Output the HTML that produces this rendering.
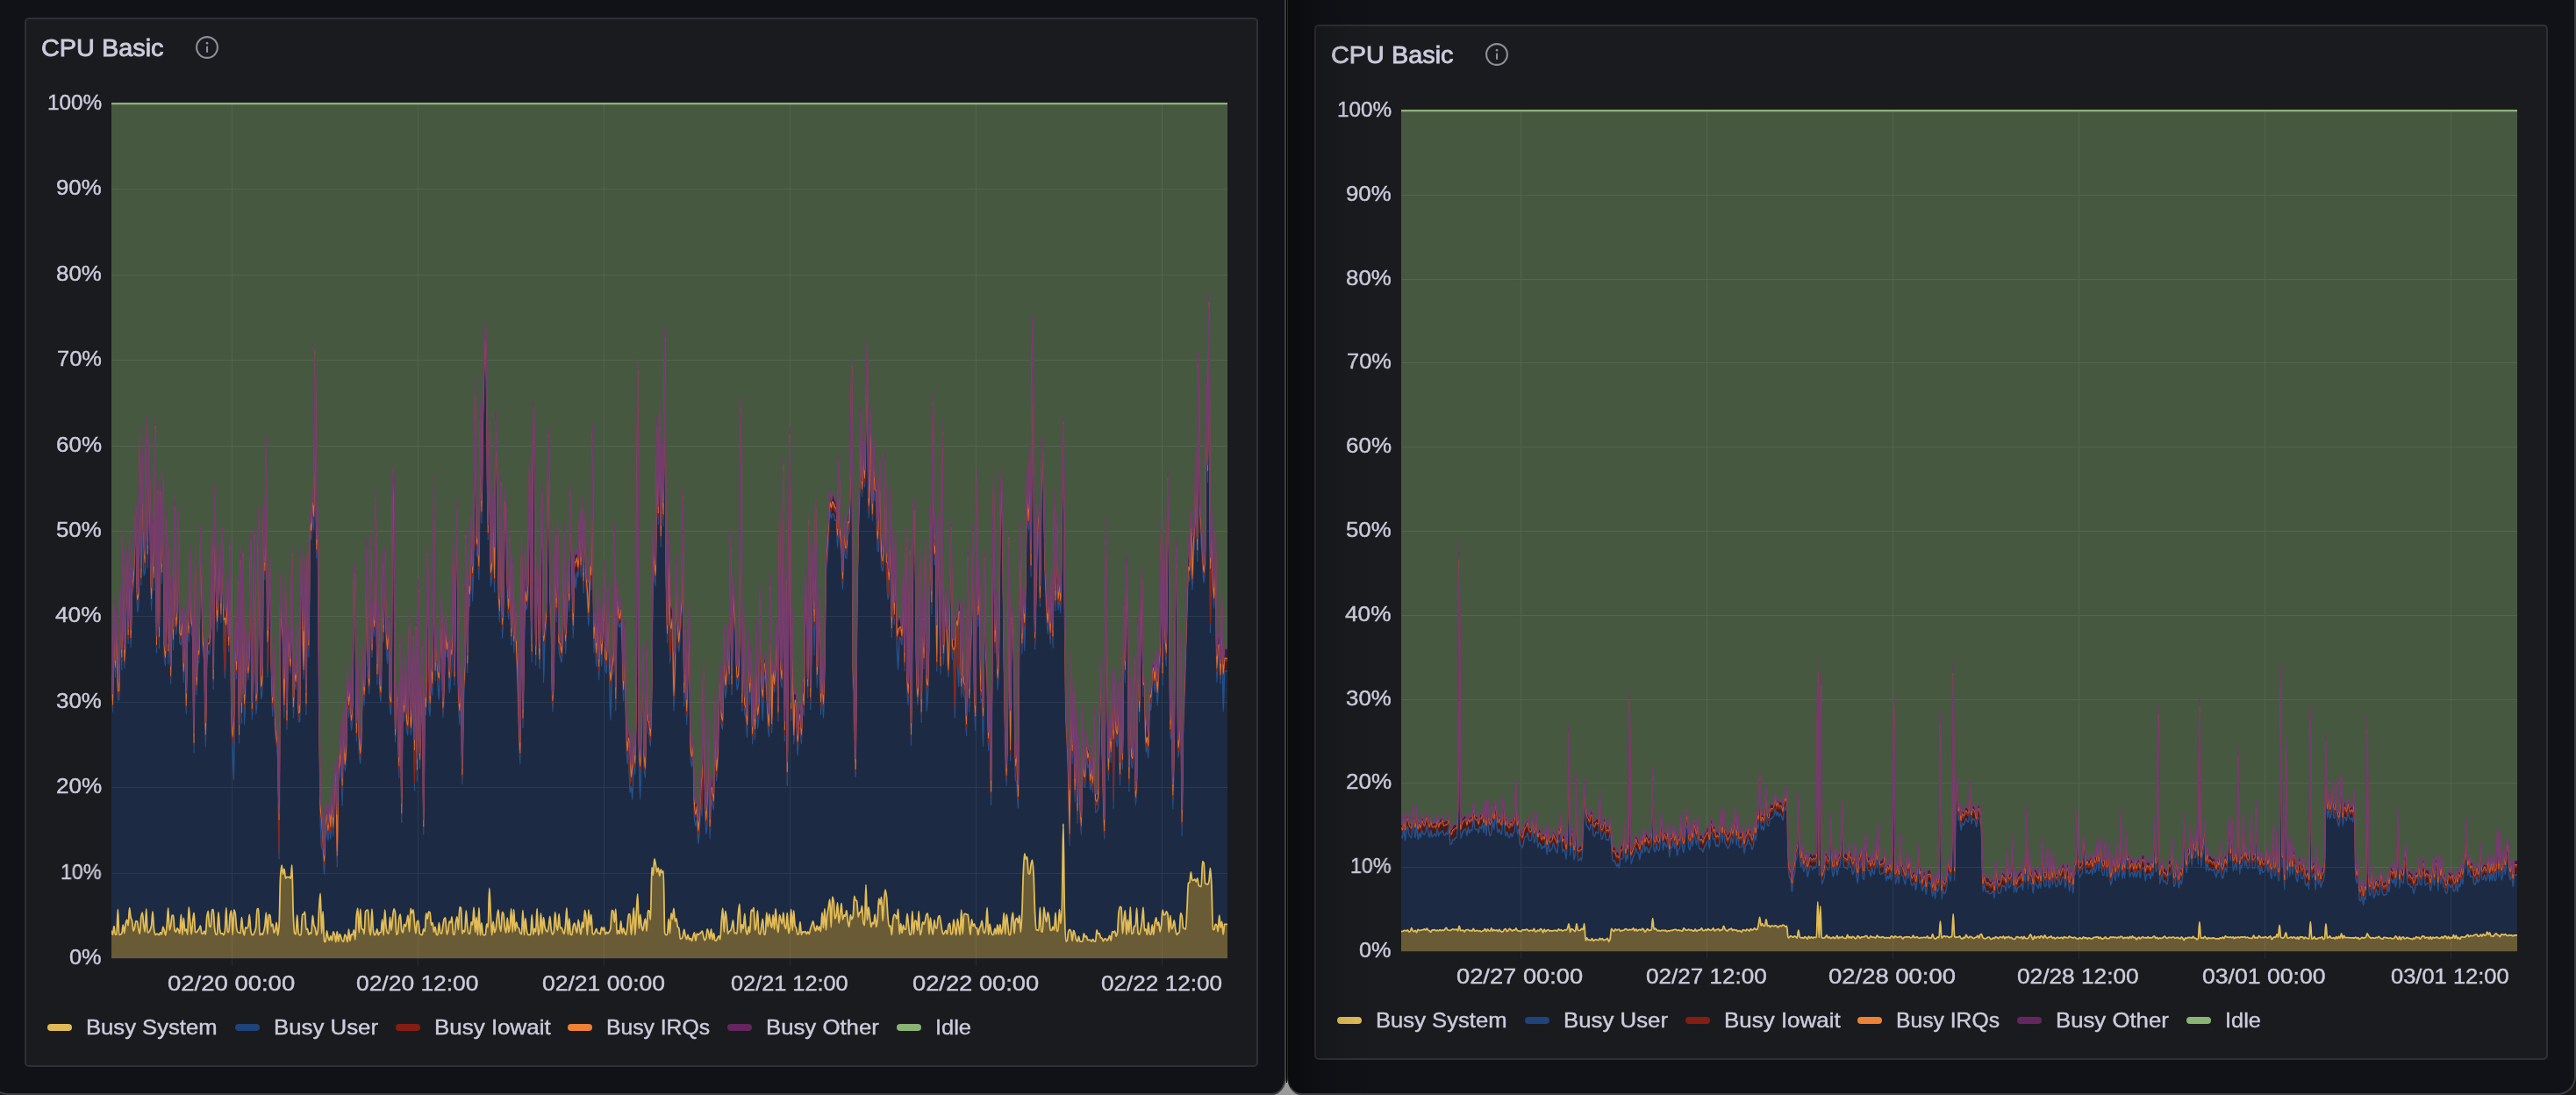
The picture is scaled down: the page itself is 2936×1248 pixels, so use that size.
<!DOCTYPE html>
<html><head><meta charset="utf-8"><title>CPU Basic</title>
<style>

html,body{margin:0;padding:0;background:#1b1a19;}
body{width:2936px;height:1248px;position:relative;overflow:hidden;font-family:"Liberation Sans",sans-serif;color:#ccccdc;}
.win{position:absolute;background:#111217;box-sizing:border-box;border:2px solid #3d3d42;}
#w1{left:-12px;top:-10px;width:1478px;height:1258px;border-radius:0 0 16px 21px / 0 0 21px 21px;}
#w2{left:1467px;top:-10px;width:1469px;height:1258px;border-radius:0 0 21px 16px / 0 0 21px 21px;border-left:1px solid #27282c;}
#gap{position:absolute;left:1440px;top:1200px;width:56px;height:48px;background:#9b9b9b;}
#blk{position:absolute;left:1466px;top:0;width:1px;height:1234px;background:#000;}
#shadow{position:absolute;left:1468px;top:0;width:90px;height:1246px;border-radius:0 0 0 16px / 0 0 0 21px;background:linear-gradient(90deg,rgba(0,0,0,0.36),rgba(0,0,0,0.24) 18%,rgba(0,0,0,0.10) 45%,rgba(0,0,0,0.03) 75%,rgba(0,0,0,0));pointer-events:none;}
.panel{position:absolute;box-sizing:border-box;background:#1a1b1f;border:2px solid #2e3036;border-radius:5px;}
.t{position:absolute;white-space:pre;will-change:transform;-webkit-text-stroke:0.4px #ccccdc;}
.title{font-weight:400;-webkit-text-stroke:0.85px #ccccdc;}
.ch{position:absolute;}
.pill{position:absolute;width:28px;height:8px;border-radius:4px;}
.info{position:absolute;width:26px;height:26px;}

</style></head><body>
<div id="gap"></div>
<div id="w1" class="win"></div><div id="w2" class="win"></div><div id="blk"></div>
<div class="panel" style="left:28px;top:20px;width:1406px;height:1196px"></div>
<div class="t title" style="left:46.6px;top:40.2px;font-size:28.4px;line-height:28.4px;transform:scaleX(1.0163);transform-origin:0 0;">CPU Basic</div>
<svg class="info" style="left:223px;top:41px" viewBox="0 0 26 26"><circle cx="13" cy="13" r="11.9" fill="none" stroke="#8e8e9b" stroke-width="2.1"/><rect x="12" y="11.6" width="2.1" height="7.4" rx="1" fill="#8e8e9b"/><circle cx="13.05" cy="8.2" r="1.35" fill="#8e8e9b"/></svg>
<svg class="ch" style="left:127px;top:118px" width="1272" height="974" viewBox="0 0 1272 974" overflow="visible">
<defs>
<clipPath id="cp0"><rect x="0" y="-1.3" width="1272" height="975.3"/></clipPath>
<path id="p0sys" d="M-6,980 L-6,943.0 L0,943.0c.49,1.5 .98,4.4 1.47,4.4c.49,0 .98,-9.8 1.47,-9.8c.49,0 .98,9.8 1.47,9.8c.49,0 .98,-.2 1.47,-.6c.49,-.4 .98,-28.4 1.47,-28.4c.49,0 .98,29.2 1.47,29.2c.49,0 .98,-.4 1.47,-.7c.49,-.3 .98,-.4 1.47,-.9c.49,-.6 .98,-9.8 1.47,-9.8c.49,0 .98,9.4 1.47,9.4c.49,0 .98,-8.6 1.47,-10.8c.49,-2.1 .98,-4.5 1.47,-4.5c.49,0 .98,6.7 1.47,6.7c.49,0 .98,-20.3 1.47,-20.3c.49,0 .98,9.1 1.47,11.0c.49,1.9 .98,1.9 1.47,3.8c.49,1.9 .98,11.7 1.47,11.7c.49,0 .98,-2.2 1.47,-4.0c.49,-1.7 .98,-7.6 1.47,-7.6c.49,0 .98,.3 1.47,.7c.49,.4 .98,6.9 1.47,9.0c.49,2.1 .98,4.8 1.47,4.8c.49,0 .98,-16.4 1.47,-19.0c.49,-2.6 .98,-4.9 1.47,-4.9c.49,0 .98,10.5 1.47,13.8c.49,3.4 .98,8.0 1.47,8.0c.49,0 .98,-26.2 1.47,-26.2c.49,0 .98,27.2 1.47,27.2c.49,0 .98,-.3 1.47,-.6c.49,-.3 .98,-1.5 1.47,-2.6c.49,-1.1 .98,-2.2 1.47,-4.5c.49,-2.4 .98,-16.4 1.47,-16.4c.49,0 .98,17.1 1.47,20.3c.49,3.2 .98,6.3 1.47,6.3c.49,0 .98,-1.2 1.47,-1.2c.49,0 .98,.1 1.47,.2c.49,.1 .98,1.2 1.47,1.2c.49,0 .98,-3.0 1.47,-3.0c.49,0 .98,2.2 1.47,2.2c.49,0 .98,-8.4 1.47,-8.4c.49,0 .98,2.6 1.47,4.2c.49,1.5 .98,5.2 1.47,5.2c.49,0 .98,-6.5 1.47,-11.3c.49,-4.8 .98,-19.6 1.47,-19.6c.49,0 .98,25.1 1.47,25.1c.49,0 .98,-2.8 1.47,-5.2c.49,-2.4 .98,-11.3 1.47,-11.5c.49,-.2 .98,-.3 1.47,-.3c.49,0 .98,16.2 1.47,17.3c.49,1.1 .98,1.9 1.47,1.9c.49,0 .98,-4.5 1.47,-4.5c.49,0 .98,1.4 1.47,2.4c.49,1.0 .98,3.8 1.47,3.8c.49,0 .98,-21.9 1.47,-21.9c.49,0 .98,23.4 1.47,23.4c.49,0 .98,-19.2 1.47,-19.2c.49,0 .98,14.8 1.47,14.8c.49,0 .98,-1.9 1.47,-1.9c.49,0 .98,5.8 1.47,5.8c.49,0 .98,-31.2 1.47,-31.2c.49,0 .98,11.2 1.47,16.4c.49,5.2 .98,14.7 1.47,14.7c.49,0 .98,-10.5 1.47,-14.4c.49,-3.9 .98,-10.0 1.47,-10.0c.49,0 .98,21.0 1.47,21.5c.49,.5 .98,.7 1.47,.7c.49,0 .98,-1.6 1.47,-2.3c.49,-.7 .98,-1.1 1.47,-1.9c.49,-.8 .98,-3.3 1.47,-3.3c.49,0 .98,8.8 1.47,8.9c.49,.1 .98,.2 1.47,.2c.49,0 .98,-3.2 1.47,-3.2c.49,0 .98,4.1 1.47,4.1c.49,0 .98,-16.6 1.47,-20.0c.49,-3.4 .98,-6.8 1.47,-6.8c.49,0 .98,16.5 1.47,17.2c.49,.7 .98,1.1 1.47,1.1c.49,0 .98,-19.8 1.47,-19.9c.49,-.0 .98,-.1 1.47,-.1c.49,0 .98,17.3 1.47,21.1c.49,3.7 .98,7.6 1.47,7.6c.49,0 .98,-.3 1.47,-1.0c.49,-.6 .98,-24.7 1.47,-24.7c.49,0 .98,16.5 1.47,19.3c.49,2.8 .98,5.3 1.47,5.3c.49,0 .98,-.6 1.47,-.6c.49,0 .98,2.0 1.47,2.0c.49,0 .98,-2.1 1.47,-4.9c.49,-2.7 .98,-26.4 1.47,-26.4c.49,0 .98,28.0 1.47,28.0c.49,0 .98,-.0 1.47,-.1c.49,-.1 .98,-16.8 1.47,-19.4c.49,-2.6 .98,-5.0 1.47,-5.0c.49,0 .98,27.6 1.47,27.6c.49,0 .98,-28.6 1.47,-28.6c.49,0 .98,2.0 1.47,4.2c.49,2.2 .98,13.8 1.47,16.3c.49,2.5 .98,4.6 1.47,5.0c.49,.4 .98,.4 1.47,.6c.49,.2 .98,.7 1.47,.7c.49,0 .98,-18.0 1.47,-18.0c.49,0 .98,12.2 1.47,14.8c.49,2.6 .98,5.3 1.47,5.3c.49,0 .98,-9.0 1.47,-9.0c.49,0 .98,1.3 1.47,1.3c.49,0 .98,-1.0 1.47,-2.4c.49,-1.4 .98,-13.4 1.47,-13.4c.49,0 .98,15.6 1.47,18.2c.49,2.6 .98,5.0 1.47,5.0c.49,0 .98,-.0 1.47,-.1c.49,-.1 .98,-2.0 1.47,-3.3c.49,-1.3 .98,-2.2 1.47,-4.8c.49,-2.6 .98,-21.4 1.47,-21.5c.49,-.1 .98,-.2 1.47,-.2c.49,0 .98,30.3 1.47,30.3c.49,0 .98,-2.1 1.47,-2.1c.49,0 .98,1.6 1.47,1.6c.49,0 .98,-2.1 1.47,-3.7c.49,-1.6 .98,-3.6 1.47,-6.6c.49,-3.1 .98,-14.9 1.47,-14.9c.49,0 .98,24.5 1.47,24.5c.49,0 .98,-22.4 1.47,-22.4c.49,0 .98,.4 1.47,1.1c.49,.7 .98,12.5 1.47,12.5c.49,0 .98,-2.8 1.47,-2.8c.49,0 .98,10.2 1.47,10.2c.49,0 .98,-1.5 1.47,-3.0c.49,-1.5 .98,-8.9 1.47,-8.9c.49,0 .98,14.6 1.47,14.6c.49,0 .98,-4.9 1.47,-11.1c.49,-6.2 .98,-47.5 1.47,-54.9c.49,-7.4 .98,-13.9 1.47,-13.9c.49,0 .98,10.3 1.47,10.3c.49,0 .98,-5.9 1.47,-5.9c.49,0 .98,10.5 1.47,10.5c.49,0 .98,-1.6 1.47,-1.6c.49,0 .98,.4 1.47,.4c.49,0 .98,-.3 1.47,-.3c.49,0 .98,1.7 1.47,1.7c.49,0 .98,-15.2 1.47,-15.2c.49,0 .98,46.9 1.47,57.0c.49,10.1 .98,20.0 1.47,20.7c.49,.7 .98,1.1 1.47,1.1c.49,0 .98,-21.8 1.47,-21.8c.49,0 .98,18.7 1.47,20.3c.49,1.6 .98,2.7 1.47,2.7c.49,0 .98,-.4 1.47,-1.1c.49,-.7 .98,-22.8 1.47,-22.8c.49,0 .98,.1 1.47,.1c.49,0 .98,-3.1 1.47,-3.1c.49,0 .98,20.4 1.47,20.4c.49,0 .98,-1.0 1.47,-1.0c.49,0 .98,6.9 1.47,6.9c.49,0 .98,-2.4 1.47,-2.4c.49,0 .98,1.1 1.47,1.1c.49,0 .98,-20.7 1.47,-20.7c.49,0 .98,9.3 1.47,11.0c.49,1.7 .98,1.7 1.47,3.3c.49,1.6 .98,8.1 1.47,8.1c.49,0 .98,-2.2 1.47,-5.0c.49,-2.8 .98,-18.8 1.47,-25.6c.49,-6.8 .98,-16.9 1.47,-16.9c.49,0 .98,45.5 1.47,45.5c.49,0 .98,-25.0 1.47,-25.0c.49,0 .98,33.6 1.47,34.0c.49,.4 .98,.7 1.47,.7c.49,0 .98,-12.5 1.47,-12.5c.49,0 .98,5.9 1.47,7.5c.49,1.6 .98,3.4 1.47,3.4c.49,0 .98,-5.3 1.47,-5.3c.49,0 .98,5.6 1.47,5.6c.49,0 .98,-10.3 1.47,-10.3c.49,0 .98,1.6 1.47,3.1c.49,1.5 .98,8.7 1.47,8.7c.49,0 .98,-12.0 1.47,-12.0c.49,0 .98,11.3 1.47,11.3c.49,0 .98,-8.3 1.47,-8.3c.49,0 .98,2.0 1.47,3.3c.49,1.2 .98,3.9 1.47,4.4c.49,.5 .98,.8 1.47,.8c.49,0 .98,-8.0 1.47,-8.0c.49,0 .98,1.1 1.47,2.2c.49,1.1 .98,6.2 1.47,6.2c.49,0 .98,-14.5 1.47,-14.5c.49,0 .98,13.2 1.47,13.2c.49,0 .98,-7.3 1.47,-7.3c.49,0 .98,.6 1.47,.6c.49,0 .98,-5.7 1.47,-5.7c.49,0 .98,11.2 1.47,11.2c.49,0 .98,-22.8 1.47,-27.2c.49,-4.4 .98,-8.7 1.47,-8.7c.49,0 .98,27.9 1.47,27.9c.49,0 .98,-26.9 1.47,-26.9c.49,0 .98,21.9 1.47,22.3c.49,.4 .98,.3 1.47,.7c.49,.4 .98,5.4 1.47,5.4c.49,0 .98,-24.5 1.47,-25.6c.49,-1.1 .98,-1.6 1.47,-1.7c.49,-.1 .98,-.2 1.47,-.2c.49,0 .98,19.3 1.47,22.6c.49,3.2 .98,6.2 1.47,6.2c.49,0 .98,-29.7 1.47,-29.7c.49,0 .98,21.2 1.47,24.2c.49,2.9 .98,5.4 1.47,5.4c.49,0 .98,-.9 1.47,-1.8c.49,-.9 .98,-5.1 1.47,-5.1c.49,0 .98,7.0 1.47,7.0c.49,0 .98,-2.9 1.47,-3.1c.49,-.2 .98,-.1 1.47,-.3c.49,-.2 .98,-14.7 1.47,-14.7c.49,0 .98,18.2 1.47,18.2c.49,0 .98,-29.1 1.47,-29.1c.49,0 .98,16.9 1.47,20.0c.49,3.1 .98,5.3 1.47,6.0c.49,.7 .98,1.3 1.47,1.3c.49,0 .98,-18.9 1.47,-18.9c.49,0 .98,15.0 1.47,15.0c.49,0 .98,-10.1 1.47,-14.1c.49,-4.0 .98,-10.4 1.47,-10.4c.49,0 .98,1.8 1.47,4.2c.49,2.4 .98,25.4 1.47,25.4c.49,0 .98,-.9 1.47,-2.1c.49,-1.3 .98,-14.6 1.47,-16.9c.49,-2.3 .98,-4.3 1.47,-4.3c.49,0 .98,16.2 1.47,17.9c.49,1.7 .98,3.1 1.47,3.1c.49,0 .98,-9.7 1.47,-9.7c.49,0 .98,2.5 1.47,2.5c.49,0 .98,-3.4 1.47,-5.4c.49,-2.1 .98,-7.3 1.47,-7.3c.49,0 .98,18.9 1.47,18.9c.49,0 .98,-26.7 1.47,-26.7c.49,0 .98,5.5 1.47,5.5c.49,0 .98,-4.1 1.47,-4.1c.49,0 .98,10.5 1.47,15.0c.49,4.5 .98,12.1 1.47,12.1c.49,0 .98,-12.7 1.47,-13.4c.49,-.7 .98,-1.1 1.47,-1.1c.49,0 .98,13.6 1.47,14.5c.49,.9 .98,1.4 1.47,1.5c.49,.1 .98,.1 1.47,.1c.49,0 .98,-6.5 1.47,-6.5c.49,0 .98,2.6 1.47,2.6c.49,0 .98,-20.6 1.47,-20.6c.49,0 .98,6.3 1.47,6.3c.49,0 .98,-8.2 1.47,-8.2c.49,0 .98,.4 1.47,.9c.49,.6 .98,14.3 1.47,14.3c.49,0 .98,-2.7 1.47,-2.7c.49,0 .98,10.6 1.47,10.6c.49,0 .98,-5.8 1.47,-5.8c.49,0 .98,8.2 1.47,8.6c.49,.5 .98,.7 1.47,.7c.49,0 .98,-14.1 1.47,-14.1c.49,0 .98,11.3 1.47,11.8c.49,.4 .98,.7 1.47,.7c.49,0 .98,-5.9 1.47,-8.7c.49,-2.8 .98,-7.3 1.47,-8.1c.49,-.8 .98,-1.4 1.47,-1.4c.49,0 .98,19.2 1.47,19.2c.49,0 .98,-1.7 1.47,-3.5c.49,-1.8 .98,-11.5 1.47,-11.5c.49,0 .98,1.6 1.47,1.6c.49,0 .98,-6.9 1.47,-6.9c.49,0 .98,20.2 1.47,20.3c.49,.1 .98,.2 1.47,.2c.49,0 .98,-11.5 1.47,-14.4c.49,-2.8 .98,-6.1 1.47,-6.1c.49,0 .98,14.8 1.47,14.8c.49,0 .98,-25.8 1.47,-25.8c.49,0 .98,.3 1.47,.8c.49,.5 .98,29.6 1.47,29.6c.49,0 .98,-3.9 1.47,-3.9c.49,0 .98,1.8 1.47,1.8c.49,0 .98,-24.3 1.47,-24.3c.49,0 .98,13.9 1.47,17.8c.49,3.9 .98,8.7 1.47,8.7c.49,0 .98,-.0 1.47,-.1c.49,-.1 .98,-13.3 1.47,-13.3c.49,0 .98,3.1 1.47,3.1c.49,0 .98,-19.9 1.47,-19.9c.49,0 .98,28.4 1.47,28.4c.49,0 .98,-17.0 1.47,-17.0c.49,0 .98,20.2 1.47,20.2c.49,0 .98,-31.1 1.47,-31.1c.49,0 .98,31.3 1.47,31.3c.49,0 .98,-14.1 1.47,-14.1c.49,0 .98,12.5 1.47,13.1c.49,.6 .98,1.0 1.47,1.0c.49,0 .98,-.2 1.47,-.7c.49,-.4 .98,-12.4 1.47,-12.4c.49,0 .98,4.0 1.47,4.0c.49,0 .98,-44.5 1.47,-44.5c.49,0 .98,19.2 1.47,28.1c.49,8.9 .98,25.4 1.47,25.4c.49,0 .98,-15.3 1.47,-15.3c.49,0 .98,12.3 1.47,12.3c.49,0 .98,-1.9 1.47,-3.9c.49,-2.0 .98,-10.7 1.47,-14.1c.49,-3.4 .98,-8.0 1.47,-8.0c.49,0 .98,15.9 1.47,18.9c.49,2.9 .98,5.8 1.47,5.8c.49,0 .98,-22.0 1.47,-22.0c.49,0 .98,.9 1.47,2.2c.49,1.3 .98,13.0 1.47,15.8c.49,2.8 .98,5.7 1.47,5.7c.49,0 .98,-17.0 1.47,-17.0c.49,0 .98,16.3 1.47,16.3c.49,0 .98,-3.8 1.47,-7.3c.49,-3.5 .98,-19.6 1.47,-19.6c.49,0 .98,27.0 1.47,27.0c.49,0 .98,-25.9 1.47,-25.9c.49,0 .98,24.3 1.47,24.3c.49,0 .98,-9.8 1.47,-9.8c.49,0 .98,5.2 1.47,5.8c.49,.6 .98,.4 1.47,1.0c.49,.6 .98,5.0 1.47,5.6c.49,.6 .98,1.1 1.47,1.1c.49,0 .98,-27.2 1.47,-27.2c.49,0 .98,28.2 1.47,28.2c.49,0 .98,-19.0 1.47,-19.0c.49,0 .98,10.8 1.47,13.4c.49,2.6 .98,5.4 1.47,5.4c.49,0 .98,-.4 1.47,-.4c.49,0 .98,.6 1.47,.6c.49,0 .98,-23.1 1.47,-23.1c.49,0 .98,22.6 1.47,22.6c.49,0 .98,-6.8 1.47,-6.8c.49,0 .98,3.7 1.47,3.7c.49,0 .98,-26.4 1.47,-26.4c.49,0 .98,30.1 1.47,30.1c.49,0 .98,-2.5 1.47,-5.2c.49,-2.8 .98,-19.7 1.47,-19.7c.49,0 .98,23.4 1.47,23.4c.49,0 .98,-18.7 1.47,-18.7c.49,0 .98,8.6 1.47,10.6c.49,2.0 .98,3.5 1.47,4.3c.49,.8 .98,1.5 1.47,1.5c.49,0 .98,-3.4 1.47,-6.1c.49,-2.7 .98,-11.6 1.47,-11.6c.49,0 .98,13.3 1.47,15.9c.49,2.6 .98,5.0 1.47,5.0c.49,0 .98,-1.1 1.47,-2.8c.49,-1.7 .98,-22.7 1.47,-22.7c.49,0 .98,12.4 1.47,15.1c.49,2.7 .98,5.6 1.47,5.6c.49,0 .98,-18.7 1.47,-18.7c.49,0 .98,16.1 1.47,16.1c.49,0 .98,-.7 1.47,-.7c.49,0 .98,3.3 1.47,4.5c.49,1.2 .98,2.8 1.47,2.8c.49,0 .98,-5.0 1.47,-9.3c.49,-4.2 .98,-20.1 1.47,-20.1c.49,0 .98,30.1 1.47,30.1c.49,0 .98,-18.3 1.47,-18.3c.49,0 .98,17.9 1.47,18.3c.49,.4 .98,.6 1.47,.6c.49,0 .98,-8.0 1.47,-9.8c.49,-1.8 .98,-3.7 1.47,-3.7c.49,0 .98,4.2 1.47,6.0c.49,1.8 .98,5.0 1.47,5.0c.49,0 .98,-14.9 1.47,-14.9c.49,0 .98,6.3 1.47,9.1c.49,2.8 .98,7.8 1.47,7.8c.49,0 .98,-14.0 1.47,-14.0c.49,0 .98,6.2 1.47,6.2c.49,0 .98,-20.0 1.47,-20.0c.49,0 .98,3.8 1.47,7.4c.49,3.7 .98,20.9 1.47,20.9c.49,0 .98,-28.8 1.47,-28.8c.49,0 .98,17.7 1.47,17.7c.49,0 .98,-12.1 1.47,-12.1c.49,0 .98,20.2 1.47,21.1c.49,.9 .98,1.4 1.47,1.4c.49,0 .98,-1.6 1.47,-2.7c.49,-1.0 .98,-3.8 1.47,-3.8c.49,0 .98,4.8 1.47,4.8c.49,.1 .98,0 1.47,.1c.49,.1 .98,1.4 1.47,1.4c.49,0 .98,-7.9 1.47,-7.9c.49,0 .98,3.4 1.47,3.4c.49,0 .98,-3.4 1.47,-3.4c.49,0 .98,7.9 1.47,7.9c.49,0 .98,-2.5 1.47,-2.5c.49,0 .98,1.6 1.47,1.6c.49,0 .98,-1.0 1.47,-1.9c.49,-.8 .98,-1.7 1.47,-3.9c.49,-2.2 .98,-20.7 1.47,-20.7c.49,0 .98,.5 1.47,1.2c.49,.7 .98,12.4 1.47,12.4c.49,0 .98,-14.8 1.47,-14.8c.49,0 .98,28.4 1.47,28.4c.49,0 .98,-4.1 1.47,-4.1c.49,0 .98,3.8 1.47,3.8c.49,0 .98,-14.7 1.47,-14.7c.49,0 .98,14.2 1.47,14.2c.49,0 .98,-5.9 1.47,-5.9c.49,0 .98,4.1 1.47,5.2c.49,1.1 .98,2.5 1.47,2.5c.49,0 .98,-5.8 1.47,-9.6c.49,-3.8 .98,-14.1 1.47,-14.1c.49,0 .98,0 1.47,.0c.49,0 .98,23.5 1.47,23.5c.49,0 .98,-8.4 1.47,-13.5c.49,-5.0 .98,-17.3 1.47,-17.3c.49,0 .98,31.0 1.47,31.0c.49,0 .98,-17.1 1.47,-24.9c.49,-7.7 .98,-21.8 1.47,-21.8c.49,0 .98,39.3 1.47,39.3c.49,0 .98,-15.9 1.47,-15.9c.49,0 .98,10.7 1.47,13.2c.49,2.5 .98,5.2 1.47,5.2c.49,0 .98,-5.9 1.47,-8.1c.49,-2.2 .98,-5.5 1.47,-5.5c.49,0 .98,14.3 1.47,14.3c.49,0 .98,-23.8 1.47,-23.8c.49,0 .98,.2 1.47,.6c.49,.4 .98,10.0 1.47,10.0c.49,0 .98,-59.6 1.47,-59.6c.49,0 .98,8.7 1.47,8.7c.49,0 .98,-18.4 1.47,-18.4c.49,0 .98,4.1 1.47,6.5c.49,2.5 .98,8.5 1.47,8.5c.49,0 .98,-4.7 1.47,-4.7c.49,0 .98,9.1 1.47,9.1c.49,0 .98,-7.5 1.47,-7.5c.49,0 .98,3.7 1.47,3.7c.49,0 .98,-1.6 1.47,-1.6c.49,0 .98,68.9 1.47,70.4c.49,1.5 .98,2.3 1.47,2.3c.49,0 .98,-.2 1.47,-.5c.49,-.3 .98,-17.8 1.47,-17.8c.49,0 .98,16.5 1.47,16.5c.49,0 .98,-22.8 1.47,-22.8c.49,0 .98,6.7 1.47,6.7c.49,0 .98,-12.3 1.47,-12.3c.49,0 .98,14.7 1.47,14.7c.49,0 .98,-3.3 1.47,-3.3c.49,0 .98,8.5 1.47,9.4c.49,.9 .98,.6 1.47,1.5c.49,.9 .98,12.3 1.47,12.3c.49,0 .98,-.1 1.47,-.3c.49,-.2 .98,-1.2 1.47,-2.5c.49,-1.3 .98,-7.8 1.47,-7.8c.49,0 .98,5.5 1.47,7.2c.49,1.7 .98,4.0 1.47,4.0c.49,0 .98,-5.3 1.47,-5.3c.49,0 .98,5.6 1.47,5.6c.49,0 .98,-1.6 1.47,-1.6c.49,0 .98,3.1 1.47,3.1c.49,0 .98,-3.7 1.47,-5.2c.49,-1.5 .98,-4.2 1.47,-4.2c.49,0 .98,9.3 1.47,9.3c.49,0 .98,-8.2 1.47,-8.2c.49,0 .98,1.3 1.47,1.3c.49,0 .98,-.9 1.47,-1.3c.49,-.4 .98,-.6 1.47,-1.1c.49,-.5 .98,-1.9 1.47,-1.9c.49,0 .98,4.0 1.47,5.8c.49,1.7 .98,4.8 1.47,4.8c.49,0 .98,-1.0 1.47,-2.2c.49,-1.2 .98,-10.7 1.47,-10.7c.49,0 .98,2.7 1.47,4.5c.49,1.8 .98,6.8 1.47,6.8c.49,0 .98,-11.2 1.47,-11.2c.49,0 .98,12.0 1.47,12.0c.49,0 .98,-7.3 1.47,-7.3c.49,0 .98,8.6 1.47,8.6c.49,0 .98,-.1 1.47,-.1c.49,-.1 .98,-2.6 1.47,-3.4c.49,-.9 .98,-2.1 1.47,-2.1c.49,0 .98,4.3 1.47,4.3c.49,0 .98,-16.0 1.47,-21.7c.49,-5.7 .98,-14.0 1.47,-14.0c.49,0 .98,27.1 1.47,27.1c.49,0 .98,-23.9 1.47,-23.9c.49,0 .98,5.2 1.47,9.2c.49,3.9 .98,16.7 1.47,16.7c.49,0 .98,-2.6 1.47,-2.9c.49,-.3 .98,-.2 1.47,-.6c.49,-.4 .98,-2.7 1.47,-4.5c.49,-1.9 .98,-7.3 1.47,-7.3c.49,0 .98,14.6 1.47,14.6c.49,0 .98,-.5 1.47,-.5c.49,0 .98,1.3 1.47,1.3c.49,0 .98,-17.9 1.47,-22.9c.49,-5.0 .98,-11.1 1.47,-11.1c.49,0 .98,32.6 1.47,32.6c.49,0 .98,-9.3 1.47,-9.3c.49,0 .98,4.6 1.47,4.6c.49,0 .98,-16.8 1.47,-16.8c.49,0 .98,16.9 1.47,19.3c.49,2.4 .98,4.3 1.47,4.3c.49,0 .98,-8.9 1.47,-8.9c.49,0 .98,7.0 1.47,7.0c.49,0 .98,-26.0 1.47,-26.0c.49,0 .98,1.5 1.47,1.5c.49,0 .98,-4.3 1.47,-4.3c.49,0 .98,25.8 1.47,25.8c.49,0 .98,-2.8 1.47,-5.6c.49,-2.8 .98,-16.7 1.47,-16.7c.49,0 .98,24.9 1.47,25.7c.49,.8 .98,1.3 1.47,1.3c.49,0 .98,-6.4 1.47,-9.3c.49,-2.9 .98,-8.1 1.47,-8.1c.49,0 .98,17.5 1.47,17.5c.49,.1 .98,.1 1.47,.1c.49,0 .98,-24.9 1.47,-24.9c.49,0 .98,16.0 1.47,16.0c.49,0 .98,-14.4 1.47,-14.4c.49,0 .98,7.9 1.47,10.2c.49,2.3 .98,5.2 1.47,5.2c.49,0 .98,-14.6 1.47,-14.6c.49,0 .98,16.5 1.47,16.5c.49,0 .98,-23.4 1.47,-23.4c.49,0 .98,14.6 1.47,18.5c.49,3.9 .98,8.7 1.47,8.7c.49,0 .98,-20.3 1.47,-20.3c.49,0 .98,3.6 1.47,5.3c.49,1.7 .98,4.9 1.47,4.9c.49,0 .98,-12.7 1.47,-12.7c.49,0 .98,14.1 1.47,15.7c.49,1.6 .98,2.7 1.47,2.7c.49,0 .98,-18.0 1.47,-18.0c.49,0 .98,23.4 1.47,23.4c.49,0 .98,-2.8 1.47,-5.9c.49,-3.1 .98,-21.6 1.47,-21.6c.49,0 .98,24.0 1.47,24.0c.49,0 .98,-22.5 1.47,-22.5c.49,0 .98,15.3 1.47,17.0c.49,1.7 .98,1.6 1.47,3.1c.49,1.4 .98,7.1 1.47,7.1c.49,0 .98,-.3 1.47,-.8c.49,-.5 .98,-13.7 1.47,-13.7c.49,0 .98,14.7 1.47,14.7c.49,0 .98,-3.4 1.47,-3.4c.49,0 .98,.5 1.47,.5c.49,0 .98,-.8 1.47,-.8c.49,0 .98,3.0 1.47,3.0c.49,0 .98,-2.6 1.47,-2.6c.49,0 .98,2.5 1.47,2.5c.49,0 .98,-4.3 1.47,-6.0c.49,-1.7 .98,-3.1 1.47,-4.5c.49,-1.4 .98,-4.0 1.47,-4.0c.49,0 .98,5.1 1.47,6.9c.49,1.7 .98,4.2 1.47,4.2c.49,0 .98,-5.9 1.47,-5.9c.49,0 .98,4.9 1.47,4.9c.49,0 .98,-4.1 1.47,-4.1c.49,0 .98,5.6 1.47,5.6c.49,0 .98,-21.4 1.47,-21.4c.49,0 .98,17.5 1.47,17.5c.49,0 .98,-22.0 1.47,-22.0c.49,0 .98,24.5 1.47,24.5c.49,0 .98,-13.6 1.47,-17.5c.49,-4.0 .98,-6.0 1.47,-9.0c.49,-2.9 .98,-8.6 1.47,-8.6c.49,0 .98,31.8 1.47,31.8c.49,0 .98,-34.7 1.47,-34.7c.49,0 .98,2.5 1.47,5.3c.49,2.8 .98,19.6 1.47,19.6c.49,0 .98,-1.8 1.47,-3.8c.49,-2.0 .98,-14.4 1.47,-14.4c.49,0 .98,23.2 1.47,23.2c.49,0 .98,-6.1 1.47,-9.8c.49,-3.7 .98,-13.0 1.47,-13.0c.49,0 .98,19.0 1.47,19.0c.49,0 .98,-5.3 1.47,-5.3c.49,0 .98,1.1 1.47,1.1c.49,0 .98,-6.5 1.47,-6.5c.49,0 .98,10.6 1.47,13.2c.49,2.6 .98,5.5 1.47,5.5c.49,0 .98,-13.7 1.47,-13.7c.49,0 .98,5.2 1.47,5.2c.49,0 .98,-1.4 1.47,-3.4c.49,-2.0 .98,-23.1 1.47,-23.1c.49,0 .98,4.8 1.47,5.0c.49,.2 .98,.1 1.47,.4c.49,.2 .98,18.4 1.47,18.4c.49,0 .98,-4.8 1.47,-5.0c.49,-.2 .98,-.1 1.47,-.3c.49,-.2 .98,-7.5 1.47,-7.5c.49,0 .98,18.2 1.47,19.8c.49,1.5 .98,2.6 1.47,2.6c.49,0 .98,-46.4 1.47,-46.4c.49,0 .98,40.5 1.47,40.5c.49,0 .98,-15.0 1.47,-15.0c.49,0 .98,7.1 1.47,10.9c.49,3.8 .98,11.9 1.47,11.9c.49,0 .98,-5.1 1.47,-5.1c.49,0 .98,1.5 1.47,1.5c.49,0 .98,-10.8 1.47,-10.8c.49,0 .98,14.5 1.47,14.5c.49,0 .98,-4.6 1.47,-8.9c.49,-4.3 .98,-23.6 1.47,-23.6c.49,0 .98,6.6 1.47,6.6c.49,0 .98,-8.3 1.47,-8.3c.49,0 .98,27.1 1.47,27.1c.49,0 .98,-16.5 1.47,-22.1c.49,-5.5 .98,-13.3 1.47,-13.3c.49,0 .98,3.8 1.47,7.6c.49,3.8 .98,17.4 1.47,22.5c.49,5.1 .98,11.7 1.47,11.7c.49,0 .98,-1.2 1.47,-1.2c.49,0 .98,10.9 1.47,10.9c.49,0 .98,-14.7 1.47,-17.7c.49,-2.9 .98,-5.9 1.47,-5.9c.49,0 .98,.7 1.47,1.4c.49,.7 .98,3.7 1.47,3.7c.49,0 .98,-11.0 1.47,-11.0c.49,0 .98,28.5 1.47,28.5c.49,0 .98,-12.0 1.47,-12.0c.49,0 .98,10.7 1.47,10.7c.49,0 .98,-9.1 1.47,-9.1c.49,0 .98,5.0 1.47,5.0c.49,0 .98,-.0 1.47,-.1c.49,-.1 .98,-17.9 1.47,-17.9c.49,0 .98,8.3 1.47,12.4c.49,4.0 .98,11.8 1.47,11.8c.49,0 .98,-.2 1.47,-.6c.49,-.4 .98,-26.4 1.47,-26.4c.49,0 .98,26.3 1.47,26.3c.49,0 .98,-15.6 1.47,-15.6c.49,0 .98,.3 1.47,.8c.49,.5 .98,10.4 1.47,10.4c.49,0 .98,-22.1 1.47,-22.1c.49,0 .98,27.4 1.47,27.4c.49,0 .98,-2.1 1.47,-4.1c.49,-2.0 .98,-10.8 1.47,-10.8c.49,0 .98,2.6 1.47,2.6c.49,0 .98,-2.7 1.47,-4.5c.49,-1.8 .98,-6.2 1.47,-6.8c.49,-.6 .98,-1.0 1.47,-1.0c.49,0 .98,23.8 1.47,23.8c.49,0 .98,-18.9 1.47,-18.9c.49,0 .98,10.3 1.47,13.1c.49,2.8 .98,6.1 1.47,6.1c.49,0 .98,-16.6 1.47,-16.6c.49,0 .98,8.4 1.47,8.8c.49,.5 .98,.8 1.47,.8c.49,0 .98,-11.5 1.47,-12.6c.49,-1.2 .98,-2.0 1.47,-2.0c.49,0 .98,4.6 1.47,7.3c.49,2.7 .98,7.3 1.47,9.4c.49,2.0 .98,4.5 1.47,4.5c.49,0 .98,-1.1 1.47,-1.8c.49,-.7 .98,-2.6 1.47,-2.6c.49,0 .98,4.3 1.47,4.3c.49,0 .98,-9.4 1.47,-10.4c.49,-1.1 .98,-1.9 1.47,-1.9c.49,0 .98,12.6 1.47,12.6c.49,0 .98,-.5 1.47,-1.4c.49,-.9 .98,-15.4 1.47,-15.4c.49,0 .98,5.8 1.47,8.7c.49,2.9 .98,8.8 1.47,8.8c.49,0 .98,-18.2 1.47,-18.2c.49,0 .98,5.7 1.47,8.7c.49,3.0 .98,9.5 1.47,9.5c.49,0 .98,-28.7 1.47,-28.7c.49,0 .98,27.6 1.47,27.6c.49,0 .98,-22.6 1.47,-22.8c.49,-.2 .98,-.3 1.47,-.3c.49,0 .98,.6 1.47,.7c.49,.1 .98,.1 1.47,.2c.49,.2 .98,7.7 1.47,11.5c.49,3.8 .98,11.5 1.47,11.5c.49,0 .98,-17.6 1.47,-17.6c.49,0 .98,7.9 1.47,7.9c.49,0 .98,-2.9 1.47,-2.9c.49,0 .98,4.6 1.47,4.7c.49,.1 .98,0 1.47,.1c.49,.1 .98,7.9 1.47,7.9c.49,0 .98,-6.1 1.47,-7.5c.49,-1.4 .98,-1.6 1.47,-2.9c.49,-1.3 .98,-5.7 1.47,-5.7c.49,0 .98,10.9 1.47,12.1c.49,1.2 .98,2.0 1.47,2.0c.49,0 .98,-3.2 1.47,-6.6c.49,-3.4 .98,-22.2 1.47,-22.2c.49,0 .98,30.5 1.47,30.5c.49,0 .98,-12.1 1.47,-12.1c.49,0 .98,6.5 1.47,8.3c.49,1.8 .98,4.1 1.47,4.1c.49,0 .98,-.2 1.47,-.4c.49,-.3 .98,-6.8 1.47,-6.8c.49,0 .98,6.4 1.47,6.4c.49,0 .98,-10.8 1.47,-10.8c.49,0 .98,11.0 1.47,11.0c.49,0 .98,-11.2 1.47,-11.2c.49,0 .98,11.0 1.47,11.0c.49,0 .98,-3.1 1.47,-6.2c.49,-3.1 .98,-18.0 1.47,-18.0c.49,0 .98,24.2 1.47,24.2c.49,0 .98,-22.6 1.47,-22.6c.49,0 .98,7.5 1.47,11.3c.49,3.9 .98,11.7 1.47,11.9c.49,.1 .98,.2 1.47,.2c.49,0 .98,-14.3 1.47,-17.8c.49,-3.6 .98,-7.6 1.47,-7.6c.49,0 .98,23.9 1.47,23.9c.49,0 .98,-13.8 1.47,-15.2c.49,-1.4 .98,-2.4 1.47,-2.4c.49,0 .98,5.5 1.47,5.5c.49,0 .98,-8.5 1.47,-8.5c.49,0 .98,19.0 1.47,19.0c.49,0 .98,-11.2 1.47,-20.7c.49,-9.5 .98,-35.7 1.47,-45.9c.49,-10.2 .98,-22.9 1.47,-22.9c.49,0 .98,6.3 1.47,6.3c.49,0 .98,-2.5 1.47,-2.5c.49,0 .98,18.2 1.47,18.7c.49,.5 .98,.8 1.47,.8c.49,0 .98,-8.7 1.47,-11.0c.49,-2.3 .98,-5.0 1.47,-5.0c.49,0 .98,8.1 1.47,15.8c.49,7.7 .98,33.5 1.47,42.9c.49,9.4 .98,20.8 1.47,20.9c.49,.1 .98,.1 1.47,.2c.49,.1 .98,.5 1.47,.5c.49,0 .98,-26.4 1.47,-26.4c.49,0 .98,27.7 1.47,27.9c.49,.2 .98,.2 1.47,.2c.49,0 .98,-28.4 1.47,-28.4c.49,0 .98,8.5 1.47,11.1c.49,2.5 .98,5.8 1.47,5.8c.49,0 .98,-10.7 1.47,-10.7c.49,0 .98,2.6 1.47,5.2c.49,2.6 .98,14.7 1.47,14.9c.49,.2 .98,.3 1.47,.3c.49,0 .98,-4.2 1.47,-4.2c.49,0 .98,3.9 1.47,3.9c.49,0 .98,-20.0 1.47,-20.0c.49,0 .98,21.2 1.47,21.2c.49,0 .98,0 1.47,.0c.49,0 .98,-24.6 1.47,-24.6c.49,0 .98,15.9 1.47,15.9c.49,0 .98,-8.2 1.47,-18.6c.49,-10.4 .98,-95.2 1.47,-95.2c.49,0 .98,82.7 1.47,99.8c.49,17.1 .98,34.6 1.47,34.6c.49,0 .98,-.4 1.47,-1.1c.49,-.6 .98,-9.0 1.47,-10.3c.49,-1.3 .98,-2.3 1.47,-2.3c.49,0 .98,.9 1.47,2.1c.49,1.1 .98,10.8 1.47,10.8c.49,0 .98,-11.9 1.47,-11.9c.49,0 .98,2.2 1.47,3.8c.49,1.6 .98,5.5 1.47,6.6c.49,1.1 .98,2.2 1.47,2.2c.49,0 .98,-6.0 1.47,-6.0c.49,0 .98,6.1 1.47,6.1c.49,0 .98,-.1 1.47,-.1c.49,-.0 .98,-.1 1.47,-.2c.49,-.1 .98,-9.1 1.47,-9.1c.49,0 .98,4.2 1.47,4.2c.49,0 .98,-1.1 1.47,-1.1c.49,0 .98,4.7 1.47,4.7c.49,0 .98,-.5 1.47,-.5c.49,0 .98,.1 1.47,.3c.49,.2 .98,1.7 1.47,1.7c.49,0 .98,-2.6 1.47,-2.6c.49,0 .98,2.3 1.47,2.4c.49,.1 .98,.1 1.47,.1c.49,0 .98,-13.0 1.47,-13.0c.49,0 .98,4.4 1.47,4.4c.49,0 .98,-.8 1.47,-.8c.49,0 .98,4.7 1.47,5.1c.49,.3 .98,.2 1.47,.6c.49,.3 .98,3.6 1.47,3.6c.49,0 .98,-2.7 1.47,-2.8c.49,-.1 .98,-.1 1.47,-.1c.49,0 .98,2.1 1.47,2.1c.49,0 .98,-1.5 1.47,-2.4c.49,-.9 .98,-3.4 1.47,-3.4c.49,0 .98,5.8 1.47,5.8c.49,0 .98,-10.4 1.47,-10.4c.49,0 .98,1.0 1.47,1.0c.49,0 .98,-1.5 1.47,-1.5c.49,0 .98,5.9 1.47,5.9c.49,0 .98,-1.7 1.47,-4.0c.49,-2.3 .98,-19.3 1.47,-22.8c.49,-3.5 .98,-6.8 1.47,-6.8c.49,0 .98,.4 1.47,1.1c.49,.7 .98,29.5 1.47,29.5c.49,0 .98,-11.2 1.47,-15.5c.49,-4.3 .98,-11.0 1.47,-11.0c.49,0 .98,27.7 1.47,27.7c.49,0 .98,-17.0 1.47,-17.0c.49,0 .98,14.4 1.47,14.4c.49,0 .98,-29.0 1.47,-29.0c.49,0 .98,30.8 1.47,30.8c.49,0 .98,-.3 1.47,-.8c.49,-.5 .98,-8.2 1.47,-8.2c.49,0 .98,.1 1.47,.1c.49,0 .98,-20.6 1.47,-20.6c.49,0 .98,27.7 1.47,28.7c.49,1.0 .98,1.5 1.47,1.5c.49,0 .98,-3.2 1.47,-5.6c.49,-2.4 .98,-5.8 1.47,-9.8c.49,-4.0 .98,-15.6 1.47,-15.6c.49,0 .98,26.6 1.47,26.6c.49,0 .98,-1.8 1.47,-1.8c.49,0 .98,6.4 1.47,6.4c.49,0 .98,-13.9 1.47,-13.9c.49,0 .98,12.7 1.47,13.1c.49,.4 .98,.6 1.47,.6c.49,0 .98,-11.4 1.47,-11.4c.49,0 .98,11.6 1.47,11.6c.49,0 .98,-10.4 1.47,-13.2c.49,-2.8 .98,-6.2 1.47,-6.2c.49,0 .98,8.6 1.47,8.6c.49,0 .98,-3.8 1.47,-3.8c.49,0 .98,11.2 1.47,11.2c.49,0 .98,-3.8 1.47,-7.3c.49,-3.4 .98,-17.6 1.47,-17.6c.49,0 .98,5.7 1.47,5.7c.49,0 .98,-.2 1.47,-.4c.49,-.2 .98,-3.5 1.47,-3.5c.49,0 .98,1.3 1.47,3.1c.49,1.8 .98,20.4 1.47,20.4c.49,0 .98,-19.1 1.47,-19.1c.49,0 .98,15.5 1.47,15.5c.49,0 .98,-1.3 1.47,-2.5c.49,-1.3 .98,-7.5 1.47,-7.5c.49,0 .98,8.2 1.47,10.7c.49,2.5 .98,5.9 1.47,5.9c.49,0 .98,-1.2 1.47,-1.7c.49,-.5 .98,-.4 1.47,-1.2c.49,-.7 .98,-21.9 1.47,-21.9c.49,0 .98,1.5 1.47,3.2c.49,1.7 .98,13.0 1.47,13.6c.49,.6 .98,.8 1.47,1.0c.49,.3 .98,.6 1.47,.6c.49,0 .98,-15.6 1.47,-24.2c.49,-8.7 .98,-27.4 1.47,-28.1c.49,-.7 .98,-.4 1.47,-1.1c.49,-.7 .98,-11.7 1.47,-11.7c.49,0 .98,9.6 1.47,9.6c.49,0 .98,-.1 1.47,-.3c.49,-.2 .98,-1.1 1.47,-1.1c.49,0 .98,2.9 1.47,2.9c.49,0 .98,-4.2 1.47,-4.2c.49,0 .98,7.0 1.47,7.9c.49,.9 .98,1.3 1.47,1.5c.49,.2 .98,.4 1.47,.4c.49,0 .98,-29.0 1.47,-29.0c.49,0 .98,.8 1.47,2.0c.49,1.2 .98,22.2 1.47,22.9c.49,.8 .98,1.0 1.47,1.2c.49,.2 .98,.4 1.47,.4c.49,0 .98,-1.6 1.47,-3.6c.49,-1.9 .98,-15.1 1.47,-15.1c.49,0 .98,10.2 1.47,19.6c.49,9.4 .98,50.2 1.47,50.3c.49,.1 .98,.2 1.47,.2c.49,0 .98,-6.0 1.47,-6.0c.49,0 .98,.3 1.47,.8c.49,.5 .98,7.5 1.47,7.5c.49,0 .98,-18.6 1.47,-18.6c.49,0 .98,14.0 1.47,14.0c.49,0 .98,-6.9 1.47,-6.9c.49,0 .98,14.7 1.47,14.7c.49,0 .98,-7.8 1.47,-11.7L1278,935.7 L1278,980 Z"/>
<path id="p0usr" d="M-6,980 L-6,608.3 L0,608.3c.49,28.5 .98,85.6 1.47,85.6c.49,0 .98,-107.9 1.47,-107.9c.49,0 .98,68.4 1.47,68.4c.49,0 .98,-57.9 1.47,-57.9c.49,0 .98,83.3 1.47,83.3c.49,0 .98,-.3 1.47,-.8c.49,-.6 .98,-106.5 1.47,-106.5c.49,0 .98,73.3 1.47,73.3c.49,0 .98,-135.8 1.47,-135.8c.49,0 .98,133.4 1.47,133.4c.49,0 .98,-16.0 1.47,-31.3c.49,-15.2 .98,-85.1 1.47,-85.1c.49,0 .98,89.0 1.47,89.0c.49,0 .98,-76.0 1.47,-76.0c.49,0 .98,80.3 1.47,80.3c.49,0 .98,-56.4 1.47,-60.9c.49,-4.6 .98,-3.5 1.47,-7.7c.49,-4.2 .98,-20.5 1.47,-33.8c.49,-13.3 .98,-48.4 1.47,-48.4c.49,0 .98,110.1 1.47,110.1c.49,0 .98,-2.7 1.47,-7.5c.49,-4.8 .98,-182.4 1.47,-182.4c.49,0 .98,159.8 1.47,159.8c.49,0 .98,-99.0 1.47,-99.0c.49,0 .98,87.2 1.47,87.2c.49,0 .98,-1.3 1.47,-3.6c.49,-2.4 .98,-161.0 1.47,-161.0c.49,0 .98,156.7 1.47,156.7c.49,0 .98,-128.5 1.47,-128.5c.49,0 .98,56.4 1.47,85.8c.49,29.4 .98,90.7 1.47,90.7c.49,0 .98,-83.4 1.47,-83.4c.49,0 .98,61.0 1.47,61.0c.49,0 .98,-178.2 1.47,-178.2c.49,0 .98,249.2 1.47,249.2c.49,0 .98,-173.7 1.47,-173.7c.49,0 .98,168.7 1.47,168.7c.49,0 .98,-153.6 1.47,-153.6c.49,0 .98,80.0 1.47,80.0c.49,0 .98,-108.1 1.47,-108.1c.49,0 .98,183.0 1.47,190.0c.49,7.0 .98,11.2 1.47,11.2c.49,0 .98,-157.0 1.47,-157.0c.49,0 .98,154.9 1.47,154.9c.49,0 .98,-121.5 1.47,-121.5c.49,0 .98,144.2 1.47,144.2c.49,0 .98,-96.1 1.47,-96.1c.49,0 .98,58.0 1.47,58.0c.49,0 .98,-152.3 1.47,-152.3c.49,0 .98,134.2 1.47,134.2c.49,0 .98,-7.8 1.47,-18.0c.49,-10.1 .98,-97.7 1.47,-97.7c.49,0 .98,123.7 1.47,125.2c.49,1.5 .98,2.3 1.47,2.3c.49,0 .98,-18.0 1.47,-18.0c.49,0 .98,61.0 1.47,61.0c.49,0 .98,-64.2 1.47,-64.2c.49,0 .98,100.0 1.47,100.0c.49,0 .98,-112.7 1.47,-112.7c.49,0 .98,30.5 1.47,30.5c.49,0 .98,-85.8 1.47,-85.8c.49,0 .98,72.0 1.47,75.6c.49,3.5 .98,2.0 1.47,5.7c.49,3.6 .98,131.3 1.47,131.3c.49,0 .98,-213.6 1.47,-213.6c.49,0 .98,147.4 1.47,147.4c.49,0 .98,-38.8 1.47,-38.8c.49,0 .98,2.2 1.47,2.2c.49,0 .98,-131.7 1.47,-131.7c.49,0 .98,34.5 1.47,54.1c.49,19.6 .98,57.7 1.47,64.3c.49,6.6 .98,4.8 1.47,11.7c.49,7.0 .98,97.0 1.47,97.0c.49,0 .98,-85.0 1.47,-93.8c.49,-8.9 .98,-15.5 1.47,-15.5c.49,0 .98,4.1 1.47,4.1c.49,0 .98,-17.2 1.47,-33.2c.49,-16.0 .98,-87.2 1.47,-87.2c.49,0 .98,160.4 1.47,160.4c.49,0 .98,-150.3 1.47,-150.3c.49,0 .98,19.0 1.47,32.3c.49,13.3 .98,52.1 1.47,52.1c.49,0 .98,-27.4 1.47,-41.0c.49,-13.6 .98,-40.8 1.47,-40.8c.49,0 .98,71.9 1.47,71.9c.49,0 .98,-91.4 1.47,-91.4c.49,0 .98,80.7 1.47,103.5c.49,22.8 .98,51.1 1.47,51.1c.49,0 .98,-34.7 1.47,-51.7c.49,-17.0 .98,-50.3 1.47,-50.3c.49,0 .98,72.0 1.47,72.0c.49,0 .98,-108.1 1.47,-108.1c.49,0 .98,156.4 1.47,179.0c.49,22.6 .98,29.5 1.47,41.8c.49,12.3 .98,32.9 1.47,32.9c.49,0 .98,-158.5 1.47,-158.5c.49,0 .98,44.0 1.47,44.0c.49,0 .98,-101.5 1.47,-101.5c.49,0 .98,174.4 1.47,174.4c.49,0 .98,-199.8 1.47,-199.8c.49,0 .98,177.6 1.47,177.6c.49,0 .98,-180.3 1.47,-180.3c.49,0 .98,181.3 1.47,181.3c.49,0 .98,-26.1 1.47,-40.7c.49,-14.6 .98,-47.3 1.47,-47.3c.49,0 .98,37.1 1.47,37.1c.49,0 .98,-16.9 1.47,-29.3c.49,-12.4 .98,-50.5 1.47,-50.5c.49,0 .98,125.2 1.47,125.2c.49,0 .98,-19.1 1.47,-40.7c.49,-21.7 .98,-160.3 1.47,-160.3c.49,0 .98,194.6 1.47,194.6c.49,0 .98,-7.4 1.47,-18.9c.49,-11.5 .98,-197.2 1.47,-197.2c.49,0 .98,86.6 1.47,118.6c.49,32.0 .98,80.5 1.47,80.5c.49,0 .98,-5.1 1.47,-13.7c.49,-8.5 .98,-195.8 1.47,-195.8c.49,0 .98,73.2 1.47,73.2c.49,0 .98,-134.7 1.47,-134.7c.49,0 .98,246.2 1.47,246.2c.49,0 .98,-44.9 1.47,-64.1c.49,-19.2 .98,-52.3 1.47,-52.3c.49,0 .98,84.6 1.47,108.1c.49,23.5 .98,52.3 1.47,52.3c.49,0 .98,-68.5 1.47,-68.5c.49,0 .98,80.3 1.47,87.5c.49,7.2 .98,7.6 1.47,12.3c.49,4.6 .98,6.7 1.47,16.1c.49,9.4 .98,115.6 1.47,115.6c.49,0 .98,-298.3 1.47,-298.3c.49,0 .98,30.6 1.47,40.1c.49,9.5 .98,10.6 1.47,22.0c.49,11.3 .98,75.3 1.47,75.3c.49,0 .98,-145.4 1.47,-145.4c.49,0 .98,158.6 1.47,158.6c.49,0 .98,-102.4 1.47,-102.4c.49,0 .98,16.3 1.47,22.6c.49,6.3 .98,16.1 1.47,16.1c.49,0 .98,-127.8 1.47,-127.8c.49,0 .98,178.4 1.47,178.4c.49,0 .98,-45.8 1.47,-45.8c.49,0 .98,13.4 1.47,13.4c.49,0 .98,-55.2 1.47,-55.2c.49,0 .98,92.1 1.47,92.1c.49,0 .98,-.4 1.47,-1.3c.49,-.9 .98,-178.7 1.47,-178.7c.49,0 .98,29.5 1.47,50.2c.49,20.6 .98,80.9 1.47,80.9c.49,0 .98,-120.6 1.47,-120.6c.49,0 .98,161.7 1.47,161.7c.49,0 .98,-180.0 1.47,-180.0c.49,0 .98,114.0 1.47,114.0c.49,0 .98,-143.6 1.47,-143.6c.49,0 .98,9.5 1.47,9.5c.49,0 .98,-34.8 1.47,-34.8c.49,0 .98,23.7 1.47,23.7c.49,0 .98,-132.3 1.47,-132.3c.49,0 .98,164.8 1.47,164.8c.49,0 .98,-41.2 1.47,-41.2c.49,0 .98,155.9 1.47,208.8c.49,52.9 .98,110.5 1.47,128.2c.49,17.7 .98,31.3 1.47,33.5c.49,2.2 .98,1.5 1.47,3.7c.49,2.2 .98,27.0 1.47,27.0c.49,0 .98,-36.6 1.47,-42.6c.49,-5.9 .98,-11.2 1.47,-11.2c.49,0 .98,15.2 1.47,15.2c.49,0 .98,-24.1 1.47,-24.1c.49,0 .98,22.9 1.47,22.9c.49,0 .98,-38.4 1.47,-38.4c.49,0 .98,35.2 1.47,35.2c.49,0 .98,-41.2 1.47,-49.3c.49,-8.1 .98,-16.2 1.47,-16.2c.49,0 .98,100.7 1.47,100.7c.49,0 .98,-93.6 1.47,-97.8c.49,-4.2 .98,-3.0 1.47,-6.7c.49,-3.7 .98,-33.4 1.47,-33.4c.49,0 .98,67.4 1.47,67.4c.49,0 .98,-97.7 1.47,-97.7c.49,0 .98,58.4 1.47,58.4c.49,0 .98,-6.8 1.47,-15.7c.49,-8.9 .98,-88.2 1.47,-88.2c.49,0 .98,43.0 1.47,43.0c.49,0 .98,-23.3 1.47,-23.3c.49,0 .98,37.5 1.47,37.5c.49,0 .98,-6.9 1.47,-17.1c.49,-10.2 .98,-145.2 1.47,-145.2c.49,0 .98,8.1 1.47,19.8c.49,11.7 .98,155.3 1.47,155.3c.49,0 .98,-79.4 1.47,-79.4c.49,0 .98,78.1 1.47,87.6c.49,9.5 .98,17.0 1.47,17.0c.49,0 .98,-16.8 1.47,-32.3c.49,-15.4 .98,-82.3 1.47,-82.3c.49,0 .98,48.8 1.47,48.8c.49,0 .98,-29.2 1.47,-53.4c.49,-24.3 .98,-114.1 1.47,-114.1c.49,0 .98,125.0 1.47,135.8c.49,10.8 .98,18.4 1.47,18.4c.49,0 .98,-159.2 1.47,-159.2c.49,0 .98,117.5 1.47,117.5c.49,0 .98,-51.2 1.47,-51.2c.49,0 .98,27.2 1.47,27.2c.49,0 .98,-146.4 1.47,-146.4c.49,0 .98,201.4 1.47,201.4c.49,0 .98,-68.7 1.47,-68.7c.49,0 .98,66.8 1.47,74.5c.49,7.7 .98,13.6 1.47,13.6c.49,0 .98,-87.4 1.47,-87.4c.49,0 .98,19.7 1.47,19.7c.49,0 .98,-92.0 1.47,-92.0c.49,0 .98,74.9 1.47,88.9c.49,14.0 .98,27.4 1.47,27.4c.49,0 .98,-30.1 1.47,-30.1c.49,0 .98,77.1 1.47,81.4c.49,4.3 .98,6.9 1.47,6.9c.49,0 .98,-255.8 1.47,-255.8c.49,0 .98,13.7 1.47,33.3c.49,19.6 .98,253.9 1.47,253.9c.49,0 .98,-41.5 1.47,-41.5c.49,0 .98,9.1 1.47,18.7c.49,9.6 .98,63.3 1.47,63.3c.49,0 .98,-140.7 1.47,-140.7c.49,0 .98,191.9 1.47,191.9c.49,0 .98,-155.2 1.47,-155.2c.49,0 .98,39.6 1.47,39.6c.49,0 .98,-56.0 1.47,-56.0c.49,0 .98,63.2 1.47,66.5c.49,3.2 .98,5.2 1.47,5.2c.49,0 .98,-118.4 1.47,-118.4c.49,0 .98,118.8 1.47,118.8c.49,0 .98,-5.7 1.47,-13.6c.49,-7.8 .98,-87.6 1.47,-87.6c.49,0 .98,164.5 1.47,164.5c.49,0 .98,-177.4 1.47,-177.4c.49,0 .98,166.7 1.47,166.7c.49,0 .98,-203.4 1.47,-203.4c.49,0 .98,188.4 1.47,188.4c.49,0 .98,-25.4 1.47,-44.7c.49,-19.3 .98,-82.2 1.47,-82.2c.49,0 .98,202.6 1.47,202.6c.49,0 .98,-145.3 1.47,-145.3c.49,0 .98,8.8 1.47,8.8c.49,0 .98,-173.7 1.47,-173.7c.49,0 .98,143.7 1.47,155.3c.49,11.6 .98,19.6 1.47,19.6c.49,0 .98,-44.8 1.47,-44.8c.49,0 .98,21.1 1.47,21.1c.49,0 .98,-205.4 1.47,-205.4c.49,0 .98,189.1 1.47,189.1c.49,0 .98,-38.0 1.47,-38.0c.49,0 .98,27.5 1.47,36.9c.49,9.4 .98,22.7 1.47,22.7c.49,0 .98,-30.9 1.47,-47.4c.49,-16.5 .98,-52.0 1.47,-52.0c.49,0 .98,119.3 1.47,119.3c.49,0 .98,-15.7 1.47,-30.1c.49,-14.4 .98,-76.3 1.47,-76.3c.49,0 .98,37.6 1.47,37.6c.49,0 .98,-5.4 1.47,-5.4c.49,0 .98,46.4 1.47,46.4c.49,0 .98,-12.4 1.47,-17.1c.49,-4.7 .98,-4.8 1.47,-12.1c.49,-7.3 .98,-117.6 1.47,-117.6c.49,0 .98,138.2 1.47,138.2c.49,0 .98,-91.4 1.47,-119.9c.49,-28.5 .98,-66.3 1.47,-66.3c.49,0 .98,175.0 1.47,195.2c.49,20.2 .98,35.8 1.47,35.8c.49,0 .98,-52.7 1.47,-52.7c.49,0 .98,120.6 1.47,120.6c.49,0 .98,-75.4 1.47,-91.8c.49,-16.4 .98,-15.4 1.47,-33.6c.49,-18.3 .98,-147.2 1.47,-147.2c.49,0 .98,145.7 1.47,145.7c.49,0 .98,-85.1 1.47,-85.1c.49,0 .98,9.6 1.47,9.6c.49,0 .98,-86.8 1.47,-86.8c.49,0 .98,80.2 1.47,80.2c.49,0 .98,-35.9 1.47,-67.8c.49,-31.9 .98,-162.3 1.47,-162.3c.49,0 .98,178.8 1.47,178.8c.49,0 .98,-5.0 1.47,-5.0c.49,0 .98,32.4 1.47,32.4c.49,0 .98,-175.8 1.47,-175.8c.49,0 .98,111.3 1.47,111.3c.49,0 .98,-84.5 1.47,-110.8c.49,-26.3 .98,-45.2 1.47,-61.3c.49,-16.1 .98,-39.9 1.47,-39.9c.49,0 .98,47.5 1.47,82.9c.49,35.4 .98,148.0 1.47,148.0c.49,0 .98,-119.5 1.47,-119.5c.49,0 .98,172.4 1.47,172.4c.49,0 .98,-5.6 1.47,-13.1c.49,-7.5 .98,-78.8 1.47,-78.8c.49,0 .98,98.9 1.47,98.9c.49,0 .98,-144.3 1.47,-144.3c.49,0 .98,8.5 1.47,20.0c.49,11.5 .98,103.8 1.47,122.2c.49,18.5 .98,35.8 1.47,35.8c.49,0 .98,-149.7 1.47,-149.7c.49,0 .98,168.3 1.47,168.3c.49,0 .98,-16.0 1.47,-33.1c.49,-17.1 .98,-115.2 1.47,-115.2c.49,0 .98,21.9 1.47,37.1c.49,15.2 .98,46.3 1.47,59.5c.49,13.2 .98,29.7 1.47,29.7c.49,0 .98,-79.2 1.47,-79.2c.49,0 .98,109.0 1.47,109.0c.49,0 .98,-77.9 1.47,-77.9c.49,0 .98,86.8 1.47,86.8c.49,0 .98,-43.7 1.47,-43.7c.49,0 .98,33.3 1.47,46.4c.49,13.1 .98,20.2 1.47,34.2c.49,14.0 .98,40.4 1.47,54.7c.49,14.2 .98,35.0 1.47,35.0c.49,0 .98,-245.6 1.47,-245.6c.49,0 .98,204.4 1.47,204.4c.49,0 .98,-70.5 1.47,-92.1c.49,-21.6 .98,-50.1 1.47,-50.1c.49,0 .98,7.0 1.47,7.0c.49,0 .98,-7.6 1.47,-18.3c.49,-10.8 .98,-134.5 1.47,-134.5c.49,0 .98,93.7 1.47,127.9c.49,34.1 .98,85.5 1.47,85.5c.49,0 .98,-274.1 1.47,-274.1c.49,0 .98,14.4 1.47,34.7c.49,20.2 .98,242.9 1.47,242.9c.49,0 .98,-97.2 1.47,-97.2c.49,0 .98,29.3 1.47,46.0c.49,16.7 .98,55.0 1.47,55.0c.49,0 .98,-95.7 1.47,-123.7c.49,-27.9 .98,-63.4 1.47,-63.4c.49,0 .98,202.6 1.47,202.6c.49,0 .98,-39.4 1.47,-47.8c.49,-8.5 .98,-7.3 1.47,-17.3c.49,-10.0 .98,-80.6 1.47,-114.5c.49,-34.0 .98,-91.8 1.47,-91.8c.49,0 .98,164.3 1.47,182.3c.49,18.0 .98,16.0 1.47,31.6c.49,15.6 .98,90.6 1.47,90.6c.49,0 .98,-16.3 1.47,-35.6c.49,-19.3 .98,-154.9 1.47,-154.9c.49,0 .98,88.2 1.47,88.2c.49,0 .98,-98.6 1.47,-98.6c.49,0 .98,126.7 1.47,131.5c.49,4.7 .98,5.3 1.47,7.5c.49,2.1 .98,5.6 1.47,5.6c.49,0 .98,-9.9 1.47,-22.3c.49,-12.4 .98,-110.0 1.47,-110.0c.49,0 .98,122.4 1.47,122.4c.49,0 .98,-23.3 1.47,-36.6c.49,-13.3 .98,-43.7 1.47,-43.7c.49,0 .98,32.1 1.47,32.1c.49,0 .98,-121.7 1.47,-121.7c.49,0 .98,50.8 1.47,76.2c.49,25.4 .98,76.0 1.47,76.0c.49,0 .98,-75.8 1.47,-75.8c.49,0 .98,19.1 1.47,19.1c.49,0 .98,-18.5 1.47,-18.5c.49,0 .98,5.5 1.47,5.5c.49,0 .98,-55.8 1.47,-55.8c.49,0 .98,55.4 1.47,55.4c.49,0 .98,-70.7 1.47,-70.7c.49,0 .98,89.8 1.47,89.8c.49,0 .98,-74.7 1.47,-74.7c.49,0 .98,55.7 1.47,65.1c.49,9.3 .98,10.5 1.47,17.9c.49,7.3 .98,28.7 1.47,28.7c.49,0 .98,-58.1 1.47,-58.1c.49,0 .98,17.4 1.47,17.4c.49,0 .98,-164.8 1.47,-164.8c.49,0 .98,236.1 1.47,236.1c.49,0 .98,-26.6 1.47,-26.6c.49,0 .98,42.5 1.47,42.5c.49,0 .98,-41.7 1.47,-41.7c.49,0 .98,57.2 1.47,57.2c.49,0 .98,-64.2 1.47,-64.2c.49,0 .98,48.3 1.47,48.3c.49,0 .98,-30.2 1.47,-35.2c.49,-4.9 .98,-9.3 1.47,-9.3c.49,0 .98,46.2 1.47,48.6c.49,2.4 .98,3.9 1.47,3.9c.49,0 .98,-85.6 1.47,-85.6c.49,0 .98,55.4 1.47,78.2c.49,22.8 .98,60.8 1.47,60.8c.49,0 .98,-48.8 1.47,-51.0c.49,-2.2 .98,-1.2 1.47,-3.5c.49,-2.3 .98,-147.5 1.47,-147.5c.49,0 .98,191.5 1.47,191.5c.49,0 .98,-136.3 1.47,-136.3c.49,0 .98,33.4 1.47,36.1c.49,2.7 .98,4.6 1.47,4.6c.49,0 .98,-5.3 1.47,-5.3c.49,0 .98,15.3 1.47,28.2c.49,12.9 .98,61.6 1.47,61.6c.49,0 .98,-66.2 1.47,-66.2c.49,0 .98,74.3 1.47,94.2c.49,19.9 .98,43.8 1.47,43.8c.49,0 .98,-20.3 1.47,-20.3c.49,0 .98,52.4 1.47,52.4c.49,0 .98,-6.5 1.47,-6.5c.49,0 .98,14.8 1.47,14.8c.49,0 .98,-56.9 1.47,-56.9c.49,0 .98,28.3 1.47,28.3c.49,0 .98,-43.2 1.47,-92.0c.49,-48.8 .98,-358.2 1.47,-358.2c.49,0 .98,396.6 1.47,427.1c.49,30.5 .98,51.3 1.47,51.3c.49,0 .98,-43.8 1.47,-69.9c.49,-26.1 .98,-88.8 1.47,-88.8c.49,0 .98,112.9 1.47,120.9c.49,8.0 .98,13.4 1.47,13.4c.49,0 .98,-132.2 1.47,-132.2c.49,0 .98,76.4 1.47,79.2c.49,2.8 .98,2.3 1.47,4.5c.49,2.2 .98,12.5 1.47,12.5c.49,0 .98,-35.5 1.47,-67.4c.49,-31.9 .98,-164.4 1.47,-164.4c.49,0 .98,35.3 1.47,40.2c.49,4.9 .98,9.1 1.47,9.1c.49,0 .98,-168.0 1.47,-168.0c.49,0 .98,98.0 1.47,98.0c.49,0 .98,-113.5 1.47,-113.5c.49,0 .98,138.8 1.47,138.8c.49,0 .98,-96.3 1.47,-96.3c.49,0 .98,72.6 1.47,72.6c.49,0 .98,-198.5 1.47,-198.5c.49,0 .98,204.3 1.47,246.4c.49,42.2 .98,85.2 1.47,85.2c.49,0 .98,-103.9 1.47,-103.9c.49,0 .98,127.4 1.47,127.4c.49,0 .98,-23.2 1.47,-28.5c.49,-5.3 .98,-11.0 1.47,-11.0c.49,0 .98,93.6 1.47,93.6c.49,0 .98,-21.6 1.47,-42.1c.49,-20.5 .98,-113.3 1.47,-113.3c.49,0 .98,57.2 1.47,67.6c.49,10.4 .98,20.4 1.47,20.4c.49,0 .98,-16.5 1.47,-23.5c.49,-7.0 .98,-8.0 1.47,-18.9c.49,-10.9 .98,-121.3 1.47,-121.3c.49,0 .98,226.3 1.47,226.3c.49,0 .98,-78.6 1.47,-78.6c.49,0 .98,99.2 1.47,99.2c.49,0 .98,-44.1 1.47,-59.0c.49,-14.9 .98,-35.9 1.47,-35.9c.49,0 .98,122.6 1.47,130.3c.49,7.7 .98,12.7 1.47,12.7c.49,0 .98,-12.7 1.47,-12.7c.49,0 .98,64.2 1.47,70.0c.49,5.7 .98,9.8 1.47,9.8c.49,0 .98,-7.1 1.47,-7.1c.49,0 .98,27.4 1.47,27.4c.49,0 .98,-9.9 1.47,-17.3c.49,-7.4 .98,-31.0 1.47,-31.0c.49,0 .98,16.7 1.47,16.7c.49,0 .98,-160.2 1.47,-160.2c.49,0 .98,102.3 1.47,127.4c.49,25.2 .98,53.6 1.47,53.6c.49,0 .98,-6.3 1.47,-14.7c.49,-8.4 .98,-86.5 1.47,-86.5c.49,0 .98,106.4 1.47,106.4c.49,0 .98,-45.3 1.47,-45.3c.49,0 .98,3.6 1.47,5.6c.49,2.0 .98,6.6 1.47,6.6c.49,0 .98,-109.6 1.47,-109.6c.49,0 .98,77.0 1.47,77.0c.49,0 .98,-8.8 1.47,-17.4c.49,-8.6 .98,-33.2 1.47,-49.3c.49,-16.1 .98,-47.4 1.47,-47.4c.49,0 .98,45.9 1.47,49.3c.49,3.4 .98,5.8 1.47,5.8c.49,0 .98,-98.2 1.47,-98.2c.49,0 .98,63.1 1.47,63.1c.49,0 .98,-7.4 1.47,-15.0c.49,-7.6 .98,-48.4 1.47,-48.4c.49,0 .98,47.4 1.47,47.4c.49,0 .98,-152.1 1.47,-152.1c.49,0 .98,164.1 1.47,164.1c.49,0 .98,-115.2 1.47,-115.2c.49,0 .98,22.9 1.47,31.9c.49,9.0 .98,12.5 1.47,23.4c.49,10.9 .98,54.1 1.47,54.1c.49,0 .98,-2.3 1.47,-5.5c.49,-3.2 .98,-16.9 1.47,-40.1c.49,-23.2 .98,-261.5 1.47,-261.5c.49,0 .98,331.5 1.47,331.5c.49,0 .98,-99.7 1.47,-99.7c.49,0 .98,98.5 1.47,102.0c.49,3.5 .98,2.6 1.47,5.5c.49,2.9 .98,22.0 1.47,22.0c.49,0 .98,-100.1 1.47,-100.1c.49,0 .98,62.7 1.47,62.7c.49,0 .98,-48.1 1.47,-48.1c.49,0 .98,92.9 1.47,92.9c.49,0 .98,-46.6 1.47,-46.6c.49,0 .98,41.8 1.47,41.8c.49,0 .98,-85.0 1.47,-85.0c.49,0 .98,71.9 1.47,71.9c.49,0 .98,-7.6 1.47,-16.3c.49,-8.6 .98,-63.6 1.47,-63.6c.49,0 .98,25.7 1.47,37.6c.49,11.8 .98,33.6 1.47,33.6c.49,0 .98,-51.7 1.47,-51.7c.49,0 .98,1.8 1.47,4.1c.49,2.3 .98,11.9 1.47,20.3c.49,8.4 .98,26.7 1.47,32.9c.49,6.2 .98,12.9 1.47,12.9c.49,0 .98,-140.3 1.47,-140.3c.49,0 .98,135.9 1.47,135.9c.49,0 .98,-61.9 1.47,-61.9c.49,0 .98,15.4 1.47,15.4c.49,0 .98,-14.5 1.47,-24.2c.49,-9.7 .98,-36.7 1.47,-36.7c.49,0 .98,94.3 1.47,94.3c.49,0 .98,-215.6 1.47,-215.6c.49,0 .98,160.8 1.47,167.2c.49,6.3 .98,10.1 1.47,10.1c.49,0 .98,-245.1 1.47,-245.1c.49,0 .98,306.3 1.47,306.3c.49,0 .98,-167.1 1.47,-167.1c.49,0 .98,216.9 1.47,216.9c.49,0 .98,-137.8 1.47,-202.3c.49,-64.5 .98,-185.5 1.47,-185.5c.49,0 .98,314.4 1.47,314.4c.49,0 .98,-97.4 1.47,-97.4c.49,0 .98,123.9 1.47,123.9c.49,0 .98,-34.6 1.47,-36.4c.49,-1.7 .98,-2.8 1.47,-2.8c.49,0 .98,52.2 1.47,52.2c.49,0 .98,-29.7 1.47,-30.6c.49,-.9 .98,-1.3 1.47,-1.3c.49,0 .98,18.3 1.47,18.3c.49,0 .98,-48.0 1.47,-48.0c.49,0 .98,16.2 1.47,16.2c.49,0 .98,-143.9 1.47,-143.9c.49,0 .98,25.5 1.47,44.4c.49,19.0 .98,79.0 1.47,79.0c.49,0 .98,-186.5 1.47,-186.5c.49,0 .98,200.1 1.47,200.1c.49,0 .98,-61.4 1.47,-89.5c.49,-28.1 .98,-79.6 1.47,-79.6c.49,0 .98,107.4 1.47,107.4c.49,0 .98,-136.0 1.47,-136.0c.49,0 .98,172.5 1.47,172.5c.49,0 .98,-21.3 1.47,-35.7c.49,-14.3 .98,-54.1 1.47,-54.1c.49,0 .98,120.8 1.47,120.8c.49,0 .98,-42.2 1.47,-42.2c.49,0 .98,45.6 1.47,45.6c.49,0 .98,-28.2 1.47,-52.0c.49,-23.7 .98,-104.4 1.47,-113.1c.49,-8.7 .98,-8.4 1.47,-14.7c.49,-6.3 .98,-17.3 1.47,-26.8c.49,-9.5 .98,-30.7 1.47,-30.7c.49,0 .98,9.9 1.47,9.9c.49,0 .98,-5.0 1.47,-5.0c.49,0 .98,.1 1.47,.3c.49,.2 .98,7.1 1.47,7.1c.49,0 .98,-.7 1.47,-.7c.49,0 .98,31.5 1.47,31.5c.49,0 .98,-29.4 1.47,-29.4c.49,0 .98,19.1 1.47,24.4c.49,5.3 .98,5.7 1.47,11.8c.49,6.1 .98,41.0 1.47,41.0c.49,0 .98,-60.8 1.47,-60.8c.49,0 .98,21.9 1.47,23.4c.49,1.5 .98,2.4 1.47,2.4c.49,0 .98,-24.8 1.47,-26.8c.49,-2.0 .98,-1.2 1.47,-3.4c.49,-2.1 .98,-29.9 1.47,-55.3c.49,-25.4 .98,-122.9 1.47,-122.9c.49,0 .98,310.5 1.47,345.7c.49,35.2 .98,44.0 1.47,62.3c.49,18.3 .98,49.1 1.47,49.1c.49,0 .98,-138.2 1.47,-178.6c.49,-40.3 .98,-71.5 1.47,-91.5c.49,-19.9 .98,-25.3 1.47,-44.5c.49,-19.1 .98,-81.1 1.47,-81.1c.49,0 .98,76.6 1.47,76.6c.49,0 .98,-45.8 1.47,-45.8c.49,0 .98,34.8 1.47,34.8c.49,0 .98,-45.1 1.47,-69.2c.49,-24.1 .98,-76.0 1.47,-76.0c.49,0 .98,180.1 1.47,180.1c.49,0 .98,-10.8 1.47,-22.5c.49,-11.7 .98,-80.7 1.47,-80.7c.49,0 .98,106.9 1.47,106.9c.49,0 .98,-39.3 1.47,-39.3c.49,0 .98,15.8 1.47,15.8c.49,0 .98,-.7 1.47,-.7c.49,0 .98,58.0 1.47,58.2c.49,.2 .98,.3 1.47,.3c.49,0 .98,-88.2 1.47,-88.2c.49,0 .98,101.9 1.47,105.4c.49,3.5 .98,5.6 1.47,5.6c.49,0 .98,-6.0 1.47,-14.2c.49,-8.3 .98,-96.0 1.47,-96.0c.49,0 .98,92.6 1.47,109.5c.49,16.9 .98,33.0 1.47,33.0c.49,0 .98,-3.8 1.47,-9.2c.49,-5.4 .98,-67.1 1.47,-67.1c.49,0 .98,119.7 1.47,119.7c.49,0 .98,-83.2 1.47,-83.2c.49,0 .98,68.1 1.47,68.1c.49,0 .98,-82.7 1.47,-82.7c.49,0 .98,90.2 1.47,105.3c.49,15.0 .98,28.7 1.47,28.7c.49,0 .98,-36.9 1.47,-36.9c.49,0 .98,1.1 1.47,2.2c.49,1.1 .98,6.7 1.47,6.7c.49,0 .98,-64.5 1.47,-64.5c.49,0 .98,94.8 1.47,94.8c.49,0 .98,-137.1 1.47,-137.1c.49,0 .98,147.8 1.47,158.2c.49,10.4 .98,17.3 1.47,17.3c.49,0 .98,-153.7 1.47,-153.7c.49,0 .98,199.9 1.47,199.9c.49,0 .98,-69.6 1.47,-111.9c.49,-42.2 .98,-146.1 1.47,-146.1c.49,-.0 .98,-.0 1.47,-.0c.49,0 .98,134.5 1.47,160.4c.49,25.8 .98,51.1 1.47,51.1c.49,0 .98,-6.7 1.47,-16.5c.49,-9.8 .98,-136.4 1.47,-136.4c.49,0 .98,173.2 1.47,173.2c.49,0 .98,-120.6 1.47,-120.6c.49,0 .98,59.8 1.47,59.8c.49,0 .98,-126.9 1.47,-126.9c.49,0 .98,175.0 1.47,175.0c.49,0 .98,-10.2 1.47,-20.3c.49,-10.1 .98,-33.5 1.47,-59.8c.49,-26.3 .98,-116.2 1.47,-116.2c.49,0 .98,85.8 1.47,85.8c.49,0 .98,-230.4 1.47,-230.4c.49,0 .98,173.9 1.47,173.9c.49,0 .98,-11.7 1.47,-11.7c.49,0 .98,132.9 1.47,132.9c.49,0 .98,-138.8 1.47,-138.8c.49,0 .98,37.8 1.47,61.1c.49,23.2 .98,81.2 1.47,81.2c.49,0 .98,-262.9 1.47,-262.9c.49,0 .98,251.8 1.47,251.8c.49,0 .98,-23.7 1.47,-33.7c.49,-10.1 .98,-27.3 1.47,-27.3c.49,0 .98,30.7 1.47,43.0c.49,12.3 .98,32.5 1.47,32.5c.49,0 .98,-44.3 1.47,-70.4c.49,-26.1 .98,-88.3 1.47,-88.3c.49,0 .98,135.2 1.47,137.0c.49,1.8 .98,1.0 1.47,2.7c.49,1.7 .98,65.3 1.47,65.3c.49,0 .98,-84.6 1.47,-84.6c.49,0 .98,14.1 1.47,22.2c.49,8.1 .98,27.0 1.47,27.0c.49,0 .98,-67.7 1.47,-67.7c.49,0 .98,79.5 1.47,79.5c.49,0 .98,-44.9 1.47,-44.9c.49,0 .98,39.2 1.47,42.1c.49,2.8 .98,1.9 1.47,4.8c.49,2.8 .98,42.2 1.47,42.2c.49,0 .98,-195.3 1.47,-195.3c.49,0 .98,167.8 1.47,167.8c.49,0 .98,-46.9 1.47,-61.3c.49,-14.4 .98,-16.7 1.47,-33.2c.49,-16.6 .98,-98.5 1.47,-98.5c.49,0 .98,151.2 1.47,173.3c.49,22.1 .98,41.1 1.47,41.1c.49,0 .98,-271.6 1.47,-271.6c.49,0 .98,153.2 1.47,153.2c.49,0 .98,-49.0 1.47,-49.0c.49,0 .98,135.5 1.47,135.5c.49,0 .98,-4.5 1.47,-4.5c.49,0 .98,54.5 1.47,54.5c.49,0 .98,-200.2 1.47,-200.2c.49,0 .98,87.7 1.47,103.1c.49,15.4 .98,15.8 1.47,29.9c.49,14.1 .98,71.8 1.47,71.8c.49,0 .98,-52.6 1.47,-52.6c.49,0 .98,114.2 1.47,114.2c.49,0 .98,-126.7 1.47,-186.3c.49,-59.5 .98,-171.6 1.47,-171.6c.49,0 .98,184.9 1.47,184.9c.49,0 .98,-51.3 1.47,-51.3c.49,0 .98,93.9 1.47,93.9c.49,0 .98,-10.3 1.47,-24.1c.49,-13.8 .98,-120.1 1.47,-148.7c.49,-28.5 .98,-60.1 1.47,-60.1c.49,0 .98,43.3 1.47,74.3c.49,31.0 .98,88.1 1.47,124.2c.49,36.1 .98,74.9 1.47,96.0c.49,21.1 .98,47.3 1.47,47.3c.49,0 .98,-53.5 1.47,-94.7c.49,-41.2 .98,-178.0 1.47,-178.0c.49,0 .98,244.7 1.47,244.7c.49,0 .98,-160.1 1.47,-160.1c.49,0 .98,5.0 1.47,11.7c.49,6.8 .98,47.1 1.47,75.0c.49,27.9 .98,92.8 1.47,94.6c.49,1.8 .98,1.1 1.47,2.8c.49,1.7 .98,29.4 1.47,29.4c.49,0 .98,-197.9 1.47,-235.4c.49,-37.5 .98,-73.8 1.47,-73.8c.49,0 .98,133.4 1.47,133.4c.49,0 .98,-52.2 1.47,-52.2c.49,0 .98,48.9 1.47,48.9c.49,0 .98,-58.9 1.47,-90.3c.49,-31.4 .98,-98.6 1.47,-98.6c.49,0 .98,51.1 1.47,51.1c.49,0 .98,-16.9 1.47,-16.9c.49,0 .98,69.7 1.47,69.7c.49,0 .98,-282.7 1.47,-282.7c.49,0 .98,91.6 1.47,150.8c.49,59.1 .98,215.3 1.47,215.3c.49,0 .98,-42.6 1.47,-60.6c.49,-18.0 .98,-36.6 1.47,-48.9c.49,-12.3 .98,-29.6 1.47,-29.6c.49,0 .98,90.7 1.47,90.7c.49,0 .98,-101.4 1.47,-124.2c.49,-22.8 .98,-47.1 1.47,-47.1c.49,0 .98,40.9 1.47,63.9c.49,23.0 .98,58.9 1.47,75.1c.49,16.2 .98,25.7 1.47,36.0c.49,10.3 .98,27.0 1.47,27.0c.49,0 .98,-28.7 1.47,-28.7c.49,0 .98,40.1 1.47,40.1c.49,0 .98,-64.0 1.47,-64.0c.49,0 .98,68.6 1.47,68.6c.49,0 .98,-158.4 1.47,-158.4c.49,0 .98,116.1 1.47,116.1c.49,0 .98,-57.2 1.47,-57.2c.49,0 .98,56.4 1.47,56.4c.49,0 .98,-16.3 1.47,-16.3c.49,0 .98,19.6 1.47,19.6c.49,0 .98,-64.6 1.47,-98.6c.49,-34.0 .98,-105.4 1.47,-105.4c.49,0 .98,135.0 1.47,187.4c.49,52.4 .98,116.8 1.47,135.5c.49,18.7 .98,23.1 1.47,35.4c.49,12.2 .98,21.5 1.47,38.2c.49,16.7 .98,72.7 1.47,72.7c.49,0 .98,-193.7 1.47,-193.7c.49,0 .98,100.2 1.47,100.2c.49,0 .98,-76.6 1.47,-76.6c.49,0 .98,120.4 1.47,120.4c.49,0 .98,-83.0 1.47,-83.0c.49,0 .98,107.3 1.47,107.3c.49,0 .98,-81.9 1.47,-81.9c.49,0 .98,57.8 1.47,69.8c.49,12.0 .98,24.4 1.47,24.4c.49,0 .98,-126.2 1.47,-126.2c.49,0 .98,71.2 1.47,71.8c.49,.6 .98,.9 1.47,.9c.49,0 .98,-41.9 1.47,-41.9c.49,0 .98,19.6 1.47,19.6c.49,0 .98,-4.1 1.47,-4.1c.49,0 .98,29.2 1.47,29.2c.49,0 .98,-13.7 1.47,-13.7c.49,0 .98,16.8 1.47,16.8c.49,0 .98,-75.6 1.47,-75.6c.49,0 .98,98.4 1.47,98.4c.49,0 .98,-.8 1.47,-1.6c.49,-.7 .98,-1.2 1.47,-3.4c.49,-2.2 .98,-51.0 1.47,-75.8c.49,-24.8 .98,-73.0 1.47,-73.0c.49,0 .98,59.1 1.47,82.0c.49,22.9 .98,42.5 1.47,59.1c.49,16.6 .98,43.2 1.47,43.2c.49,0 .98,-328.4 1.47,-328.4c.49,0 .98,92.1 1.47,135.6c.49,43.5 .98,125.6 1.47,125.6c.49,0 .98,-51.8 1.47,-51.8c.49,0 .98,31.5 1.47,31.5c.49,0 .98,-85.1 1.47,-85.1c.49,0 .98,138.0 1.47,138.0c.49,0 .98,-136.8 1.47,-136.8c.49,0 .98,52.6 1.47,57.6c.49,5.0 .98,8.7 1.47,8.7c.49,0 .98,-49.0 1.47,-49.0c.49,0 .98,92.3 1.47,92.3c.49,0 .98,-94.3 1.47,-94.3c.49,0 .98,76.2 1.47,76.2c.49,0 .98,-174.7 1.47,-174.7c.49,0 .98,76.7 1.47,76.7c.49,0 .98,-124.7 1.47,-124.7c.49,0 .98,31.8 1.47,63.2c.49,31.4 .98,185.2 1.47,185.2c.49,0 .98,-107.1 1.47,-107.1c.49,0 .98,76.8 1.47,78.1c.49,1.3 .98,2.0 1.47,2.0c.49,0 .98,-112.6 1.47,-112.6c.49,0 .98,154.5 1.47,154.5c.49,0 .98,-7.9 1.47,-19.8c.49,-11.8 .98,-173.6 1.47,-173.6c.49,0 .98,99.2 1.47,99.2c.49,0 .98,-72.9 1.47,-97.7c.49,-24.8 .98,-60.2 1.47,-60.2c.49,0 .98,127.5 1.47,127.7c.49,.2 .98,.1 1.47,.3c.49,.2 .98,63.7 1.47,63.7c.49,0 .98,-7.5 1.47,-7.5c.49,0 .98,14.3 1.47,14.3c.49,0 .98,-62.9 1.47,-62.9c.49,0 .98,8.6 1.47,8.6c.49,0 .98,-25.3 1.47,-30.1c.49,-4.7 .98,-9.3 1.47,-9.3c.49,0 .98,18.9 1.47,18.9c.49,0 .98,-28.6 1.47,-28.6c.49,0 .98,43.6 1.47,43.6c.49,0 .98,-28.4 1.47,-35.2c.49,-6.8 .98,-5.6 1.47,-14.3c.49,-8.6 .98,-139.3 1.47,-139.3c.49,0 .98,166.1 1.47,166.1c.49,0 .98,-134.9 1.47,-134.9c.49,0 .98,76.3 1.47,88.9c.49,12.6 .98,24.1 1.47,24.1c.49,0 .98,-206.0 1.47,-206.0c.49,0 .98,41.4 1.47,80.1c.49,38.6 .98,209.6 1.47,209.6c.49,0 .98,-18.6 1.47,-18.6c.49,0 .98,97.8 1.47,97.8c.49,0 .98,-37.3 1.47,-71.7c.49,-34.4 .98,-166.9 1.47,-185.0c.49,-18.0 .98,-31.7 1.47,-31.7c.49,0 .98,229.2 1.47,229.2c.49,0 .98,-3.9 1.47,-9.9c.49,-6.1 .98,-108.6 1.47,-108.6c.49,0 .98,208.4 1.47,208.4c.49,0 .98,-94.9 1.47,-115.8c.49,-20.9 .98,-27.7 1.47,-42.9c.49,-15.2 .98,-32.7 1.47,-48.9c.49,-16.2 .98,-33.5 1.47,-48.4c.49,-14.9 .98,-41.5 1.47,-41.5c.49,0 .98,7.2 1.47,7.2c.49,0 .98,-65.6 1.47,-65.6c.49,0 .98,75.6 1.47,75.6c.49,0 .98,-28.9 1.47,-38.6c.49,-9.7 .98,-11.2 1.47,-23.2c.49,-12.0 .98,-79.3 1.47,-79.3c.49,0 .98,108.3 1.47,108.3c.49,0 .98,-168.6 1.47,-168.6c.49,0 .98,106.0 1.47,120.1c.49,14.2 .98,17.4 1.47,25.9c.49,8.5 .98,17.3 1.47,25.1c.49,7.8 .98,22.0 1.47,22.0c.49,0 .98,-8.1 1.47,-20.4c.49,-12.3 .98,-194.5 1.47,-194.5c.49,0 .98,100.7 1.47,100.7c.49,0 .98,-196.3 1.47,-196.3c.49,0 .98,367.7 1.47,367.7c.49,0 .98,-117.9 1.47,-117.9c.49,0 .98,54.1 1.47,65.8c.49,11.7 .98,23.8 1.47,23.8c.49,0 .98,-77.1 1.47,-77.1c.49,0 .98,161.6 1.47,161.6c.49,0 .98,-25.2 1.47,-28.2c.49,-3.0 .98,-5.3 1.47,-5.3c.49,0 .98,35.0 1.47,35.0c.49,0 .98,-82.5 1.47,-82.5c.49,0 .98,114.3 1.47,114.3c.49,0 .98,-30.8 1.47,-46.2L1278,646.4 L1278,980 Z"/>
<path id="p0iow" d="M-6,980 L-6,598.9 L0,598.9c.49,29.6 .98,88.8 1.47,88.8c.49,0 .98,-110.9 1.47,-110.9c.49,0 .98,68.1 1.47,68.1c.49,0 .98,-55.3 1.47,-55.3c.49,0 .98,84.4 1.47,84.4c.49,0 .98,-.5 1.47,-1.3c.49,-.9 .98,-109.6 1.47,-109.6c.49,0 .98,71.5 1.47,71.5c.49,0 .98,-135.7 1.47,-135.7c.49,0 .98,139.1 1.47,139.1c.49,0 .98,-19.9 1.47,-37.0c.49,-17.1 .98,-83.3 1.47,-83.3c.49,0 .98,92.3 1.47,92.3c.49,0 .98,-78.5 1.47,-78.5c.49,0 .98,79.7 1.47,79.7c.49,0 .98,-52.0 1.47,-57.7c.49,-5.6 .98,-4.8 1.47,-9.9c.49,-5.1 .98,-20.9 1.47,-34.1c.49,-13.2 .98,-47.2 1.47,-47.2c.49,0 .98,106.6 1.47,106.6c.49,0 .98,-2.5 1.47,-6.9c.49,-4.5 .98,-178.9 1.47,-178.9c.49,0 .98,161.0 1.47,161.0c.49,0 .98,-98.8 1.47,-98.8c.49,0 .98,36.5 1.47,49.4c.49,12.9 .98,31.7 1.47,31.7c.49,0 .98,-159.2 1.47,-159.2c.49,0 .98,151.1 1.47,151.1c.49,0 .98,-128.0 1.47,-128.0c.49,0 .98,57.0 1.47,86.6c.49,29.7 .98,91.5 1.47,91.5c.49,0 .98,-83.9 1.47,-83.9c.49,0 .98,60.8 1.47,60.8c.49,0 .98,-173.6 1.47,-173.6c.49,0 .98,248.6 1.47,248.6c.49,0 .98,-177.2 1.47,-177.2c.49,0 .98,167.9 1.47,167.9c.49,0 .98,-164.5 1.47,-164.5c.49,0 .98,90.9 1.47,90.9c.49,0 .98,-105.0 1.47,-105.0c.49,0 .98,178.0 1.47,187.6c.49,9.6 .98,15.7 1.47,15.7c.49,0 .98,-158.2 1.47,-158.2c.49,0 .98,149.9 1.47,149.9c.49,0 .98,-118.6 1.47,-118.6c.49,0 .98,146.1 1.47,146.1c.49,0 .98,-97.0 1.47,-97.0c.49,0 .98,57.6 1.47,57.6c.49,0 .98,-152.8 1.47,-152.8c.49,0 .98,137.4 1.47,137.4c.49,0 .98,-10.9 1.47,-23.7c.49,-12.7 .98,-98.1 1.47,-98.1c.49,0 .98,128.2 1.47,129.1c.49,.9 .98,1.3 1.47,1.3c.49,0 .98,-16.9 1.47,-16.9c.49,0 .98,59.6 1.47,59.6c.49,0 .98,-66.2 1.47,-66.2c.49,0 .98,103.9 1.47,103.9c.49,0 .98,-117.1 1.47,-117.1c.49,0 .98,34.3 1.47,34.3c.49,0 .98,-86.1 1.47,-86.1c.49,0 .98,68.5 1.47,73.5c.49,5.0 .98,3.1 1.47,8.3c.49,5.2 .98,128.5 1.47,128.5c.49,0 .98,-210.1 1.47,-210.1c.49,0 .98,146.4 1.47,146.4c.49,0 .98,-40.3 1.47,-40.3c.49,0 .98,4.2 1.47,4.2c.49,0 .98,-133.0 1.47,-133.0c.49,0 .98,37.4 1.47,57.3c.49,19.9 .98,54.7 1.47,62.0c.49,7.4 .98,5.6 1.47,13.4c.49,7.8 .98,92.9 1.47,92.9c.49,0 .98,-86.2 1.47,-93.6c.49,-7.4 .98,-12.5 1.47,-12.5c.49,0 .98,.5 1.47,.5c.49,0 .98,-13.6 1.47,-27.7c.49,-14.2 .98,-91.0 1.47,-91.0c.49,0 .98,159.9 1.47,159.9c.49,0 .98,-169.5 1.47,-169.5c.49,0 .98,35.5 1.47,52.9c.49,17.4 .98,51.5 1.47,51.5c.49,0 .98,-30.6 1.47,-44.1c.49,-13.5 .98,-37.3 1.47,-37.3c.49,0 .98,72.2 1.47,72.2c.49,0 .98,-90.0 1.47,-90.0c.49,0 .98,74.0 1.47,98.2c.49,24.1 .98,57.3 1.47,57.3c.49,0 .98,-36.6 1.47,-53.7c.49,-17.1 .98,-49.0 1.47,-49.0c.49,0 .98,72.4 1.47,72.4c.49,0 .98,-112.8 1.47,-112.8c.49,0 .98,159.6 1.47,180.9c.49,21.3 .98,36.6 1.47,38.8c.49,2.2 .98,3.6 1.47,3.6c.49,0 .98,-128.2 1.47,-128.2c.49,0 .98,47.2 1.47,47.2c.49,0 .98,-101.0 1.47,-101.0c.49,0 .98,174.7 1.47,174.7c.49,0 .98,-198.9 1.47,-198.9c.49,0 .98,173.2 1.47,173.2c.49,0 .98,-181.6 1.47,-181.6c.49,0 .98,172.8 1.47,172.8c.49,0 .98,-20.4 1.47,-32.6c.49,-12.3 .98,-42.1 1.47,-42.1c.49,0 .98,37.5 1.47,37.5c.49,0 .98,-16.7 1.47,-29.5c.49,-12.8 .98,-55.3 1.47,-55.3c.49,0 .98,127.0 1.47,127.0c.49,0 .98,-17.8 1.47,-38.5c.49,-20.7 .98,-161.4 1.47,-161.4c.49,0 .98,191.1 1.47,191.1c.49,0 .98,-7.0 1.47,-18.0c.49,-11.0 .98,-195.6 1.47,-195.6c.49,0 .98,86.0 1.47,118.0c.49,32.0 .98,80.8 1.47,80.8c.49,0 .98,-5.4 1.47,-14.1c.49,-8.8 .98,-192.1 1.47,-192.1c.49,0 .98,72.0 1.47,72.0c.49,0 .98,-138.7 1.47,-138.7c.49,0 .98,250.8 1.47,250.8c.49,0 .98,-47.9 1.47,-67.6c.49,-19.7 .98,-52.7 1.47,-52.7c.49,0 .98,90.5 1.47,112.6c.49,22.2 .98,47.2 1.47,47.2c.49,0 .98,-68.4 1.47,-68.4c.49,0 .98,82.9 1.47,90.7c.49,7.8 .98,9.0 1.47,13.5c.49,4.5 .98,5.4 1.47,13.5c.49,8.1 .98,119.5 1.47,119.5c.49,0 .98,-304.4 1.47,-304.4c.49,0 .98,36.2 1.47,44.7c.49,8.5 .98,8.1 1.47,17.7c.49,9.6 .98,75.8 1.47,75.8c.49,0 .98,-140.7 1.47,-140.7c.49,0 .98,159.0 1.47,159.0c.49,0 .98,-102.2 1.47,-102.2c.49,0 .98,11.7 1.47,18.1c.49,6.4 .98,20.3 1.47,20.3c.49,0 .98,-128.6 1.47,-128.6c.49,0 .98,176.7 1.47,176.7c.49,0 .98,-42.8 1.47,-42.8c.49,0 .98,12.8 1.47,12.8c.49,0 .98,-54.9 1.47,-54.9c.49,0 .98,91.1 1.47,91.1c.49,0 .98,-.2 1.47,-.5c.49,-.3 .98,-179.4 1.47,-179.4c.49,0 .98,30.2 1.47,51.1c.49,20.8 .98,80.6 1.47,80.6c.49,0 .98,-120.0 1.47,-120.0c.49,0 .98,157.7 1.47,157.7c.49,0 .98,-181.7 1.47,-181.7c.49,0 .98,113.7 1.47,113.7c.49,0 .98,-138.7 1.47,-138.7c.49,0 .98,10.7 1.47,10.7c.49,0 .98,-38.1 1.47,-38.1c.49,0 .98,20.2 1.47,20.2c.49,0 .98,-152.4 1.47,-152.4c.49,0 .98,189.9 1.47,189.9c.49,0 .98,-40.3 1.47,-40.3c.49,0 .98,150.3 1.47,203.6c.49,53.2 .98,123.5 1.47,131.4c.49,7.9 .98,7.3 1.47,13.0c.49,5.7 .98,16.9 1.47,24.9c.49,8.0 .98,23.4 1.47,23.4c.49,0 .98,-34.3 1.47,-41.1c.49,-6.7 .98,-13.4 1.47,-13.4c.49,0 .98,18.9 1.47,18.9c.49,0 .98,-24.8 1.47,-24.8c.49,0 .98,21.3 1.47,21.3c.49,0 .98,-36.5 1.47,-36.5c.49,0 .98,36.6 1.47,36.6c.49,0 .98,-40.6 1.47,-49.2c.49,-8.6 .98,-17.5 1.47,-17.5c.49,0 .98,98.8 1.47,98.8c.49,0 .98,-90.0 1.47,-95.5c.49,-5.5 .98,-4.2 1.47,-9.0c.49,-4.7 .98,-34.2 1.47,-34.2c.49,0 .98,59.0 1.47,59.0c.49,0 .98,-88.4 1.47,-88.4c.49,0 .98,63.0 1.47,63.0c.49,0 .98,-8.7 1.47,-19.1c.49,-10.4 .98,-85.2 1.47,-85.2c.49,0 .98,38.2 1.47,38.2c.49,0 .98,-21.7 1.47,-21.7c.49,0 .98,39.7 1.47,39.7c.49,0 .98,-8.5 1.47,-20.4c.49,-11.9 .98,-140.8 1.47,-144.2c.49,-3.4 .98,-5.4 1.47,-5.4c.49,0 .98,182.8 1.47,182.8c.49,0 .98,-79.3 1.47,-79.3c.49,0 .98,72.9 1.47,83.7c.49,10.8 .98,20.1 1.47,20.1c.49,0 .98,-17.9 1.47,-33.6c.49,-15.8 .98,-79.6 1.47,-79.6c.49,0 .98,44.4 1.47,44.4c.49,0 .98,-28.8 1.47,-52.7c.49,-23.9 .98,-112.1 1.47,-112.1c.49,0 .98,123.3 1.47,135.2c.49,11.9 .98,20.6 1.47,20.6c.49,0 .98,-163.5 1.47,-163.5c.49,0 .98,122.4 1.47,122.4c.49,0 .98,-51.9 1.47,-51.9c.49,0 .98,25.5 1.47,25.5c.49,0 .98,-145.3 1.47,-145.3c.49,0 .98,199.1 1.47,199.1c.49,0 .98,-65.9 1.47,-65.9c.49,0 .98,66.1 1.47,74.1c.49,7.9 .98,14.2 1.47,14.2c.49,0 .98,-92.1 1.47,-92.1c.49,0 .98,23.3 1.47,23.3c.49,0 .98,-92.2 1.47,-92.2c.49,0 .98,74.0 1.47,87.0c.49,12.9 .98,25.0 1.47,25.0c.49,0 .98,-26.0 1.47,-26.0c.49,0 .98,78.9 1.47,81.6c.49,2.7 .98,4.2 1.47,4.2c.49,0 .98,-253.8 1.47,-253.8c.49,0 .98,14.0 1.47,34.1c.49,20.0 .98,255.7 1.47,255.7c.49,0 .98,-46.5 1.47,-46.5c.49,0 .98,8.6 1.47,18.0c.49,9.4 .98,65.5 1.47,65.5c.49,0 .98,-141.3 1.47,-141.3c.49,0 .98,195.5 1.47,195.5c.49,0 .98,-157.2 1.47,-157.2c.49,0 .98,41.0 1.47,41.0c.49,0 .98,-57.5 1.47,-57.5c.49,0 .98,63.2 1.47,67.2c.49,4.0 .98,6.5 1.47,6.5c.49,0 .98,-123.7 1.47,-123.7c.49,0 .98,123.6 1.47,123.6c.49,0 .98,-6.8 1.47,-15.7c.49,-8.8 .98,-87.0 1.47,-87.0c.49,0 .98,164.2 1.47,164.2c.49,0 .98,-176.0 1.47,-176.0c.49,0 .98,164.4 1.47,164.4c.49,0 .98,-205.2 1.47,-205.2c.49,0 .98,193.7 1.47,193.7c.49,0 .98,-30.4 1.47,-51.0c.49,-20.6 .98,-78.2 1.47,-78.2c.49,0 .98,204.1 1.47,204.1c.49,0 .98,-150.7 1.47,-150.7c.49,0 .98,14.4 1.47,14.4c.49,0 .98,-175.1 1.47,-175.1c.49,0 .98,140.4 1.47,151.8c.49,11.4 .98,19.2 1.47,19.2c.49,0 .98,-43.6 1.47,-43.6c.49,0 .98,22.1 1.47,22.1c.49,0 .98,-202.6 1.47,-202.6c.49,0 .98,187.0 1.47,187.0c.49,0 .98,-38.9 1.47,-38.9c.49,0 .98,35.0 1.47,39.5c.49,4.5 .98,8.2 1.47,8.2c.49,0 .98,-18.0 1.47,-31.5c.49,-13.5 .98,-56.6 1.47,-56.6c.49,0 .98,123.7 1.47,123.7c.49,0 .98,-17.2 1.47,-32.1c.49,-14.9 .98,-73.9 1.47,-73.9c.49,0 .98,37.0 1.47,37.0c.49,0 .98,-7.1 1.47,-7.1c.49,0 .98,42.2 1.47,42.2c.49,0 .98,-33.3 1.47,-33.3c.49,0 .98,5.3 1.47,5.3c.49,0 .98,-115.0 1.47,-115.0c.49,0 .98,139.7 1.47,139.7c.49,0 .98,-93.2 1.47,-122.2c.49,-29.0 .98,-67.7 1.47,-67.7c.49,0 .98,179.5 1.47,198.0c.49,18.6 .98,32.4 1.47,32.4c.49,0 .98,-51.3 1.47,-51.3c.49,0 .98,124.2 1.47,124.2c.49,0 .98,-82.8 1.47,-97.4c.49,-14.6 .98,-12.4 1.47,-28.2c.49,-15.8 .98,-148.2 1.47,-148.2c.49,0 .98,145.9 1.47,145.9c.49,0 .98,-90.4 1.47,-90.4c.49,0 .98,10.5 1.47,10.5c.49,0 .98,-81.9 1.47,-81.9c.49,0 .98,58.9 1.47,58.9c.49,0 .98,-22.0 1.47,-46.1c.49,-24.1 .98,-166.6 1.47,-166.6c.49,0 .98,178.1 1.47,178.1c.49,0 .98,-5.8 1.47,-5.8c.49,0 .98,32.5 1.47,32.5c.49,0 .98,-175.4 1.47,-175.4c.49,0 .98,112.0 1.47,112.0c.49,0 .98,-80.3 1.47,-106.9c.49,-26.5 .98,-46.9 1.47,-63.4c.49,-16.5 .98,-40.7 1.47,-40.7c.49,0 .98,49.7 1.47,86.0c.49,36.3 .98,148.8 1.47,148.8c.49,0 .98,-125.7 1.47,-125.7c.49,0 .98,173.0 1.47,173.0c.49,0 .98,-3.5 1.47,-8.8c.49,-5.3 .98,-80.6 1.47,-80.6c.49,0 .98,95.6 1.47,95.6c.49,0 .98,-139.7 1.47,-139.7c.49,0 .98,9.6 1.47,22.1c.49,12.4 .98,103.3 1.47,120.5c.49,17.2 .98,32.9 1.47,32.9c.49,0 .98,-146.8 1.47,-146.8c.49,0 .98,163.3 1.47,163.3c.49,0 .98,-13.4 1.47,-28.8c.49,-15.4 .98,-116.8 1.47,-116.8c.49,0 .98,22.7 1.47,38.3c.49,15.7 .98,47.6 1.47,60.7c.49,13.1 .98,29.0 1.47,29.0c.49,0 .98,-80.4 1.47,-80.4c.49,0 .98,110.2 1.47,110.2c.49,0 .98,-82.0 1.47,-82.0c.49,0 .98,88.4 1.47,88.4c.49,0 .98,-43.3 1.47,-43.3c.49,0 .98,37.1 1.47,50.2c.49,13.0 .98,18.4 1.47,31.9c.49,13.6 .98,42.7 1.47,56.3c.49,13.5 .98,31.8 1.47,31.8c.49,0 .98,-241.5 1.47,-241.5c.49,0 .98,201.5 1.47,201.5c.49,0 .98,-73.7 1.47,-95.1c.49,-21.4 .98,-48.4 1.47,-48.4c.49,0 .98,10.9 1.47,10.9c.49,0 .98,-9.6 1.47,-22.3c.49,-12.7 .98,-129.7 1.47,-129.7c.49,0 .98,76.1 1.47,111.2c.49,35.1 .98,99.8 1.47,99.8c.49,0 .98,-277.6 1.47,-277.6c.49,0 .98,16.7 1.47,39.2c.49,22.5 .98,240.3 1.47,240.3c.49,0 .98,-97.7 1.47,-97.7c.49,0 .98,28.2 1.47,45.2c.49,17.0 .98,58.4 1.47,58.4c.49,0 .98,-94.2 1.47,-123.1c.49,-28.9 .98,-66.9 1.47,-66.9c.49,0 .98,170.1 1.47,170.1c.49,0 .98,-9.2 1.47,-13.9c.49,-4.7 .98,-5.9 1.47,-14.5c.49,-8.6 .98,-82.9 1.47,-117.1c.49,-34.2 .98,-91.3 1.47,-91.3c.49,0 .98,158.6 1.47,178.9c.49,20.3 .98,19.3 1.47,36.6c.49,17.3 .98,89.2 1.47,89.2c.49,0 .98,-14.8 1.47,-32.9c.49,-18.1 .98,-156.1 1.47,-156.1c.49,0 .98,83.7 1.47,83.7c.49,0 .98,-93.1 1.47,-93.1c.49,0 .98,128.8 1.47,130.2c.49,1.4 .98,1.0 1.47,2.2c.49,1.2 .98,12.0 1.47,12.0c.49,0 .98,-13.6 1.47,-28.8c.49,-15.2 .98,-109.1 1.47,-109.1c.49,0 .98,123.1 1.47,123.1c.49,0 .98,-19.0 1.47,-31.4c.49,-12.4 .98,-45.7 1.47,-45.7c.49,0 .98,30.7 1.47,30.7c.49,0 .98,-120.6 1.47,-120.6c.49,0 .98,51.2 1.47,76.0c.49,24.8 .98,72.7 1.47,72.7c.49,0 .98,-71.0 1.47,-71.2c.49,-.2 .98,-.1 1.47,-.3c.49,-.2 .98,-4.6 1.47,-4.6c.49,0 .98,10.9 1.47,10.9c.49,0 .98,-58.8 1.47,-58.8c.49,0 .98,56.3 1.47,56.3c.49,0 .98,-71.6 1.47,-71.6c.49,0 .98,90.1 1.47,90.1c.49,0 .98,-75.3 1.47,-75.3c.49,0 .98,53.4 1.47,64.6c.49,11.2 .98,15.1 1.47,22.7c.49,7.6 .98,22.9 1.47,22.9c.49,0 .98,-52.7 1.47,-52.7c.49,0 .98,11.6 1.47,11.6c.49,0 .98,-160.4 1.47,-160.4c.49,0 .98,231.7 1.47,231.7c.49,0 .98,-23.4 1.47,-23.4c.49,0 .98,40.6 1.47,40.6c.49,0 .98,-66.2 1.47,-66.2c.49,0 .98,81.6 1.47,81.6c.49,0 .98,-63.6 1.47,-63.6c.49,0 .98,49.3 1.47,49.3c.49,0 .98,-27.2 1.47,-32.3c.49,-5.2 .98,-10.2 1.47,-10.2c.49,0 .98,44.3 1.47,46.0c.49,1.7 .98,2.7 1.47,2.7c.49,0 .98,-81.6 1.47,-81.6c.49,0 .98,59.0 1.47,73.6c.49,14.6 .98,31.1 1.47,31.1c.49,0 .98,-13.3 1.47,-16.8c.49,-3.5 .98,-2.8 1.47,-7.5c.49,-4.8 .98,-144.7 1.47,-144.7c.49,0 .98,190.3 1.47,190.3c.49,0 .98,-134.3 1.47,-134.3c.49,0 .98,32.8 1.47,35.8c.49,3.0 .98,5.1 1.47,5.1c.49,0 .98,-10.5 1.47,-10.5c.49,0 .98,18.2 1.47,32.3c.49,14.1 .98,61.3 1.47,61.3c.49,0 .98,-69.3 1.47,-69.3c.49,0 .98,80.1 1.47,98.6c.49,18.5 .98,38.8 1.47,38.8c.49,0 .98,-14.5 1.47,-14.5c.49,0 .98,48.8 1.47,48.8c.49,0 .98,-1.3 1.47,-2.9c.49,-1.7 .98,-10.3 1.47,-17.2c.49,-7.0 .98,-26.5 1.47,-26.5c.49,0 .98,27.3 1.47,27.3c.49,0 .98,-45.1 1.47,-95.0c.49,-49.9 .98,-353.5 1.47,-353.5c.49,0 .98,408.9 1.47,426.0c.49,17.1 .98,27.4 1.47,27.4c.49,0 .98,-28.5 1.47,-49.1c.49,-20.6 .98,-83.3 1.47,-83.3c.49,0 .98,109.4 1.47,118.5c.49,9.0 .98,15.3 1.47,15.3c.49,0 .98,-132.5 1.47,-132.5c.49,0 .98,76.0 1.47,78.1c.49,2.1 .98,1.5 1.47,3.3c.49,1.8 .98,14.6 1.47,14.6c.49,0 .98,-37.9 1.47,-70.9c.49,-33.0 .98,-163.8 1.47,-163.8c.49,0 .98,32.2 1.47,39.0c.49,6.8 .98,13.8 1.47,13.8c.49,0 .98,-172.5 1.47,-172.5c.49,0 .98,99.0 1.47,99.0c.49,0 .98,-113.3 1.47,-113.3c.49,0 .98,141.0 1.47,141.0c.49,0 .98,-97.2 1.47,-97.2c.49,0 .98,72.9 1.47,72.9c.49,0 .98,-201.0 1.47,-201.0c.49,0 .98,206.7 1.47,249.6c.49,42.9 .98,86.6 1.47,86.6c.49,0 .98,-107.8 1.47,-107.8c.49,0 .98,130.5 1.47,130.5c.49,0 .98,-20.3 1.47,-26.7c.49,-6.4 .98,-15.0 1.47,-15.0c.49,0 .98,90.8 1.47,90.8c.49,0 .98,-20.5 1.47,-40.1c.49,-19.7 .98,-111.3 1.47,-111.3c.49,0 .98,55.3 1.47,66.3c.49,11.0 .98,21.9 1.47,21.9c.49,0 .98,-18.8 1.47,-25.5c.49,-6.7 .98,-6.8 1.47,-16.5c.49,-9.7 .98,-125.2 1.47,-125.2c.49,0 .98,225.6 1.47,225.6c.49,0 .98,-73.0 1.47,-73.0c.49,0 .98,93.9 1.47,93.9c.49,0 .98,-39.7 1.47,-54.6c.49,-14.9 .98,-38.0 1.47,-38.0c.49,0 .98,124.5 1.47,131.6c.49,7.1 .98,11.6 1.47,11.6c.49,0 .98,-12.4 1.47,-12.4c.49,0 .98,62.4 1.47,68.2c.49,5.9 .98,10.1 1.47,10.1c.49,0 .98,-7.6 1.47,-7.6c.49,0 .98,27.9 1.47,27.9c.49,0 .98,-10.8 1.47,-18.4c.49,-7.6 .98,-29.7 1.47,-29.7c.49,0 .98,16.9 1.47,16.9c.49,0 .98,-155.6 1.47,-155.6c.49,0 .98,98.1 1.47,122.8c.49,24.7 .98,53.1 1.47,53.1c.49,0 .98,-16.9 1.47,-31.2c.49,-14.3 .98,-68.0 1.47,-68.0c.49,0 .98,103.4 1.47,103.4c.49,0 .98,-43.8 1.47,-43.8c.49,0 .98,2.5 1.47,4.8c.49,2.3 .98,12.1 1.47,12.1c.49,0 .98,-113.9 1.47,-113.9c.49,0 .98,79.2 1.47,79.2c.49,0 .98,-8.4 1.47,-17.0c.49,-8.5 .98,-36.5 1.47,-52.3c.49,-15.8 .98,-43.3 1.47,-43.3c.49,0 .98,45.8 1.47,49.3c.49,3.5 .98,5.9 1.47,5.9c.49,0 .98,-100.4 1.47,-100.4c.49,0 .98,61.0 1.47,61.0c.49,0 .98,-5.6 1.47,-12.1c.49,-6.6 .98,-52.2 1.47,-52.2c.49,0 .98,50.3 1.47,50.3c.49,0 .98,-152.4 1.47,-152.4c.49,0 .98,165.0 1.47,165.0c.49,0 .98,-117.7 1.47,-117.7c.49,0 .98,25.5 1.47,33.9c.49,8.4 .98,10.2 1.47,19.9c.49,9.7 .98,53.9 1.47,53.9c.49,0 .98,-.1 1.47,-.2c.49,-.1 .98,-18.7 1.47,-43.6c.49,-24.9 .98,-260.4 1.47,-260.4c.49,0 .98,335.0 1.47,335.0c.49,0 .98,-101.6 1.47,-101.6c.49,0 .98,98.6 1.47,101.5c.49,2.9 .98,2.1 1.47,4.6c.49,2.5 .98,19.8 1.47,19.8c.49,0 .98,-94.4 1.47,-94.4c.49,0 .98,57.4 1.47,57.4c.49,0 .98,-42.9 1.47,-42.9c.49,0 .98,90.2 1.47,90.2c.49,0 .98,-48.4 1.47,-48.4c.49,0 .98,42.8 1.47,42.8c.49,0 .98,-81.8 1.47,-81.8c.49,0 .98,67.2 1.47,67.2c.49,0 .98,-7.5 1.47,-15.8c.49,-8.4 .98,-61.3 1.47,-61.3c.49,0 .98,26.6 1.47,34.9c.49,8.3 .98,19.5 1.47,19.5c.49,0 .98,-36.9 1.47,-36.9c.49,0 .98,3.7 1.47,7.3c.49,3.5 .98,11.5 1.47,19.4c.49,7.9 .98,23.8 1.47,30.3c.49,6.5 .98,14.4 1.47,14.4c.49,0 .98,-159.3 1.47,-159.3c.49,0 .98,156.3 1.47,156.3c.49,0 .98,-59.8 1.47,-59.8c.49,0 .98,14.7 1.47,14.7c.49,0 .98,-16.6 1.47,-27.0c.49,-10.4 .98,-36.9 1.47,-36.9c.49,0 .98,97.5 1.47,97.5c.49,0 .98,-218.5 1.47,-218.5c.49,0 .98,158.8 1.47,166.5c.49,7.7 .98,12.5 1.47,12.5c.49,0 .98,-243.8 1.47,-243.8c.49,0 .98,303.7 1.47,303.7c.49,0 .98,-170.5 1.47,-170.5c.49,0 .98,217.7 1.47,217.7c.49,0 .98,-132.7 1.47,-197.2c.49,-64.5 .98,-189.9 1.47,-189.9c.49,0 .98,314.0 1.47,314.0c.49,0 .98,-97.7 1.47,-97.7c.49,0 .98,129.2 1.47,129.2c.49,0 .98,-39.9 1.47,-39.9c.49,0 .98,.3 1.47,1.0c.49,.6 .98,46.4 1.47,46.4c.49,0 .98,-20.8 1.47,-24.5c.49,-3.6 .98,-7.0 1.47,-7.0c.49,0 .98,23.0 1.47,23.0c.49,0 .98,-48.9 1.47,-48.9c.49,0 .98,14.6 1.47,14.6c.49,0 .98,-141.3 1.47,-141.3c.49,0 .98,22.6 1.47,40.5c.49,17.9 .98,80.0 1.47,80.0c.49,0 .98,-188.2 1.47,-188.2c.49,0 .98,200.5 1.47,200.5c.49,0 .98,-61.6 1.47,-88.9c.49,-27.3 .98,-76.1 1.47,-76.1c.49,0 .98,78.3 1.47,78.3c.49,0 .98,-139.7 1.47,-139.7c.49,0 .98,199.8 1.47,199.8c.49,0 .98,-21.1 1.47,-35.0c.49,-13.8 .98,-51.0 1.47,-51.0c.49,0 .98,119.4 1.47,119.4c.49,0 .98,-43.1 1.47,-43.1c.49,0 .98,44.2 1.47,44.2c.49,0 .98,-28.5 1.47,-52.0c.49,-23.5 .98,-98.2 1.47,-109.0c.49,-10.8 .98,-11.8 1.47,-18.9c.49,-7.1 .98,-15.9 1.47,-24.6c.49,-8.7 .98,-27.6 1.47,-27.6c.49,0 .98,7.1 1.47,7.1c.49,0 .98,-7.2 1.47,-7.2c.49,0 .98,2.6 1.47,3.8c.49,1.2 .98,3.2 1.47,3.6c.49,.4 .98,.3 1.47,.8c.49,.5 .98,31.3 1.47,31.3c.49,0 .98,-29.3 1.47,-29.3c.49,0 .98,22.3 1.47,27.7c.49,5.4 .98,5.5 1.47,11.4c.49,5.9 .98,38.5 1.47,38.5c.49,0 .98,-62.0 1.47,-62.0c.49,0 .98,26.5 1.47,26.7c.49,.2 .98,.3 1.47,.3c.49,0 .98,-27.8 1.47,-27.8c.49,0 .98,1.5 1.47,1.5c.49,0 .98,-31.5 1.47,-57.7c.49,-26.2 .98,-123.4 1.47,-123.4c.49,0 .98,309.0 1.47,345.7c.49,36.7 .98,46.9 1.47,65.5c.49,18.6 .98,48.5 1.47,48.5c.49,0 .98,-143.7 1.47,-183.1c.49,-39.4 .98,-67.1 1.47,-87.2c.49,-20.1 .98,-26.2 1.47,-46.1c.49,-19.9 .98,-84.6 1.47,-84.6c.49,0 .98,81.2 1.47,81.2c.49,0 .98,-44.8 1.47,-44.8c.49,0 .98,34.5 1.47,34.5c.49,0 .98,-49.0 1.47,-73.9c.49,-24.9 .98,-75.4 1.47,-75.4c.49,0 .98,180.0 1.47,180.0c.49,0 .98,-8.9 1.47,-19.4c.49,-10.5 .98,-82.4 1.47,-82.4c.49,0 .98,109.9 1.47,109.9c.49,0 .98,-44.9 1.47,-44.9c.49,0 .98,16.1 1.47,16.9c.49,.8 .98,.5 1.47,1.3c.49,.8 .98,56.4 1.47,56.4c.49,0 .98,-16.4 1.47,-29.4c.49,-13.0 .98,-58.4 1.47,-58.4c.49,0 .98,100.1 1.47,104.6c.49,4.6 .98,7.3 1.47,7.3c.49,0 .98,-6.9 1.47,-16.1c.49,-9.2 .98,-97.0 1.47,-97.0c.49,0 .98,96.4 1.47,113.8c.49,17.4 .98,33.9 1.47,33.9c.49,0 .98,-5.4 1.47,-12.3c.49,-6.9 .98,-67.4 1.47,-67.4c.49,0 .98,123.3 1.47,123.3c.49,0 .98,-101.5 1.47,-101.5c.49,0 .98,85.2 1.47,85.2c.49,0 .98,-82.6 1.47,-82.6c.49,0 .98,107.1 1.47,107.1c.49,0 .98,-4.7 1.47,-6.2c.49,-1.5 .98,-2.6 1.47,-3.4c.49,-.8 .98,-2.0 1.47,-2.0c.49,0 .98,10.9 1.47,10.9c.49,0 .98,-63.5 1.47,-63.5c.49,0 .98,94.9 1.47,94.9c.49,0 .98,-142.9 1.47,-142.9c.49,0 .98,150.3 1.47,160.0c.49,9.7 .98,16.0 1.47,16.0c.49,0 .98,-162.8 1.47,-162.8c.49,0 .98,210.1 1.47,210.1c.49,0 .98,-86.0 1.47,-128.4c.49,-42.5 .98,-126.3 1.47,-126.3c.49,0 .98,.3 1.47,.8c.49,.6 .98,131.4 1.47,157.9c.49,26.5 .98,53.1 1.47,53.1c.49,0 .98,-8.6 1.47,-20.3c.49,-11.8 .98,-134.5 1.47,-134.5c.49,0 .98,173.2 1.47,173.2c.49,0 .98,-118.9 1.47,-118.9c.49,0 .98,58.6 1.47,58.6c.49,0 .98,-126.6 1.47,-126.6c.49,0 .98,150.1 1.47,152.8c.49,2.6 .98,4.0 1.47,4.0c.49,0 .98,-37.2 1.47,-66.1c.49,-29.0 .98,-126.7 1.47,-126.7c.49,0 .98,98.7 1.47,98.7c.49,0 .98,-229.1 1.47,-229.1c.49,0 .98,172.0 1.47,172.0c.49,0 .98,-9.1 1.47,-9.1c.49,0 .98,134.5 1.47,134.5c.49,0 .98,-155.3 1.47,-155.3c.49,0 .98,46.3 1.47,72.3c.49,26.0 .98,84.7 1.47,84.7c.49,0 .98,-264.7 1.47,-264.7c.49,0 .98,250.7 1.47,250.7c.49,0 .98,-21.4 1.47,-31.6c.49,-10.2 .98,-29.6 1.47,-29.6c.49,0 .98,33.1 1.47,46.1c.49,13.1 .98,34.1 1.47,34.1c.49,0 .98,-47.3 1.47,-74.1c.49,-26.8 .98,-87.9 1.47,-87.9c.49,0 .98,131.0 1.47,134.5c.49,3.4 .98,2.1 1.47,5.4c.49,3.3 .98,63.6 1.47,63.6c.49,0 .98,-96.8 1.47,-96.8c.49,0 .98,31.2 1.47,37.1c.49,6.0 .98,11.8 1.47,11.8c.49,0 .98,-55.9 1.47,-55.9c.49,0 .98,82.2 1.47,82.2c.49,0 .98,-45.7 1.47,-45.7c.49,0 .98,37.2 1.47,40.2c.49,3.0 .98,2.0 1.47,5.1c.49,3.0 .98,44.1 1.47,44.1c.49,0 .98,-192.7 1.47,-192.7c.49,0 .98,163.2 1.47,163.2c.49,0 .98,-42.4 1.47,-56.5c.49,-14.1 .98,-16.9 1.47,-33.7c.49,-16.9 .98,-101.1 1.47,-101.1c.49,0 .98,154.9 1.47,175.1c.49,20.2 .98,36.7 1.47,36.7c.49,0 .98,-271.5 1.47,-271.5c.49,0 .98,154.5 1.47,154.5c.49,0 .98,-48.6 1.47,-48.6c.49,0 .98,137.0 1.47,137.0c.49,0 .98,-3.2 1.47,-3.2c.49,0 .98,30.8 1.47,30.8c.49,0 .98,-181.1 1.47,-181.1c.49,0 .98,87.7 1.47,104.3c.49,16.6 .98,17.8 1.47,32.7c.49,14.9 .98,70.4 1.47,70.4c.49,0 .98,-52.5 1.47,-52.5c.49,0 .98,111.9 1.47,111.9c.49,0 .98,-124.3 1.47,-183.3c.49,-59.0 .98,-171.1 1.47,-171.1c.49,0 .98,185.3 1.47,185.3c.49,0 .98,-49.9 1.47,-49.9c.49,0 .98,89.0 1.47,89.0c.49,0 .98,-10.5 1.47,-24.5c.49,-14.0 .98,-118.2 1.47,-146.4c.49,-28.2 .98,-59.5 1.47,-59.5c.49,0 .98,42.9 1.47,74.2c.49,31.3 .98,91.0 1.47,127.4c.49,36.4 .98,75.1 1.47,95.6c.49,20.4 .98,45.1 1.47,45.1c.49,0 .98,-51.2 1.47,-91.6c.49,-40.4 .98,-179.5 1.47,-179.5c.49,0 .98,243.5 1.47,243.5c.49,0 .98,-158.1 1.47,-158.1c.49,0 .98,5.0 1.47,11.6c.49,6.6 .98,42.6 1.47,69.2c.49,26.6 .98,91.1 1.47,94.4c.49,3.4 .98,2.4 1.47,5.3c.49,3.0 .98,27.8 1.47,27.8c.49,0 .98,-191.7 1.47,-229.5c.49,-37.8 .98,-75.3 1.47,-75.3c.49,0 .98,131.2 1.47,131.2c.49,0 .98,-54.3 1.47,-54.3c.49,0 .98,31.4 1.47,31.4c.49,0 .98,-42.1 1.47,-69.1c.49,-27.0 .98,-98.2 1.47,-98.2c.49,0 .98,50.4 1.47,50.4c.49,0 .98,-15.0 1.47,-15.0c.49,0 .98,65.5 1.47,65.5c.49,0 .98,-278.7 1.47,-278.7c.49,0 .98,87.0 1.47,145.2c.49,58.1 .98,218.4 1.47,218.4c.49,0 .98,-40.5 1.47,-61.7c.49,-21.2 .98,-57.8 1.47,-65.6c.49,-7.9 .98,-14.4 1.47,-14.4c.49,0 .98,95.3 1.47,95.3c.49,0 .98,-99.5 1.47,-123.6c.49,-24.2 .98,-51.3 1.47,-51.3c.49,0 .98,39.6 1.47,62.7c.49,23.2 .98,60.7 1.47,78.0c.49,17.2 .98,29.1 1.47,38.7c.49,9.5 .98,22.7 1.47,22.7c.49,0 .98,-26.2 1.47,-26.2c.49,0 .98,37.4 1.47,37.4c.49,0 .98,-61.0 1.47,-61.0c.49,0 .98,67.1 1.47,67.1c.49,0 .98,-158.3 1.47,-158.3c.49,0 .98,117.3 1.47,117.3c.49,0 .98,-57.7 1.47,-57.7c.49,0 .98,54.6 1.47,54.6c.49,0 .98,-15.9 1.47,-15.9c.49,0 .98,18.0 1.47,18.0c.49,0 .98,-63.7 1.47,-97.5c.49,-33.8 .98,-105.4 1.47,-105.4c.49,0 .98,136.7 1.47,189.7c.49,53.1 .98,119.1 1.47,137.1c.49,18.0 .98,21.4 1.47,33.6c.49,12.2 .98,23.2 1.47,40.2c.49,17.0 .98,69.6 1.47,69.6c.49,0 .98,-194.5 1.47,-194.5c.49,0 .98,98.0 1.47,98.0c.49,0 .98,-71.1 1.47,-71.1c.49,0 .98,116.6 1.47,116.6c.49,0 .98,-79.3 1.47,-79.3c.49,0 .98,101.7 1.47,101.7c.49,0 .98,-77.6 1.47,-77.6c.49,0 .98,56.4 1.47,69.2c.49,12.8 .98,26.5 1.47,26.5c.49,0 .98,-126.2 1.47,-126.2c.49,0 .98,68.6 1.47,69.9c.49,1.2 .98,1.9 1.47,1.9c.49,0 .98,-44.9 1.47,-44.9c.49,0 .98,21.6 1.47,21.6c.49,0 .98,-6.0 1.47,-6.0c.49,0 .98,31.1 1.47,31.1c.49,0 .98,-15.3 1.47,-15.3c.49,0 .98,20.3 1.47,20.3c.49,0 .98,-77.6 1.47,-77.6c.49,0 .98,93.3 1.47,94.8c.49,1.5 .98,2.3 1.47,2.3c.49,0 .98,-2.1 1.47,-5.6c.49,-3.5 .98,-52.2 1.47,-76.9c.49,-24.7 .98,-71.5 1.47,-71.5c.49,0 .98,62.3 1.47,85.3c.49,23.0 .98,41.2 1.47,58.0c.49,16.8 .98,44.5 1.47,44.5c.49,0 .98,-329.9 1.47,-329.9c.49,0 .98,90.9 1.47,134.3c.49,43.4 .98,126.2 1.47,126.2c.49,0 .98,-50.9 1.47,-50.9c.49,0 .98,29.6 1.47,29.6c.49,0 .98,-81.5 1.47,-81.5c.49,0 .98,133.6 1.47,133.6c.49,0 .98,-138.0 1.47,-138.0c.49,0 .98,59.5 1.47,61.8c.49,2.3 .98,3.7 1.47,3.7c.49,0 .98,-47.8 1.47,-47.8c.49,0 .98,95.2 1.47,95.2c.49,0 .98,-104.7 1.47,-104.7c.49,0 .98,85.8 1.47,85.8c.49,0 .98,-172.4 1.47,-172.4c.49,0 .98,71.2 1.47,71.2c.49,0 .98,-119.0 1.47,-119.0c.49,0 .98,32.0 1.47,63.3c.49,31.2 .98,180.7 1.47,180.7c.49,0 .98,-105.5 1.47,-105.5c.49,0 .98,77.8 1.47,78.7c.49,.9 .98,1.4 1.47,1.4c.49,0 .98,-110.6 1.47,-110.6c.49,0 .98,155.7 1.47,155.7c.49,0 .98,-9.2 1.47,-22.5c.49,-13.3 .98,-171.2 1.47,-171.2c.49,0 .98,95.7 1.47,95.7c.49,0 .98,-71.1 1.47,-96.4c.49,-25.3 .98,-62.6 1.47,-62.6c.49,0 .98,128.3 1.47,128.3c.49,0 .98,-1.9 1.47,-1.9c.49,0 .98,70.1 1.47,70.1c.49,0 .98,-7.8 1.47,-7.8c.49,0 .98,9.1 1.47,9.1c.49,0 .98,-58.3 1.47,-58.3c.49,0 .98,4.5 1.47,4.5c.49,0 .98,-25.9 1.47,-29.2c.49,-3.3 .98,-6.0 1.47,-6.0c.49,0 .98,14.9 1.47,14.9c.49,0 .98,-27.2 1.47,-27.2c.49,0 .98,41.0 1.47,41.0c.49,0 .98,-21.5 1.47,-29.1c.49,-7.6 .98,-7.7 1.47,-18.8c.49,-11.0 .98,-140.7 1.47,-140.7c.49,0 .98,166.5 1.47,166.5c.49,0 .98,-134.7 1.47,-134.7c.49,0 .98,80.2 1.47,91.6c.49,11.4 .98,21.0 1.47,21.0c.49,0 .98,-200.3 1.47,-200.3c.49,0 .98,40.3 1.47,78.4c.49,38.0 .98,209.6 1.47,209.6c.49,0 .98,-21.5 1.47,-21.5c.49,0 .98,95.9 1.47,95.9c.49,0 .98,-33.4 1.47,-65.7c.49,-32.3 .98,-166.1 1.47,-185.3c.49,-19.2 .98,-34.1 1.47,-34.1c.49,0 .98,231.5 1.47,231.5c.49,0 .98,-5.4 1.47,-13.3c.49,-7.9 .98,-107.3 1.47,-107.3c.49,0 .98,204.5 1.47,204.5c.49,0 .98,-94.0 1.47,-114.4c.49,-20.4 .98,-27.0 1.47,-41.7c.49,-14.7 .98,-31.0 1.47,-46.6c.49,-15.7 .98,-32.3 1.47,-47.3c.49,-15.0 .98,-42.7 1.47,-42.7c.49,0 .98,4.6 1.47,4.6c.49,0 .98,-61.7 1.47,-61.7c.49,0 .98,71.9 1.47,71.9c.49,0 .98,-31.1 1.47,-40.4c.49,-9.4 .98,-10.2 1.47,-21.5c.49,-11.3 .98,-79.1 1.47,-79.1c.49,0 .98,109.1 1.47,109.1c.49,0 .98,-168.6 1.47,-168.6c.49,0 .98,107.2 1.47,120.2c.49,13.0 .98,14.7 1.47,23.3c.49,8.6 .98,20.7 1.47,29.0c.49,8.3 .98,21.6 1.47,21.6c.49,0 .98,-8.1 1.47,-20.4c.49,-12.3 .98,-194.8 1.47,-194.8c.49,0 .98,98.3 1.47,98.3c.49,0 .98,-192.3 1.47,-192.3c.49,0 .98,364.2 1.47,364.2c.49,0 .98,-115.1 1.47,-115.1c.49,0 .98,55.6 1.47,67.2c.49,11.7 .98,23.6 1.47,23.6c.49,0 .98,-78.2 1.47,-78.2c.49,0 .98,157.0 1.47,157.0c.49,0 .98,-21.7 1.47,-24.5c.49,-2.8 .98,-5.0 1.47,-5.0c.49,0 .98,36.0 1.47,36.0c.49,0 .98,-86.0 1.47,-86.0c.49,0 .98,84.5 1.47,84.5c.49,0 .98,-11.7 1.47,-17.5L1278,635.4 L1278,980 Z"/>
<path id="p0irq" d="M-6,980 L-6,596.0 L0,596.0c.49,29.8 .98,89.4 1.47,89.4c.49,0 .98,-111.4 1.47,-111.4c.49,0 .98,68.8 1.47,68.8c.49,0 .98,-56.8 1.47,-56.8c.49,0 .98,83.7 1.47,83.7c.49,0 .98,-.2 1.47,-.6c.49,-.4 .98,-108.3 1.47,-108.3c.49,0 .98,70.3 1.47,70.3c.49,0 .98,-134.4 1.47,-134.4c.49,0 .98,139.0 1.47,139.0c.49,0 .98,-19.7 1.47,-36.7c.49,-17.0 .98,-83.3 1.47,-83.3c.49,0 .98,90.1 1.47,90.1c.49,0 .98,-78.5 1.47,-78.5c.49,0 .98,81.6 1.47,81.6c.49,0 .98,-52.2 1.47,-57.8c.49,-5.6 .98,-4.7 1.47,-9.8c.49,-5.1 .98,-20.8 1.47,-34.1c.49,-13.2 .98,-47.4 1.47,-47.4c.49,0 .98,105.8 1.47,105.8c.49,0 .98,-2.6 1.47,-7.1c.49,-4.6 .98,-177.3 1.47,-177.3c.49,0 .98,159.4 1.47,159.4c.49,0 .98,-97.8 1.47,-97.8c.49,0 .98,36.3 1.47,49.1c.49,12.8 .98,31.5 1.47,31.5c.49,0 .98,-159.0 1.47,-159.0c.49,0 .98,149.2 1.47,149.2c.49,0 .98,-127.3 1.47,-127.3c.49,0 .98,58.9 1.47,88.6c.49,29.7 .98,89.6 1.47,89.6c.49,0 .98,-84.2 1.47,-84.2c.49,0 .98,60.6 1.47,60.6c.49,0 .98,-173.9 1.47,-173.9c.49,0 .98,250.1 1.47,250.1c.49,0 .98,-177.0 1.47,-177.0c.49,0 .98,167.9 1.47,167.9c.49,0 .98,-165.7 1.47,-165.7c.49,0 .98,92.2 1.47,92.2c.49,0 .98,-106.2 1.47,-106.2c.49,0 .98,179.8 1.47,188.8c.49,9.0 .98,14.6 1.47,14.6c.49,0 .98,-158.4 1.47,-158.4c.49,0 .98,151.0 1.47,151.0c.49,0 .98,-117.1 1.47,-117.1c.49,0 .98,145.1 1.47,145.1c.49,0 .98,-98.7 1.47,-98.7c.49,0 .98,57.5 1.47,57.5c.49,0 .98,-152.0 1.47,-152.0c.49,0 .98,136.9 1.47,136.9c.49,0 .98,-10.8 1.47,-23.3c.49,-12.6 .98,-98.6 1.47,-98.6c.49,0 .98,128.0 1.47,129.5c.49,1.5 .98,2.3 1.47,2.3c.49,0 .98,-18.4 1.47,-18.4c.49,0 .98,60.0 1.47,60.0c.49,0 .98,-64.3 1.47,-64.3c.49,0 .98,103.3 1.47,103.3c.49,0 .98,-116.5 1.47,-116.5c.49,0 .98,33.7 1.47,33.7c.49,0 .98,-87.5 1.47,-87.5c.49,0 .98,70.2 1.47,74.5c.49,4.3 .98,2.6 1.47,7.0c.49,4.5 .98,131.0 1.47,131.0c.49,0 .98,-210.7 1.47,-210.7c.49,0 .98,144.8 1.47,144.8c.49,0 .98,-40.0 1.47,-40.0c.49,0 .98,5.1 1.47,5.1c.49,0 .98,-133.4 1.47,-133.4c.49,0 .98,37.8 1.47,57.6c.49,19.8 .98,54.3 1.47,61.6c.49,7.2 .98,5.5 1.47,13.2c.49,7.7 .98,92.5 1.47,92.5c.49,0 .98,-86.2 1.47,-93.0c.49,-6.8 .98,-11.4 1.47,-11.4c.49,0 .98,.1 1.47,.1c.49,0 .98,-14.0 1.47,-28.5c.49,-14.5 .98,-91.5 1.47,-91.5c.49,0 .98,161.2 1.47,161.2c.49,0 .98,-170.9 1.47,-170.9c.49,0 .98,37.7 1.47,55.2c.49,17.5 .98,49.9 1.47,49.9c.49,0 .98,-29.8 1.47,-43.4c.49,-13.6 .98,-38.3 1.47,-38.3c.49,0 .98,73.4 1.47,73.4c.49,0 .98,-91.3 1.47,-91.3c.49,0 .98,98.0 1.47,98.0c.49,0 .98,-2.7 1.47,-2.7c.49,0 .98,7.9 1.47,7.9c.49,0 .98,-49.6 1.47,-49.6c.49,0 .98,73.0 1.47,73.0c.49,0 .98,-113.8 1.47,-113.8c.49,0 .98,161.4 1.47,181.7c.49,20.3 .98,36.5 1.47,36.5c.49,0 .98,-11.0 1.47,-23.8c.49,-12.8 .98,-99.2 1.47,-99.2c.49,0 .98,46.7 1.47,46.7c.49,0 .98,-101.8 1.47,-101.8c.49,0 .98,176.0 1.47,176.0c.49,0 .98,-199.7 1.47,-199.7c.49,0 .98,174.6 1.47,174.6c.49,0 .98,-182.7 1.47,-182.7c.49,0 .98,172.3 1.47,172.3c.49,0 .98,-20.5 1.47,-32.7c.49,-12.2 .98,-41.8 1.47,-41.8c.49,0 .98,39.4 1.47,39.4c.49,0 .98,-15.1 1.47,-31.8c.49,-16.7 .98,-116.6 1.47,-116.6c.49,0 .98,188.9 1.47,188.9c.49,0 .98,-60.7 1.47,-93.7c.49,-33.0 .98,-104.9 1.47,-104.9c.49,0 .98,189.8 1.47,189.8c.49,0 .98,-6.4 1.47,-16.7c.49,-10.3 .98,-198.2 1.47,-198.2c.49,0 .98,87.2 1.47,119.1c.49,31.9 .98,79.9 1.47,79.9c.49,0 .98,-4.3 1.47,-11.5c.49,-7.3 .98,-194.8 1.47,-194.8c.49,0 .98,73.9 1.47,73.9c.49,0 .98,-140.0 1.47,-140.0c.49,0 .98,221.1 1.47,221.1c.49,0 .98,-23.4 1.47,-38.0c.49,-14.6 .98,-51.3 1.47,-51.3c.49,0 .98,90.0 1.47,112.0c.49,22.0 .98,46.7 1.47,46.7c.49,0 .98,-66.4 1.47,-66.4c.49,0 .98,80.0 1.47,88.7c.49,8.8 .98,11.0 1.47,15.4c.49,4.5 .98,4.9 1.47,11.8c.49,6.9 .98,84.0 1.47,84.0c.49,0 .98,-269.2 1.47,-269.2c.49,0 .98,36.9 1.47,45.5c.49,8.6 .98,8.3 1.47,17.9c.49,9.6 .98,74.5 1.47,74.5c.49,0 .98,-140.3 1.47,-140.3c.49,0 .98,158.0 1.47,158.0c.49,0 .98,-99.3 1.47,-99.3c.49,0 .98,11.5 1.47,17.8c.49,6.3 .98,20.0 1.47,20.0c.49,0 .98,-128.4 1.47,-128.4c.49,0 .98,174.7 1.47,174.7c.49,0 .98,-41.5 1.47,-41.5c.49,0 .98,12.7 1.47,12.7c.49,0 .98,-54.5 1.47,-54.5c.49,0 .98,89.9 1.47,89.9c.49,0 .98,-.4 1.47,-1.1c.49,-.7 .98,-176.9 1.47,-176.9c.49,0 .98,29.6 1.47,50.0c.49,20.4 .98,79.0 1.47,79.0c.49,0 .98,-118.5 1.47,-118.5c.49,0 .98,157.2 1.47,157.2c.49,0 .98,-180.9 1.47,-180.9c.49,0 .98,114.5 1.47,114.5c.49,0 .98,-140.7 1.47,-140.7c.49,0 .98,10.1 1.47,10.1c.49,0 .98,-38.2 1.47,-38.2c.49,0 .98,21.8 1.47,21.8c.49,0 .98,-190.7 1.47,-190.7c.49,0 .98,228.2 1.47,228.2c.49,0 .98,-41.8 1.47,-41.8c.49,0 .98,153.3 1.47,206.2c.49,52.9 .98,120.3 1.47,129.0c.49,8.7 .98,8.5 1.47,14.5c.49,5.9 .98,15.3 1.47,23.3c.49,7.9 .98,24.3 1.47,24.3c.49,0 .98,-35.0 1.47,-41.5c.49,-6.5 .98,-12.7 1.47,-12.7c.49,0 .98,19.0 1.47,19.0c.49,0 .98,-25.2 1.47,-25.2c.49,0 .98,21.4 1.47,21.4c.49,0 .98,-37.4 1.47,-37.4c.49,0 .98,37.2 1.47,37.2c.49,0 .98,-39.3 1.47,-47.7c.49,-8.4 .98,-17.1 1.47,-17.1c.49,0 .98,97.8 1.47,97.8c.49,0 .98,-91.6 1.47,-97.1c.49,-5.5 .98,-4.3 1.47,-9.0c.49,-4.7 .98,-33.2 1.47,-33.2c.49,0 .98,59.2 1.47,59.2c.49,0 .98,-86.8 1.47,-86.8c.49,0 .98,62.7 1.47,62.7c.49,0 .98,-9.1 1.47,-19.7c.49,-10.7 .98,-84.7 1.47,-84.7c.49,0 .98,36.5 1.47,36.5c.49,0 .98,-19.8 1.47,-19.8c.49,0 .98,37.5 1.47,37.5c.49,0 .98,-8.5 1.47,-20.4c.49,-11.9 .98,-138.6 1.47,-142.3c.49,-3.7 .98,-5.7 1.47,-5.7c.49,0 .98,182.7 1.47,182.7c.49,0 .98,-79.3 1.47,-79.3c.49,0 .98,71.3 1.47,82.2c.49,10.9 .98,20.4 1.47,20.4c.49,0 .98,-16.7 1.47,-31.9c.49,-15.3 .98,-80.6 1.47,-80.6c.49,0 .98,45.5 1.47,45.5c.49,0 .98,-29.0 1.47,-53.1c.49,-24.0 .98,-112.7 1.47,-112.7c.49,0 .98,122.5 1.47,134.7c.49,12.2 .98,21.1 1.47,21.1c.49,0 .98,-163.5 1.47,-163.5c.49,0 .98,122.9 1.47,122.9c.49,0 .98,-52.7 1.47,-52.7c.49,0 .98,26.0 1.47,26.0c.49,0 .98,-146.5 1.47,-146.5c.49,0 .98,200.4 1.47,200.4c.49,0 .98,-67.8 1.47,-67.8c.49,0 .98,67.9 1.47,75.5c.49,7.6 .98,13.4 1.47,13.4c.49,0 .98,-148.3 1.47,-148.3c.49,0 .98,79.2 1.47,79.2c.49,0 .98,-90.8 1.47,-90.8c.49,0 .98,72.4 1.47,85.5c.49,13.1 .98,25.4 1.47,25.4c.49,0 .98,-26.3 1.47,-26.3c.49,0 .98,78.6 1.47,81.6c.49,3.0 .98,4.7 1.47,4.7c.49,0 .98,-252.8 1.47,-252.8c.49,0 .98,14.2 1.47,34.3c.49,20.2 .98,256.3 1.47,256.3c.49,0 .98,-49.1 1.47,-49.1c.49,0 .98,9.0 1.47,18.7c.49,9.7 .98,65.2 1.47,65.2c.49,0 .98,-139.4 1.47,-139.4c.49,0 .98,193.5 1.47,193.5c.49,0 .98,-154.8 1.47,-154.8c.49,0 .98,39.1 1.47,39.1c.49,0 .98,-56.4 1.47,-56.4c.49,0 .98,62.6 1.47,66.2c.49,3.6 .98,5.9 1.47,5.9c.49,0 .98,-122.5 1.47,-122.5c.49,0 .98,125.1 1.47,125.1c.49,0 .98,-8.2 1.47,-18.3c.49,-10.1 .98,-86.0 1.47,-86.0c.49,0 .98,129.6 1.47,129.6c.49,0 .98,-141.2 1.47,-141.2c.49,0 .98,163.8 1.47,163.8c.49,0 .98,-205.8 1.47,-205.8c.49,0 .98,194.0 1.47,194.0c.49,0 .98,-29.3 1.47,-49.7c.49,-20.3 .98,-79.0 1.47,-79.0c.49,0 .98,205.0 1.47,205.0c.49,0 .98,-151.2 1.47,-151.2c.49,0 .98,15.3 1.47,15.3c.49,0 .98,-175.9 1.47,-175.9c.49,0 .98,62.1 1.47,90.5c.49,28.4 .98,80.6 1.47,80.6c.49,0 .98,-45.2 1.47,-45.2c.49,0 .98,22.9 1.47,22.9c.49,0 .98,-201.0 1.47,-201.0c.49,0 .98,186.2 1.47,186.2c.49,0 .98,-39.3 1.47,-39.3c.49,0 .98,35.2 1.47,39.8c.49,4.6 .98,8.3 1.47,8.3c.49,0 .98,-19.0 1.47,-32.9c.49,-13.9 .98,-56.4 1.47,-56.4c.49,0 .98,123.1 1.47,123.1c.49,0 .98,-15.6 1.47,-29.7c.49,-14.1 .98,-73.8 1.47,-73.8c.49,0 .98,36.7 1.47,36.7c.49,0 .98,-9.5 1.47,-9.5c.49,0 .98,42.2 1.47,42.2c.49,0 .98,-32.5 1.47,-32.5c.49,0 .98,5.8 1.47,5.8c.49,0 .98,-116.0 1.47,-116.0c.49,0 .98,141.3 1.47,141.3c.49,0 .98,-91.8 1.47,-121.1c.49,-29.3 .98,-68.9 1.47,-68.9c.49,0 .98,180.4 1.47,198.1c.49,17.7 .98,30.6 1.47,30.6c.49,0 .98,-48.9 1.47,-48.9c.49,0 .98,122.0 1.47,122.0c.49,0 .98,-82.2 1.47,-96.4c.49,-14.2 .98,-11.9 1.47,-27.3c.49,-15.4 .98,-149.6 1.47,-149.6c.49,0 .98,146.2 1.47,146.2c.49,0 .98,-89.8 1.47,-89.8c.49,0 .98,10.6 1.47,10.6c.49,0 .98,-82.7 1.47,-82.7c.49,0 .98,59.0 1.47,59.0c.49,0 .98,-22.4 1.47,-46.7c.49,-24.3 .98,-166.3 1.47,-166.3c.49,0 .98,179.9 1.47,179.9c.49,0 .98,-6.8 1.47,-6.8c.49,0 .98,32.1 1.47,32.1c.49,0 .98,-175.0 1.47,-175.0c.49,0 .98,112.7 1.47,112.7c.49,0 .98,-81.7 1.47,-108.2c.49,-26.5 .98,-46.6 1.47,-62.9c.49,-16.2 .98,-39.7 1.47,-39.7c.49,0 .98,48.7 1.47,84.8c.49,36.1 .98,149.9 1.47,149.9c.49,0 .98,-127.1 1.47,-127.1c.49,0 .98,173.0 1.47,173.0c.49,0 .98,-4.0 1.47,-9.7c.49,-5.8 .98,-78.1 1.47,-78.1c.49,0 .98,94.0 1.47,94.0c.49,0 .98,-179.1 1.47,-179.1c.49,0 .98,35.5 1.47,62.8c.49,27.4 .98,100.4 1.47,118.5c.49,18.1 .98,35.3 1.47,35.3c.49,0 .98,-147.1 1.47,-147.1c.49,0 .98,162.0 1.47,162.0c.49,0 .98,-13.9 1.47,-29.6c.49,-15.7 .98,-116.5 1.47,-116.5c.49,0 .98,7.5 1.47,16.8c.49,9.3 .98,67.8 1.47,82.2c.49,14.4 .98,29.2 1.47,29.2c.49,0 .98,-80.8 1.47,-80.8c.49,0 .98,112.6 1.47,112.6c.49,0 .98,-82.5 1.47,-82.5c.49,0 .98,87.9 1.47,87.9c.49,0 .98,-42.5 1.47,-42.5c.49,0 .98,35.6 1.47,48.4c.49,12.9 .98,18.4 1.47,32.2c.49,13.8 .98,44.4 1.47,57.9c.49,13.6 .98,31.4 1.47,31.4c.49,0 .98,-242.5 1.47,-242.5c.49,0 .98,202.6 1.47,202.6c.49,0 .98,-75.5 1.47,-96.9c.49,-21.4 .98,-48.0 1.47,-48.0c.49,0 .98,12.0 1.47,12.0c.49,0 .98,-9.7 1.47,-22.4c.49,-12.7 .98,-128.9 1.47,-128.9c.49,0 .98,74.6 1.47,109.3c.49,34.7 .98,99.3 1.47,99.3c.49,0 .98,-276.8 1.47,-276.8c.49,0 .98,16.8 1.47,39.4c.49,22.6 .98,241.1 1.47,241.1c.49,0 .98,-97.6 1.47,-97.6c.49,0 .98,27.4 1.47,44.2c.49,16.8 .98,58.7 1.47,58.7c.49,0 .98,-94.6 1.47,-123.3c.49,-28.7 .98,-66.2 1.47,-66.2c.49,0 .98,168.7 1.47,168.7c.49,0 .98,-9.1 1.47,-13.9c.49,-4.8 .98,-6.1 1.47,-14.9c.49,-8.8 .98,-82.9 1.47,-116.9c.49,-33.9 .98,-90.2 1.47,-90.2c.49,0 .98,157.0 1.47,177.3c.49,20.3 .98,19.4 1.47,36.8c.49,17.4 .98,89.7 1.47,89.7c.49,0 .98,-14.5 1.47,-32.3c.49,-17.8 .98,-155.1 1.47,-155.1c.49,0 .98,81.1 1.47,81.1c.49,0 .98,-91.3 1.47,-91.3c.49,0 .98,128.7 1.47,130.3c.49,1.6 .98,1.1 1.47,2.4c.49,1.3 .98,10.4 1.47,10.4c.49,0 .98,-12.3 1.47,-26.6c.49,-14.3 .98,-110.5 1.47,-110.5c.49,0 .98,123.4 1.47,123.4c.49,0 .98,-18.1 1.47,-30.4c.49,-12.4 .98,-47.5 1.47,-47.5c.49,0 .98,31.7 1.47,31.7c.49,0 .98,-121.3 1.47,-121.3c.49,0 .98,52.5 1.47,77.4c.49,24.9 .98,72.1 1.47,72.1c.49,0 .98,-72.1 1.47,-72.1c.49,0 .98,.3 1.47,.3c.49,0 .98,-5.2 1.47,-5.2c.49,0 .98,11.0 1.47,11.0c.49,0 .98,-57.5 1.47,-57.5c.49,0 .98,55.0 1.47,55.0c.49,0 .98,-72.1 1.47,-72.1c.49,0 .98,90.2 1.47,90.2c.49,0 .98,-73.4 1.47,-73.4c.49,0 .98,53.6 1.47,64.1c.49,10.5 .98,13.3 1.47,20.9c.49,7.6 .98,24.9 1.47,24.9c.49,0 .98,-53.9 1.47,-53.9c.49,0 .98,10.8 1.47,10.8c.49,0 .98,-160.5 1.47,-160.5c.49,0 .98,232.8 1.47,232.8c.49,0 .98,-24.1 1.47,-24.1c.49,0 .98,40.5 1.47,40.5c.49,0 .98,-66.5 1.47,-66.5c.49,0 .98,81.9 1.47,81.9c.49,0 .98,-62.2 1.47,-62.2c.49,0 .98,48.2 1.47,48.2c.49,0 .98,-16.6 1.47,-30.8c.49,-14.2 .98,-69.0 1.47,-69.0c.49,0 .98,102.2 1.47,103.8c.49,1.6 .98,2.5 1.47,2.5c.49,0 .98,-79.9 1.47,-79.9c.49,0 .98,58.3 1.47,72.7c.49,14.4 .98,30.7 1.47,30.7c.49,0 .98,-11.7 1.47,-15.3c.49,-3.6 .98,-3.1 1.47,-8.3c.49,-5.2 .98,-145.2 1.47,-145.2c.49,0 .98,189.5 1.47,189.5c.49,0 .98,-132.4 1.47,-132.4c.49,0 .98,31.1 1.47,34.7c.49,3.6 .98,6.4 1.47,6.4c.49,0 .98,-11.1 1.47,-11.1c.49,0 .98,18.1 1.47,32.0c.49,13.9 .98,60.0 1.47,60.0c.49,0 .98,-68.3 1.47,-68.3c.49,0 .98,79.1 1.47,98.2c.49,19.1 .98,40.3 1.47,40.3c.49,0 .98,-15.3 1.47,-15.3c.49,0 .98,2.9 1.47,6.8c.49,3.8 .98,38.0 1.47,38.0c.49,0 .98,-9.0 1.47,-15.6c.49,-6.6 .98,-26.7 1.47,-26.7c.49,0 .98,26.9 1.47,26.9c.49,0 .98,-45.1 1.47,-95.1c.49,-49.9 .98,-352.9 1.47,-352.9c.49,0 .98,407.2 1.47,424.1c.49,16.9 .98,27.0 1.47,27.0c.49,0 .98,-27.3 1.47,-47.4c.49,-20.1 .98,-83.3 1.47,-83.3c.49,0 .98,111.0 1.47,119.3c.49,8.3 .98,13.8 1.47,13.8c.49,0 .98,-133.5 1.47,-133.5c.49,0 .98,76.9 1.47,78.8c.49,1.9 .98,1.3 1.47,2.9c.49,1.6 .98,15.0 1.47,15.0c.49,0 .98,-37.8 1.47,-70.6c.49,-32.9 .98,-163.5 1.47,-163.5c.49,0 .98,30.5 1.47,37.2c.49,6.7 .98,13.7 1.47,13.7c.49,0 .98,-170.1 1.47,-170.1c.49,0 .98,99.3 1.47,99.3c.49,0 .98,-113.2 1.47,-113.2c.49,0 .98,139.1 1.47,139.1c.49,0 .98,-95.7 1.47,-95.7c.49,0 .98,71.0 1.47,71.0c.49,0 .98,-201.1 1.47,-201.1c.49,0 .98,206.7 1.47,249.8c.49,43.1 .98,87.3 1.47,87.3c.49,0 .98,-106.8 1.47,-106.8c.49,0 .98,82.1 1.47,89.3c.49,7.2 .98,12.3 1.47,12.3c.49,0 .98,-13.7 1.47,-13.7c.49,0 .98,89.7 1.47,89.7c.49,0 .98,-19.9 1.47,-39.1c.49,-19.2 .98,-110.2 1.47,-110.2c.49,0 .98,52.4 1.47,64.1c.49,11.8 .98,24.3 1.47,24.3c.49,0 .98,-21.7 1.47,-27.9c.49,-6.3 .98,-5.7 1.47,-14.1c.49,-8.5 .98,-125.2 1.47,-125.2c.49,0 .98,224.7 1.47,224.7c.49,0 .98,-71.9 1.47,-71.9c.49,0 .98,92.9 1.47,92.9c.49,0 .98,-39.5 1.47,-54.8c.49,-15.3 .98,-39.4 1.47,-39.4c.49,0 .98,123.6 1.47,132.1c.49,8.5 .98,14.0 1.47,14.0c.49,0 .98,-13.5 1.47,-13.5c.49,0 .98,60.9 1.47,67.6c.49,6.7 .98,11.7 1.47,11.7c.49,0 .98,-10.1 1.47,-10.1c.49,0 .98,28.7 1.47,28.7c.49,0 .98,-10.6 1.47,-18.2c.49,-7.6 .98,-23.3 1.47,-30.9c.49,-7.6 .98,-7.7 1.47,-18.2c.49,-10.5 .98,-119.6 1.47,-119.6c.49,0 .98,98.8 1.47,123.2c.49,24.3 .98,51.9 1.47,51.9c.49,0 .98,-15.3 1.47,-28.9c.49,-13.7 .98,-70.2 1.47,-70.2c.49,0 .98,106.0 1.47,106.0c.49,0 .98,-45.3 1.47,-45.3c.49,0 .98,2.1 1.47,4.1c.49,2.0 .98,12.0 1.47,12.0c.49,0 .98,-113.8 1.47,-113.8c.49,0 .98,79.7 1.47,79.7c.49,0 .98,-8.2 1.47,-16.6c.49,-8.4 .98,-37.1 1.47,-52.7c.49,-15.6 .98,-42.2 1.47,-42.2c.49,0 .98,46.1 1.47,49.1c.49,3.0 .98,4.9 1.47,4.9c.49,0 .98,-99.7 1.47,-99.7c.49,0 .98,60.0 1.47,60.0c.49,0 .98,-4.7 1.47,-10.7c.49,-5.9 .98,-53.3 1.47,-53.3c.49,0 .98,50.5 1.47,50.5c.49,0 .98,-153.0 1.47,-153.0c.49,0 .98,164.7 1.47,164.7c.49,0 .98,-117.9 1.47,-117.9c.49,0 .98,26.5 1.47,35.2c.49,8.7 .98,10.8 1.47,20.8c.49,10.0 .98,54.2 1.47,54.2c.49,0 .98,-.9 1.47,-2.3c.49,-1.5 .98,-17.7 1.47,-41.7c.49,-24.0 .98,-262.8 1.47,-262.8c.49,0 .98,336.0 1.47,336.0c.49,0 .98,-101.4 1.47,-101.4c.49,0 .98,99.0 1.47,102.0c.49,3.0 .98,2.2 1.47,4.7c.49,2.5 .98,19.7 1.47,19.7c.49,0 .98,-93.9 1.47,-93.9c.49,0 .98,56.7 1.47,56.7c.49,0 .98,-43.4 1.47,-43.4c.49,0 .98,90.9 1.47,90.9c.49,0 .98,-48.8 1.47,-48.8c.49,0 .98,43.3 1.47,43.3c.49,0 .98,-82.2 1.47,-82.2c.49,0 .98,66.1 1.47,66.1c.49,0 .98,-6.0 1.47,-14.8c.49,-8.8 .98,-125.3 1.47,-125.3c.49,0 .98,87.8 1.47,99.1c.49,11.2 .98,20.3 1.47,20.3c.49,0 .98,-39.0 1.47,-39.0c.49,0 .98,4.1 1.47,7.9c.49,3.8 .98,12.5 1.47,20.7c.49,8.2 .98,23.8 1.47,30.2c.49,6.4 .98,14.0 1.47,14.0c.49,0 .98,-160.1 1.47,-160.1c.49,0 .98,157.3 1.47,157.3c.49,0 .98,-61.8 1.47,-61.8c.49,0 .98,16.8 1.47,16.8c.49,0 .98,-18.1 1.47,-28.7c.49,-10.7 .98,-36.0 1.47,-36.0c.49,0 .98,96.2 1.47,96.2c.49,0 .98,-218.3 1.47,-218.3c.49,0 .98,159.5 1.47,167.7c.49,8.3 .98,13.4 1.47,13.4c.49,0 .98,-245.3 1.47,-245.3c.49,0 .98,302.8 1.47,302.8c.49,0 .98,-170.4 1.47,-170.4c.49,0 .98,218.0 1.47,218.0c.49,0 .98,-133.1 1.47,-197.2c.49,-64.1 .98,-187.8 1.47,-187.8c.49,0 .98,313.2 1.47,313.2c.49,0 .98,-98.8 1.47,-98.8c.49,0 .98,129.1 1.47,129.1c.49,0 .98,-40.2 1.47,-40.2c.49,0 .98,1.1 1.47,2.9c.49,1.8 .98,44.8 1.47,44.8c.49,0 .98,-19.8 1.47,-23.7c.49,-4.0 .98,-8.0 1.47,-8.0c.49,0 .98,23.7 1.47,23.7c.49,0 .98,-48.1 1.47,-48.1c.49,0 .98,13.8 1.47,13.8c.49,0 .98,-141.0 1.47,-141.0c.49,0 .98,21.9 1.47,39.6c.49,17.7 .98,80.4 1.47,80.4c.49,0 .98,-189.3 1.47,-189.3c.49,0 .98,201.5 1.47,201.5c.49,0 .98,-61.7 1.47,-88.9c.49,-27.2 .98,-75.4 1.47,-75.4c.49,0 .98,78.3 1.47,78.3c.49,0 .98,-139.8 1.47,-139.8c.49,0 .98,200.3 1.47,200.3c.49,0 .98,-21.0 1.47,-34.8c.49,-13.8 .98,-51.0 1.47,-51.0c.49,0 .98,117.2 1.47,117.2c.49,0 .98,-40.4 1.47,-40.4c.49,0 .98,42.6 1.47,42.6c.49,0 .98,-28.8 1.47,-52.3c.49,-23.5 .98,-96.7 1.47,-108.1c.49,-11.5 .98,-13.1 1.47,-20.4c.49,-7.3 .98,-15.3 1.47,-23.7c.49,-8.4 .98,-26.7 1.47,-26.7c.49,0 .98,7.2 1.47,7.2c.49,0 .98,-6.9 1.47,-6.9c.49,0 .98,1.1 1.47,2.1c.49,1.0 .98,4.1 1.47,4.6c.49,.5 .98,.3 1.47,.9c.49,.6 .98,31.1 1.47,31.1c.49,0 .98,-83.6 1.47,-83.6c.49,0 .98,73.6 1.47,80.9c.49,7.4 .98,6.4 1.47,12.8c.49,6.4 .98,39.1 1.47,39.1c.49,0 .98,-63.3 1.47,-63.3c.49,0 .98,28.2 1.47,28.2c.49,0 .98,-.2 1.47,-.6c.49,-.4 .98,-29.6 1.47,-29.6c.49,0 .98,1.5 1.47,1.5c.49,0 .98,-31.5 1.47,-57.5c.49,-26.0 .98,-121.2 1.47,-121.2c.49,0 .98,326.7 1.47,344.8c.49,18.1 .98,14.9 1.47,29.5c.49,14.6 .98,85.1 1.47,85.1c.49,0 .98,-144.0 1.47,-183.4c.49,-39.4 .98,-66.7 1.47,-87.1c.49,-20.4 .98,-27.1 1.47,-47.3c.49,-20.2 .98,-84.5 1.47,-84.5c.49,0 .98,83.1 1.47,83.1c.49,0 .98,-46.5 1.47,-46.5c.49,0 .98,34.4 1.47,34.4c.49,0 .98,-48.1 1.47,-73.0c.49,-24.9 .98,-76.6 1.47,-76.6c.49,0 .98,181.0 1.47,181.0c.49,0 .98,-8.1 1.47,-18.0c.49,-9.9 .98,-83.8 1.47,-83.8c.49,0 .98,111.1 1.47,111.1c.49,0 .98,-75.7 1.47,-75.7c.49,0 .98,47.0 1.47,47.6c.49,.6 .98,.3 1.47,.9c.49,.6 .98,55.8 1.47,55.8c.49,0 .98,-16.5 1.47,-29.6c.49,-13.1 .98,-58.1 1.47,-58.1c.49,0 .98,100.3 1.47,105.0c.49,4.6 .98,7.5 1.47,7.5c.49,0 .98,-7.2 1.47,-16.7c.49,-9.5 .98,-98.1 1.47,-98.1c.49,0 .98,115.7 1.47,116.2c.49,.5 .98,.3 1.47,.8c.49,.5 .98,19.5 1.47,19.5c.49,0 .98,-67.1 1.47,-67.1c.49,0 .98,122.1 1.47,122.1c.49,0 .98,-99.8 1.47,-99.8c.49,0 .98,84.3 1.47,84.3c.49,0 .98,-81.8 1.47,-81.8c.49,0 .98,106.4 1.47,106.4c.49,0 .98,-6.4 1.47,-7.5c.49,-1.1 .98,-1.7 1.47,-2.1c.49,-.5 .98,-1.1 1.47,-1.1c.49,0 .98,10.6 1.47,10.6c.49,0 .98,-65.1 1.47,-65.1c.49,0 .98,94.7 1.47,94.7c.49,0 .98,-141.6 1.47,-141.6c.49,0 .98,148.1 1.47,159.1c.49,11.0 .98,18.4 1.47,18.4c.49,0 .98,-163.3 1.47,-163.3c.49,0 .98,210.2 1.47,210.2c.49,0 .98,-85.4 1.47,-128.1c.49,-42.7 .98,-128.0 1.47,-128.0c.49,0 .98,.6 1.47,1.9c.49,1.3 .98,131.5 1.47,158.0c.49,26.6 .98,53.3 1.47,53.3c.49,0 .98,-9.4 1.47,-22.0c.49,-12.6 .98,-133.9 1.47,-133.9c.49,0 .98,173.0 1.47,173.0c.49,0 .98,-119.2 1.47,-119.2c.49,0 .98,57.7 1.47,57.7c.49,0 .98,-126.8 1.47,-126.8c.49,0 .98,149.6 1.47,152.9c.49,3.4 .98,5.2 1.47,5.2c.49,0 .98,-36.8 1.47,-65.6c.49,-28.8 .98,-126.4 1.47,-126.4c.49,0 .98,97.0 1.47,97.0c.49,0 .98,-228.0 1.47,-228.0c.49,0 .98,172.9 1.47,172.9c.49,0 .98,-9.4 1.47,-9.4c.49,0 .98,132.5 1.47,132.5c.49,0 .98,-154.8 1.47,-154.8c.49,0 .98,45.9 1.47,72.2c.49,26.3 .98,87.2 1.47,87.2c.49,0 .98,-267.6 1.47,-267.6c.49,0 .98,252.9 1.47,252.9c.49,0 .98,-21.1 1.47,-31.3c.49,-10.2 .98,-30.2 1.47,-30.2c.49,0 .98,31.3 1.47,44.6c.49,13.3 .98,36.3 1.47,36.3c.49,0 .98,-47.5 1.47,-74.4c.49,-26.9 .98,-88.5 1.47,-88.5c.49,0 .98,132.2 1.47,135.1c.49,2.9 .98,4.5 1.47,4.5c.49,0 .98,-1.3 1.47,-3.3c.49,-2.0 .98,-30.4 1.47,-30.4c.49,0 .98,6.3 1.47,6.3c.49,0 .98,-16.7 1.47,-16.7c.49,0 .98,1.4 1.47,3.9c.49,2.5 .98,81.9 1.47,81.9c.49,0 .98,-45.9 1.47,-45.9c.49,0 .98,40.0 1.47,41.8c.49,1.8 .98,1.1 1.47,2.9c.49,1.8 .98,44.6 1.47,44.6c.49,0 .98,-191.1 1.47,-191.1c.49,0 .98,161.4 1.47,161.4c.49,0 .98,-40.2 1.47,-54.5c.49,-14.3 .98,-17.9 1.47,-35.2c.49,-17.3 .98,-99.6 1.47,-99.6c.49,0 .98,152.2 1.47,172.6c.49,20.4 .98,37.2 1.47,37.2c.49,0 .98,-271.5 1.47,-271.5c.49,0 .98,156.1 1.47,156.1c.49,0 .98,-50.8 1.47,-50.8c.49,0 .98,137.2 1.47,137.2c.49,0 .98,-.8 1.47,-.8c.49,0 .98,29.7 1.47,29.7c.49,0 .98,-180.5 1.47,-180.5c.49,0 .98,89.6 1.47,105.1c.49,15.5 .98,15.9 1.47,29.9c.49,14.0 .98,70.8 1.47,70.8c.49,0 .98,-50.3 1.47,-50.3c.49,0 .98,111.1 1.47,111.1c.49,0 .98,-126.0 1.47,-185.1c.49,-59.2 .98,-170.5 1.47,-170.5c.49,0 .98,185.2 1.47,185.2c.49,0 .98,-48.9 1.47,-48.9c.49,0 .98,90.0 1.47,90.0c.49,0 .98,-11.4 1.47,-26.2c.49,-14.8 .98,-115.8 1.47,-144.5c.49,-28.6 .98,-61.1 1.47,-61.1c.49,0 .98,43.5 1.47,75.0c.49,31.4 .98,90.9 1.47,127.2c.49,36.3 .98,74.8 1.47,95.2c.49,20.4 .98,45.1 1.47,45.1c.49,0 .98,-51.3 1.47,-91.9c.49,-40.6 .98,-180.2 1.47,-180.2c.49,0 .98,243.3 1.47,243.3c.49,0 .98,-157.0 1.47,-157.0c.49,0 .98,5.7 1.47,12.9c.49,7.2 .98,40.7 1.47,67.0c.49,26.2 .98,95.2 1.47,95.2c.49,0 .98,-15.4 1.47,-15.4c.49,0 .98,49.9 1.47,49.9c.49,0 .98,-193.1 1.47,-231.0c.49,-37.9 .98,-75.4 1.47,-75.4c.49,0 .98,132.1 1.47,132.1c.49,0 .98,-54.3 1.47,-54.3c.49,0 .98,30.8 1.47,30.8c.49,0 .98,-42.1 1.47,-69.2c.49,-27.0 .98,-98.0 1.47,-98.0c.49,0 .98,51.2 1.47,51.2c.49,0 .98,-77.3 1.47,-77.3c.49,0 .98,128.0 1.47,128.0c.49,0 .98,-278.9 1.47,-278.9c.49,0 .98,86.4 1.47,144.2c.49,57.8 .98,217.3 1.47,217.3c.49,0 .98,-39.4 1.47,-60.4c.49,-21.1 .98,-58.4 1.47,-66.2c.49,-7.7 .98,-14.1 1.47,-14.1c.49,0 .98,95.0 1.47,95.0c.49,0 .98,-99.3 1.47,-122.9c.49,-23.7 .98,-50.0 1.47,-50.0c.49,0 .98,39.3 1.47,62.4c.49,23.1 .98,61.6 1.47,78.1c.49,16.5 .98,26.5 1.47,36.3c.49,9.8 .98,24.8 1.47,24.8c.49,0 .98,-27.6 1.47,-27.6c.49,0 .98,38.7 1.47,38.7c.49,0 .98,-63.2 1.47,-63.2c.49,0 .98,67.4 1.47,67.4c.49,0 .98,-157.7 1.47,-157.7c.49,0 .98,116.7 1.47,116.7c.49,0 .98,-93.4 1.47,-93.4c.49,0 .98,92.3 1.47,92.3c.49,0 .98,-17.7 1.47,-17.7c.49,0 .98,19.4 1.47,19.4c.49,0 .98,-64.3 1.47,-98.2c.49,-33.9 .98,-105.6 1.47,-105.6c.49,0 .98,135.3 1.47,188.6c.49,53.3 .98,120.7 1.47,138.8c.49,18.1 .98,21.9 1.47,33.9c.49,12.0 .98,21.7 1.47,38.2c.49,16.5 .98,69.8 1.47,69.8c.49,0 .98,-192.2 1.47,-192.2c.49,0 .98,97.6 1.47,97.6c.49,0 .98,-72.7 1.47,-72.7c.49,0 .98,117.2 1.47,117.2c.49,0 .98,-78.7 1.47,-78.7c.49,0 .98,102.6 1.47,102.6c.49,0 .98,-78.5 1.47,-78.5c.49,0 .98,54.3 1.47,67.5c.49,13.1 .98,27.8 1.47,27.8c.49,0 .98,-127.3 1.47,-127.3c.49,0 .98,69.4 1.47,70.2c.49,.8 .98,1.3 1.47,1.3c.49,0 .98,-42.2 1.47,-42.2c.49,0 .98,20.8 1.47,20.8c.49,0 .98,-5.9 1.47,-5.9c.49,0 .98,31.7 1.47,31.7c.49,0 .98,-16.1 1.47,-16.1c.49,0 .98,19.3 1.47,19.3c.49,0 .98,-77.3 1.47,-77.3c.49,0 .98,94.0 1.47,95.5c.49,1.5 .98,2.4 1.47,2.4c.49,0 .98,-2.3 1.47,-6.0c.49,-3.7 .98,-50.8 1.47,-75.4c.49,-24.7 .98,-72.7 1.47,-72.7c.49,0 .98,61.2 1.47,84.1c.49,22.9 .98,41.1 1.47,58.2c.49,17.0 .98,45.5 1.47,45.5c.49,0 .98,-330.8 1.47,-330.8c.49,0 .98,92.8 1.47,136.3c.49,43.5 .98,125.0 1.47,125.0c.49,0 .98,-50.0 1.47,-50.0c.49,0 .98,29.6 1.47,29.6c.49,0 .98,-80.9 1.47,-80.9c.49,0 .98,66.0 1.47,66.0c.49,0 .98,-71.7 1.47,-71.7c.49,0 .98,58.1 1.47,61.2c.49,3.0 .98,4.9 1.47,4.9c.49,0 .98,-48.6 1.47,-48.6c.49,0 .98,94.5 1.47,94.5c.49,0 .98,-104.6 1.47,-104.6c.49,0 .98,87.8 1.47,87.8c.49,0 .98,-174.3 1.47,-174.3c.49,0 .98,71.9 1.47,71.9c.49,0 .98,-119.5 1.47,-119.5c.49,0 .98,33.2 1.47,65.0c.49,31.8 .98,178.7 1.47,178.7c.49,0 .98,-105.3 1.47,-105.3c.49,0 .98,78.8 1.47,80.2c.49,1.3 .98,2.1 1.47,2.1c.49,0 .98,-110.8 1.47,-110.8c.49,0 .98,155.1 1.47,155.1c.49,0 .98,-9.2 1.47,-22.4c.49,-13.2 .98,-172.1 1.47,-172.1c.49,0 .98,96.8 1.47,96.8c.49,0 .98,-71.4 1.47,-96.7c.49,-25.3 .98,-62.6 1.47,-62.6c.49,0 .98,128.7 1.47,128.7c.49,0 .98,-2.5 1.47,-2.5c.49,0 .98,69.0 1.47,69.0c.49,0 .98,-7.0 1.47,-7.0c.49,0 .98,10.0 1.47,10.0c.49,0 .98,-58.8 1.47,-58.8c.49,0 .98,3.8 1.47,3.8c.49,0 .98,-24.8 1.47,-28.2c.49,-3.4 .98,-6.1 1.47,-6.1c.49,0 .98,14.9 1.47,14.9c.49,0 .98,-27.0 1.47,-27.0c.49,0 .98,40.7 1.47,40.7c.49,0 .98,-23.5 1.47,-30.8c.49,-7.3 .98,-6.8 1.47,-16.9c.49,-10.1 .98,-140.8 1.47,-140.8c.49,0 .98,166.6 1.47,166.6c.49,0 .98,-136.9 1.47,-136.9c.49,0 .98,81.9 1.47,93.1c.49,11.2 .98,20.5 1.47,20.5c.49,0 .98,-199.5 1.47,-199.5c.49,0 .98,39.6 1.47,77.2c.49,37.6 .98,209.3 1.47,209.3c.49,0 .98,-51.4 1.47,-51.4c.49,0 .98,126.6 1.47,126.6c.49,0 .98,-33.7 1.47,-66.1c.49,-32.4 .98,-165.1 1.47,-183.8c.49,-18.7 .98,-33.2 1.47,-33.2c.49,0 .98,229.4 1.47,229.4c.49,0 .98,-4.9 1.47,-12.2c.49,-7.3 .98,-107.0 1.47,-107.0c.49,0 .98,203.3 1.47,203.3c.49,0 .98,-94.6 1.47,-114.5c.49,-20.0 .98,-26.2 1.47,-40.6c.49,-14.4 .98,-30.7 1.47,-46.3c.49,-15.6 .98,-32.7 1.47,-47.6c.49,-14.8 .98,-41.9 1.47,-41.9c.49,0 .98,4.3 1.47,4.3c.49,0 .98,-63.6 1.47,-63.6c.49,0 .98,73.3 1.47,73.3c.49,0 .98,-32.3 1.47,-41.7c.49,-9.4 .98,-10.1 1.47,-21.3c.49,-11.2 .98,-79.2 1.47,-79.2c.49,0 .98,109.4 1.47,109.4c.49,0 .98,-212.3 1.47,-212.3c.49,0 .98,150.2 1.47,164.0c.49,13.7 .98,14.8 1.47,23.5c.49,8.7 .98,21.4 1.47,29.4c.49,8.1 .98,20.6 1.47,20.6c.49,0 .98,-8.4 1.47,-21.0c.49,-12.6 .98,-193.3 1.47,-193.3c.49,0 .98,98.8 1.47,98.8c.49,0 .98,-193.2 1.47,-193.2c.49,0 .98,304.4 1.47,304.4c.49,0 .98,-55.8 1.47,-55.8c.49,0 .98,57.5 1.47,68.4c.49,11.0 .98,21.6 1.47,21.6c.49,0 .98,-75.5 1.47,-75.5c.49,0 .98,154.8 1.47,154.8c.49,0 .98,-22.9 1.47,-24.6c.49,-1.6 .98,-2.7 1.47,-2.7c.49,0 .98,35.3 1.47,35.3c.49,0 .98,-85.3 1.47,-85.3c.49,0 .98,84.0 1.47,84.0c.49,0 .98,-12.0 1.47,-18.0L1278,632.4 L1278,980 Z"/>
<path id="p0oth" d="M-6,980 L-6,583.7 L0,583.7c.49,29.9 .98,89.8 1.47,89.8c.49,0 .98,-110.6 1.47,-110.6c.49,0 .98,71.8 1.47,71.8c.49,0 .98,-61.6 1.47,-61.6c.49,0 .98,48.0 1.47,60.2c.49,12.2 .98,26.4 1.47,26.4c.49,0 .98,-105.7 1.47,-105.7c.49,0 .98,68.6 1.47,68.6c.49,0 .98,-138.4 1.47,-138.4c.49,0 .98,138.7 1.47,138.7c.49,0 .98,-20.3 1.47,-37.2c.49,-16.9 .98,-79.3 1.47,-79.3c.49,0 .98,93.1 1.47,93.1c.49,0 .98,-113.7 1.47,-113.7c.49,0 .98,114.5 1.47,114.5c.49,0 .98,-50.0 1.47,-57.6c.49,-7.6 .98,-7.8 1.47,-14.1c.49,-6.3 .98,-16.6 1.47,-28.5c.49,-11.9 .98,-47.7 1.47,-47.7c.49,0 .98,107.2 1.47,107.2c.49,0 .98,-3.2 1.47,-8.8c.49,-5.6 .98,-179.5 1.47,-179.5c.49,0 .98,158.8 1.47,158.8c.49,0 .98,-136.6 1.47,-136.6c.49,0 .98,72.8 1.47,88.9c.49,16.1 .98,33.2 1.47,33.2c.49,0 .98,-158.7 1.47,-158.7c.49,0 .98,147.0 1.47,147.0c.49,0 .98,-125.1 1.47,-125.1c.49,0 .98,58.5 1.47,87.4c.49,28.9 .98,85.8 1.47,85.8c.49,0 .98,-82.3 1.47,-82.3c.49,0 .98,57.8 1.47,57.8c.49,0 .98,-168.4 1.47,-168.4c.49,0 .98,248.2 1.47,248.2c.49,0 .98,-179.4 1.47,-179.4c.49,0 .98,169.0 1.47,169.0c.49,0 .98,-160.7 1.47,-160.7c.49,0 .98,88.6 1.47,88.6c.49,0 .98,-104.9 1.47,-104.9c.49,0 .98,173.4 1.47,184.8c.49,11.3 .98,18.7 1.47,18.7c.49,0 .98,-163.3 1.47,-163.3c.49,0 .98,156.5 1.47,156.5c.49,0 .98,-123.0 1.47,-123.0c.49,0 .98,148.1 1.47,148.1c.49,0 .98,-99.6 1.47,-99.6c.49,0 .98,57.5 1.47,57.5c.49,0 .98,-150.8 1.47,-150.8c.49,0 .98,136.5 1.47,136.5c.49,0 .98,-8.5 1.47,-19.3c.49,-10.8 .98,-102.9 1.47,-102.9c.49,0 .98,131.9 1.47,131.9c.49,0 .98,-.2 1.47,-.6c.49,-.4 .98,-18.8 1.47,-18.8c.49,0 .98,62.7 1.47,62.7c.49,0 .98,-62.9 1.47,-62.9c.49,0 .98,97.1 1.47,97.1c.49,0 .98,-112.4 1.47,-112.4c.49,0 .98,35.1 1.47,35.1c.49,0 .98,-91.5 1.47,-91.5c.49,0 .98,69.5 1.47,75.4c.49,5.9 .98,3.8 1.47,10.0c.49,6.2 .98,128.9 1.47,128.9c.49,0 .98,-210.6 1.47,-210.6c.49,0 .98,146.7 1.47,146.7c.49,0 .98,-40.7 1.47,-40.7c.49,0 .98,5.4 1.47,5.4c.49,0 .98,-137.7 1.47,-137.7c.49,0 .98,38.1 1.47,58.0c.49,19.9 .98,53.2 1.47,61.6c.49,8.4 .98,6.9 1.47,15.8c.49,9.0 .98,89.6 1.47,89.6c.49,0 .98,-79.8 1.47,-86.6c.49,-6.8 .98,-11.6 1.47,-11.6c.49,0 .98,.3 1.47,.3c.49,0 .98,-14.8 1.47,-30.1c.49,-15.3 .98,-95.8 1.47,-95.8c.49,0 .98,163.2 1.47,163.2c.49,0 .98,-211.8 1.47,-211.8c.49,0 .98,73.3 1.47,94.8c.49,21.5 .98,48.8 1.47,48.8c.49,0 .98,-24.1 1.47,-37.1c.49,-13.0 .98,-41.3 1.47,-41.3c.49,0 .98,71.2 1.47,71.2c.49,0 .98,-87.6 1.47,-87.6c.49,0 .98,92.9 1.47,92.9c.49,0 .98,-1.1 1.47,-1.1c.49,0 .98,5.8 1.47,5.8c.49,0 .98,-48.1 1.47,-48.1c.49,0 .98,75.6 1.47,75.6c.49,0 .98,-111.1 1.47,-111.1c.49,0 .98,164.9 1.47,182.5c.49,17.7 .98,31.0 1.47,31.0c.49,0 .98,-10.3 1.47,-22.6c.49,-12.3 .98,-101.6 1.47,-101.6c.49,0 .98,49.9 1.47,49.9c.49,0 .98,-98.8 1.47,-98.8c.49,0 .98,171.9 1.47,171.9c.49,0 .98,-198.4 1.47,-198.4c.49,0 .98,172.9 1.47,172.9c.49,0 .98,-179.1 1.47,-179.1c.49,0 .98,169.2 1.47,169.2c.49,0 .98,-16.5 1.47,-28.1c.49,-11.7 .98,-46.4 1.47,-46.4c.49,0 .98,43.6 1.47,43.6c.49,0 .98,-17.0 1.47,-35.0c.49,-17.9 .98,-116.9 1.47,-116.9c.49,0 .98,192.6 1.47,192.6c.49,0 .98,-60.1 1.47,-93.3c.49,-33.1 .98,-106.3 1.47,-106.3c.49,0 .98,190.7 1.47,190.7c.49,0 .98,-7.2 1.47,-18.4c.49,-11.2 .98,-195.8 1.47,-195.8c.49,0 .98,84.8 1.47,115.6c.49,30.9 .98,77.2 1.47,77.2c.49,0 .98,-4.4 1.47,-11.9c.49,-7.5 .98,-193.7 1.47,-193.7c.49,0 .98,75.9 1.47,75.9c.49,0 .98,-144.3 1.47,-144.3c.49,0 .98,222.0 1.47,222.0c.49,0 .98,-23.3 1.47,-37.3c.49,-14.0 .98,-48.0 1.47,-48.0c.49,0 .98,87.6 1.47,110.7c.49,23.0 .98,50.2 1.47,50.2c.49,0 .98,-71.3 1.47,-71.3c.49,0 .98,77.8 1.47,88.5c.49,10.7 .98,15.6 1.47,19.6c.49,4.0 .98,3.5 1.47,8.8c.49,5.3 .98,87.5 1.47,87.5c.49,0 .98,-274.1 1.47,-274.1c.49,0 .98,38.2 1.47,48.0c.49,9.8 .98,11.1 1.47,21.1c.49,10.0 .98,51.5 1.47,51.5c.49,0 .98,-122.2 1.47,-122.2c.49,0 .98,158.1 1.47,158.1c.49,0 .98,-95.3 1.47,-95.3c.49,0 .98,10.8 1.47,16.8c.49,6.0 .98,19.7 1.47,19.7c.49,0 .98,-129.2 1.47,-129.2c.49,0 .98,172.6 1.47,172.6c.49,0 .98,-39.9 1.47,-39.9c.49,0 .98,14.5 1.47,14.5c.49,0 .98,-60.0 1.47,-60.0c.49,0 .98,88.0 1.47,90.5c.49,2.4 .98,3.8 1.47,3.8c.49,0 .98,-182.2 1.47,-182.2c.49,0 .98,39.6 1.47,55.6c.49,16.0 .98,42.4 1.47,42.4c.49,0 .98,-84.4 1.47,-84.4c.49,0 .98,155.1 1.47,155.1c.49,0 .98,-176.1 1.47,-176.1c.49,0 .98,115.6 1.47,115.6c.49,0 .98,-147.7 1.47,-147.7c.49,0 .98,13.7 1.47,13.7c.49,0 .98,-36.2 1.47,-36.2c.49,0 .98,16.0 1.47,16.0c.49,0 .98,-184.4 1.47,-184.4c.49,0 .98,223.9 1.47,223.9c.49,0 .98,-37.3 1.47,-37.3c.49,0 .98,154.5 1.47,206.0c.49,51.5 .98,115.2 1.47,123.6c.49,8.4 .98,7.9 1.47,14.0c.49,6.2 .98,18.2 1.47,27.1c.49,9.0 .98,26.7 1.47,26.7c.49,0 .98,-42.3 1.47,-48.1c.49,-5.8 .98,-10.6 1.47,-10.6c.49,0 .98,23.8 1.47,23.8c.49,0 .98,-24.7 1.47,-24.7c.49,0 .98,14.0 1.47,14.0c.49,0 .98,-33.1 1.47,-33.1c.49,0 .98,35.3 1.47,35.3c.49,0 .98,-32.5 1.47,-42.8c.49,-10.3 .98,-24.2 1.47,-24.2c.49,0 .98,63.7 1.47,63.7c.49,0 .98,-57.2 1.47,-62.2c.49,-5.0 .98,-3.9 1.47,-8.5c.49,-4.5 .98,-34.0 1.47,-34.0c.49,0 .98,63.9 1.47,63.9c.49,0 .98,-86.8 1.47,-86.8c.49,0 .98,57.2 1.47,57.2c.49,0 .98,-7.0 1.47,-15.9c.49,-9.0 .98,-85.8 1.47,-85.8c.49,0 .98,37.6 1.47,37.6c.49,0 .98,-21.3 1.47,-21.3c.49,0 .98,42.2 1.47,42.2c.49,0 .98,-9.0 1.47,-21.4c.49,-12.5 .98,-141.6 1.47,-145.0c.49,-3.4 .98,-5.3 1.47,-5.3c.49,0 .98,181.5 1.47,181.5c.49,0 .98,-76.0 1.47,-76.0c.49,0 .98,64.9 1.47,76.8c.49,11.9 .98,23.1 1.47,23.1c.49,0 .98,-18.3 1.47,-34.0c.49,-15.7 .98,-76.6 1.47,-76.6c.49,0 .98,45.3 1.47,45.3c.49,0 .98,-29.2 1.47,-53.8c.49,-24.5 .98,-116.3 1.47,-116.3c.49,0 .98,130.4 1.47,141.6c.49,11.2 .98,19.1 1.47,19.1c.49,0 .98,-164.2 1.47,-164.2c.49,0 .98,124.9 1.47,124.9c.49,0 .98,-52.9 1.47,-52.9c.49,0 .98,25.4 1.47,25.4c.49,0 .98,-151.6 1.47,-151.6c.49,0 .98,201.8 1.47,201.8c.49,0 .98,-68.6 1.47,-68.6c.49,0 .98,73.2 1.47,80.7c.49,7.5 .98,13.1 1.47,13.1c.49,0 .98,-151.6 1.47,-151.6c.49,0 .98,81.8 1.47,81.8c.49,0 .98,-90.5 1.47,-90.5c.49,0 .98,74.1 1.47,85.3c.49,11.2 .98,21.0 1.47,21.0c.49,0 .98,-24.2 1.47,-24.2c.49,0 .98,72.4 1.47,78.9c.49,6.5 .98,11.2 1.47,11.2c.49,0 .98,-256.0 1.47,-258.5c.49,-2.5 .98,-3.9 1.47,-3.9c.49,0 .98,299.0 1.47,299.0c.49,0 .98,-52.5 1.47,-52.5c.49,0 .98,7.8 1.47,16.8c.49,9.0 .98,68.2 1.47,68.2c.49,0 .98,-138.5 1.47,-138.5c.49,0 .98,191.7 1.47,191.7c.49,0 .98,-156.6 1.47,-156.6c.49,0 .98,43.8 1.47,43.8c.49,0 .98,-61.9 1.47,-61.9c.49,0 .98,65.6 1.47,69.2c.49,3.5 .98,5.7 1.47,5.7c.49,0 .98,-124.9 1.47,-124.9c.49,0 .98,124.9 1.47,124.9c.49,0 .98,-5.2 1.47,-12.4c.49,-7.3 .98,-87.0 1.47,-87.0c.49,0 .98,126.2 1.47,126.2c.49,0 .98,-140.3 1.47,-140.3c.49,0 .98,163.0 1.47,163.0c.49,0 .98,-207.6 1.47,-207.6c.49,0 .98,200.3 1.47,200.3c.49,0 .98,-30.0 1.47,-50.5c.49,-20.5 .98,-78.4 1.47,-78.4c.49,0 .98,204.8 1.47,204.8c.49,0 .98,-153.4 1.47,-153.4c.49,0 .98,13.6 1.47,13.6c.49,0 .98,-175.8 1.47,-175.8c.49,0 .98,61.2 1.47,90.2c.49,29.0 .98,83.9 1.47,83.9c.49,0 .98,-45.7 1.47,-45.7c.49,0 .98,18.4 1.47,18.4c.49,0 .98,-225.5 1.47,-225.5c.49,0 .98,215.4 1.47,215.4c.49,0 .98,-39.6 1.47,-39.6c.49,0 .98,34.7 1.47,40.0c.49,5.3 .98,9.9 1.47,9.9c.49,0 .98,-19.0 1.47,-33.4c.49,-14.5 .98,-62.0 1.47,-62.0c.49,0 .98,129.0 1.47,129.0c.49,0 .98,-18.9 1.47,-34.1c.49,-15.1 .98,-68.1 1.47,-68.1c.49,0 .98,32.2 1.47,32.2c.49,0 .98,-7.8 1.47,-7.8c.49,0 .98,43.9 1.47,43.9c.49,0 .98,-35.3 1.47,-35.3c.49,0 .98,3.0 1.47,3.0c.49,0 .98,-116.3 1.47,-116.3c.49,0 .98,148.4 1.47,148.4c.49,0 .98,-93.6 1.47,-124.3c.49,-30.7 .98,-73.1 1.47,-73.1c.49,0 .98,178.6 1.47,198.5c.49,19.9 .98,35.2 1.47,35.2c.49,0 .98,-50.2 1.47,-50.2c.49,0 .98,124.6 1.47,124.6c.49,0 .98,-88.4 1.47,-102.5c.49,-14.2 .98,-11.7 1.47,-26.8c.49,-15.0 .98,-143.5 1.47,-143.5c.49,0 .98,144.0 1.47,144.0c.49,0 .98,-93.2 1.47,-93.2c.49,0 .98,13.2 1.47,13.2c.49,0 .98,-86.7 1.47,-86.7c.49,0 .98,64.8 1.47,64.8c.49,0 .98,-21.2 1.47,-45.1c.49,-23.8 .98,-173.3 1.47,-173.3c.49,0 .98,183.3 1.47,183.3c.49,0 .98,-4.9 1.47,-4.9c.49,0 .98,28.0 1.47,28.0c.49,0 .98,-176.1 1.47,-176.1c.49,0 .98,113.4 1.47,113.4c.49,0 .98,-78.8 1.47,-104.9c.49,-26.1 .98,-46.4 1.47,-62.6c.49,-16.2 .98,-39.7 1.47,-39.7c.49,0 .98,48.5 1.47,84.6c.49,36.1 .98,150.7 1.47,150.7c.49,0 .98,-132.3 1.47,-132.3c.49,0 .98,175.7 1.47,175.7c.49,0 .98,-1.9 1.47,-5.1c.49,-3.2 .98,-83.2 1.47,-83.2c.49,0 .98,70.0 1.47,70.0c.49,0 .98,-157.0 1.47,-157.0c.49,0 .98,35.5 1.47,63.4c.49,27.9 .98,106.4 1.47,122.5c.49,16.1 .98,30.1 1.47,30.1c.49,0 .98,-144.6 1.47,-144.6c.49,0 .98,165.9 1.47,165.9c.49,0 .98,-13.7 1.47,-29.4c.49,-15.7 .98,-119.3 1.47,-119.3c.49,0 .98,7.8 1.47,17.4c.49,9.6 .98,72.0 1.47,84.7c.49,12.8 .98,24.7 1.47,24.7c.49,0 .98,-77.0 1.47,-77.0c.49,0 .98,110.7 1.47,110.7c.49,0 .98,-81.5 1.47,-81.5c.49,0 .98,89.9 1.47,89.9c.49,0 .98,-42.6 1.47,-42.6c.49,0 .98,40.9 1.47,44.9c.49,4.0 .98,2.7 1.47,6.9c.49,4.2 .98,63.6 1.47,79.4c.49,15.8 .98,33.8 1.47,33.8c.49,0 .98,-244.3 1.47,-244.3c.49,0 .98,205.9 1.47,205.9c.49,0 .98,-62.9 1.47,-94.2c.49,-31.3 .98,-93.5 1.47,-93.5c.49,0 .98,54.0 1.47,54.0c.49,0 .98,-8.4 1.47,-20.1c.49,-11.6 .98,-133.5 1.47,-133.5c.49,0 .98,77.8 1.47,113.1c.49,35.3 .98,99.8 1.47,99.8c.49,0 .98,-279.3 1.47,-279.3c.49,0 .98,18.1 1.47,41.8c.49,23.7 .98,239.8 1.47,239.8c.49,0 .98,-95.8 1.47,-95.8c.49,0 .98,23.4 1.47,39.1c.49,15.7 .98,59.5 1.47,59.5c.49,0 .98,-89.9 1.47,-119.3c.49,-29.4 .98,-70.0 1.47,-70.0c.49,0 .98,174.3 1.47,174.3c.49,0 .98,-14.6 1.47,-19.7c.49,-5.1 .98,-4.9 1.47,-12.4c.49,-7.5 .98,-86.6 1.47,-119.7c.49,-33.1 .98,-85.0 1.47,-85.0c.49,0 .98,149.4 1.47,172.1c.49,22.7 .98,23.2 1.47,42.5c.49,19.3 .98,90.5 1.47,90.5c.49,0 .98,-15.8 1.47,-34.7c.49,-19.0 .98,-157.3 1.47,-157.3c.49,0 .98,81.3 1.47,81.3c.49,0 .98,-91.5 1.47,-91.5c.49,0 .98,130.0 1.47,132.2c.49,2.2 .98,1.7 1.47,3.3c.49,1.7 .98,10.2 1.47,10.2c.49,0 .98,-12.0 1.47,-26.3c.49,-14.3 .98,-115.0 1.47,-115.0c.49,0 .98,128.9 1.47,128.9c.49,0 .98,-19.2 1.47,-32.6c.49,-13.4 .98,-52.3 1.47,-52.3c.49,0 .98,37.7 1.47,37.7c.49,0 .98,-121.9 1.47,-121.9c.49,0 .98,51.5 1.47,75.5c.49,24.0 .98,68.8 1.47,68.8c.49,0 .98,-68.1 1.47,-68.1c.49,0 .98,.9 1.47,.9c.49,0 .98,-6.2 1.47,-6.2c.49,0 .98,12.9 1.47,12.9c.49,0 .98,-57.9 1.47,-57.9c.49,0 .98,55.0 1.47,55.0c.49,0 .98,-71.4 1.47,-71.4c.49,0 .98,88.4 1.47,88.4c.49,0 .98,-70.2 1.47,-70.2c.49,0 .98,54.6 1.47,63.0c.49,8.4 .98,14.3 1.47,15.8c.49,1.5 .98,2.6 1.47,2.6c.49,0 .98,-26.4 1.47,-26.4c.49,0 .98,4.3 1.47,4.3c.49,0 .98,-158.5 1.47,-158.5c.49,0 .98,231.8 1.47,231.8c.49,0 .98,-18.9 1.47,-18.9c.49,0 .98,36.6 1.47,36.6c.49,0 .98,-65.1 1.47,-65.1c.49,0 .98,84.2 1.47,84.2c.49,0 .98,-61.8 1.47,-61.8c.49,0 .98,43.8 1.47,43.8c.49,0 .98,-15.5 1.47,-29.0c.49,-13.5 .98,-67.2 1.47,-67.2c.49,0 .98,96.4 1.47,99.7c.49,3.3 .98,5.2 1.47,5.2c.49,0 .98,-80.4 1.47,-80.4c.49,0 .98,61.6 1.47,75.3c.49,13.7 .98,28.2 1.47,28.2c.49,0 .98,-13.0 1.47,-15.8c.49,-2.8 .98,-2.0 1.47,-5.6c.49,-3.6 .98,-148.5 1.47,-148.5c.49,0 .98,188.0 1.47,188.0c.49,0 .98,-126.5 1.47,-126.5c.49,0 .98,23.6 1.47,29.2c.49,5.6 .98,11.7 1.47,11.7c.49,0 .98,-16.2 1.47,-16.2c.49,0 .98,16.7 1.47,30.5c.49,13.7 .98,63.7 1.47,63.7c.49,0 .98,-68.9 1.47,-68.9c.49,0 .98,84.2 1.47,101.9c.49,17.8 .98,36.0 1.47,36.0c.49,0 .98,-16.1 1.47,-16.1c.49,0 .98,4.8 1.47,9.9c.49,5.1 .98,34.4 1.47,34.4c.49,0 .98,-5.0 1.47,-10.0c.49,-5.0 .98,-30.1 1.47,-30.1c.49,0 .98,27.8 1.47,27.8c.49,0 .98,-47.3 1.47,-98.6c.49,-51.3 .98,-349.9 1.47,-349.9c.49,0 .98,411.4 1.47,426.4c.49,15.0 .98,23.8 1.47,23.8c.49,0 .98,-28.6 1.47,-48.6c.49,-19.9 .98,-77.9 1.47,-77.9c.49,0 .98,112.1 1.47,117.7c.49,5.7 .98,9.2 1.47,9.2c.49,0 .98,-132.9 1.47,-132.9c.49,0 .98,83.8 1.47,83.8c.49,0 .98,-.2 1.47,-.2c.49,0 .98,16.7 1.47,16.7c.49,0 .98,-36.6 1.47,-69.4c.49,-32.8 .98,-169.5 1.47,-169.5c.49,0 .98,37.0 1.47,42.2c.49,5.1 .98,9.4 1.47,9.4c.49,0 .98,-168.6 1.47,-168.6c.49,0 .98,103.2 1.47,103.2c.49,0 .98,-119.9 1.47,-119.9c.49,0 .98,141.5 1.47,141.5c.49,0 .98,-98.2 1.47,-98.2c.49,0 .98,72.7 1.47,72.7c.49,0 .98,-201.5 1.47,-201.5c.49,0 .98,204.9 1.47,249.4c.49,44.5 .98,91.2 1.47,91.2c.49,0 .98,-106.7 1.47,-106.7c.49,0 .98,31.0 1.47,44.9c.49,14.0 .98,36.8 1.47,39.3c.49,2.5 .98,1.6 1.47,4.1c.49,2.5 .98,43.4 1.47,46.5c.49,3.1 .98,5.1 1.47,5.1c.49,0 .98,-113.5 1.47,-113.5c.49,0 .98,52.8 1.47,64.2c.49,11.4 .98,23.2 1.47,23.2c.49,0 .98,-19.1 1.47,-25.9c.49,-6.8 .98,-7.0 1.47,-17.0c.49,-9.9 .98,-122.8 1.47,-122.8c.49,0 .98,223.6 1.47,223.6c.49,0 .98,-67.1 1.47,-67.1c.49,0 .98,87.0 1.47,87.0c.49,0 .98,-35.7 1.47,-53.8c.49,-18.1 .98,-54.8 1.47,-54.8c.49,0 .98,133.5 1.47,145.0c.49,11.5 .98,19.5 1.47,19.5c.49,0 .98,-14.6 1.47,-14.6c.49,0 .98,59.7 1.47,66.1c.49,6.4 .98,11.2 1.47,11.2c.49,0 .98,-9.4 1.47,-9.4c.49,0 .98,29.0 1.47,29.0c.49,0 .98,-7.5 1.47,-14.2c.49,-6.7 .98,-25.6 1.47,-34.4c.49,-8.8 .98,-9.3 1.47,-21.3c.49,-12.0 .98,-114.6 1.47,-114.6c.49,0 .98,98.7 1.47,122.5c.49,23.8 .98,50.4 1.47,50.4c.49,0 .98,-16.6 1.47,-30.9c.49,-14.4 .98,-70.8 1.47,-70.8c.49,0 .98,111.3 1.47,111.3c.49,0 .98,-50.3 1.47,-50.3c.49,0 .98,1.3 1.47,3.1c.49,1.7 .98,18.6 1.47,18.6c.49,0 .98,-115.6 1.47,-115.6c.49,0 .98,75.6 1.47,75.6c.49,0 .98,-8.2 1.47,-16.7c.49,-8.4 .98,-37.1 1.47,-52.1c.49,-15.0 .98,-39.7 1.47,-39.7c.49,0 .98,48.8 1.47,51.5c.49,2.6 .98,4.3 1.47,4.3c.49,0 .98,-100.5 1.47,-100.5c.49,0 .98,57.2 1.47,57.2c.49,0 .98,-2.8 1.47,-6.9c.49,-4.1 .98,-54.6 1.47,-54.6c.49,0 .98,51.4 1.47,51.4c.49,0 .98,-154.4 1.47,-154.4c.49,0 .98,165.2 1.47,165.2c.49,0 .98,-117.4 1.47,-117.4c.49,0 .98,21.8 1.47,30.6c.49,8.7 .98,12.3 1.47,22.9c.49,10.7 .98,52.3 1.47,52.8c.49,.6 .98,.8 1.47,.8c.49,0 .98,-16.9 1.47,-40.2c.49,-23.3 .98,-266.0 1.47,-266.0c.49,0 .98,337.5 1.47,337.5c.49,0 .98,-105.2 1.47,-105.2c.49,0 .98,100.9 1.47,105.4c.49,4.6 .98,3.9 1.47,7.3c.49,3.4 .98,17.5 1.47,17.5c.49,0 .98,-95.8 1.47,-95.8c.49,0 .98,57.8 1.47,57.8c.49,0 .98,-44.8 1.47,-44.8c.49,0 .98,95.2 1.47,95.2c.49,0 .98,-52.0 1.47,-52.0c.49,0 .98,42.7 1.47,42.7c.49,0 .98,-113.3 1.47,-113.3c.49,0 .98,100.6 1.47,100.6c.49,0 .98,-7.3 1.47,-17.4c.49,-10.2 .98,-121.1 1.47,-121.1c.49,0 .98,80.2 1.47,93.2c.49,13.0 .98,24.7 1.47,24.7c.49,0 .98,-40.7 1.47,-40.7c.49,0 .98,2.7 1.47,5.7c.49,3.0 .98,12.0 1.47,20.7c.49,8.6 .98,30.5 1.47,34.7c.49,4.2 .98,7.8 1.47,7.8c.49,0 .98,-160.2 1.47,-160.2c.49,0 .98,114.6 1.47,114.6c.49,0 .98,-13.4 1.47,-13.4c.49,0 .98,13.9 1.47,13.9c.49,0 .98,-16.8 1.47,-26.9c.49,-10.1 .98,-34.4 1.47,-34.4c.49,0 .98,97.0 1.47,97.0c.49,0 .98,-221.9 1.47,-221.9c.49,0 .98,163.4 1.47,170.2c.49,6.7 .98,10.7 1.47,10.7c.49,0 .98,-242.2 1.47,-242.2c.49,0 .98,300.7 1.47,300.7c.49,0 .98,-171.5 1.47,-171.5c.49,0 .98,217.6 1.47,217.6c.49,0 .98,-131.2 1.47,-195.0c.49,-63.9 .98,-188.3 1.47,-188.3c.49,0 .98,316.0 1.47,316.0c.49,0 .98,-106.2 1.47,-106.2c.49,0 .98,79.7 1.47,85.9c.49,6.2 .98,10.4 1.47,10.4c.49,0 .98,-2.6 1.47,-2.6c.49,0 .98,49.6 1.47,49.6c.49,0 .98,-27.3 1.47,-30.5c.49,-3.2 .98,-5.6 1.47,-5.6c.49,0 .98,28.1 1.47,28.1c.49,0 .98,-47.1 1.47,-52.1c.49,-5.0 .98,-3.3 1.47,-8.7c.49,-5.4 .98,-120.7 1.47,-120.7c.49,0 .98,25.3 1.47,44.4c.49,19.2 .98,81.5 1.47,81.5c.49,0 .98,-189.6 1.47,-189.6c.49,0 .98,199.1 1.47,199.1c.49,0 .98,-61.7 1.47,-88.7c.49,-27.1 .98,-74.9 1.47,-74.9c.49,0 .98,74.1 1.47,74.1c.49,0 .98,-135.0 1.47,-135.0c.49,0 .98,200.6 1.47,200.6c.49,0 .98,-23.1 1.47,-37.8c.49,-14.6 .98,-52.3 1.47,-52.3c.49,0 .98,120.4 1.47,120.4c.49,0 .98,-42.0 1.47,-42.0c.49,0 .98,43.2 1.47,43.2c.49,0 .98,-26.9 1.47,-49.5c.49,-22.6 .98,-94.8 1.47,-107.8c.49,-13.0 .98,-16.7 1.47,-23.8c.49,-7.1 .98,-11.1 1.47,-19.2c.49,-8.1 .98,-33.4 1.47,-33.4c.49,0 .98,13.0 1.47,13.0c.49,0 .98,-6.3 1.47,-6.7c.49,-.4 .98,-.6 1.47,-.6c.49,0 .98,5.4 1.47,6.4c.49,.9 .98,.7 1.47,1.8c.49,1.1 .98,30.6 1.47,30.6c.49,0 .98,-85.4 1.47,-85.4c.49,0 .98,76.3 1.47,81.8c.49,5.5 .98,4.1 1.47,9.2c.49,5.1 .98,44.0 1.47,44.0c.49,0 .98,-63.9 1.47,-63.9c.49,0 .98,28.1 1.47,28.1c.49,0 .98,-.3 1.47,-1.0c.49,-.6 .98,-32.6 1.47,-32.6c.49,0 .98,2.1 1.47,2.1c.49,0 .98,-29.1 1.47,-54.0c.49,-24.9 .98,-120.8 1.47,-120.8c.49,0 .98,319.4 1.47,340.0c.49,20.6 .98,18.1 1.47,34.0c.49,16.0 .98,80.8 1.47,80.8c.49,0 .98,-144.5 1.47,-183.2c.49,-38.7 .98,-64.9 1.47,-85.0c.49,-20.1 .98,-26.5 1.47,-46.8c.49,-20.4 .98,-88.0 1.47,-88.0c.49,0 .98,86.7 1.47,86.7c.49,0 .98,-50.2 1.47,-50.2c.49,0 .98,37.7 1.47,37.7c.49,0 .98,-47.5 1.47,-72.8c.49,-25.3 .98,-79.4 1.47,-79.4c.49,0 .98,184.3 1.47,184.3c.49,0 .98,-49.5 1.47,-65.6c.49,-16.1 .98,-38.4 1.47,-38.4c.49,0 .98,110.4 1.47,110.4c.49,0 .98,-76.8 1.47,-76.8c.49,0 .98,45.5 1.47,46.7c.49,1.2 .98,.7 1.47,1.9c.49,1.2 .98,59.1 1.47,59.1c.49,0 .98,-17.7 1.47,-30.9c.49,-13.2 .98,-55.2 1.47,-55.2c.49,0 .98,68.4 1.47,82.3c.49,13.9 .98,27.8 1.47,27.8c.49,0 .98,-6.6 1.47,-15.7c.49,-9.1 .98,-102.2 1.47,-102.2c.49,0 .98,109.9 1.47,114.9c.49,5.0 .98,4.3 1.47,8.0c.49,3.7 .98,17.6 1.47,17.6c.49,0 .98,-97.5 1.47,-97.5c.49,0 .98,148.2 1.47,148.2c.49,0 .98,-100.8 1.47,-100.8c.49,0 .98,85.4 1.47,85.4c.49,0 .98,-82.7 1.47,-82.7c.49,0 .98,106.2 1.47,106.2c.49,0 .98,-7.3 1.47,-7.3c.49,0 .98,.4 1.47,.8c.49,.4 .98,1.7 1.47,3.3c.49,1.6 .98,8.9 1.47,8.9c.49,0 .98,-68.7 1.47,-68.7c.49,0 .98,96.5 1.47,96.5c.49,0 .98,-142.0 1.47,-142.0c.49,0 .98,147.8 1.47,158.8c.49,10.9 .98,18.3 1.47,18.3c.49,0 .98,-163.4 1.47,-163.4c.49,0 .98,208.5 1.47,208.5c.49,0 .98,-84.5 1.47,-126.4c.49,-41.9 .98,-122.3 1.47,-125.0c.49,-2.7 .98,-4.1 1.47,-4.1c.49,0 .98,132.9 1.47,160.3c.49,27.4 .98,55.2 1.47,55.2c.49,0 .98,-8.1 1.47,-19.5c.49,-11.4 .98,-137.7 1.47,-137.7c.49,0 .98,170.0 1.47,170.0c.49,0 .98,-113.3 1.47,-113.3c.49,0 .98,54.5 1.47,54.5c.49,0 .98,-124.1 1.47,-124.1c.49,0 .98,152.9 1.47,155.3c.49,2.4 .98,3.7 1.47,3.7c.49,0 .98,-38.5 1.47,-68.3c.49,-29.8 .98,-129.0 1.47,-129.0c.49,0 .98,97.8 1.47,97.8c.49,0 .98,-229.1 1.47,-229.1c.49,0 .98,173.6 1.47,173.6c.49,0 .98,-33.3 1.47,-33.3c.49,0 .98,127.6 1.47,127.6c.49,0 .98,-125.8 1.47,-125.8c.49,0 .98,49.6 1.47,76.6c.49,27.0 .98,85.7 1.47,85.7c.49,0 .98,-271.6 1.47,-271.6c.49,0 .98,257.5 1.47,257.5c.49,0 .98,-21.7 1.47,-32.5c.49,-10.8 .98,-32.1 1.47,-32.1c.49,0 .98,45.5 1.47,46.0c.49,.5 .98,.7 1.47,.7c.49,0 .98,-22.6 1.47,-40.9c.49,-18.3 .98,-83.2 1.47,-83.2c.49,0 .98,129.8 1.47,132.3c.49,2.5 .98,3.9 1.47,3.9c.49,0 .98,-2.2 1.47,-4.9c.49,-2.7 .98,-24.4 1.47,-24.4c.49,0 .98,4.6 1.47,4.6c.49,0 .98,-20.5 1.47,-20.5c.49,0 .98,1.2 1.47,3.3c.49,2.1 .98,85.8 1.47,85.8c.49,0 .98,-87.1 1.47,-87.1c.49,0 .98,83.3 1.47,84.1c.49,.8 .98,.4 1.47,1.3c.49,.8 .98,44.6 1.47,44.6c.49,0 .98,-193.1 1.47,-193.1c.49,0 .98,162.3 1.47,162.3c.49,0 .98,-44.5 1.47,-57.2c.49,-12.7 .98,-13.7 1.47,-28.5c.49,-14.8 .98,-101.2 1.47,-101.2c.49,0 .98,151.8 1.47,171.1c.49,19.3 .98,34.9 1.47,34.9c.49,0 .98,-270.3 1.47,-270.3c.49,0 .98,156.7 1.47,156.7c.49,0 .98,-53.2 1.47,-53.2c.49,0 .98,93.4 1.47,110.0c.49,16.6 .98,22.3 1.47,32.1c.49,9.8 .98,27.2 1.47,27.2c.49,0 .98,-180.0 1.47,-180.0c.49,0 .98,91.6 1.47,106.0c.49,14.3 .98,13.8 1.47,27.0c.49,13.2 .98,75.0 1.47,75.0c.49,0 .98,-52.9 1.47,-52.9c.49,0 .98,107.0 1.47,107.0c.49,0 .98,-120.7 1.47,-179.8c.49,-59.1 .98,-175.0 1.47,-175.0c.49,0 .98,184.4 1.47,184.4c.49,0 .98,-43.3 1.47,-43.3c.49,0 .98,87.7 1.47,87.7c.49,0 .98,-12.1 1.47,-27.3c.49,-15.3 .98,-111.8 1.47,-141.0c.49,-29.2 .98,-63.4 1.47,-63.4c.49,0 .98,40.4 1.47,71.3c.49,30.9 .98,96.7 1.47,132.5c.49,35.8 .98,68.7 1.47,90.3c.49,21.6 .98,50.5 1.47,50.5c.49,0 .98,-54.9 1.47,-96.3c.49,-41.4 .98,-174.8 1.47,-174.8c.49,0 .98,205.9 1.47,205.9c.49,0 .98,-121.7 1.47,-121.7c.49,0 .98,6.1 1.47,13.4c.49,7.4 .98,37.1 1.47,62.8c.49,25.7 .98,99.7 1.47,99.7c.49,0 .98,-21.3 1.47,-21.3c.49,0 .98,50.5 1.47,50.5c.49,0 .98,-194.1 1.47,-230.0c.49,-35.9 .98,-70.3 1.47,-70.3c.49,0 .98,128.4 1.47,128.4c.49,0 .98,-54.3 1.47,-54.3c.49,0 .98,31.6 1.47,31.6c.49,0 .98,-42.3 1.47,-69.1c.49,-26.8 .98,-96.1 1.47,-96.1c.49,0 .98,45.9 1.47,45.9c.49,0 .98,-75.5 1.47,-75.5c.49,0 .98,127.2 1.47,127.2c.49,0 .98,-273.0 1.47,-273.0c.49,0 .98,83.4 1.47,140.8c.49,57.3 .98,220.9 1.47,220.9c.49,0 .98,-45.7 1.47,-67.7c.49,-21.9 .98,-58.3 1.47,-64.0c.49,-5.8 .98,-10.0 1.47,-10.0c.49,0 .98,89.2 1.47,89.2c.49,0 .98,-94.9 1.47,-118.9c.49,-24.0 .98,-51.6 1.47,-51.6c.49,0 .98,42.2 1.47,65.4c.49,23.2 .98,58.9 1.47,74.5c.49,15.6 .98,23.8 1.47,34.0c.49,10.2 .98,27.9 1.47,27.9c.49,0 .98,-27.0 1.47,-27.0c.49,0 .98,38.5 1.47,38.5c.49,0 .98,-65.4 1.47,-65.4c.49,0 .98,73.1 1.47,73.1c.49,0 .98,-158.8 1.47,-158.8c.49,0 .98,114.2 1.47,114.2c.49,0 .98,-89.8 1.47,-89.8c.49,0 .98,90.4 1.47,90.4c.49,0 .98,-21.9 1.47,-21.9c.49,0 .98,23.1 1.47,23.1c.49,0 .98,-68.4 1.47,-102.2c.49,-33.8 .98,-100.7 1.47,-100.7c.49,0 .98,129.6 1.47,183.0c.49,53.4 .98,122.7 1.47,142.5c.49,19.7 .98,25.2 1.47,37.4c.49,12.1 .98,24.9 1.47,35.6c.49,10.7 .98,29.1 1.47,29.1c.49,0 .98,-155.5 1.47,-155.5c.49,0 .98,104.2 1.47,104.2c.49,0 .98,-78.7 1.47,-78.7c.49,0 .98,117.4 1.47,117.4c.49,0 .98,-79.1 1.47,-79.1c.49,0 .98,106.7 1.47,106.7c.49,0 .98,-80.1 1.47,-80.1c.49,0 .98,54.2 1.47,67.5c.49,13.4 .98,28.6 1.47,28.6c.49,0 .98,-129.0 1.47,-129.0c.49,0 .98,69.8 1.47,72.0c.49,2.2 .98,3.5 1.47,3.5c.49,0 .98,-44.0 1.47,-44.0c.49,0 .98,21.4 1.47,21.4c.49,0 .98,-8.1 1.47,-8.1c.49,0 .98,34.9 1.47,34.9c.49,0 .98,-16.7 1.47,-16.7c.49,0 .98,19.1 1.47,19.1c.49,0 .98,-78.8 1.47,-78.8c.49,0 .98,97.6 1.47,98.3c.49,.7 .98,1.1 1.47,1.1c.49,0 .98,-4.9 1.47,-11.5c.49,-6.7 .98,-52.0 1.47,-75.6c.49,-23.5 .98,-66.3 1.47,-66.3c.49,0 .98,55.7 1.47,78.4c.49,22.6 .98,43.0 1.47,59.9c.49,17.0 .98,44.2 1.47,44.2c.49,0 .98,-346.8 1.47,-346.8c.49,0 .98,105.6 1.47,151.3c.49,45.7 .98,125.5 1.47,125.5c.49,0 .98,-49.6 1.47,-49.6c.49,0 .98,30.4 1.47,30.4c.49,0 .98,-80.3 1.47,-80.3c.49,0 .98,67.3 1.47,67.3c.49,0 .98,-71.1 1.47,-71.1c.49,0 .98,54.7 1.47,59.0c.49,4.3 .98,7.2 1.47,7.2c.49,0 .98,-52.6 1.47,-52.6c.49,0 .98,95.1 1.47,95.1c.49,0 .98,-102.3 1.47,-102.3c.49,0 .98,91.3 1.47,91.3c.49,0 .98,-176.8 1.47,-176.8c.49,0 .98,71.5 1.47,71.5c.49,0 .98,-121.9 1.47,-121.9c.49,0 .98,32.6 1.47,64.1c.49,31.5 .98,178.8 1.47,178.8c.49,0 .98,-101.0 1.47,-101.0c.49,0 .98,73.7 1.47,77.0c.49,3.3 .98,5.3 1.47,5.3c.49,0 .98,-109.7 1.47,-109.7c.49,0 .98,154.9 1.47,154.9c.49,0 .98,-8.9 1.47,-21.9c.49,-13.0 .98,-177.0 1.47,-177.0c.49,0 .98,97.1 1.47,97.1c.49,0 .98,-73.5 1.47,-98.0c.49,-24.5 .98,-58.7 1.47,-58.7c.49,0 .98,130.3 1.47,130.3c.49,0 .98,-1.5 1.47,-1.5c.49,0 .98,38.3 1.47,44.6c.49,6.3 .98,8.6 1.47,12.0c.49,3.4 .98,8.8 1.47,8.8c.49,0 .98,-53.3 1.47,-53.3c.49,0 .98,4.6 1.47,4.6c.49,0 .98,-28.8 1.47,-30.7c.49,-1.9 .98,-3.1 1.47,-3.1c.49,0 .98,11.3 1.47,11.3c.49,0 .98,-25.3 1.47,-25.3c.49,0 .98,37.0 1.47,37.0c.49,0 .98,-18.2 1.47,-25.9c.49,-7.7 .98,-8.7 1.47,-20.9c.49,-12.1 .98,-142.6 1.47,-142.6c.49,0 .98,168.0 1.47,168.0c.49,0 .98,-136.0 1.47,-136.0c.49,0 .98,85.7 1.47,95.9c.49,10.2 .98,18.2 1.47,18.2c.49,0 .98,-197.2 1.47,-197.2c.49,0 .98,36.6 1.47,72.6c.49,36.1 .98,212.0 1.47,212.0c.49,0 .98,-48.7 1.47,-48.7c.49,0 .98,121.9 1.47,121.9c.49,0 .98,-33.1 1.47,-65.1c.49,-32.1 .98,-165.4 1.47,-183.7c.49,-18.3 .98,-32.3 1.47,-32.3c.49,0 .98,230.4 1.47,230.4c.49,0 .98,-4.7 1.47,-11.8c.49,-7.1 .98,-111.9 1.47,-111.9c.49,0 .98,203.6 1.47,203.6c.49,0 .98,-87.4 1.47,-108.4c.49,-21.0 .98,-29.7 1.47,-44.3c.49,-14.5 .98,-27.1 1.47,-43.0c.49,-15.9 .98,-34.2 1.47,-53.4c.49,-19.2 .98,-62.3 1.47,-62.3c.49,0 .98,28.9 1.47,28.9c.49,0 .98,-61.3 1.47,-61.3c.49,0 .98,23.0 1.47,25.9c.49,2.9 .98,5.3 1.47,5.3c.49,0 .98,-12.0 1.47,-24.3c.49,-12.3 .98,-75.9 1.47,-75.9c.49,0 .98,103.9 1.47,103.9c.49,0 .98,-213.2 1.47,-213.2c.49,0 .98,154.3 1.47,167.2c.49,12.9 .98,13.1 1.47,21.8c.49,8.7 .98,23.8 1.47,32.4c.49,8.7 .98,21.7 1.47,21.7c.49,0 .98,-8.9 1.47,-22.2c.49,-13.3 .98,-196.4 1.47,-196.4c.49,0 .98,104.5 1.47,104.5c.49,0 .98,-198.2 1.47,-198.2c.49,0 .98,303.6 1.47,303.6c.49,0 .98,-57.5 1.47,-57.5c.49,0 .98,56.9 1.47,68.3c.49,11.4 .98,22.9 1.47,22.9c.49,0 .98,-69.8 1.47,-69.8c.49,0 .98,147.8 1.47,147.8c.49,0 .98,-21.8 1.47,-23.1c.49,-1.4 .98,-2.2 1.47,-2.2c.49,0 .98,34.3 1.47,34.3c.49,0 .98,-80.7 1.47,-80.7c.49,0 .98,81.0 1.47,81.0c.49,0 .98,-12.0 1.47,-18.1L1278,621.5 L1278,980 Z"/>
</defs>
<g clip-path="url(#cp0)">
<rect x="0" y="0" width="1272" height="974" fill="#475841"/>
<use href="#p0oth" fill="#381f39"/>
<use href="#p0irq" fill="#6e4427"/>
<use href="#p0iow" fill="#441c1a"/>
<use href="#p0usr" fill="#1c2b43"/>
<use href="#p0sys" fill="#695b35"/>
</g>
<path d="M0,974.5H1272M0,877.5H1272M0,779.5H1272M0,682.5H1272M0,584.5H1272M0,487.5H1272M0,390.5H1272M0,292.5H1272M0,195.5H1272M0,97.5H1272M0,0.5H1272M137.5,0V983M349.5,0V983M561.5,0V983M773.5,0V983M985.5,0V983M1197.5,0V983" stroke="rgba(235,245,255,0.08)" stroke-width="1" fill="none" shape-rendering="crispEdges"/>
<g clip-path="url(#cp0)" fill="none" stroke-linejoin="round">
<use href="#p0sys" stroke="#e2bc57" stroke-width="1.8"/>
<use href="#p0usr" stroke="#23508d" stroke-width="1.5"/>
<use href="#p0iow" stroke="#8c2416" stroke-width="1.4"/>
<use href="#p0irq" stroke="#d9702e" stroke-width="1.2"/>
<use href="#p0oth" stroke="#723c6d" stroke-width="1.65"/>
<path d="M0,0H1272" stroke="#8bb374" stroke-width="2.4"/>
</g>
</svg>
<div class="t yl" style="left:79.2px;top:1078.9px;font-size:24px;line-height:24px;transform:scaleX(1.0551);transform-origin:0 0;">0%</div>
<div class="t yl" style="left:69.3px;top:981.5px;font-size:24px;line-height:24px;transform:scaleX(0.9678);transform-origin:0 0;">10%</div>
<div class="t yl" style="left:63.6px;top:884.1px;font-size:24px;line-height:24px;transform:scaleX(1.0864);transform-origin:0 0;">20%</div>
<div class="t yl" style="left:64.0px;top:786.7px;font-size:24px;line-height:24px;transform:scaleX(1.0781);transform-origin:0 0;">30%</div>
<div class="t yl" style="left:63.2px;top:689.3px;font-size:24px;line-height:24px;transform:scaleX(1.0948);transform-origin:0 0;">40%</div>
<div class="t yl" style="left:64.1px;top:591.9px;font-size:24px;line-height:24px;transform:scaleX(1.0760);transform-origin:0 0;">50%</div>
<div class="t yl" style="left:63.8px;top:494.5px;font-size:24px;line-height:24px;transform:scaleX(1.0823);transform-origin:0 0;">60%</div>
<div class="t yl" style="left:64.9px;top:397.1px;font-size:24px;line-height:24px;transform:scaleX(1.0594);transform-origin:0 0;">70%</div>
<div class="t yl" style="left:63.9px;top:299.7px;font-size:24px;line-height:24px;transform:scaleX(1.0802);transform-origin:0 0;">80%</div>
<div class="t yl" style="left:64.1px;top:202.3px;font-size:24px;line-height:24px;transform:scaleX(1.0760);transform-origin:0 0;">90%</div>
<div class="t yl" style="left:53.6px;top:104.9px;font-size:24px;line-height:24px;transform:scaleX(1.0132);transform-origin:0 0;">100%</div>
<div class="t xl" style="left:191.3px;top:1108.7px;font-size:24px;line-height:24px;transform:scaleX(1.1451);transform-origin:0 0;">02/20 00:00</div>
<div class="t xl" style="left:406.1px;top:1108.7px;font-size:24px;line-height:24px;transform:scaleX(1.1002);transform-origin:0 0;">02/20 12:00</div>
<div class="t xl" style="left:617.9px;top:1108.7px;font-size:24px;line-height:24px;transform:scaleX(1.1041);transform-origin:0 0;">02/21 00:00</div>
<div class="t xl" style="left:833.0px;top:1108.7px;font-size:24px;line-height:24px;transform:scaleX(1.0544);transform-origin:0 0;">02/21 12:00</div>
<div class="t xl" style="left:1039.8px;top:1108.7px;font-size:24px;line-height:24px;transform:scaleX(1.1373);transform-origin:0 0;">02/22 00:00</div>
<div class="t xl" style="left:1254.9px;top:1108.7px;font-size:24px;line-height:24px;transform:scaleX(1.0884);transform-origin:0 0;">02/22 12:00</div>
<div class="pill" style="left:54.0px;top:1167px;background:#e0ba55"></div>
<div class="t lg" style="left:97.6px;top:1158.7px;font-size:24px;line-height:24px;transform:scaleX(1.0675);transform-origin:0 0;">Busy System</div>
<div class="pill" style="left:268.0px;top:1167px;background:#1f437a"></div>
<div class="t lg" style="left:311.6px;top:1158.7px;font-size:24px;line-height:24px;transform:scaleX(1.0749);transform-origin:0 0;">Busy User</div>
<div class="pill" style="left:450.9px;top:1167px;background:#841e13"></div>
<div class="t lg" style="left:494.6px;top:1158.7px;font-size:24px;line-height:24px;transform:scaleX(1.0813);transform-origin:0 0;">Busy Iowait</div>
<div class="pill" style="left:647.2px;top:1167px;background:#ed8134"></div>
<div class="t lg" style="left:691.1px;top:1158.7px;font-size:24px;line-height:24px;transform:scaleX(1.0287);transform-origin:0 0;">Busy IRQs</div>
<div class="pill" style="left:828.9px;top:1167px;background:#65265f"></div>
<div class="t lg" style="left:873.3px;top:1158.7px;font-size:24px;line-height:24px;transform:scaleX(1.0729);transform-origin:0 0;">Busy Other</div>
<div class="pill" style="left:1021.9px;top:1167px;background:#8bb374"></div>
<div class="t lg" style="left:1066.3px;top:1158.7px;font-size:24px;line-height:24px;transform:scaleX(1.0593);transform-origin:0 0;">Idle</div>
<div class="panel" style="left:1498px;top:28px;width:1406px;height:1180px"></div>
<div class="t title" style="left:1516.6px;top:48.2px;font-size:28.4px;line-height:28.4px;transform:scaleX(1.0163);transform-origin:0 0;">CPU Basic</div>
<svg class="info" style="left:1693px;top:49px" viewBox="0 0 26 26"><circle cx="13" cy="13" r="11.9" fill="none" stroke="#8e8e9b" stroke-width="2.1"/><rect x="12" y="11.6" width="2.1" height="7.4" rx="1" fill="#8e8e9b"/><circle cx="13.05" cy="8.2" r="1.35" fill="#8e8e9b"/></svg>
<svg class="ch" style="left:1597px;top:126px" width="1272" height="958" viewBox="0 0 1272 958" overflow="visible">
<defs>
<clipPath id="cp1"><rect x="0" y="-1.3" width="1272" height="959.3"/></clipPath>
<path id="p1sys" d="M-6,964 L-6,935.5 L0,935.5c.49,0 .98,.1 1.47,.1c.49,0 .98,-.9 1.47,-1.0c.49,-.1 .98,-.1 1.47,-.1c.49,0 .98,.6 1.47,.6c.49,0 .98,-1.2 1.47,-1.2c.49,0 .98,2.1 1.47,2.1c.49,0 .98,-.1 1.47,-.3c.49,-.2 .98,-4.1 1.47,-4.1c.49,0 .98,2.6 1.47,3.1c.49,.5 .98,1.1 1.47,1.1c.49,0 .98,-1.4 1.47,-1.4c.49,0 .98,2.4 1.47,2.4c.49,0 .98,-3.5 1.47,-3.5c.49,0 .98,1.1 1.47,1.1c.49,0 .98,-.1 1.47,-.1c.49,-.1 .98,-.3 1.47,-.4c.49,-.1 .98,-.1 1.47,-.2c.49,-.1 .98,-.9 1.47,-.9c.49,0 .98,1.3 1.47,1.3c.49,0 .98,-1.9 1.47,-1.9c.49,0 .98,1.7 1.47,2.0c.49,.3 .98,.4 1.47,.7c.49,.3 .98,1.5 1.47,1.5c.49,0 .98,-2.5 1.47,-2.5c.49,0 .98,.1 1.47,.1c.49,0 .98,-.3 1.47,-.3c.49,0 .98,1.1 1.47,1.1c.49,0 .98,-.7 1.47,-.7c.49,0 .98,.7 1.47,.7c.49,0 .98,-1.2 1.47,-1.2c.49,0 .98,1.1 1.47,1.1c.49,0 .98,-.9 1.47,-.9c.49,0 .98,.8 1.47,.8c.49,0 .98,-1.1 1.47,-1.7c.49,-.5 .98,-1.5 1.47,-1.5c.49,0 .98,2.4 1.47,2.6c.49,.2 .98,.2 1.47,.3c.49,0 .98,.1 1.47,.1c.49,0 .98,-.4 1.47,-.7c.49,-.3 .98,-.9 1.47,-.9c.49,0 .98,.7 1.47,.7c.49,0 .98,-.0 1.47,-.1c.49,-.0 .98,-.2 1.47,-.2c.49,0 .98,1.8 1.47,1.8c.49,0 .98,-5.7 1.47,-5.7c.49,0 .98,5.3 1.47,5.3c.49,0 .98,-.2 1.47,-.3c.49,-.1 .98,-.2 1.47,-.2c.49,0 .98,1.9 1.47,1.9c.49,0 .98,-1.8 1.47,-2.0c.49,-.2 .98,-.3 1.47,-.3c.49,-.0 .98,-.0 1.47,-.0c.49,0 .98,1.2 1.47,1.2c.49,0 .98,-.4 1.47,-.4c.49,0 .98,.7 1.47,.7c.49,0 .98,-2.9 1.47,-2.9c.49,0 .98,2.9 1.47,2.9c.49,0 .98,-.3 1.47,-.5c.49,-.1 .98,-.4 1.47,-.4c.49,0 .98,1.0 1.47,1.0c.49,0 .98,-.6 1.47,-.6c.49,0 .98,1.1 1.47,1.1c.49,0 .98,-.4 1.47,-.6c.49,-.2 .98,-.4 1.47,-.8c.49,-.4 .98,-1.7 1.47,-1.7c.49,0 .98,3.0 1.47,3.0c.49,0 .98,-2.5 1.47,-2.5c.49,0 .98,1.2 1.47,1.5c.49,.3 .98,.5 1.47,.5c.49,0 .98,-3.2 1.47,-3.2c.49,0 .98,3.2 1.47,3.2c.49,0 .98,-1.6 1.47,-1.6c.49,0 .98,1.0 1.47,1.0c.49,0 .98,-.6 1.47,-.6c.49,0 .98,1.7 1.47,1.7c.49,0 .98,-2.3 1.47,-2.3c.49,0 .98,1.3 1.47,1.7c.49,.4 .98,.9 1.47,.9c.49,0 .98,-.2 1.47,-.4c.49,-.2 .98,-1.9 1.47,-2.3c.49,-.3 .98,-.6 1.47,-.6c.49,0 .98,2.9 1.47,2.9c.49,0 .98,-.7 1.47,-1.1c.49,-.5 .98,-2.0 1.47,-2.0c.49,0 .98,.8 1.47,1.2c.49,.4 .98,1.4 1.47,1.4c.49,0 .98,-1.1 1.47,-1.1c.49,0 .98,.2 1.47,.2c.49,0 .98,-2.3 1.47,-2.3c.49,0 .98,2.1 1.47,2.5c.49,.3 .98,.5 1.47,.6c.49,.1 .98,.1 1.47,.2c.49,.1 .98,.5 1.47,.5c.49,0 .98,-2.0 1.47,-2.0c.49,0 .98,.1 1.47,.2c.49,0 .98,.1 1.47,.1c.49,0 .98,-.9 1.47,-.9c.49,0 .98,.4 1.47,.7c.49,.3 .98,1.4 1.47,1.4c.49,0 .98,-.8 1.47,-.8c.49,-.1 .98,-.1 1.47,-.1c.49,0 .98,.6 1.47,.6c.49,0 .98,-2.6 1.47,-2.6c.49,0 .98,3.6 1.47,3.6c.49,0 .98,-.3 1.47,-.5c.49,-.2 .98,-1.2 1.47,-1.2c.49,0 .98,.8 1.47,.8c.49,0 .98,-2.3 1.47,-2.3c.49,0 .98,.5 1.47,1.0c.49,.5 .98,3.2 1.47,3.2c.49,0 .98,-3.7 1.47,-3.7c.49,0 .98,2.7 1.47,2.7c.49,0 .98,-1.4 1.47,-1.7c.49,-.3 .98,-.6 1.47,-.6c.49,0 .98,1.5 1.47,1.5c.49,0 .98,-.4 1.47,-.4c.49,0 .98,.4 1.47,.4c.49,0 .98,-.3 1.47,-.4c.49,-.1 .98,-.4 1.47,-.4c.49,0 .98,.1 1.47,.2c.49,.1 .98,.7 1.47,.7c.49,0 .98,-2.2 1.47,-2.2c.49,0 .98,1.2 1.47,1.2c.49,0 .98,-.5 1.47,-.5c.49,0 .98,1.4 1.47,1.4c.49,0 .98,-.4 1.47,-.6c.49,-.2 .98,-.8 1.47,-.8c.49,0 .98,.5 1.47,.5c.49,0 .98,-1.3 1.47,-2.4c.49,-1.1 .98,-4.9 1.47,-4.9c.49,0 .98,9.4 1.47,9.4c.49,0 .98,-3.6 1.47,-3.6c.49,0 .98,.3 1.47,.6c.49,.3 .98,1.1 1.47,1.4c.49,.4 .98,.8 1.47,.8c.49,0 .98,-8.7 1.47,-8.7c.49,0 .98,6.7 1.47,7.1c.49,.4 .98,.7 1.47,.7c.49,0 .98,-.2 1.47,-.5c.49,-.2 .98,-1.7 1.47,-1.7c.49,0 .98,1.2 1.47,1.2c.49,0 .98,-6.9 1.47,-6.9c.49,0 .98,19.3 1.47,19.3c.49,0 .98,-3.1 1.47,-3.1c.49,0 .98,2.4 1.47,2.4c.49,0 .98,-.2 1.47,-.2c.49,0 .98,.8 1.47,.8c.49,0 .98,-2.3 1.47,-2.3c.49,0 .98,2.7 1.47,2.7c.49,0 .98,-.7 1.47,-1.0c.49,-.2 .98,-.6 1.47,-.6c.49,0 .98,.6 1.47,.7c.49,.1 .98,.2 1.47,.2c.49,0 .98,-2.1 1.47,-2.1c.49,0 .98,1.5 1.47,1.5c.49,0 .98,-1.4 1.47,-1.4c.49,0 .98,2.2 1.47,2.2c.49,0 .98,-.8 1.47,-.9c.49,-.1 .98,-.1 1.47,-.2c.49,-.1 .98,-1.4 1.47,-1.4c.49,0 .98,4.0 1.47,4.0c.49,0 .98,-1.4 1.47,-3.0c.49,-1.6 .98,-12.0 1.47,-12.0c.49,0 .98,1.6 1.47,2.1c.49,.5 .98,1.1 1.47,1.1c.49,0 .98,-2.7 1.47,-2.7c.49,0 .98,1.5 1.47,1.5c.49,0 .98,-.7 1.47,-.8c.49,-.2 .98,-.3 1.47,-.3c.49,0 .98,2.2 1.47,2.2c.49,0 .98,-.9 1.47,-.9c.49,-.0 .98,-.0 1.47,-.1c.49,-.0 .98,-.4 1.47,-.7c.49,-.3 .98,-1.1 1.47,-1.1c.49,0 .98,.4 1.47,.7c.49,.3 .98,1.0 1.47,1.0c.49,0 .98,-.9 1.47,-.9c.49,0 .98,.3 1.47,.3c.49,0 .98,-.1 1.47,-.3c.49,-.2 .98,-1.4 1.47,-1.4c.49,0 .98,2.9 1.47,2.9c.49,0 .98,-2.1 1.47,-2.1c.49,0 .98,2.3 1.47,2.3c.49,0 .98,-1.1 1.47,-1.3c.49,-.2 .98,-.4 1.47,-.4c.49,0 .98,.8 1.47,.8c.49,0 .98,-1.7 1.47,-1.7c.49,0 .98,.5 1.47,1.0c.49,.5 .98,2.7 1.47,2.7c.49,0 .98,-1.0 1.47,-1.6c.49,-.6 .98,-1.9 1.47,-1.9c.49,0 .98,1.9 1.47,1.9c.49,0 .98,-.4 1.47,-.4c.49,0 .98,0 1.47,.0c.49,0 .98,-13.5 1.47,-13.5c.49,0 .98,12.5 1.47,12.5c.49,0 .98,-1.1 1.47,-1.1c.49,0 .98,1.2 1.47,1.7c.49,.4 .98,1.0 1.47,1.0c.49,0 .98,-.4 1.47,-.4c.49,0 .98,.7 1.47,.7c.49,0 .98,-.5 1.47,-.6c.49,-.1 .98,-.2 1.47,-.2c.49,0 .98,.2 1.47,.2c.49,0 .98,-.0 1.47,-.0c.49,0 .98,1.0 1.47,1.0c.49,0 .98,-.7 1.47,-.7c.49,0 .98,.2 1.47,.2c.49,0 .98,-.6 1.47,-.6c.49,0 .98,.1 1.47,.1c.49,0 .98,-.4 1.47,-.6c.49,-.2 .98,-.5 1.47,-.5c.49,0 .98,0 1.47,.0c.49,0 .98,1.2 1.47,1.2c.49,0 .98,-.7 1.47,-.7c.49,0 .98,.5 1.47,.6c.49,.1 .98,.1 1.47,.2c.49,.1 .98,.6 1.47,.6c.49,0 .98,-3.3 1.47,-3.3c.49,0 .98,.7 1.47,1.1c.49,.4 .98,1.1 1.47,1.1c.49,0 .98,-.1 1.47,-.1c.49,-.1 .98,-1.0 1.47,-1.0c.49,0 .98,1.2 1.47,1.2c.49,0 .98,-.6 1.47,-.6c.49,0 .98,.9 1.47,1.1c.49,.1 .98,.2 1.47,.2c.49,0 .98,-2.0 1.47,-2.0c.49,0 .98,2.4 1.47,2.4c.49,0 .98,-.8 1.47,-1.0c.49,-.2 .98,-.4 1.47,-.5c.49,-.1 .98,-.1 1.47,-.3c.49,-.2 .98,-1.8 1.47,-1.8c.49,0 .98,2.8 1.47,2.8c.49,.1 .98,.1 1.47,.1c.49,0 .98,-1.4 1.47,-1.4c.49,0 .98,1.1 1.47,1.1c.49,0 .98,-1.7 1.47,-1.7c.49,0 .98,.9 1.47,1.1c.49,.3 .98,.6 1.47,.6c.49,0 .98,-.4 1.47,-.8c.49,-.3 .98,-1.6 1.47,-1.6c.49,0 .98,3.0 1.47,3.0c.49,0 .98,-1.1 1.47,-1.2c.49,-.2 .98,-.2 1.47,-.4c.49,-.2 .98,-.7 1.47,-.7c.49,0 .98,2.2 1.47,2.2c.49,0 .98,-1.2 1.47,-1.2c.49,0 .98,.2 1.47,.2c.49,0 .98,-4.5 1.47,-4.5c.49,0 .98,2.7 1.47,3.4c.49,.7 .98,1.3 1.47,1.6c.49,.3 .98,.6 1.47,.6c.49,0 .98,-1.5 1.47,-1.6c.49,-.2 .98,-.1 1.47,-.3c.49,-.1 .98,-.9 1.47,-.9c.49,0 .98,2.3 1.47,2.3c.49,0 .98,-1.1 1.47,-1.1c.49,0 .98,.8 1.47,.8c.49,0 .98,-.2 1.47,-.2c.49,0 .98,1.7 1.47,1.7c.49,0 .98,-1.0 1.47,-1.0c.49,0 .98,.3 1.47,.5c.49,.2 .98,1.1 1.47,1.1c.49,0 .98,-2.7 1.47,-2.7c.49,0 .98,.2 1.47,.4c.49,.2 .98,.8 1.47,.8c.49,0 .98,-1.7 1.47,-1.7c.49,0 .98,.4 1.47,.8c.49,.3 .98,1.2 1.47,1.2c.49,0 .98,-2.5 1.47,-2.5c.49,0 .98,1.5 1.47,1.5c.49,0 .98,-.3 1.47,-.6c.49,-.3 .98,-1.5 1.47,-1.5c.49,0 .98,1.5 1.47,1.5c.49,0 .98,-.0 1.47,-.1c.49,-.1 .98,-2.9 1.47,-5.1c.49,-2.2 .98,-8.9 1.47,-8.9c.49,0 .98,9.5 1.47,9.5c.49,0 .98,-2.2 1.47,-2.2c.49,0 .98,2.6 1.47,2.6c.49,0 .98,-.0 1.47,-.1c.49,-.1 .98,-7.3 1.47,-7.3c.49,0 .98,7.6 1.47,7.6c.49,0 .98,-.9 1.47,-.9c.49,0 .98,2.1 1.47,2.1c.49,0 .98,-1.4 1.47,-1.5c.49,-.1 .98,-.1 1.47,-.1c.49,0 .98,.6 1.47,.6c.49,0 .98,-.7 1.47,-.7c.49,0 .98,.1 1.47,.3c.49,.2 .98,1.6 1.47,1.6c.49,0 .98,-1.0 1.47,-1.2c.49,-.2 .98,-.5 1.47,-.5c.49,0 .98,.4 1.47,.4c.49,0 .98,-1.5 1.47,-1.5c.49,0 .98,.5 1.47,.8c.49,.3 .98,1.4 1.47,1.4c.49,0 .98,-.9 1.47,-.9c.49,0 .98,13.5 1.47,13.5c.49,0 .98,-.4 1.47,-.7c.49,-.3 .98,-1.5 1.47,-1.5c.49,0 .98,.9 1.47,1.0c.49,.2 .98,.3 1.47,.3c.49,0 .98,-1.1 1.47,-1.1c.49,0 .98,.6 1.47,.9c.49,.3 .98,1.2 1.47,1.2c.49,0 .98,-8.9 1.47,-8.9c.49,0 .98,7.1 1.47,7.7c.49,.6 .98,1.0 1.47,1.0c.49,0 .98,-.1 1.47,-.1c.49,0 .98,.6 1.47,.6c.49,0 .98,-1.6 1.47,-1.6c.49,0 .98,.5 1.47,.9c.49,.4 .98,1.5 1.47,1.5c.49,0 .98,-3.0 1.47,-3.0c.49,0 .98,2.1 1.47,2.1c.49,0 .98,-1.4 1.47,-1.4c.49,0 .98,1.4 1.47,1.4c.49,0 .98,-1.1 1.47,-1.1c.49,0 .98,.3 1.47,.3c.49,0 .98,-.0 1.47,-.1c.49,-.0 .98,-40.4 1.47,-40.4c.49,0 .98,40.8 1.47,40.8c.49,0 .98,-35.9 1.47,-35.9c.49,0 .98,34.6 1.47,35.3c.49,.6 .98,1.0 1.47,1.0c.49,0 .98,-.1 1.47,-.1c.49,-.1 .98,-.6 1.47,-1.1c.49,-.5 .98,-1.9 1.47,-1.9c.49,0 .98,2.9 1.47,2.9c.49,0 .98,-1.1 1.47,-1.1c.49,0 .98,1.7 1.47,1.7c.49,0 .98,-.4 1.47,-.7c.49,-.3 .98,-.9 1.47,-.9c.49,0 .98,1.7 1.47,1.7c.49,0 .98,-.4 1.47,-.9c.49,-.4 .98,-2.4 1.47,-2.4c.49,0 .98,3.2 1.47,3.2c.49,0 .98,-1.3 1.47,-1.3c.49,0 .98,.6 1.47,.6c.49,0 .98,-1.4 1.47,-1.4c.49,0 .98,1.4 1.47,1.6c.49,.2 .98,.3 1.47,.4c.49,0 .98,.1 1.47,.1c.49,0 .98,-4.0 1.47,-4.0c.49,0 .98,3.4 1.47,3.4c.49,0 .98,-1.2 1.47,-1.2c.49,0 .98,1.6 1.47,1.6c.49,0 .98,-1.9 1.47,-1.9c.49,0 .98,.2 1.47,.5c.49,.3 .98,1.9 1.47,1.9c.49,0 .98,-.3 1.47,-.7c.49,-.4 .98,-2.5 1.47,-2.5c.49,0 .98,1.0 1.47,1.4c.49,.5 .98,1.3 1.47,1.3c.49,0 .98,-1.5 1.47,-1.5c.49,0 .98,0 1.47,.0c.49,0 .98,0 1.47,.0c.49,0 .98,-1.2 1.47,-1.2c.49,0 .98,0 1.47,.1c.49,0 .98,2.2 1.47,2.3c.49,.1 .98,.2 1.47,.2c.49,0 .98,-2.4 1.47,-2.4c.49,0 .98,1.2 1.47,1.2c.49,.1 .98,.1 1.47,.2c.49,.1 .98,.2 1.47,.3c.49,.1 .98,.4 1.47,.4c.49,0 .98,-2.7 1.47,-2.7c.49,0 .98,1.5 1.47,1.6c.49,.2 .98,.2 1.47,.3c.49,.1 .98,.5 1.47,.5c.49,0 .98,-1.0 1.47,-1.0c.49,0 .98,.2 1.47,.5c.49,.2 .98,1.0 1.47,1.0c.49,0 .98,-.4 1.47,-.4c.49,0 .98,.1 1.47,.1c.49,0 .98,-.2 1.47,-.2c.49,0 .98,.7 1.47,.7c.49,0 .98,-2.4 1.47,-2.4c.49,0 .98,.3 1.47,.5c.49,.3 .98,1.5 1.47,1.5c.49,0 .98,-2.1 1.47,-2.1c.49,0 .98,1.0 1.47,1.2c.49,.2 .98,.3 1.47,.3c.49,0 .98,-.2 1.47,-.4c.49,-.2 .98,-.6 1.47,-.6c.49,0 .98,.5 1.47,.9c.49,.4 .98,1.9 1.47,1.9c.49,0 .98,-2.0 1.47,-2.0c.49,-.0 .98,-.0 1.47,-.0c.49,-.0 .98,-.5 1.47,-.5c.49,0 .98,.4 1.47,.4c.49,0 .98,-.1 1.47,-.1c.49,0 .98,.9 1.47,.9c.49,0 .98,-.1 1.47,-.3c.49,-.2 .98,-2.4 1.47,-2.4c.49,0 .98,2.6 1.47,2.6c.49,0 .98,-.1 1.47,-.3c.49,-.1 .98,-.8 1.47,-.8c.49,0 .98,1.5 1.47,1.5c.49,0 .98,-.0 1.47,-.0c.49,-.0 .98,-.4 1.47,-.4c.49,0 .98,0 1.47,.0c.49,0 .98,-.4 1.47,-.4c.49,0 .98,.1 1.47,.1c.49,.1 .98,.3 1.47,.3c.49,0 .98,-1.7 1.47,-1.7c.49,0 .98,2.1 1.47,2.1c.49,0 .98,-.5 1.47,-.5c.49,0 .98,.6 1.47,.6c.49,0 .98,-4.5 1.47,-4.5c.49,0 .98,3.5 1.47,4.1c.49,.6 .98,1.2 1.47,1.2c.49,0 .98,-.3 1.47,-.5c.49,-.3 .98,-1.6 1.47,-1.6c.49,0 .98,.7 1.47,.7c.49,0 .98,-18.6 1.47,-18.6c.49,0 .98,19.0 1.47,19.0c.49,0 .98,-.8 1.47,-1.2c.49,-.4 .98,-1.2 1.47,-1.2c.49,0 .98,.9 1.47,.9c.49,0 .98,-.4 1.47,-.4c.49,0 .98,.2 1.47,.4c.49,.2 .98,1.2 1.47,1.2c.49,0 .98,-.8 1.47,-1.0c.49,-.1 .98,-.1 1.47,-.2c.49,-.2 .98,-25.8 1.47,-25.8c.49,0 .98,24.4 1.47,25.3c.49,.9 .98,1.4 1.47,1.4c.49,0 .98,-.5 1.47,-.5c.49,0 .98,.3 1.47,.3c.49,0 .98,-1.3 1.47,-1.3c.49,0 .98,2.1 1.47,2.5c.49,.4 .98,.8 1.47,.8c.49,0 .98,-1.8 1.47,-1.8c.49,0 .98,.8 1.47,.8c.49,0 .98,-3.9 1.47,-3.9c.49,0 .98,2.0 1.47,2.5c.49,.5 .98,1.2 1.47,1.2c.49,0 .98,-1.5 1.47,-1.5c.49,0 .98,0 1.47,.1c.49,.1 .98,.9 1.47,1.2c.49,.3 .98,.7 1.47,.7c.49,0 .98,-.8 1.47,-1.0c.49,-.2 .98,-.3 1.47,-.6c.49,-.3 .98,-1.6 1.47,-1.6c.49,0 .98,2.8 1.47,2.8c.49,0 .98,-3.5 1.47,-3.8c.49,-.4 .98,-.6 1.47,-.6c.49,0 .98,3.3 1.47,3.9c.49,.5 .98,.8 1.47,1.0c.49,.1 .98,.3 1.47,.3c.49,0 .98,-.7 1.47,-.9c.49,-.3 .98,-.7 1.47,-.8c.49,-.1 .98,-.1 1.47,-.1c.49,0 .98,2.3 1.47,2.3c.49,0 .98,-.1 1.47,-.2c.49,-.1 .98,-1.4 1.47,-1.4c.49,0 .98,.7 1.47,.7c.49,0 .98,-1.9 1.47,-1.9c.49,0 .98,.5 1.47,.8c.49,.3 .98,1.1 1.47,1.1c.49,0 .98,-1.2 1.47,-1.3c.49,-.2 .98,-.3 1.47,-.3c.49,0 .98,.9 1.47,.9c.49,0 .98,-1.6 1.47,-1.6c.49,0 .98,2.6 1.47,2.6c.49,0 .98,-1.9 1.47,-1.9c.49,0 .98,.8 1.47,.8c.49,0 .98,-1.3 1.47,-1.3c.49,0 .98,1.5 1.47,1.5c.49,0 .98,-.4 1.47,-.4c.49,0 .98,1.1 1.47,1.3c.49,.2 .98,.5 1.47,.5c.49,0 .98,-.1 1.47,-.2c.49,-.1 .98,-2.1 1.47,-2.3c.49,-.1 .98,-.2 1.47,-.2c.49,0 .98,1.0 1.47,1.1c.49,.1 .98,.1 1.47,.1c.49,0 .98,-1.1 1.47,-1.1c.49,0 .98,2.3 1.47,2.3c.49,0 .98,-2.7 1.47,-2.7c.49,0 .98,2.3 1.47,2.3c.49,0 .98,-.0 1.47,-.0c.49,-.0 .98,-.1 1.47,-.2c.49,-.1 .98,-1.6 1.47,-2.3c.49,-.7 .98,-2.2 1.47,-2.2c.49,0 .98,2.6 1.47,3.5c.49,1.0 .98,2.4 1.47,2.4c.49,0 .98,-4.0 1.47,-4.0c.49,0 .98,2.4 1.47,2.4c.49,0 .98,-.9 1.47,-1.2c.49,-.2 .98,-.6 1.47,-.6c.49,0 .98,1.8 1.47,1.8c.49,0 .98,-2.6 1.47,-2.6c.49,0 .98,.5 1.47,.9c.49,.4 .98,1.9 1.47,1.9c.49,0 .98,-3.6 1.47,-3.6c.49,0 .98,1.9 1.47,2.5c.49,.6 .98,1.3 1.47,1.3c.49,0 .98,-1.4 1.47,-1.5c.49,-.1 .98,-.0 1.47,-.1c.49,-.1 .98,-1.0 1.47,-1.0c.49,0 .98,2.2 1.47,2.2c.49,0 .98,-.9 1.47,-.9c.49,0 .98,1.7 1.47,1.7c.49,0 .98,-.8 1.47,-1.1c.49,-.3 .98,-.8 1.47,-.8c.49,0 .98,1.1 1.47,1.1c.49,0 .98,-.2 1.47,-.3c.49,-.1 .98,-.5 1.47,-.5c.49,0 .98,1.4 1.47,1.4c.49,0 .98,-2.2 1.47,-2.2c.49,0 .98,.7 1.47,.8c.49,.1 .98,.2 1.47,.3c.49,.1 .98,.2 1.47,.2c.49,0 .98,-1.8 1.47,-1.8c.49,0 .98,1.0 1.47,1.1c.49,.1 .98,.2 1.47,.3c.49,.1 .98,.5 1.47,.5c.49,0 .98,-.8 1.47,-.8c.49,0 .98,.4 1.47,.7c.49,.3 .98,.7 1.47,.9c.49,.2 .98,.4 1.47,.4c.49,0 .98,-1.6 1.47,-1.6c.49,0 .98,.6 1.47,.8c.49,.2 .98,.5 1.47,.5c.49,0 .98,-1.9 1.47,-1.9c.49,0 .98,1.0 1.47,1.0c.49,0 .98,-.3 1.47,-.3c.49,0 .98,1.3 1.47,1.3c.49,0 .98,-1.2 1.47,-1.2c.49,0 .98,.4 1.47,.6c.49,.2 .98,.4 1.47,.4c.49,0 .98,-.1 1.47,-.2c.49,-.1 .98,-1.0 1.47,-1.1c.49,-.2 .98,-.3 1.47,-.3c.49,-.1 .98,-.1 1.47,-.1c.49,-.1 .98,-.5 1.47,-.5c.49,0 .98,1.8 1.47,1.8c.49,0 .98,-1.2 1.47,-1.2c.49,0 .98,1.6 1.47,1.7c.49,.1 .98,.1 1.47,.1c.49,0 .98,-.6 1.47,-.9c.49,-.3 .98,-1.1 1.47,-1.1c.49,0 .98,1.6 1.47,1.6c.49,.1 .98,.1 1.47,.1c.49,0 .98,-.1 1.47,-.2c.49,-.1 .98,-1.6 1.47,-1.6c.49,0 .98,.4 1.47,.4c.49,0 .98,-.3 1.47,-.3c.49,0 .98,.5 1.47,.5c.49,0 .98,-.1 1.47,-.1c.49,0 .98,.5 1.47,.5c.49,0 .98,-.7 1.47,-.7c.49,0 .98,.4 1.47,.4c.49,0 .98,-1.5 1.47,-1.5c.49,0 .98,.5 1.47,.8c.49,.4 .98,1.6 1.47,1.6c.49,0 .98,-1.0 1.47,-1.0c.49,0 .98,.5 1.47,.5c.49,0 .98,-.8 1.47,-.8c.49,0 .98,1.4 1.47,1.4c.49,0 .98,-2.1 1.47,-2.1c.49,0 .98,1.5 1.47,1.5c.49,0 .98,-2.0 1.47,-2.0c.49,0 .98,1.7 1.47,1.7c.49,0 .98,-.2 1.47,-.2c.49,0 .98,2.3 1.47,2.3c.49,0 .98,-1.1 1.47,-1.5c.49,-.4 .98,-1.2 1.47,-1.2c.49,0 .98,1.8 1.47,1.8c.49,0 .98,-.8 1.47,-1.2c.49,-.4 .98,-1.0 1.47,-1.0c.49,0 .98,1.2 1.47,1.2c.49,0 .98,-.3 1.47,-.3c.49,0 .98,.5 1.47,.5c.49,0 .98,-1.4 1.47,-1.4c.49,0 .98,1.4 1.47,1.4c.49,0 .98,-.4 1.47,-.4c.49,0 .98,.2 1.47,.2c.49,0 .98,-.9 1.47,-1.2c.49,-.3 .98,-.7 1.47,-.7c.49,0 .98,2.3 1.47,2.3c.49,0 .98,-1.0 1.47,-1.0c.49,0 .98,1.8 1.47,1.8c.49,0 .98,-1.2 1.47,-1.2c.49,0 .98,.5 1.47,.5c.49,0 .98,-.1 1.47,-.2c.49,-.1 .98,-.9 1.47,-1.2c.49,-.3 .98,-.8 1.47,-.8c.49,0 .98,1.2 1.47,1.5c.49,.3 .98,.7 1.47,.7c.49,0 .98,-.8 1.47,-.9c.49,-.1 .98,-.2 1.47,-.2c.49,0 .98,.5 1.47,.5c.49,0 .98,-.6 1.47,-.6c.49,-.1 .98,-.1 1.47,-.1c.49,0 .98,1.1 1.47,1.1c.49,0 .98,-.2 1.47,-.3c.49,-.1 .98,-.5 1.47,-.5c.49,0 .98,.5 1.47,.8c.49,.2 .98,.7 1.47,.7c.49,0 .98,-2.0 1.47,-2.0c.49,0 .98,.8 1.47,1.4c.49,.6 .98,2.2 1.47,2.2c.49,0 .98,-2.6 1.47,-2.6c.49,0 .98,.6 1.47,.6c.49,0 .98,-1.0 1.47,-1.0c.49,-.0 .98,-.0 1.47,-.0c.49,0 .98,.1 1.47,.2c.49,.1 .98,.3 1.47,.3c.49,0 .98,-1.6 1.47,-1.6c.49,0 .98,1.7 1.47,1.8c.49,.1 .98,0 1.47,.1c.49,.1 .98,1.6 1.47,1.6c.49,0 .98,-.6 1.47,-1.6c.49,-1.0 .98,-18.6 1.47,-18.6c.49,0 .98,18.5 1.47,18.5c.49,0 .98,-.6 1.47,-.6c.49,0 .98,.8 1.47,.8c.49,0 .98,-1.9 1.47,-1.9c.49,0 .98,.9 1.47,1.3c.49,.4 .98,1.3 1.47,1.3c.49,0 .98,-1.4 1.47,-1.4c.49,0 .98,.7 1.47,.7c.49,0 .98,.1 1.47,.1c.49,0 .98,-.5 1.47,-.5c.49,0 .98,0 1.47,.0c.49,0 .98,.6 1.47,.7c.49,.1 .98,.2 1.47,.2c.49,0 .98,-.2 1.47,-.2c.49,0 .98,.3 1.47,.3c.49,0 .98,-1.1 1.47,-1.1c.49,0 .98,.5 1.47,.5c.49,0 .98,-1.2 1.47,-1.2c.49,0 .98,1.5 1.47,1.5c.49,0 .98,-2.8 1.47,-2.8c.49,0 .98,.7 1.47,.9c.49,.2 .98,.3 1.47,.4c.49,.1 .98,.2 1.47,.2c.49,0 .98,-.4 1.47,-.4c.49,0 .98,.8 1.47,.8c.49,0 .98,-1.0 1.47,-1.0c.49,0 .98,1.8 1.47,1.8c.49,0 .98,-1.4 1.47,-1.4c.49,0 .98,.5 1.47,.5c.49,0 .98,-.9 1.47,-.9c.49,0 .98,1.1 1.47,1.1c.49,0 .98,-1.0 1.47,-1.0c.49,0 .98,.1 1.47,.1c.49,0 .98,.2 1.47,.2c.49,0 .98,-.6 1.47,-.6c.49,0 .98,1.1 1.47,1.1c.49,0 .98,-.6 1.47,-.6c.49,0 .98,.6 1.47,.8c.49,.1 .98,.2 1.47,.3c.49,.1 .98,.2 1.47,.2c.49,0 .98,-.1 1.47,-.3c.49,-.2 .98,-2.9 1.47,-2.9c.49,0 .98,2.8 1.47,2.8c.49,0 .98,-.7 1.47,-.7c.49,0 .98,1.0 1.47,1.0c.49,0 .98,-2.7 1.47,-2.7c.49,0 .98,1.1 1.47,1.4c.49,.3 .98,.7 1.47,.7c.49,0 .98,-.2 1.47,-.2c.49,-.0 .98,-.0 1.47,-.0c.49,-.0 .98,-.8 1.47,-.8c.49,0 .98,.4 1.47,.7c.49,.2 .98,.7 1.47,.7c.49,0 .98,-1.0 1.47,-1.4c.49,-.3 .98,-.8 1.47,-.8c.49,0 .98,3.8 1.47,3.8c.49,0 .98,-1.4 1.47,-1.8c.49,-.4 .98,-.9 1.47,-.9c.49,0 .98,.4 1.47,.4c.49,0 .98,-3.4 1.47,-3.4c.49,0 .98,3.2 1.47,3.2c.49,0 .98,-13.8 1.47,-13.8c.49,0 .98,13.0 1.47,13.6c.49,.7 .98,1.1 1.47,1.1c.49,0 .98,-.1 1.47,-.3c.49,-.2 .98,-.9 1.47,-1.7c.49,-.8 .98,-4.3 1.47,-4.3c.49,0 .98,5.7 1.47,5.9c.49,.3 .98,.4 1.47,.4c.49,0 .98,-.3 1.47,-.5c.49,-.2 .98,-.7 1.47,-.7c.49,0 .98,1.4 1.47,1.4c.49,0 .98,-1.4 1.47,-1.4c.49,0 .98,.4 1.47,.7c.49,.3 .98,1.3 1.47,1.3c.49,0 .98,-2.1 1.47,-2.1c.49,0 .98,2.6 1.47,2.6c.49,0 .98,-2.7 1.47,-2.7c.49,0 .98,.3 1.47,.3c.49,0 .98,-.1 1.47,-.1c.49,0 .98,2.0 1.47,2.0c.49,0 .98,-1.8 1.47,-1.8c.49,0 .98,.6 1.47,.8c.49,.3 .98,.6 1.47,.7c.49,.1 .98,.2 1.47,.2c.49,0 .98,-19.3 1.47,-19.3c.49,0 .98,19.8 1.47,19.8c.49,0 .98,-.4 1.47,-.7c.49,-.4 .98,-1.9 1.47,-1.9c.49,0 .98,2.3 1.47,2.3c.49,0 .98,0 1.47,.0c.49,0 .98,-.6 1.47,-.8c.49,-.2 .98,-.5 1.47,-.5c.49,0 .98,.2 1.47,.2c.49,0 .98,-1.3 1.47,-1.3c.49,0 .98,2.9 1.47,2.9c.49,0 .98,-.4 1.47,-1.0c.49,-.7 .98,-16.6 1.47,-16.6c.49,0 .98,16.3 1.47,16.3c.49,0 .98,-.3 1.47,-.6c.49,-.3 .98,-1.6 1.47,-1.6c.49,0 .98,1.7 1.47,1.9c.49,.1 .98,.3 1.47,.3c.49,0 .98,-.5 1.47,-.5c.49,0 .98,1.3 1.47,1.3c.49,0 .98,-2.3 1.47,-2.3c.49,0 .98,2.0 1.47,2.0c.49,0 .98,-2.6 1.47,-2.6c.49,0 .98,2.3 1.47,2.3c.49,0 .98,-5.6 1.47,-5.6c.49,0 .98,5.7 1.47,5.7c.49,0 .98,-3.0 1.47,-3.0c.49,0 .98,2.2 1.47,2.2c.49,0 .98,-.1 1.47,-.1c.49,0 .98,0 1.47,.0c.49,0 .98,0 1.47,.1c.49,0 .98,.2 1.47,.2c.49,0 .98,0 1.47,.0c.49,0 .98,.1 1.47,.1c.49,0 .98,-.0 1.47,-.0c.49,-.0 .98,-.9 1.47,-.9c.49,0 .98,1.2 1.47,1.2c.49,0 .98,-.7 1.47,-.7c.49,0 .98,1.9 1.47,1.9c.49,0 .98,-.7 1.47,-1.0c.49,-.4 .98,-1.2 1.47,-1.2c.49,0 .98,.9 1.47,.9c.49,0 .98,-.3 1.47,-.5c.49,-.2 .98,-.2 1.47,-.5c.49,-.3 .98,-4.2 1.47,-4.2c.49,0 .98,1.8 1.47,2.5c.49,.7 .98,1.4 1.47,1.8c.49,.4 .98,1.1 1.47,1.1c.49,0 .98,-.8 1.47,-.8c.49,0 .98,.3 1.47,.4c.49,.1 .98,.3 1.47,.3c.49,0 .98,-1.0 1.47,-1.0c.49,0 .98,.5 1.47,.5c.49,0 .98,-1.4 1.47,-1.4c.49,0 .98,1.1 1.47,1.5c.49,.4 .98,.8 1.47,.9c.49,.2 .98,.4 1.47,.4c.49,0 .98,-1.9 1.47,-1.9c.49,0 .98,.2 1.47,.3c.49,.1 .98,.1 1.47,.2c.49,.1 .98,.2 1.47,.3c.49,.1 .98,.2 1.47,.2c.49,0 .98,-.5 1.47,-.5c.49,0 .98,.7 1.47,.8c.49,.1 .98,.2 1.47,.2c.49,0 .98,-.3 1.47,-.7c.49,-.3 .98,-2.1 1.47,-2.1c.49,0 .98,.9 1.47,1.5c.49,.6 .98,2.0 1.47,2.0c.49,0 .98,-3.0 1.47,-3.0c.49,0 .98,3.3 1.47,3.3c.49,0 .98,-2.0 1.47,-2.4c.49,-.3 .98,-.6 1.47,-.6c.49,0 .98,2.1 1.47,2.1c.49,0 .98,-.2 1.47,-.4c.49,-.2 .98,-1.2 1.47,-1.2c.49,0 .98,.6 1.47,.9c.49,.2 .98,.4 1.47,.5c.49,.1 .98,.1 1.47,.2c.49,.1 .98,.6 1.47,.6c.49,0 .98,-1.3 1.47,-1.3c.49,0 .98,.7 1.47,.7c.49,0 .98,-2.3 1.47,-2.3c.49,0 .98,1.1 1.47,1.1c.49,0 .98,-.3 1.47,-.3c.49,0 .98,1.9 1.47,1.9c.49,0 .98,-1.4 1.47,-2.0c.49,-.6 .98,-1.5 1.47,-1.5c.49,0 .98,.1 1.47,.3c.49,.2 .98,2.1 1.47,2.1c.49,0 .98,-.9 1.47,-.9c.49,0 .98,0 1.47,.1c.49,0 .98,1.7 1.47,1.7c.49,0 .98,-2.4 1.47,-2.4c.49,0 .98,2.6 1.47,2.6c.49,0 .98,-2.2 1.47,-2.2c.49,0 .98,.9 1.47,.9c.49,0 .98,-.1 1.47,-.3c.49,-.1 .98,-.9 1.47,-.9c.49,0 .98,1.0 1.47,1.2c.49,.2 .98,.5 1.47,.5c.49,0 .98,-.3 1.47,-.5c.49,-.3 .98,-1.3 1.47,-1.3c.49,0 .98,1.8 1.47,1.8c.49,0 .98,-2.5 1.47,-2.5c.49,0 .98,.1 1.47,.2c.49,.1 .98,2.7 1.47,2.7c.49,0 .98,-2.4 1.47,-2.4c.49,0 .98,2.3 1.47,2.3c.49,0 .98,-1.3 1.47,-1.3c.49,0 .98,.7 1.47,.7c.49,0 .98,-3.5 1.47,-3.5c.49,0 .98,3.7 1.47,3.7c.49,0 .98,-3.2 1.47,-3.2c.49,0 .98,3.7 1.47,3.7c.49,0 .98,-1.6 1.47,-1.6c.49,0 .98,2.1 1.47,2.1c.49,0 .98,-2.7 1.47,-2.7c.49,0 .98,0 1.47,.1c.49,0 .98,.4 1.47,.4c.49,0 .98,-.1 1.47,-.2c.49,-.1 .98,-1.1 1.47,-1.5c.49,-.4 .98,-1.0 1.47,-1.0c.49,0 .98,2.1 1.47,2.1c.49,0 .98,-1.3 1.47,-1.3c.49,0 .98,.3 1.47,.3c.49,0 .98,.1 1.47,.1c.49,0 .98,-.6 1.47,-.9c.49,-.3 .98,-.7 1.47,-.7c.49,-.0 .98,-.1 1.47,-.1c.49,0 .98,2.2 1.47,2.2c.49,0 .98,-.1 1.47,-.2c.49,-.1 .98,-1.8 1.47,-1.8c.49,0 .98,1.8 1.47,1.8c.49,0 .98,-2.4 1.47,-2.4c.49,0 .98,1.6 1.47,1.6c.49,0 .98,-.1 1.47,-.3c.49,-.2 .98,-3.7 1.47,-3.7c.49,0 .98,3.0 1.47,3.0c.49,0 .98,-2.2 1.47,-2.2c.49,0 .98,3.9 1.47,3.9c.49,0 .98,-.0 1.47,-.0c.49,0 .98,.2 1.47,.2c.49,0 .98,-1.9 1.47,-2.3c.49,-.4 .98,-.8 1.47,-.8c.49,0 .98,1.3 1.47,1.5c.49,.3 .98,.3 1.47,.6c.49,.3 .98,1.6 1.47,1.6c.49,0 .98,-2.8 1.47,-2.8c.49,0 .98,0 1.47,.1c.49,0 .98,.6 1.47,.6c.49,0 .98,-1.0 1.47,-1.0c.49,0 .98,1.2 1.47,1.4c.49,.2 .98,.5 1.47,.5c.49,0 .98,-.8 1.47,-.8c.49,0 .98,.4 1.47,.4c.49,0 .98,-.2 1.47,-.2c.49,0 .98,.9 1.47,.9c.49,0 .98,-.5 1.47,-.8L1278,939.5 L1278,964 Z"/>
<path id="p1usr" d="M-6,964 L-6,826.8 L0,826.8c.49,.8 .98,2.4 1.47,2.4c.49,0 .98,-12.2 1.47,-12.2c.49,0 .98,15.0 1.47,15.0c.49,0 .98,-7.9 1.47,-10.4c.49,-2.5 .98,-5.9 1.47,-5.9c.49,0 .98,7.3 1.47,8.7c.49,1.5 .98,2.3 1.47,3.0c.49,.7 .98,1.7 1.47,1.7c.49,0 .98,-22.4 1.47,-22.4c.49,0 .98,9.7 1.47,13.3c.49,3.6 .98,9.1 1.47,9.1c.49,0 .98,-18.3 1.47,-18.3c.49,0 .98,20.2 1.47,20.2c.49,0 .98,-7.5 1.47,-7.5c.49,0 .98,5.4 1.47,5.4c.49,0 .98,-8.9 1.47,-8.9c.49,0 .98,3.7 1.47,4.3c.49,.6 .98,1.2 1.47,1.2c.49,0 .98,-2.4 1.47,-4.0c.49,-1.7 .98,-6.7 1.47,-6.7c.49,0 .98,6.2 1.47,8.4c.49,2.2 .98,5.3 1.47,5.3c.49,0 .98,-8.2 1.47,-8.2c.49,0 .98,7.5 1.47,7.5c.49,0 .98,-1.1 1.47,-1.6c.49,-.6 .98,-1.7 1.47,-1.7c.49,0 .98,2.9 1.47,2.9c.49,0 .98,-9.3 1.47,-9.3c.49,0 .98,8.9 1.47,8.9c.49,0 .98,-3.6 1.47,-3.9c.49,-.3 .98,-.3 1.47,-.6c.49,-.3 .98,-1.7 1.47,-1.7c.49,0 .98,3.1 1.47,3.9c.49,.7 .98,1.6 1.47,1.6c.49,0 .98,-3.3 1.47,-3.3c.49,0 .98,2.1 1.47,2.1c.49,0 .98,-8.6 1.47,-8.6c.49,0 .98,19.7 1.47,19.7c.49,0 .98,-.1 1.47,-.2c.49,-.1 .98,-5.3 1.47,-5.3c.49,0 .98,1.1 1.47,1.1c.49,0 .98,-3.0 1.47,-3.1c.49,-.1 .98,-.0 1.47,-.1c.49,-.1 .98,-7.4 1.47,-19.7c.49,-12.3 .98,-285.5 1.47,-285.5c.49,0 .98,306.4 1.47,306.4c.49,0 .98,-3.0 1.47,-4.3c.49,-1.3 .98,-2.8 1.47,-3.7c.49,-.9 .98,-1.7 1.47,-2.1c.49,-.5 .98,-1.0 1.47,-1.0c.49,0 .98,8.0 1.47,8.0c.49,0 .98,-9.9 1.47,-9.9c.49,0 .98,6.7 1.47,6.7c.49,0 .98,-4.1 1.47,-4.1c.49,0 .98,1.7 1.47,1.7c.49,0 .98,-17.3 1.47,-17.3c.49,0 .98,13.5 1.47,14.4c.49,.9 .98,1.5 1.47,1.5c.49,0 .98,-.6 1.47,-.6c.49,0 .98,4.5 1.47,4.5c.49,0 .98,-7.7 1.47,-7.7c.49,0 .98,2.9 1.47,2.9c.49,0 .98,-6.1 1.47,-6.1c.49,0 .98,10.3 1.47,10.3c.49,0 .98,-19.1 1.47,-19.1c.49,0 .98,22.7 1.47,22.7c.49,0 .98,-28.9 1.47,-28.9c.49,0 .98,20.7 1.47,23.6c.49,2.9 .98,5.3 1.47,5.3c.49,0 .98,-2.1 1.47,-4.2c.49,-2.1 .98,-12.9 1.47,-12.9c.49,0 .98,9.8 1.47,9.8c.49,0 .98,-17.1 1.47,-17.1c.49,0 .98,7.2 1.47,10.7c.49,3.5 .98,10.2 1.47,10.2c.49,0 .98,-4.0 1.47,-4.0c.49,0 .98,3.6 1.47,4.4c.49,.8 .98,1.6 1.47,1.6c.49,0 .98,-28.8 1.47,-28.8c.49,0 .98,11.4 1.47,16.4c.49,5.1 .98,14.2 1.47,14.2c.49,0 .98,-4.8 1.47,-4.8c.49,0 .98,4.1 1.47,5.0c.49,.9 .98,1.7 1.47,1.7c.49,0 .98,-5.1 1.47,-5.1c.49,0 .98,3.8 1.47,3.8c.49,0 .98,-2.8 1.47,-3.9c.49,-1.1 .98,-1.0 1.47,-2.7c.49,-1.7 .98,-42.7 1.47,-42.7c.49,0 .98,46.6 1.47,46.6c.49,0 .98,-5.6 1.47,-5.6c.49,0 .98,15.6 1.47,16.9c.49,1.3 .98,1.6 1.47,2.2c.49,.7 .98,1.7 1.47,1.7c.49,0 .98,-4.2 1.47,-6.2c.49,-2.0 .98,-5.5 1.47,-5.7c.49,-.2 .98,-.1 1.47,-.3c.49,-.2 .98,-4.8 1.47,-4.8c.49,0 .98,7.6 1.47,8.1c.49,.5 .98,.8 1.47,.8c.49,0 .98,-.2 1.47,-.6c.49,-.4 .98,-17.9 1.47,-17.9c.49,0 .98,21.7 1.47,21.7c.49,0 .98,-2.2 1.47,-4.2c.49,-2.0 .98,-10.9 1.47,-10.9c.49,0 .98,20.2 1.47,20.2c.49,0 .98,-5.8 1.47,-5.8c.49,0 .98,.8 1.47,1.7c.49,.9 .98,5.7 1.47,5.7c.49,0 .98,-3.2 1.47,-3.2c.49,0 .98,1.4 1.47,1.4c.49,0 .98,-7.5 1.47,-7.5c.49,0 .98,15.8 1.47,15.8c.49,0 .98,-17.0 1.47,-17.0c.49,0 .98,13.3 1.47,13.3c.49,0 .98,-1.3 1.47,-1.9c.49,-.6 .98,-.9 1.47,-1.8c.49,-.9 .98,-6.3 1.47,-6.3c.49,0 .98,3.7 1.47,5.1c.49,1.4 .98,2.3 1.47,3.4c.49,1.1 .98,3.5 1.47,3.5c.49,0 .98,-14.7 1.47,-14.7c.49,0 .98,1.9 1.47,1.9c.49,0 .98,-17.3 1.47,-17.3c.49,0 .98,28.7 1.47,28.7c.49,0 .98,-3.3 1.47,-3.3c.49,0 .98,1.1 1.47,2.3c.49,1.2 .98,9.2 1.47,9.2c.49,0 .98,-16.3 1.47,-32.7c.49,-16.5 .98,-100.7 1.47,-100.7c.49,0 .98,128.9 1.47,128.9c.49,0 .98,-13.9 1.47,-13.9c.49,0 .98,.4 1.47,1.1c.49,.7 .98,18.1 1.47,18.1c.49,0 .98,-4.0 1.47,-9.6c.49,-5.6 .98,-70.4 1.47,-70.4c.49,0 .98,80.8 1.47,80.8c.49,0 .98,-.3 1.47,-.6c.49,-.3 .98,-2.5 1.47,-2.5c.49,0 .98,2.8 1.47,2.8c.49,0 .98,-16.4 1.47,-28.3c.49,-11.9 .98,-48.1 1.47,-48.1c.49,0 .98,22.7 1.47,27.3c.49,4.7 .98,8.3 1.47,9.4c.49,1.1 .98,1.2 1.47,2.0c.49,.8 .98,3.2 1.47,3.2c.49,0 .98,-6.9 1.47,-6.9c.49,0 .98,.4 1.47,.9c.49,.6 .98,10.4 1.47,11.4c.49,1.0 .98,1.7 1.47,1.7c.49,0 .98,-5.2 1.47,-5.2c.49,0 .98,.8 1.47,1.0c.49,.3 .98,.6 1.47,.6c.49,0 .98,-31.4 1.47,-31.4c.49,0 .98,38.0 1.47,38.0c.49,0 .98,-.0 1.47,-.1c.49,-.0 .98,-4.4 1.47,-5.7c.49,-1.2 .98,-2.7 1.47,-2.7c.49,0 .98,9.8 1.47,9.8c.49,0 .98,-.9 1.47,-.9c.49,0 .98,1.1 1.47,1.1c.49,0 .98,-9.9 1.47,-9.9c.49,0 .98,9.7 1.47,15.2c.49,5.6 .98,18.4 1.47,18.4c.49,0 .98,-1.0 1.47,-1.0c.49,0 .98,1.2 1.47,2.2c.49,1.0 .98,4.7 1.47,4.7c.49,0 .98,-3.0 1.47,-3.0c.49,0 .98,4.8 1.47,4.8c.49,0 .98,-10.7 1.47,-10.7c.49,0 .98,.6 1.47,.6c.49,0 .98,-.3 1.47,-.8c.49,-.5 .98,-25.4 1.47,-25.4c.49,0 .98,29.7 1.47,29.7c.49,0 .98,-8.3 1.47,-8.3c.49,0 .98,4.9 1.47,4.9c.49,0 .98,-170.3 1.47,-170.3c.49,0 .98,175.8 1.47,175.8c.49,0 .98,-2.0 1.47,-3.4c.49,-1.4 .98,-4.0 1.47,-5.3c.49,-1.3 .98,-1.6 1.47,-3.0c.49,-1.4 .98,-6.6 1.47,-6.6c.49,0 .98,4.3 1.47,4.9c.49,.6 .98,.5 1.47,1.1c.49,.6 .98,7.3 1.47,7.3c.49,0 .98,-11.3 1.47,-11.3c.49,0 .98,4.0 1.47,4.0c.49,0 .98,-14.8 1.47,-14.8c.49,0 .98,13.4 1.47,13.4c.49,0 .98,-6.1 1.47,-6.1c.49,0 .98,2.0 1.47,3.3c.49,1.2 .98,4.4 1.47,4.4c.49,0 .98,-4.8 1.47,-5.8c.49,-1.0 .98,-.7 1.47,-2.0c.49,-1.3 .98,-72.7 1.47,-72.7c.49,0 .98,75.3 1.47,76.7c.49,1.4 .98,2.1 1.47,2.1c.49,0 .98,-9.3 1.47,-9.3c.49,0 .98,6.3 1.47,6.9c.49,.6 .98,1.0 1.47,1.0c.49,0 .98,-8.4 1.47,-12.8c.49,-4.5 .98,-13.9 1.47,-13.9c.49,0 .98,26.2 1.47,26.2c.49,0 .98,-9.3 1.47,-9.3c.49,0 .98,2.4 1.47,3.4c.49,1.0 .98,2.5 1.47,2.5c.49,0 .98,-13.1 1.47,-13.1c.49,0 .98,24.5 1.47,24.5c.49,0 .98,-11.3 1.47,-11.3c.49,0 .98,.4 1.47,.4c.49,0 .98,-9.3 1.47,-9.3c.49,0 .98,10.6 1.47,10.6c.49,0 .98,-8.6 1.47,-8.6c.49,0 .98,16.6 1.47,16.6c.49,0 .98,-7.8 1.47,-7.8c.49,-.0 .98,-.0 1.47,-.0c.49,-.0 .98,-26.0 1.47,-26.0c.49,0 .98,19.8 1.47,23.4c.49,3.6 .98,7.0 1.47,7.0c.49,0 .98,-11.1 1.47,-15.5c.49,-4.4 .98,-9.3 1.47,-11.6c.49,-2.3 .98,-5.0 1.47,-5.0c.49,0 .98,25.0 1.47,26.4c.49,1.4 .98,2.4 1.47,2.4c.49,0 .98,-13.6 1.47,-13.6c.49,0 .98,9.4 1.47,9.4c.49,0 .98,-15.1 1.47,-15.1c.49,0 .98,3.7 1.47,5.9c.49,2.2 .98,7.4 1.47,7.4c.49,0 .98,-16.5 1.47,-16.5c.49,0 .98,20.6 1.47,20.8c.49,.2 .98,.3 1.47,.4c.49,.1 .98,.1 1.47,.2c.49,.1 .98,3.6 1.47,3.6c.49,0 .98,-3.6 1.47,-4.9c.49,-1.3 .98,-2.0 1.47,-3.2c.49,-1.2 .98,-4.0 1.47,-4.3c.49,-.3 .98,-.5 1.47,-.5c.49,0 .98,9.4 1.47,9.4c.49,0 .98,-19.1 1.47,-19.1c.49,0 .98,.3 1.47,.8c.49,.5 .98,7.6 1.47,7.6c.49,0 .98,-1.4 1.47,-1.4c.49,0 .98,8.9 1.47,8.9c.49,0 .98,-1.7 1.47,-1.7c.49,0 .98,2.4 1.47,2.4c.49,0 .98,-4.1 1.47,-7.9c.49,-3.8 .98,-19.9 1.47,-19.9c.49,0 .98,23.0 1.47,23.0c.49,0 .98,-26.0 1.47,-26.0c.49,0 .98,23.2 1.47,25.3c.49,2.1 .98,2.4 1.47,3.6c.49,1.2 .98,3.7 1.47,3.7c.49,0 .98,-.9 1.47,-1.6c.49,-.8 .98,-2.0 1.47,-3.7c.49,-1.7 .98,-7.7 1.47,-7.7c.49,0 .98,7.8 1.47,7.8c.49,0 .98,-4.9 1.47,-8.7c.49,-3.8 .98,-16.4 1.47,-16.4c.49,0 .98,26.9 1.47,26.9c.49,0 .98,-19.5 1.47,-19.5c.49,0 .98,22.2 1.47,22.2c.49,0 .98,-.9 1.47,-1.0c.49,-.1 .98,-.1 1.47,-.2c.49,-.1 .98,-7.8 1.47,-7.8c.49,0 .98,15.5 1.47,15.5c.49,0 .98,-8.2 1.47,-8.9c.49,-.7 .98,-.5 1.47,-1.3c.49,-.7 .98,-8.1 1.47,-8.1c.49,0 .98,6.8 1.47,7.1c.49,.2 .98,.1 1.47,.4c.49,.2 .98,6.4 1.47,6.4c.49,0 .98,-1.9 1.47,-3.9c.49,-2.0 .98,-13.8 1.47,-13.8c.49,0 .98,7.3 1.47,7.3c.49,0 .98,-18.5 1.47,-18.5c.49,0 .98,4.8 1.47,4.8c.49,0 .98,-50.2 1.47,-50.2c.49,0 .98,51.8 1.47,51.8c.49,0 .98,-4.6 1.47,-4.6c.49,0 .98,5.1 1.47,5.1c.49,0 .98,-4.9 1.47,-9.3c.49,-4.4 .98,-22.7 1.47,-22.7c.49,0 .98,25.6 1.47,26.1c.49,.5 .98,.7 1.47,.7c.49,0 .98,-7.8 1.47,-7.9c.49,-.2 .98,-.1 1.47,-.2c.49,-.1 .98,-1.2 1.47,-1.7c.49,-.5 .98,-.5 1.47,-1.3c.49,-.7 .98,-8.0 1.47,-8.0c.49,0 .98,7.6 1.47,7.6c.49,0 .98,-4.8 1.47,-4.8c.49,0 .98,6.0 1.47,6.0c.49,0 .98,-3.6 1.47,-3.6c.49,0 .98,2.0 1.47,3.3c.49,1.3 .98,4.5 1.47,4.5c.49,0 .98,-15.3 1.47,-15.3c.49,0 .98,3.9 1.47,3.9c.49,0 .98,-12.8 1.47,-12.8c.49,0 .98,62.5 1.47,71.8c.49,9.3 .98,16.4 1.47,17.3c.49,1.0 .98,.6 1.47,1.6c.49,.9 .98,15.1 1.47,15.1c.49,0 .98,-12.3 1.47,-15.0c.49,-2.7 .98,-2.8 1.47,-5.5c.49,-2.7 .98,-13.1 1.47,-15.5c.49,-2.4 .98,-1.8 1.47,-4.7c.49,-2.9 .98,-54.3 1.47,-54.3c.49,0 .98,47.1 1.47,54.0c.49,6.9 .98,12.7 1.47,12.7c.49,0 .98,-10.6 1.47,-10.6c.49,0 .98,15.8 1.47,15.8c.49,0 .98,-2.6 1.47,-4.2c.49,-1.6 .98,-5.6 1.47,-5.6c.49,0 .98,15.7 1.47,15.7c.49,0 .98,-4.0 1.47,-6.1c.49,-2.1 .98,-6.5 1.47,-6.5c.49,0 .98,.3 1.47,.7c.49,.4 .98,3.6 1.47,3.6c.49,0 .98,-3.6 1.47,-3.6c.49,0 .98,2.2 1.47,2.2c.49,0 .98,-1.4 1.47,-4.1c.49,-2.7 .98,-209.3 1.47,-209.3c.49,0 .98,221.9 1.47,221.9c.49,0 .98,-205.2 1.47,-205.2c.49,0 .98,214.9 1.47,214.9c.49,0 .98,-2.6 1.47,-3.9c.49,-1.2 .98,-1.7 1.47,-3.6c.49,-1.9 .98,-14.0 1.47,-14.0c.49,0 .98,1.2 1.47,2.1c.49,.8 .98,3.1 1.47,3.1c.49,0 .98,-.8 1.47,-2.1c.49,-1.4 .98,-44.1 1.47,-44.1c.49,0 .98,40.3 1.47,45.1c.49,4.9 .98,8.7 1.47,8.7c.49,0 .98,-6.2 1.47,-9.0c.49,-2.8 .98,-7.9 1.47,-7.9c.49,0 .98,15.3 1.47,15.3c.49,0 .98,-6.8 1.47,-8.0c.49,-1.2 .98,-1.1 1.47,-2.4c.49,-1.3 .98,-4.3 1.47,-9.7c.49,-5.4 .98,-47.9 1.47,-47.9c.49,0 .98,54.7 1.47,56.5c.49,1.8 .98,2.6 1.47,2.8c.49,.1 .98,.1 1.47,.2c.49,.1 .98,1.5 1.47,1.5c.49,0 .98,-11.1 1.47,-11.1c.49,0 .98,6.9 1.47,7.5c.49,.6 .98,.4 1.47,1.0c.49,.6 .98,8.6 1.47,8.6c.49,0 .98,-1.5 1.47,-3.4c.49,-1.9 .98,-16.3 1.47,-16.3c.49,0 .98,17.5 1.47,21.4c.49,4.0 .98,8.2 1.47,8.2c.49,0 .98,-15.6 1.47,-16.6c.49,-1.1 .98,-.8 1.47,-1.8c.49,-1.0 .98,-9.1 1.47,-9.1c.49,0 .98,21.3 1.47,22.1c.49,.8 .98,1.3 1.47,1.3c.49,0 .98,-38.5 1.47,-38.5c.49,0 .98,17.9 1.47,21.3c.49,3.4 .98,6.8 1.47,6.8c.49,0 .98,-.6 1.47,-.6c.49,0 .98,7.3 1.47,7.3c.49,0 .98,-9.5 1.47,-9.5c.49,0 .98,4.5 1.47,5.4c.49,.9 .98,1.8 1.47,1.8c.49,0 .98,-25.4 1.47,-25.4c.49,0 .98,18.1 1.47,18.1c.49,0 .98,-35.5 1.47,-35.5c.49,0 .98,40.8 1.47,41.6c.49,.7 .98,1.1 1.47,1.1c.49,0 .98,-1.0 1.47,-1.2c.49,-.2 .98,-.1 1.47,-.3c.49,-.2 .98,-9.8 1.47,-9.8c.49,0 .98,18.8 1.47,18.8c.49,0 .98,-5.7 1.47,-5.7c.49,0 .98,3.7 1.47,3.7c.49,0 .98,-7.5 1.47,-7.5c.49,0 .98,8.8 1.47,8.8c.49,0 .98,-11.3 1.47,-26.5c.49,-15.2 .98,-165.2 1.47,-165.2c.49,0 .98,195.9 1.47,195.9c.49,0 .98,-1.8 1.47,-3.5c.49,-1.7 .98,-9.1 1.47,-9.1c.49,0 .98,12.3 1.47,12.3c.49,0 .98,-39.3 1.47,-39.3c.49,0 .98,28.5 1.47,29.2c.49,.7 .98,.5 1.47,1.2c.49,.6 .98,4.5 1.47,6.1c.49,1.6 .98,3.9 1.47,3.9c.49,0 .98,-20.4 1.47,-20.4c.49,0 .98,13.6 1.47,13.6c.49,0 .98,-9.4 1.47,-9.4c.49,0 .98,10.0 1.47,12.4c.49,2.5 .98,5.2 1.47,5.2c.49,0 .98,-1.1 1.47,-1.8c.49,-.6 .98,-2.0 1.47,-2.0c.49,0 .98,8.8 1.47,8.8c.49,0 .98,-6.0 1.47,-11.1c.49,-5.1 .98,-24.8 1.47,-24.8c.49,0 .98,28.3 1.47,28.3c.49,0 .98,-3.5 1.47,-3.5c.49,0 .98,12.1 1.47,12.1c.49,0 .98,-3.7 1.47,-4.9c.49,-1.2 .98,-2.8 1.47,-2.8c.49,0 .98,11.6 1.47,11.6c.49,0 .98,-10.3 1.47,-11.6c.49,-1.3 .98,-2.4 1.47,-2.4c.49,0 .98,.7 1.47,1.4c.49,.7 .98,2.0 1.47,3.9c.49,1.9 .98,10.9 1.47,10.9c.49,0 .98,-11.4 1.47,-11.4c.49,0 .98,14.1 1.47,14.1c.49,0 .98,-13.1 1.47,-13.1c.49,0 .98,4.9 1.47,4.9c.49,0 .98,-2.2 1.47,-6.3c.49,-4.1 .98,-176.4 1.47,-176.4c.49,0 .98,191.9 1.47,191.9c.49,0 .98,-12.3 1.47,-12.3c.49,0 .98,5.7 1.47,5.7c.49,0 .98,-.7 1.47,-1.6c.49,-.9 .98,-4.3 1.47,-7.6c.49,-3.3 .98,-14.6 1.47,-14.6c.49,0 .98,2.7 1.47,4.3c.49,1.6 .98,5.5 1.47,5.5c.49,0 .98,-10.9 1.47,-26.6c.49,-15.7 .98,-202.1 1.47,-202.1c.49,0 .98,227.6 1.47,227.6c.49,0 .98,-70.7 1.47,-81.3c.49,-10.6 .98,-19.8 1.47,-19.8c.49,0 .98,32.7 1.47,32.7c.49,0 .98,-6.6 1.47,-6.6c.49,0 .98,17.6 1.47,17.6c.49,0 .98,-8.0 1.47,-8.0c.49,0 .98,2.2 1.47,2.2c.49,0 .98,-2.5 1.47,-3.7c.49,-1.3 .98,-3.8 1.47,-3.8c.49,0 .98,3.1 1.47,3.4c.49,.3 .98,.6 1.47,.6c.49,0 .98,-32.0 1.47,-32.0c.49,0 .98,34.2 1.47,34.2c.49,0 .98,-6.4 1.47,-6.4c.49,0 .98,.6 1.47,1.1c.49,.4 .98,.8 1.47,1.7c.49,.9 .98,6.9 1.47,6.9c.49,0 .98,-9.9 1.47,-10.2c.49,-.3 .98,-.5 1.47,-.5c.49,0 .98,2.9 1.47,5.8c.49,2.9 .98,8.2 1.47,17.1c.49,8.9 .98,61.8 1.47,61.8c.49,0 .98,-8.5 1.47,-8.5c.49,0 .98,5.9 1.47,6.8c.49,1.0 .98,1.9 1.47,1.9c.49,0 .98,-1.3 1.47,-1.3c.49,0 .98,2.8 1.47,3.0c.49,.2 .98,.3 1.47,.3c.49,0 .98,-.7 1.47,-1.3c.49,-.6 .98,-2.5 1.47,-2.5c.49,0 .98,8.8 1.47,8.8c.49,0 .98,-25.5 1.47,-25.5c.49,0 .98,9.2 1.47,12.3c.49,3.1 .98,7.0 1.47,7.3c.49,.3 .98,.4 1.47,.4c.49,0 .98,-1.2 1.47,-2.4c.49,-1.2 .98,-7.1 1.47,-7.1c.49,0 .98,1.8 1.47,1.8c.49,0 .98,-.6 1.47,-.6c.49,0 .98,6.2 1.47,6.2c.49,0 .98,-30.4 1.47,-30.4c.49,0 .98,26.3 1.47,26.3c.49,0 .98,-.6 1.47,-1.3c.49,-.7 .98,-1.8 1.47,-4.4c.49,-2.7 .98,-38.1 1.47,-38.1c.49,0 .98,49.3 1.47,49.3c.49,0 .98,-12.3 1.47,-12.3c.49,0 .98,11.9 1.47,11.9c.49,0 .98,-4.7 1.47,-5.3c.49,-.5 .98,-.7 1.47,-.9c.49,-.2 .98,-.2 1.47,-.6c.49,-.3 .98,-3.9 1.47,-3.9c.49,0 .98,8.2 1.47,8.2c.49,0 .98,-21.7 1.47,-21.7c.49,0 .98,12.9 1.47,12.9c.49,0 .98,-70.2 1.47,-70.2c.49,0 .98,77.5 1.47,77.5c.49,0 .98,-32.0 1.47,-32.0c.49,0 .98,26.4 1.47,26.4c.49,0 .98,-.8 1.47,-.8c.49,0 .98,11.6 1.47,11.6c.49,0 .98,-16.3 1.47,-16.3c.49,0 .98,5.4 1.47,6.0c.49,.6 .98,.5 1.47,1.0c.49,.5 .98,3.4 1.47,3.4c.49,0 .98,-8.2 1.47,-8.2c.49,0 .98,8.4 1.47,8.4c.49,0 .98,-42.3 1.47,-42.3c.49,0 .98,25.2 1.47,30.2c.49,5.1 .98,10.1 1.47,10.1c.49,0 .98,-.4 1.47,-1.2c.49,-.8 .98,-29.6 1.47,-29.6c.49,0 .98,28.6 1.47,30.0c.49,1.4 .98,2.3 1.47,2.3c.49,0 .98,-28.9 1.47,-28.9c.49,0 .98,25.7 1.47,25.7c.49,0 .98,-17.8 1.47,-17.8c.49,0 .98,12.5 1.47,15.0c.49,2.4 .98,4.8 1.47,4.8c.49,0 .98,-1.1 1.47,-2.4c.49,-1.3 .98,-9.0 1.47,-9.0c.49,0 .98,9.3 1.47,9.3c.49,0 .98,-3.4 1.47,-5.0c.49,-1.6 .98,-4.5 1.47,-4.5c.49,0 .98,.6 1.47,1.5c.49,.9 .98,11.2 1.47,11.2c.49,0 .98,-10.2 1.47,-11.3c.49,-1.1 .98,-2.0 1.47,-2.0c.49,0 .98,17.2 1.47,17.2c.49,0 .98,-5.6 1.47,-7.4c.49,-1.8 .98,-4.3 1.47,-4.3c.49,0 .98,14.3 1.47,14.3c.49,0 .98,-22.8 1.47,-22.8c.49,0 .98,.5 1.47,.5c.49,0 .98,-57.7 1.47,-57.7c.49,0 .98,49.0 1.47,53.7c.49,4.7 .98,8.1 1.47,8.1c.49,0 .98,-2.8 1.47,-3.5c.49,-.7 .98,-.6 1.47,-1.6c.49,-1.0 .98,-25.5 1.47,-25.5c.49,0 .98,4.7 1.47,8.5c.49,3.8 .98,17.6 1.47,17.6c.49,0 .98,-3.8 1.47,-3.8c.49,0 .98,3.8 1.47,3.8c.49,0 .98,-.8 1.47,-1.5c.49,-.7 .98,-3.9 1.47,-3.9c.49,0 .98,6.5 1.47,6.5c.49,0 .98,-11.3 1.47,-11.3c.49,0 .98,8.8 1.47,8.8c.49,0 .98,-2.8 1.47,-5.6c.49,-2.8 .98,-16.5 1.47,-16.5c.49,0 .98,20.8 1.47,20.8c.49,0 .98,-22.2 1.47,-22.2c.49,0 .98,13.4 1.47,17.4c.49,4.0 .98,9.1 1.47,9.1c.49,0 .98,-.0 1.47,-.1c.49,-.1 .98,-27.7 1.47,-27.7c.49,0 .98,29.5 1.47,29.5c.49,0 .98,-.5 1.47,-1.4c.49,-.9 .98,-19.8 1.47,-19.8c.49,0 .98,31.4 1.47,31.4c.49,0 .98,-2.9 1.47,-5.5c.49,-2.6 .98,-13.6 1.47,-13.6c.49,0 .98,6.7 1.47,8.7c.49,2.0 .98,4.6 1.47,4.6c.49,0 .98,-31.0 1.47,-31.0c.49,0 .98,27.2 1.47,27.2c.49,0 .98,-3.1 1.47,-7.4c.49,-4.3 .98,-51.7 1.47,-51.7c.49,0 .98,61.3 1.47,61.3c.49,0 .98,-10.4 1.47,-10.4c.49,0 .98,9.4 1.47,9.4c.49,0 .98,-37.1 1.47,-37.1c.49,0 .98,26.6 1.47,26.6c.49,0 .98,-2.2 1.47,-2.2c.49,0 .98,11.5 1.47,11.5c.49,0 .98,-4.0 1.47,-4.5c.49,-.6 .98,-1.0 1.47,-1.0c.49,0 .98,5.7 1.47,5.7c.49,0 .98,-7.8 1.47,-7.8c.49,0 .98,8.0 1.47,8.0c.49,0 .98,-4.8 1.47,-5.8c.49,-1.0 .98,-2.0 1.47,-2.0c.49,0 .98,8.4 1.47,8.4c.49,0 .98,-10.7 1.47,-10.7c.49,0 .98,0 1.47,.0c.49,0 .98,-.6 1.47,-.6c.49,0 .98,14.6 1.47,14.6c.49,0 .98,-7.5 1.47,-7.5c.49,0 .98,.9 1.47,.9c.49,0 .98,-1.8 1.47,-1.8c.49,0 .98,6.1 1.47,6.1c.49,0 .98,-7.8 1.47,-7.8c.49,0 .98,4.4 1.47,4.4c.49,0 .98,-50.0 1.47,-50.0c.49,0 .98,45.4 1.47,45.4c.49,0 .98,-1.0 1.47,-3.0c.49,-2.0 .98,-166.9 1.47,-166.9c.49,0 .98,183.8 1.47,183.8c.49,0 .98,-3.9 1.47,-5.9c.49,-2.0 .98,-5.9 1.47,-5.9c.49,0 .98,9.2 1.47,9.2c.49,0 .98,-1.2 1.47,-1.2c.49,0 .98,2.5 1.47,3.0c.49,.5 .98,1.0 1.47,1.0c.49,0 .98,-13.8 1.47,-13.8c.49,0 .98,3.3 1.47,3.3c.49,0 .98,-1.5 1.47,-3.5c.49,-2.0 .98,-22.9 1.47,-22.9c.49,0 .98,39.6 1.47,39.6c.49,0 .98,-.9 1.47,-2.1c.49,-1.2 .98,-14.3 1.47,-14.3c.49,0 .98,5.7 1.47,8.6c.49,3.0 .98,9.2 1.47,9.2c.49,0 .98,-8.8 1.47,-8.8c.49,0 .98,4.4 1.47,4.4c.49,0 .98,-5.0 1.47,-11.1c.49,-6.1 .98,-50.8 1.47,-50.8c.49,0 .98,32.1 1.47,37.9c.49,5.8 .98,11.3 1.47,11.3c.49,0 .98,-11.1 1.47,-11.2c.49,-.1 .98,-.0 1.47,-.1c.49,-.1 .98,-24.0 1.47,-24.0c.49,0 .98,27.5 1.47,27.5c.49,0 .98,-20.5 1.47,-20.5c.49,0 .98,9.8 1.47,10.3c.49,.5 .98,.8 1.47,.8c.49,0 .98,-20.5 1.47,-20.5c.49,0 .98,28.2 1.47,28.2c.49,0 .98,-169.5 1.47,-169.5c.49,0 .98,172.7 1.47,172.7c.49,0 .98,-8.1 1.47,-11.2c.49,-3.1 .98,-4.1 1.47,-7.8c.49,-3.6 .98,-18.5 1.47,-18.5c.49,0 .98,41.9 1.47,41.9c.49,0 .98,-10.5 1.47,-10.5c.49,0 .98,9.9 1.47,9.9c.49,0 .98,-2.4 1.47,-2.4c.49,0 .98,.5 1.47,.9c.49,.4 .98,1.8 1.47,1.8c.49,0 .98,-2.3 1.47,-2.3c.49,0 .98,3.6 1.47,5.3c.49,1.6 .98,4.5 1.47,4.5c.49,0 .98,-9.0 1.47,-9.0c.49,0 .98,4.2 1.47,4.2c.49,0 .98,-21.2 1.47,-21.2c.49,0 .98,21.2 1.47,23.4c.49,2.2 .98,3.8 1.47,3.8c.49,0 .98,-4.7 1.47,-6.7c.49,-2.0 .98,-5.4 1.47,-5.4c.49,0 .98,5.0 1.47,5.0c.49,0 .98,-16.3 1.47,-23.4c.49,-7.1 .98,-19.8 1.47,-19.8c.49,0 .98,30.9 1.47,30.9c.49,0 .98,-34.4 1.47,-34.4c.49,0 .98,45.2 1.47,45.2c.49,0 .98,-3.1 1.47,-4.7c.49,-1.6 .98,-4.9 1.47,-4.9c.49,0 .98,9.0 1.47,9.0c.49,0 .98,-120.5 1.47,-120.5c.49,0 .98,124.8 1.47,124.8c.49,0 .98,-10.2 1.47,-10.2c.49,0 .98,3.7 1.47,3.7c.49,0 .98,-46.1 1.47,-46.1c.49,0 .98,43.3 1.47,43.3c.49,0 .98,-6.9 1.47,-6.9c.49,0 .98,9.3 1.47,9.3c.49,0 .98,-.0 1.47,-.0c.49,-.0 .98,-3.4 1.47,-7.5c.49,-4.1 .98,-36.4 1.47,-36.4c.49,0 .98,44.2 1.47,44.2c.49,0 .98,-1.3 1.47,-1.3c.49,0 .98,.8 1.47,.8c.49,0 .98,-60.9 1.47,-60.9c.49,0 .98,61.8 1.47,61.8c.49,0 .98,-3.1 1.47,-3.1c.49,0 .98,9.8 1.47,9.8c.49,0 .98,-9.5 1.47,-9.5c.49,0 .98,7.2 1.47,7.2c.49,0 .98,-.6 1.47,-1.2c.49,-.6 .98,-1.6 1.47,-3.2c.49,-1.6 .98,-10.1 1.47,-10.1c.49,0 .98,14.2 1.47,14.2c.49,0 .98,-9.4 1.47,-9.4c.49,0 .98,8.8 1.47,11.4c.49,2.5 .98,5.7 1.47,5.7c.49,0 .98,-45.3 1.47,-45.3c.49,0 .98,41.7 1.47,41.7c.49,0 .98,-.5 1.47,-1.5c.49,-.9 .98,-35.1 1.47,-35.1c.49,0 .98,41.9 1.47,41.9c.49,0 .98,-.1 1.47,-.2c.49,-.1 .98,-218.2 1.47,-218.2c.49,0 .98,200.9 1.47,201.4c.49,.6 .98,.3 1.47,.9c.49,.6 .98,26.3 1.47,26.3c.49,0 .98,-152.0 1.47,-152.0c.49,0 .98,140.2 1.47,140.2c.49,0 .98,-30.6 1.47,-30.6c.49,0 .98,27.2 1.47,27.2c.49,0 .98,-28.8 1.47,-28.8c.49,0 .98,26.9 1.47,26.9c.49,0 .98,-11.2 1.47,-11.2c.49,0 .98,.4 1.47,1.1c.49,.7 .98,12.2 1.47,14.3c.49,2.1 .98,4.0 1.47,4.0c.49,0 .98,-12.5 1.47,-12.5c.49,0 .98,.1 1.47,.3c.49,.2 .98,8.0 1.47,8.4c.49,.4 .98,.6 1.47,.6c.49,0 .98,-9.2 1.47,-9.2c.49,0 .98,12.9 1.47,14.4c.49,1.4 .98,2.6 1.47,2.6c.49,0 .98,-4.0 1.47,-4.0c.49,0 .98,8.3 1.47,8.3c.49,0 .98,-183.4 1.47,-183.4c.49,0 .98,170.4 1.47,170.4c.49,0 .98,-2.1 1.47,-3.0c.49,-.9 .98,-2.6 1.47,-2.6c.49,0 .98,19.2 1.47,19.2c.49,0 .98,-34.7 1.47,-34.7c.49,0 .98,28.0 1.47,28.0c.49,0 .98,-7.3 1.47,-7.3c.49,0 .98,11.1 1.47,11.1c.49,0 .98,-4.6 1.47,-5.7c.49,-1.1 .98,-1.1 1.47,-2.4c.49,-1.3 .98,-3.9 1.47,-10.2c.49,-6.3 .98,-135.9 1.47,-135.9c.49,0 .98,75.5 1.47,75.5c.49,0 .98,-12.7 1.47,-12.7c.49,0 .98,12.7 1.47,12.7c.49,0 .98,-2.2 1.47,-4.7c.49,-2.5 .98,-19.5 1.47,-19.5c.49,0 .98,22.4 1.47,22.9c.49,.5 .98,.7 1.47,.7c.49,0 .98,-27.2 1.47,-27.2c.49,0 .98,27.1 1.47,30.5c.49,3.4 .98,6.1 1.47,6.1c.49,0 .98,-6.2 1.47,-12.1c.49,-5.9 .98,-33.2 1.47,-33.2c.49,0 .98,44.8 1.47,44.8c.49,0 .98,-9.8 1.47,-9.8c.49,0 .98,.1 1.47,.3c.49,.2 .98,4.1 1.47,4.1c.49,0 .98,-11.0 1.47,-11.0c.49,0 .98,6.1 1.47,7.2c.49,1.2 .98,2.3 1.47,2.3c.49,0 .98,-2.3 1.47,-2.3c.49,0 .98,4.9 1.47,4.9c.49,0 .98,-24.0 1.47,-24.0c.49,0 .98,80.4 1.47,85.6c.49,5.2 .98,8.5 1.47,8.5c.49,0 .98,-12.5 1.47,-12.5c.49,0 .98,30.3 1.47,31.2c.49,.9 .98,1.4 1.47,1.4c.49,0 .98,-8.9 1.47,-8.9c.49,0 .98,13.6 1.47,13.6c.49,0 .98,-9.7 1.47,-9.7c.49,0 .98,3.3 1.47,3.3c.49,0 .98,-184.2 1.47,-184.2c.49,0 .98,157.6 1.47,166.0c.49,8.4 .98,13.7 1.47,13.7c.49,0 .98,-1.5 1.47,-3.2c.49,-1.7 .98,-13.9 1.47,-13.9c.49,0 .98,19.9 1.47,19.9c.49,0 .98,-2.1 1.47,-3.7c.49,-1.6 .98,-6.7 1.47,-6.7c.49,0 .98,5.6 1.47,6.0c.49,.4 .98,.7 1.47,.7c.49,0 .98,-5.5 1.47,-7.7c.49,-2.2 .98,-5.7 1.47,-5.7c.49,0 .98,10.5 1.47,11.7c.49,1.2 .98,2.2 1.47,2.2c.49,0 .98,-1.1 1.47,-1.1c.49,0 .98,.4 1.47,.4c.49,0 .98,-10.8 1.47,-10.8c.49,0 .98,7.7 1.47,7.7c.49,0 .98,-15.6 1.47,-15.6c.49,0 .98,1.3 1.47,2.2c.49,.9 .98,3.3 1.47,3.3c.49,0 .98,-7.1 1.47,-7.1c.49,0 .98,11.5 1.47,11.5c.49,0 .98,-5.0 1.47,-11.4c.49,-6.4 .98,-59.9 1.47,-59.9c.49,0 .98,72.7 1.47,72.7c.49,0 .98,-11.8 1.47,-11.8c.49,0 .98,3.7 1.47,4.6c.49,.9 .98,2.0 1.47,2.0c.49,0 .98,-15.1 1.47,-19.0c.49,-3.9 .98,-8.5 1.47,-8.5c.49,0 .98,21.0 1.47,23.7c.49,2.7 .98,4.9 1.47,4.9c.49,0 .98,-1.1 1.47,-1.1c.49,0 .98,4.1 1.47,4.1c.49,0 .98,-.5 1.47,-.5c.49,0 .98,7.8 1.47,7.8c.49,0 .98,-4.0 1.47,-5.8c.49,-1.9 .98,-5.4 1.47,-5.4c.49,0 .98,1.5 1.47,1.5c.49,0 .98,-15.1 1.47,-15.1c.49,0 .98,14.2 1.47,14.4c.49,.2 .98,.3 1.47,.3c.49,0 .98,-11.5 1.47,-12.7c.49,-1.1 .98,-2.0 1.47,-2.0c.49,0 .98,15.7 1.47,15.7c.49,0 .98,-2.5 1.47,-2.6c.49,-.1 .98,-.2 1.47,-.2c.49,0 .98,0 1.47,.1c.49,0 .98,8.5 1.47,8.5c.49,0 .98,-4.0 1.47,-7.0c.49,-3.1 .98,-13.5 1.47,-13.5c.49,0 .98,14.6 1.47,14.6c.49,0 .98,-13.5 1.47,-14.7c.49,-1.2 .98,-2.0 1.47,-2.0c.49,0 .98,22.5 1.47,22.5c.49,0 .98,-27.3 1.47,-27.3c.49,0 .98,19.7 1.47,19.7c.49,0 .98,-15.7 1.47,-15.7c.49,0 .98,17.2 1.47,18.2c.49,1.0 .98,.7 1.47,1.6c.49,.8 .98,6.5 1.47,6.5c.49,0 .98,-.2 1.47,-.6c.49,-.4 .98,-10.6 1.47,-10.6c.49,0 .98,2.1 1.47,2.9c.49,.7 .98,1.8 1.47,1.8c.49,0 .98,-3.7 1.47,-3.7c.49,0 .98,8.0 1.47,8.0c.49,0 .98,-.3 1.47,-.9c.49,-.5 .98,-7.2 1.47,-7.2c.49,0 .98,8.4 1.47,8.4c.49,0 .98,-8.9 1.47,-8.9c.49,0 .98,3.3 1.47,3.3c.49,0 .98,-11.7 1.47,-11.7c.49,0 .98,8.8 1.47,8.8c.49,0 .98,-14.3 1.47,-15.9c.49,-1.6 .98,-1.1 1.47,-2.9c.49,-1.8 .98,-39.0 1.47,-39.0c.49,0 .98,47.2 1.47,47.2c.49,0 .98,-8.7 1.47,-8.7c.49,0 .98,10.9 1.47,10.9c.49,0 .98,-1.0 1.47,-1.0c.49,0 .98,.8 1.47,1.7c.49,.9 .98,8.0 1.47,8.1c.49,0 .98,.1 1.47,.1c.49,0 .98,-8.7 1.47,-8.7c.49,0 .98,6.3 1.47,6.3c.49,0 .98,-2.0 1.47,-4.5c.49,-2.6 .98,-24.6 1.47,-24.6c.49,0 .98,25.6 1.47,25.6c.49,0 .98,-.0 1.47,-.0c.49,-.0 .98,-5.2 1.47,-5.2c.49,0 .98,6.5 1.47,6.5c.49,0 .98,-1.8 1.47,-3.6c.49,-1.8 .98,-11.4 1.47,-11.4c.49,0 .98,15.5 1.47,15.5c.49,0 .98,-8.8 1.47,-8.8c.49,0 .98,8.3 1.47,8.3c.49,0 .98,-13.2 1.47,-13.2c.49,0 .98,13.4 1.47,13.4c.49,0 .98,-.8 1.47,-2.3c.49,-1.5 .98,-42.8 1.47,-42.8c.49,0 .98,41.2 1.47,41.2c.49,0 .98,-34.8 1.47,-34.8c.49,0 .98,37.8 1.47,37.8c.49,0 .98,-1.9 1.47,-4.1c.49,-2.1 .98,-15.1 1.47,-15.1c.49,0 .98,12.9 1.47,12.9c.49,0 .98,-12.0 1.47,-15.6c.49,-3.6 .98,-8.2 1.47,-8.2c.49,0 .98,20.0 1.47,23.4c.49,3.4 .98,6.5 1.47,6.5c.49,0 .98,-7.9 1.47,-7.9c.49,0 .98,15.8 1.47,15.8c.49,0 .98,-9.0 1.47,-13.6L1278,871.6 L1278,964 Z"/>
<path id="p1iow" d="M-6,964 L-6,818.4 L0,818.4c.49,.8 .98,2.5 1.47,2.5c.49,0 .98,-14.5 1.47,-14.5c.49,0 .98,14.6 1.47,14.6c.49,0 .98,-8.5 1.47,-10.3c.49,-1.8 .98,-3.6 1.47,-3.6c.49,0 .98,6.0 1.47,7.4c.49,1.4 .98,2.1 1.47,2.9c.49,.7 .98,1.8 1.47,1.8c.49,0 .98,-23.1 1.47,-23.1c.49,0 .98,12.1 1.47,15.3c.49,3.2 .98,7.0 1.47,7.0c.49,0 .98,-17.2 1.47,-17.2c.49,0 .98,19.2 1.47,19.2c.49,0 .98,-6.1 1.47,-6.1c.49,0 .98,5.0 1.47,5.0c.49,0 .98,-8.8 1.47,-8.8c.49,0 .98,2.4 1.47,3.4c.49,1.0 .98,2.6 1.47,2.6c.49,0 .98,-3.5 1.47,-5.2c.49,-1.7 .98,-5.1 1.47,-5.1c.49,0 .98,5.6 1.47,7.4c.49,1.8 .98,4.3 1.47,4.3c.49,0 .98,-7.2 1.47,-7.2c.49,0 .98,6.4 1.47,6.6c.49,.1 .98,.2 1.47,.2c.49,0 .98,-1.7 1.47,-1.7c.49,0 .98,2.8 1.47,2.8c.49,0 .98,-11.4 1.47,-11.4c.49,0 .98,10.6 1.47,10.6c.49,0 .98,-5.0 1.47,-5.0c.49,0 .98,.7 1.47,.7c.49,0 .98,-3.9 1.47,-3.9c.49,0 .98,6.5 1.47,6.5c.49,0 .98,-.7 1.47,-1.0c.49,-.3 .98,-.6 1.47,-.7c.49,-.2 .98,-.1 1.47,-.4c.49,-.2 .98,-7.7 1.47,-7.7c.49,0 .98,18.3 1.47,18.7c.49,.4 .98,.7 1.47,.7c.49,0 .98,-3.9 1.47,-4.3c.49,-.4 .98,-.4 1.47,-.8c.49,-.4 .98,-2.2 1.47,-2.2c.49,0 .98,.7 1.47,.7c.49,0 .98,-7.8 1.47,-20.6c.49,-12.8 .98,-286.0 1.47,-286.0c.49,0 .98,307.9 1.47,307.9c.49,0 .98,-4.6 1.47,-5.9c.49,-1.3 .98,-2.2 1.47,-3.1c.49,-.8 .98,-1.6 1.47,-2.1c.49,-.4 .98,-1.0 1.47,-1.0c.49,0 .98,7.1 1.47,7.1c.49,0 .98,-7.5 1.47,-7.5c.49,0 .98,4.4 1.47,4.4c.49,0 .98,-3.4 1.47,-3.4c.49,0 .98,1.9 1.47,1.9c.49,0 .98,-16.0 1.47,-16.0c.49,0 .98,10.6 1.47,12.1c.49,1.5 .98,2.7 1.47,2.7c.49,0 .98,-1.3 1.47,-1.3c.49,0 .98,5.9 1.47,5.9c.49,0 .98,-7.1 1.47,-7.1c.49,0 .98,1.3 1.47,1.3c.49,0 .98,-5.6 1.47,-5.6c.49,0 .98,10.3 1.47,10.3c.49,0 .98,-19.9 1.47,-19.9c.49,0 .98,23.0 1.47,23.0c.49,0 .98,-28.0 1.47,-28.0c.49,0 .98,19.8 1.47,22.3c.49,2.6 .98,4.6 1.47,4.6c.49,0 .98,-2.3 1.47,-4.3c.49,-2.0 .98,-10.3 1.47,-10.3c.49,0 .98,8.0 1.47,8.0c.49,0 .98,-16.3 1.47,-16.3c.49,0 .98,6.7 1.47,10.1c.49,3.4 .98,10.4 1.47,10.4c.49,0 .98,-4.4 1.47,-4.4c.49,0 .98,4.1 1.47,5.0c.49,.9 .98,1.9 1.47,1.9c.49,0 .98,-28.3 1.47,-28.3c.49,0 .98,10.7 1.47,15.5c.49,4.7 .98,13.2 1.47,13.2c.49,0 .98,-4.9 1.47,-4.9c.49,0 .98,5.3 1.47,6.3c.49,.9 .98,1.8 1.47,1.8c.49,0 .98,-5.4 1.47,-5.4c.49,0 .98,3.1 1.47,3.1c.49,0 .98,-3.6 1.47,-4.3c.49,-.8 .98,-.5 1.47,-1.5c.49,-1.0 .98,-43.0 1.47,-43.0c.49,0 .98,48.0 1.47,48.0c.49,0 .98,-6.3 1.47,-6.3c.49,0 .98,15.3 1.47,16.3c.49,1.0 .98,1.0 1.47,1.7c.49,.7 .98,2.5 1.47,2.5c.49,0 .98,-4.9 1.47,-6.6c.49,-1.8 .98,-3.4 1.47,-4.3c.49,-.9 .98,-1.1 1.47,-2.0c.49,-.9 .98,-3.9 1.47,-3.9c.49,0 .98,7.0 1.47,8.2c.49,1.1 .98,2.1 1.47,2.1c.49,0 .98,-.2 1.47,-.4c.49,-.3 .98,-17.8 1.47,-17.8c.49,0 .98,19.3 1.47,19.3c.49,0 .98,-.8 1.47,-1.8c.49,-1.1 .98,-12.2 1.47,-12.2c.49,0 .98,19.2 1.47,19.2c.49,0 .98,-5.3 1.47,-5.3c.49,0 .98,1.2 1.47,2.3c.49,1.1 .98,5.7 1.47,5.7c.49,0 .98,-4.1 1.47,-4.1c.49,0 .98,3.5 1.47,3.5c.49,0 .98,-8.7 1.47,-8.7c.49,0 .98,15.3 1.47,15.3c.49,0 .98,-17.9 1.47,-17.9c.49,0 .98,14.9 1.47,14.9c.49,0 .98,-.5 1.47,-.8c.49,-.4 .98,-.8 1.47,-1.7c.49,-.9 .98,-6.8 1.47,-6.8c.49,0 .98,3.5 1.47,4.4c.49,.9 .98,1.0 1.47,1.9c.49,.9 .98,4.8 1.47,4.8c.49,0 .98,-15.4 1.47,-15.4c.49,0 .98,3.9 1.47,3.9c.49,0 .98,-17.5 1.47,-17.5c.49,0 .98,26.6 1.47,26.6c.49,0 .98,-3.3 1.47,-3.3c.49,0 .98,1.9 1.47,3.6c.49,1.7 .98,8.7 1.47,8.7c.49,0 .98,-15.7 1.47,-31.8c.49,-16.1 .98,-100.9 1.47,-100.9c.49,0 .98,128.6 1.47,128.6c.49,0 .98,-14.6 1.47,-14.6c.49,0 .98,1.1 1.47,2.5c.49,1.5 .98,16.8 1.47,16.8c.49,0 .98,-3.8 1.47,-9.2c.49,-5.4 .98,-69.5 1.47,-69.5c.49,0 .98,80.2 1.47,80.2c.49,0 .98,-.7 1.47,-1.0c.49,-.3 .98,-1.0 1.47,-1.0c.49,0 .98,.4 1.47,.4c.49,0 .98,-15.9 1.47,-27.6c.49,-11.7 .98,-48.2 1.47,-48.2c.49,0 .98,22.4 1.47,27.3c.49,4.9 .98,9.1 1.47,10.2c.49,1.1 .98,1.1 1.47,1.9c.49,.9 .98,4.2 1.47,4.2c.49,0 .98,-7.7 1.47,-7.7c.49,0 .98,.1 1.47,.4c.49,.3 .98,11.2 1.47,11.8c.49,.5 .98,.9 1.47,.9c.49,0 .98,-4.4 1.47,-4.4c.49,0 .98,.4 1.47,.7c.49,.3 .98,1.0 1.47,1.0c.49,0 .98,-30.5 1.47,-30.5c.49,0 .98,35.4 1.47,36.2c.49,.8 .98,1.2 1.47,1.2c.49,0 .98,-5.3 1.47,-6.6c.49,-1.3 .98,-2.6 1.47,-2.6c.49,0 .98,10.7 1.47,10.7c.49,0 .98,-2.0 1.47,-2.0c.49,0 .98,2.0 1.47,2.0c.49,0 .98,-9.2 1.47,-9.2c.49,0 .98,10.3 1.47,15.7c.49,5.4 .98,16.5 1.47,16.5c.49,0 .98,-1.3 1.47,-1.3c.49,0 .98,1.0 1.47,2.0c.49,1.0 .98,5.0 1.47,5.0c.49,0 .98,-.8 1.47,-.8c.49,0 .98,2.8 1.47,2.8c.49,0 .98,-8.3 1.47,-8.8c.49,-.4 .98,-.5 1.47,-.7c.49,-.2 .98,-.1 1.47,-.4c.49,-.2 .98,-25.8 1.47,-25.8c.49,0 .98,30.5 1.47,30.5c.49,0 .98,-10.2 1.47,-10.2c.49,0 .98,5.0 1.47,5.0c.49,0 .98,-169.8 1.47,-169.8c.49,0 .98,176.4 1.47,176.4c.49,0 .98,-1.9 1.47,-3.2c.49,-1.2 .98,-3.3 1.47,-4.4c.49,-1.1 .98,-1.4 1.47,-2.7c.49,-1.3 .98,-7.7 1.47,-7.7c.49,0 .98,3.3 1.47,4.2c.49,.9 .98,1.0 1.47,2.0c.49,1.0 .98,5.6 1.47,5.6c.49,0 .98,-10.7 1.47,-10.7c.49,0 .98,5.0 1.47,5.0c.49,0 .98,-14.1 1.47,-14.1c.49,0 .98,11.6 1.47,11.6c.49,0 .98,-5.0 1.47,-5.0c.49,0 .98,1.5 1.47,2.5c.49,1.0 .98,3.7 1.47,3.7c.49,0 .98,-2.2 1.47,-3.3c.49,-1.1 .98,-1.3 1.47,-3.5c.49,-2.2 .98,-71.1 1.47,-71.1c.49,0 .98,72.8 1.47,74.5c.49,1.7 .98,2.6 1.47,2.6c.49,0 .98,-8.6 1.47,-8.6c.49,0 .98,6.8 1.47,7.3c.49,.5 .98,.8 1.47,.8c.49,0 .98,-9.3 1.47,-13.8c.49,-4.5 .98,-13.0 1.47,-13.0c.49,0 .98,25.2 1.47,25.2c.49,0 .98,-7.5 1.47,-7.5c.49,0 .98,2.0 1.47,3.0c.49,1.0 .98,2.9 1.47,2.9c.49,0 .98,-13.5 1.47,-13.5c.49,0 .98,24.7 1.47,24.7c.49,0 .98,-11.8 1.47,-11.9c.49,-.1 .98,-.1 1.47,-.2c.49,-.1 .98,-10.2 1.47,-10.2c.49,0 .98,12.6 1.47,12.6c.49,0 .98,-8.8 1.47,-8.8c.49,0 .98,14.4 1.47,14.4c.49,0 .98,-7.2 1.47,-7.2c.49,0 .98,1.6 1.47,1.6c.49,0 .98,-27.4 1.47,-27.4c.49,0 .98,21.5 1.47,25.0c.49,3.4 .98,6.5 1.47,6.5c.49,0 .98,-11.2 1.47,-15.5c.49,-4.3 .98,-8.0 1.47,-10.9c.49,-2.9 .98,-7.3 1.47,-7.3c.49,0 .98,25.8 1.47,27.4c.49,1.6 .98,2.7 1.47,2.7c.49,0 .98,-14.2 1.47,-14.2c.49,0 .98,10.7 1.47,10.7c.49,0 .98,-16.0 1.47,-16.0c.49,0 .98,3.4 1.47,5.4c.49,2.0 .98,6.6 1.47,6.6c.49,0 .98,-15.9 1.47,-15.9c.49,0 .98,21.8 1.47,21.9c.49,.1 .98,.2 1.47,.2c.49,0 .98,-.6 1.47,-.6c.49,0 .98,3.8 1.47,3.8c.49,0 .98,-4.6 1.47,-5.6c.49,-1.0 .98,-1.2 1.47,-2.0c.49,-.8 .98,-3.4 1.47,-3.4c.49,-.0 .98,-.1 1.47,-.1c.49,0 .98,7.7 1.47,7.7c.49,0 .98,-17.7 1.47,-17.7c.49,0 .98,.3 1.47,.8c.49,.5 .98,7.6 1.47,7.6c.49,0 .98,-2.9 1.47,-2.9c.49,0 .98,9.6 1.47,9.6c.49,0 .98,-2.3 1.47,-2.3c.49,0 .98,2.2 1.47,2.2c.49,0 .98,-4.2 1.47,-7.8c.49,-3.6 .98,-18.1 1.47,-18.1c.49,0 .98,21.0 1.47,21.0c.49,0 .98,-23.9 1.47,-23.9c.49,0 .98,24.3 1.47,25.2c.49,.9 .98,.7 1.47,1.5c.49,.8 .98,6.0 1.47,6.0c.49,0 .98,-2.6 1.47,-3.4c.49,-.8 .98,-.7 1.47,-1.7c.49,-1.0 .98,-10.4 1.47,-10.4c.49,0 .98,8.5 1.47,8.5c.49,0 .98,-3.5 1.47,-6.8c.49,-3.3 .98,-18.8 1.47,-18.8c.49,0 .98,27.4 1.47,27.4c.49,0 .98,-19.5 1.47,-19.5c.49,0 .98,23.0 1.47,23.0c.49,0 .98,-1.9 1.47,-1.9c.49,0 .98,1.3 1.47,1.3c.49,0 .98,-8.0 1.47,-8.0c.49,0 .98,14.8 1.47,14.8c.49,0 .98,-8.6 1.47,-9.2c.49,-.7 .98,-.5 1.47,-1.1c.49,-.6 .98,-7.0 1.47,-7.0c.49,0 .98,6.3 1.47,6.3c.49,0 .98,-.3 1.47,-.3c.49,0 .98,6.4 1.47,6.4c.49,0 .98,-1.4 1.47,-3.0c.49,-1.6 .98,-13.0 1.47,-13.0c.49,0 .98,7.8 1.47,7.8c.49,0 .98,-20.1 1.47,-20.1c.49,0 .98,4.9 1.47,4.9c.49,0 .98,-49.2 1.47,-49.2c.49,0 .98,51.4 1.47,51.4c.49,0 .98,-4.3 1.47,-4.3c.49,0 .98,3.8 1.47,3.8c.49,0 .98,-4.8 1.47,-9.2c.49,-4.4 .98,-23.2 1.47,-23.2c.49,0 .98,26.8 1.47,27.7c.49,.9 .98,1.4 1.47,1.4c.49,0 .98,-9.0 1.47,-9.4c.49,-.4 .98,-.6 1.47,-.7c.49,-.1 .98,-.1 1.47,-.3c.49,-.2 .98,-1.4 1.47,-2.9c.49,-1.4 .98,-8.3 1.47,-8.3c.49,0 .98,9.1 1.47,9.1c.49,0 .98,-4.9 1.47,-4.9c.49,0 .98,4.8 1.47,4.8c.49,0 .98,-1.2 1.47,-1.2c.49,0 .98,.6 1.47,1.2c.49,.7 .98,5.3 1.47,5.3c.49,0 .98,-15.2 1.47,-15.2c.49,0 .98,3.7 1.47,3.7c.49,0 .98,-11.4 1.47,-11.4c.49,0 .98,59.0 1.47,69.3c.49,10.2 .98,18.9 1.47,19.7c.49,.8 .98,.5 1.47,1.3c.49,.8 .98,14.6 1.47,14.6c.49,0 .98,-13.0 1.47,-15.9c.49,-2.9 .98,-3.1 1.47,-5.9c.49,-2.8 .98,-12.0 1.47,-14.2c.49,-2.2 .98,-1.6 1.47,-4.3c.49,-2.7 .98,-55.2 1.47,-55.2c.49,0 .98,47.3 1.47,54.0c.49,6.8 .98,12.5 1.47,12.5c.49,0 .98,-9.1 1.47,-9.1c.49,0 .98,15.5 1.47,15.5c.49,0 .98,-2.3 1.47,-4.0c.49,-1.6 .98,-6.5 1.47,-6.5c.49,0 .98,14.1 1.47,14.1c.49,0 .98,-3.1 1.47,-4.9c.49,-1.7 .98,-5.5 1.47,-5.5c.49,0 .98,.8 1.47,1.3c.49,.4 .98,1.4 1.47,1.4c.49,0 .98,-2.2 1.47,-2.2c.49,0 .98,1.3 1.47,1.3c.49,0 .98,-1.0 1.47,-2.9c.49,-1.9 .98,-210.3 1.47,-210.3c.49,0 .98,220.8 1.47,220.8c.49,0 .98,-204.2 1.47,-204.2c.49,0 .98,215.6 1.47,215.6c.49,0 .98,-2.2 1.47,-3.5c.49,-1.3 .98,-2.1 1.47,-4.3c.49,-2.2 .98,-15.2 1.47,-15.2c.49,0 .98,2.5 1.47,3.6c.49,1.1 .98,3.1 1.47,3.1c.49,0 .98,-.6 1.47,-1.6c.49,-1.0 .98,-45.6 1.47,-45.6c.49,0 .98,39.9 1.47,44.9c.49,5.0 .98,9.0 1.47,9.0c.49,0 .98,-6.1 1.47,-8.9c.49,-2.8 .98,-7.9 1.47,-7.9c.49,0 .98,14.5 1.47,14.5c.49,0 .98,-5.4 1.47,-6.8c.49,-1.3 .98,-1.4 1.47,-2.8c.49,-1.4 .98,-4.3 1.47,-9.6c.49,-5.3 .98,-47.5 1.47,-47.5c.49,0 .98,52.7 1.47,55.0c.49,2.4 .98,3.5 1.47,3.8c.49,.3 .98,.3 1.47,.5c.49,.3 .98,1.7 1.47,1.7c.49,0 .98,-12.1 1.47,-12.1c.49,0 .98,9.2 1.47,9.2c.49,0 .98,-1.1 1.47,-1.1c.49,0 .98,8.7 1.47,8.7c.49,0 .98,-1.5 1.47,-3.4c.49,-1.9 .98,-16.5 1.47,-16.5c.49,0 .98,18.2 1.47,22.0c.49,3.8 .98,7.8 1.47,7.8c.49,0 .98,-12.1 1.47,-14.3c.49,-2.2 .98,-2.5 1.47,-4.3c.49,-1.7 .98,-6.6 1.47,-6.6c.49,0 .98,19.2 1.47,20.7c.49,1.6 .98,2.7 1.47,2.7c.49,0 .98,-38.6 1.47,-38.6c.49,0 .98,16.9 1.47,20.6c.49,3.7 .98,7.7 1.47,7.7c.49,0 .98,-2.7 1.47,-2.7c.49,0 .98,6.7 1.47,6.7c.49,0 .98,-8.6 1.47,-8.6c.49,0 .98,6.3 1.47,6.7c.49,.4 .98,.7 1.47,.7c.49,0 .98,-24.3 1.47,-24.3c.49,0 .98,18.4 1.47,18.4c.49,0 .98,-36.4 1.47,-36.4c.49,0 .98,42.6 1.47,42.6c.49,0 .98,-.3 1.47,-.5c.49,-.2 .98,-1.0 1.47,-1.1c.49,-.1 .98,-.1 1.47,-.2c.49,-.2 .98,-10.9 1.47,-10.9c.49,0 .98,21.3 1.47,21.3c.49,0 .98,-7.4 1.47,-7.4c.49,0 .98,3.2 1.47,3.2c.49,0 .98,-6.4 1.47,-6.4c.49,0 .98,8.2 1.47,8.2c.49,0 .98,-10.4 1.47,-24.8c.49,-14.4 .98,-165.6 1.47,-165.6c.49,0 .98,194.8 1.47,194.8c.49,0 .98,-1.3 1.47,-2.6c.49,-1.4 .98,-9.2 1.47,-9.2c.49,0 .98,12.2 1.47,12.2c.49,0 .98,-40.4 1.47,-40.4c.49,0 .98,29.8 1.47,30.8c.49,1.0 .98,.8 1.47,1.6c.49,.8 .98,4.2 1.47,5.6c.49,1.3 .98,3.1 1.47,3.1c.49,0 .98,-19.5 1.47,-19.5c.49,0 .98,12.4 1.47,12.4c.49,0 .98,-8.0 1.47,-8.0c.49,0 .98,7.6 1.47,10.6c.49,2.9 .98,7.6 1.47,7.6c.49,0 .98,-2.4 1.47,-2.9c.49,-.6 .98,-1.2 1.47,-1.2c.49,0 .98,8.2 1.47,8.2c.49,0 .98,-5.5 1.47,-10.5c.49,-4.9 .98,-25.2 1.47,-25.2c.49,0 .98,26.9 1.47,26.9c.49,0 .98,-4.1 1.47,-4.1c.49,0 .98,14.8 1.47,14.8c.49,0 .98,-6.6 1.47,-7.2c.49,-.6 .98,-1.0 1.47,-1.0c.49,0 .98,12.2 1.47,12.2c.49,0 .98,-13.7 1.47,-13.8c.49,-.1 .98,-.1 1.47,-.1c.49,-.1 .98,-.8 1.47,-.8c.49,0 .98,2.4 1.47,4.6c.49,2.2 .98,11.3 1.47,11.3c.49,0 .98,-11.3 1.47,-11.3c.49,0 .98,14.0 1.47,14.0c.49,0 .98,-14.3 1.47,-14.3c.49,0 .98,6.5 1.47,6.5c.49,0 .98,-2.1 1.47,-5.8c.49,-3.8 .98,-176.5 1.47,-176.5c.49,0 .98,190.1 1.47,190.1c.49,0 .98,-10.9 1.47,-10.9c.49,0 .98,3.8 1.47,3.8c.49,0 .98,-.6 1.47,-1.3c.49,-.8 .98,-4.4 1.47,-7.8c.49,-3.4 .98,-14.3 1.47,-14.3c.49,0 .98,3.8 1.47,5.5c.49,1.6 .98,4.4 1.47,4.4c.49,0 .98,-10.6 1.47,-26.0c.49,-15.3 .98,-200.5 1.47,-200.5c.49,0 .98,225.6 1.47,225.6c.49,0 .98,-71.1 1.47,-81.6c.49,-10.5 .98,-19.5 1.47,-19.5c.49,0 .98,32.9 1.47,32.9c.49,0 .98,-5.9 1.47,-5.9c.49,0 .98,16.6 1.47,16.6c.49,0 .98,-8.3 1.47,-8.3c.49,0 .98,2.5 1.47,2.5c.49,0 .98,-1.9 1.47,-3.0c.49,-1.1 .98,-3.5 1.47,-3.5c.49,0 .98,2.8 1.47,3.0c.49,.2 .98,.3 1.47,.3c.49,0 .98,-30.4 1.47,-30.4c.49,0 .98,32.9 1.47,32.9c.49,0 .98,-7.6 1.47,-7.6c.49,0 .98,.8 1.47,1.4c.49,.6 .98,1.4 1.47,2.7c.49,1.4 .98,7.9 1.47,7.9c.49,0 .98,-10.2 1.47,-10.9c.49,-.8 .98,-1.3 1.47,-1.3c.49,0 .98,2.9 1.47,5.9c.49,3.0 .98,9.1 1.47,18.6c.49,9.5 .98,61.1 1.47,61.1c.49,0 .98,-8.4 1.47,-8.4c.49,0 .98,4.7 1.47,5.7c.49,1.0 .98,2.0 1.47,2.0c.49,0 .98,-.4 1.47,-.4c.49,0 .98,.6 1.47,1.0c.49,.5 .98,2.1 1.47,2.1c.49,0 .98,-.5 1.47,-1.0c.49,-.5 .98,-3.6 1.47,-3.6c.49,0 .98,10.0 1.47,10.0c.49,0 .98,-27.5 1.47,-27.5c.49,0 .98,11.2 1.47,14.4c.49,3.1 .98,7.0 1.47,7.0c.49,0 .98,-.3 1.47,-.6c.49,-.3 .98,-1.8 1.47,-3.3c.49,-1.5 .98,-7.1 1.47,-7.1c.49,0 .98,3.2 1.47,3.2c.49,0 .98,0 1.47,.0c.49,0 .98,5.0 1.47,5.0c.49,0 .98,-29.9 1.47,-29.9c.49,0 .98,25.8 1.47,25.8c.49,0 .98,-.4 1.47,-.8c.49,-.4 .98,-1.2 1.47,-3.1c.49,-1.9 .98,-39.0 1.47,-39.0c.49,0 .98,50.1 1.47,50.1c.49,0 .98,-14.9 1.47,-14.9c.49,0 .98,14.2 1.47,14.2c.49,0 .98,-3.8 1.47,-5.1c.49,-1.3 .98,-3.1 1.47,-3.1c.49,-.0 .98,-.0 1.47,-.0c.49,-.0 .98,-4.6 1.47,-4.6c.49,0 .98,9.0 1.47,9.0c.49,0 .98,-22.3 1.47,-22.3c.49,0 .98,14.3 1.47,14.3c.49,0 .98,-70.3 1.47,-70.3c.49,0 .98,78.3 1.47,78.3c.49,0 .98,-31.4 1.47,-31.4c.49,0 .98,23.5 1.47,24.0c.49,.5 .98,.3 1.47,.7c.49,.5 .98,10.2 1.47,10.2c.49,0 .98,-14.3 1.47,-14.3c.49,0 .98,3.6 1.47,4.0c.49,.4 .98,.4 1.47,.8c.49,.4 .98,3.5 1.47,3.5c.49,0 .98,-8.3 1.47,-8.3c.49,0 .98,10.7 1.47,10.7c.49,0 .98,-42.8 1.47,-42.8c.49,0 .98,25.7 1.47,30.3c.49,4.5 .98,8.8 1.47,8.8c.49,0 .98,-.0 1.47,-.0c.49,-.0 .98,-29.3 1.47,-29.3c.49,0 .98,25.3 1.47,27.8c.49,2.4 .98,4.2 1.47,4.2c.49,0 .98,-30.9 1.47,-30.9c.49,0 .98,28.3 1.47,28.3c.49,0 .98,-18.7 1.47,-18.7c.49,0 .98,14.2 1.47,15.7c.49,1.5 .98,2.7 1.47,2.7c.49,0 .98,-.3 1.47,-.8c.49,-.5 .98,-8.4 1.47,-8.4c.49,0 .98,7.0 1.47,7.0c.49,0 .98,-3.2 1.47,-4.7c.49,-1.5 .98,-4.2 1.47,-4.2c.49,0 .98,1.0 1.47,2.1c.49,1.2 .98,10.5 1.47,10.5c.49,0 .98,-11.7 1.47,-11.7c.49,0 .98,0 1.47,.0c.49,0 .98,16.5 1.47,16.5c.49,0 .98,-6.6 1.47,-8.3c.49,-1.7 .98,-3.8 1.47,-3.8c.49,0 .98,13.9 1.47,13.9c.49,0 .98,-20.9 1.47,-21.5c.49,-.6 .98,-.3 1.47,-.9c.49,-.6 .98,-56.9 1.47,-56.9c.49,0 .98,49.1 1.47,53.3c.49,4.3 .98,7.3 1.47,7.3c.49,0 .98,-1.0 1.47,-1.7c.49,-.7 .98,-.9 1.47,-2.4c.49,-1.5 .98,-27.2 1.47,-27.2c.49,0 .98,6.4 1.47,10.8c.49,4.4 .98,16.9 1.47,16.9c.49,0 .98,-4.5 1.47,-4.5c.49,0 .98,4.3 1.47,4.3c.49,0 .98,-.7 1.47,-1.4c.49,-.7 .98,-4.7 1.47,-4.7c.49,0 .98,8.3 1.47,8.3c.49,0 .98,-12.0 1.47,-12.0c.49,0 .98,7.4 1.47,7.4c.49,0 .98,-1.4 1.47,-3.2c.49,-1.8 .98,-18.1 1.47,-18.1c.49,0 .98,19.8 1.47,19.8c.49,0 .98,-21.6 1.47,-21.6c.49,0 .98,12.7 1.47,16.9c.49,4.2 .98,10.2 1.47,10.2c.49,0 .98,-.3 1.47,-.9c.49,-.6 .98,-26.2 1.47,-26.2c.49,0 .98,28.0 1.47,28.0c.49,0 .98,-.5 1.47,-1.3c.49,-.8 .98,-18.7 1.47,-18.7c.49,0 .98,32.1 1.47,32.1c.49,0 .98,-3.2 1.47,-6.0c.49,-2.8 .98,-14.6 1.47,-14.6c.49,0 .98,5.8 1.47,8.1c.49,2.3 .98,6.1 1.47,6.1c.49,0 .98,-30.2 1.47,-30.2c.49,0 .98,25.6 1.47,25.6c.49,0 .98,-2.5 1.47,-6.3c.49,-3.7 .98,-53.4 1.47,-53.4c.49,0 .98,61.6 1.47,61.6c.49,0 .98,-10.1 1.47,-10.1c.49,0 .98,8.6 1.47,8.6c.49,0 .98,-37.1 1.47,-37.1c.49,0 .98,27.4 1.47,27.4c.49,0 .98,-2.1 1.47,-2.1c.49,0 .98,11.8 1.47,11.8c.49,0 .98,-4.9 1.47,-5.1c.49,-.2 .98,-.3 1.47,-.3c.49,0 .98,6.8 1.47,6.8c.49,0 .98,-8.3 1.47,-8.3c.49,0 .98,7.2 1.47,7.2c.49,0 .98,-3.7 1.47,-4.8c.49,-1.1 .98,-2.6 1.47,-2.6c.49,0 .98,6.8 1.47,6.8c.49,0 .98,-8.0 1.47,-8.8c.49,-.7 .98,-1.3 1.47,-1.3c.49,0 .98,.2 1.47,.5c.49,.3 .98,13.1 1.47,13.1c.49,0 .98,-8.0 1.47,-8.0c.49,0 .98,3.0 1.47,3.0c.49,0 .98,-2.2 1.47,-2.2c.49,0 .98,5.8 1.47,5.8c.49,0 .98,-8.1 1.47,-8.1c.49,0 .98,4.7 1.47,4.7c.49,0 .98,-49.0 1.47,-49.0c.49,0 .98,44.5 1.47,44.5c.49,0 .98,-.9 1.47,-2.7c.49,-1.8 .98,-166.4 1.47,-166.4c.49,0 .98,182.6 1.47,182.6c.49,0 .98,-5.1 1.47,-7.0c.49,-2.0 .98,-5.1 1.47,-5.1c.49,0 .98,9.7 1.47,9.7c.49,0 .98,-.9 1.47,-.9c.49,0 .98,2.1 1.47,2.7c.49,.6 .98,1.3 1.47,1.3c.49,0 .98,-12.9 1.47,-12.9c.49,0 .98,1.0 1.47,1.0c.49,0 .98,-.4 1.47,-1.0c.49,-.7 .98,-24.3 1.47,-24.3c.49,0 .98,39.9 1.47,39.9c.49,0 .98,-.7 1.47,-1.7c.49,-1.0 .98,-14.4 1.47,-14.4c.49,0 .98,4.5 1.47,7.4c.49,2.9 .98,10.5 1.47,10.5c.49,0 .98,-9.8 1.47,-9.8c.49,0 .98,4.5 1.47,4.5c.49,0 .98,-4.6 1.47,-10.3c.49,-5.7 .98,-50.6 1.47,-50.6c.49,0 .98,31.7 1.47,37.6c.49,5.9 .98,11.6 1.47,11.6c.49,0 .98,-12.8 1.47,-12.8c.49,0 .98,.3 1.47,.3c.49,0 .98,-22.8 1.47,-22.8c.49,0 .98,28.1 1.47,28.1c.49,0 .98,-21.2 1.47,-21.2c.49,0 .98,10.0 1.47,10.6c.49,.6 .98,1.0 1.47,1.0c.49,0 .98,-22.9 1.47,-22.9c.49,0 .98,29.5 1.47,29.5c.49,0 .98,-170.0 1.47,-170.0c.49,0 .98,171.9 1.47,171.9c.49,0 .98,-6.5 1.47,-9.5c.49,-3.0 .98,-4.8 1.47,-8.7c.49,-3.9 .98,-17.9 1.47,-17.9c.49,0 .98,40.5 1.47,40.5c.49,0 .98,-8.6 1.47,-8.6c.49,0 .98,9.0 1.47,9.0c.49,0 .98,-2.5 1.47,-2.5c.49,0 .98,.7 1.47,1.2c.49,.5 .98,2.3 1.47,2.3c.49,0 .98,-1.6 1.47,-1.6c.49,0 .98,1.5 1.47,2.7c.49,1.2 .98,5.5 1.47,5.5c.49,0 .98,-8.3 1.47,-8.3c.49,0 .98,4.9 1.47,4.9c.49,0 .98,-21.8 1.47,-21.8c.49,0 .98,20.7 1.47,22.7c.49,2.0 .98,3.4 1.47,3.4c.49,0 .98,-4.6 1.47,-6.5c.49,-1.9 .98,-5.2 1.47,-5.2c.49,0 .98,5.2 1.47,5.2c.49,0 .98,-16.7 1.47,-23.9c.49,-7.2 .98,-19.8 1.47,-19.8c.49,0 .98,31.9 1.47,31.9c.49,0 .98,-35.7 1.47,-35.7c.49,0 .98,44.5 1.47,44.5c.49,0 .98,-1.5 1.47,-2.8c.49,-1.3 .98,-6.5 1.47,-6.5c.49,0 .98,10.9 1.47,10.9c.49,0 .98,-120.0 1.47,-120.0c.49,0 .98,122.4 1.47,122.4c.49,0 .98,-8.9 1.47,-8.9c.49,0 .98,2.3 1.47,2.3c.49,0 .98,-46.2 1.47,-46.2c.49,0 .98,43.8 1.47,43.8c.49,0 .98,-5.4 1.47,-5.4c.49,0 .98,8.5 1.47,8.9c.49,.4 .98,.6 1.47,.6c.49,0 .98,-4.4 1.47,-9.3c.49,-5.0 .98,-36.5 1.47,-36.5c.49,0 .98,45.3 1.47,45.3c.49,0 .98,-.6 1.47,-1.0c.49,-.3 .98,-.3 1.47,-1.0c.49,-.6 .98,-58.6 1.47,-58.6c.49,0 .98,60.9 1.47,60.9c.49,0 .98,-4.2 1.47,-4.2c.49,0 .98,10.1 1.47,10.1c.49,0 .98,-8.2 1.47,-8.2c.49,0 .98,5.3 1.47,5.8c.49,.5 .98,.9 1.47,.9c.49,0 .98,-1.4 1.47,-3.0c.49,-1.6 .98,-12.6 1.47,-12.6c.49,0 .98,16.5 1.47,16.5c.49,0 .98,-9.8 1.47,-9.8c.49,0 .98,10.1 1.47,12.0c.49,1.9 .98,3.7 1.47,3.7c.49,0 .98,-45.4 1.47,-45.4c.49,0 .98,43.1 1.47,43.1c.49,0 .98,-.5 1.47,-1.4c.49,-.9 .98,-35.7 1.47,-35.7c.49,0 .98,42.2 1.47,42.2c.49,0 .98,-.1 1.47,-.2c.49,-.2 .98,-219.6 1.47,-219.6c.49,0 .98,202.3 1.47,202.5c.49,.2 .98,.1 1.47,.3c.49,.2 .98,26.1 1.47,26.1c.49,0 .98,-152.0 1.47,-152.0c.49,0 .98,140.9 1.47,140.9c.49,0 .98,-30.4 1.47,-30.4c.49,0 .98,26.1 1.47,26.1c.49,0 .98,-28.3 1.47,-28.3c.49,0 .98,28.5 1.47,28.5c.49,0 .98,-13.6 1.47,-13.6c.49,0 .98,.8 1.47,2.0c.49,1.2 .98,14.2 1.47,15.9c.49,1.7 .98,2.9 1.47,2.9c.49,0 .98,-12.8 1.47,-12.8c.49,0 .98,.3 1.47,.7c.49,.4 .98,8.0 1.47,8.0c.49,0 .98,-.0 1.47,-.1c.49,-.1 .98,-7.3 1.47,-7.3c.49,0 .98,13.0 1.47,13.7c.49,.7 .98,1.2 1.47,1.2c.49,0 .98,-3.9 1.47,-3.9c.49,0 .98,8.1 1.47,8.1c.49,0 .98,-181.8 1.47,-181.8c.49,0 .98,170.7 1.47,170.7c.49,0 .98,-3.5 1.47,-4.2c.49,-.7 .98,-1.5 1.47,-1.5c.49,0 .98,17.8 1.47,17.8c.49,0 .98,-33.1 1.47,-33.1c.49,0 .98,28.0 1.47,28.0c.49,0 .98,-8.3 1.47,-8.3c.49,0 .98,11.8 1.47,11.8c.49,0 .98,-6.4 1.47,-7.0c.49,-.6 .98,-.4 1.47,-1.0c.49,-.6 .98,-4.5 1.47,-11.7c.49,-7.2 .98,-135.7 1.47,-135.7c.49,0 .98,75.5 1.47,75.5c.49,0 .98,-13.2 1.47,-13.2c.49,0 .98,14.0 1.47,14.0c.49,0 .98,-2.3 1.47,-4.9c.49,-2.6 .98,-20.5 1.47,-20.5c.49,0 .98,21.8 1.47,23.3c.49,1.5 .98,2.4 1.47,2.4c.49,0 .98,-29.0 1.47,-29.0c.49,0 .98,28.3 1.47,31.6c.49,3.3 .98,6.0 1.47,6.0c.49,0 .98,-5.6 1.47,-11.2c.49,-5.6 .98,-34.6 1.47,-34.6c.49,0 .98,45.3 1.47,45.3c.49,0 .98,-10.7 1.47,-10.9c.49,-.2 .98,-.3 1.47,-.3c.49,0 .98,5.3 1.47,5.3c.49,0 .98,-9.7 1.47,-9.7c.49,0 .98,3.9 1.47,5.5c.49,1.6 .98,4.1 1.47,4.1c.49,0 .98,-3.1 1.47,-3.1c.49,0 .98,3.7 1.47,3.7c.49,0 .98,-22.2 1.47,-22.2c.49,0 .98,80.3 1.47,85.4c.49,5.1 .98,8.5 1.47,8.5c.49,0 .98,-13.4 1.47,-13.4c.49,0 .98,31.1 1.47,31.2c.49,.1 .98,.2 1.47,.2c.49,0 .98,-8.1 1.47,-8.1c.49,0 .98,13.6 1.47,13.6c.49,0 .98,-10.6 1.47,-10.6c.49,0 .98,4.1 1.47,4.1c.49,0 .98,-182.8 1.47,-182.8c.49,0 .98,158.5 1.47,166.5c.49,8.0 .98,13.0 1.47,13.0c.49,0 .98,-2.5 1.47,-4.8c.49,-2.3 .98,-12.7 1.47,-12.7c.49,0 .98,18.9 1.47,18.9c.49,0 .98,-1.1 1.47,-2.1c.49,-1.1 .98,-6.6 1.47,-6.6c.49,0 .98,4.7 1.47,4.7c.49,0 .98,-.2 1.47,-.4c.49,-.3 .98,-3.0 1.47,-4.9c.49,-2.0 .98,-7.4 1.47,-7.4c.49,0 .98,12.0 1.47,13.1c.49,1.0 .98,1.7 1.47,1.7c.49,0 .98,-1.9 1.47,-1.9c.49,0 .98,1.5 1.47,1.5c.49,0 .98,-12.3 1.47,-12.3c.49,0 .98,9.4 1.47,9.4c.49,0 .98,-15.4 1.47,-15.4c.49,0 .98,1.0 1.47,1.7c.49,.7 .98,2.5 1.47,2.5c.49,0 .98,-8.4 1.47,-8.4c.49,0 .98,12.2 1.47,12.2c.49,0 .98,-5.2 1.47,-11.6c.49,-6.4 .98,-57.7 1.47,-57.7c.49,0 .98,72.1 1.47,72.1c.49,0 .98,-11.3 1.47,-11.3c.49,0 .98,3.2 1.47,3.9c.49,.7 .98,1.5 1.47,1.5c.49,0 .98,-13.7 1.47,-18.2c.49,-4.4 .98,-10.5 1.47,-10.5c.49,0 .98,20.7 1.47,24.2c.49,3.5 .98,6.6 1.47,6.6c.49,0 .98,-2.0 1.47,-2.0c.49,0 .98,3.3 1.47,3.3c.49,0 .98,-.2 1.47,-.2c.49,0 .98,6.8 1.47,6.8c.49,0 .98,-2.2 1.47,-3.8c.49,-1.5 .98,-5.9 1.47,-5.9c.49,0 .98,2.1 1.47,2.1c.49,0 .98,-15.8 1.47,-15.8c.49,0 .98,14.7 1.47,15.2c.49,.4 .98,.6 1.47,.6c.49,0 .98,-13.3 1.47,-14.1c.49,-.8 .98,-1.4 1.47,-1.4c.49,0 .98,15.1 1.47,15.1c.49,0 .98,-3.5 1.47,-3.5c.49,0 .98,.7 1.47,1.0c.49,.4 .98,.6 1.47,1.4c.49,.8 .98,7.9 1.47,7.9c.49,0 .98,-4.4 1.47,-7.8c.49,-3.4 .98,-14.7 1.47,-14.7c.49,0 .98,17.0 1.47,17.0c.49,0 .98,-13.8 1.47,-15.0c.49,-1.2 .98,-2.0 1.47,-2.0c.49,0 .98,22.6 1.47,22.6c.49,0 .98,-26.9 1.47,-26.9c.49,0 .98,18.9 1.47,18.9c.49,0 .98,-16.0 1.47,-16.0c.49,0 .98,18.3 1.47,18.6c.49,.3 .98,.2 1.47,.5c.49,.3 .98,8.4 1.47,8.4c.49,0 .98,-.5 1.47,-1.2c.49,-.7 .98,-11.4 1.47,-11.4c.49,0 .98,1.6 1.47,2.3c.49,.6 .98,1.6 1.47,1.6c.49,0 .98,-4.2 1.47,-4.2c.49,0 .98,8.2 1.47,8.8c.49,.6 .98,1.1 1.47,1.1c.49,0 .98,-9.1 1.47,-9.1c.49,0 .98,8.4 1.47,8.4c.49,0 .98,-9.6 1.47,-9.6c.49,0 .98,3.6 1.47,3.6c.49,0 .98,-9.6 1.47,-9.6c.49,0 .98,6.6 1.47,6.6c.49,0 .98,-13.7 1.47,-15.4c.49,-1.7 .98,-1.2 1.47,-3.1c.49,-1.9 .98,-39.8 1.47,-39.8c.49,0 .98,48.3 1.47,48.3c.49,0 .98,-7.6 1.47,-7.6c.49,0 .98,10.4 1.47,10.4c.49,0 .98,-2.4 1.47,-2.4c.49,0 .98,2.0 1.47,3.7c.49,1.6 .98,7.3 1.47,7.3c.49,0 .98,-.3 1.47,-.9c.49,-.5 .98,-8.7 1.47,-8.7c.49,0 .98,8.2 1.47,8.2c.49,0 .98,-2.1 1.47,-4.9c.49,-2.7 .98,-26.4 1.47,-26.4c.49,0 .98,27.9 1.47,27.9c.49,0 .98,-1.0 1.47,-1.9c.49,-.8 .98,-4.0 1.47,-4.0c.49,0 .98,4.6 1.47,4.6c.49,0 .98,-.4 1.47,-1.0c.49,-.6 .98,-11.5 1.47,-11.5c.49,0 .98,15.1 1.47,15.1c.49,0 .98,-11.0 1.47,-11.0c.49,0 .98,8.6 1.47,8.6c.49,0 .98,-11.7 1.47,-11.7c.49,0 .98,12.3 1.47,12.3c.49,0 .98,-1.1 1.47,-3.0c.49,-1.8 .98,-41.8 1.47,-41.8c.49,0 .98,42.0 1.47,42.0c.49,0 .98,-34.7 1.47,-34.7c.49,0 .98,36.6 1.47,36.6c.49,0 .98,-2.1 1.47,-4.2c.49,-2.1 .98,-13.3 1.47,-13.3c.49,0 .98,11.2 1.47,11.2c.49,0 .98,-11.1 1.47,-14.9c.49,-3.7 .98,-9.0 1.47,-9.0c.49,0 .98,18.8 1.47,23.1c.49,4.3 .98,8.9 1.47,8.9c.49,0 .98,-8.3 1.47,-8.3c.49,0 .98,15.8 1.47,15.8c.49,0 .98,-10.3 1.47,-15.4L1278,860.8 L1278,964 Z"/>
<path id="p1irq" d="M-6,964 L-6,816.9 L0,816.9c.49,1.0 .98,3.0 1.47,3.0c.49,0 .98,-15.1 1.47,-15.1c.49,0 .98,15.2 1.47,15.2c.49,0 .98,-8.6 1.47,-10.3c.49,-1.7 .98,-3.5 1.47,-3.5c.49,0 .98,5.6 1.47,7.1c.49,1.4 .98,2.5 1.47,3.1c.49,.6 .98,1.4 1.47,1.4c.49,0 .98,-22.7 1.47,-22.7c.49,0 .98,11.9 1.47,15.0c.49,3.1 .98,6.8 1.47,6.8c.49,0 .98,-17.4 1.47,-17.4c.49,0 .98,19.3 1.47,19.3c.49,0 .98,-5.5 1.47,-5.5c.49,0 .98,4.3 1.47,4.3c.49,0 .98,-8.7 1.47,-8.7c.49,0 .98,2.3 1.47,3.4c.49,1.0 .98,2.8 1.47,2.8c.49,0 .98,-3.7 1.47,-5.4c.49,-1.7 .98,-4.8 1.47,-4.8c.49,0 .98,6.1 1.47,7.8c.49,1.7 .98,3.8 1.47,3.8c.49,0 .98,-6.9 1.47,-6.9c.49,0 .98,6.3 1.47,6.5c.49,.2 .98,.3 1.47,.3c.49,0 .98,-1.4 1.47,-1.4c.49,0 .98,2.3 1.47,2.3c.49,0 .98,-11.2 1.47,-11.2c.49,0 .98,10.4 1.47,10.4c.49,0 .98,-4.9 1.47,-4.9c.49,0 .98,.8 1.47,.8c.49,0 .98,-4.0 1.47,-4.0c.49,0 .98,6.5 1.47,6.5c.49,0 .98,-.5 1.47,-.7c.49,-.2 .98,-.4 1.47,-.6c.49,-.2 .98,-.2 1.47,-.5c.49,-.3 .98,-7.8 1.47,-7.8c.49,0 .98,17.7 1.47,18.4c.49,.6 .98,1.0 1.47,1.0c.49,0 .98,-4.5 1.47,-4.8c.49,-.2 .98,-.2 1.47,-.4c.49,-.2 .98,-2.1 1.47,-2.1c.49,0 .98,.8 1.47,.8c.49,0 .98,-7.8 1.47,-20.7c.49,-12.8 .98,-285.9 1.47,-285.9c.49,0 .98,307.7 1.47,307.7c.49,0 .98,-4.9 1.47,-6.3c.49,-1.4 .98,-2.4 1.47,-3.1c.49,-.7 .98,-1.2 1.47,-1.6c.49,-.4 .98,-.9 1.47,-.9c.49,0 .98,6.8 1.47,6.8c.49,0 .98,-7.3 1.47,-7.3c.49,0 .98,4.2 1.47,4.2c.49,0 .98,-3.5 1.47,-3.5c.49,0 .98,1.9 1.47,1.9c.49,0 .98,-15.9 1.47,-15.9c.49,0 .98,10.8 1.47,12.2c.49,1.4 .98,2.6 1.47,2.6c.49,0 .98,-1.1 1.47,-1.1c.49,0 .98,5.9 1.47,5.9c.49,0 .98,-7.3 1.47,-7.3c.49,0 .98,1.2 1.47,1.2c.49,0 .98,-5.6 1.47,-5.6c.49,0 .98,10.2 1.47,10.2c.49,0 .98,-19.8 1.47,-19.8c.49,0 .98,23.0 1.47,23.0c.49,0 .98,-27.8 1.47,-27.8c.49,0 .98,19.6 1.47,22.1c.49,2.5 .98,4.4 1.47,4.4c.49,0 .98,-2.1 1.47,-4.0c.49,-1.9 .98,-9.9 1.47,-9.9c.49,0 .98,7.5 1.47,7.5c.49,0 .98,-16.4 1.47,-16.4c.49,0 .98,6.7 1.47,10.2c.49,3.5 .98,10.8 1.47,10.8c.49,0 .98,-4.7 1.47,-4.7c.49,0 .98,4.3 1.47,5.2c.49,.9 .98,1.9 1.47,1.9c.49,0 .98,-28.7 1.47,-28.7c.49,0 .98,10.4 1.47,15.2c.49,4.9 .98,14.0 1.47,14.0c.49,0 .98,-5.3 1.47,-5.3c.49,0 .98,5.8 1.47,6.5c.49,.7 .98,1.2 1.47,1.2c.49,0 .98,-5.1 1.47,-5.1c.49,0 .98,3.0 1.47,3.0c.49,0 .98,-3.5 1.47,-4.3c.49,-.8 .98,-.6 1.47,-1.7c.49,-1.1 .98,-42.7 1.47,-42.7c.49,0 .98,48.2 1.47,48.2c.49,0 .98,-6.6 1.47,-6.6c.49,0 .98,15.3 1.47,16.4c.49,1.1 .98,1.2 1.47,1.9c.49,.7 .98,2.4 1.47,2.4c.49,0 .98,-4.9 1.47,-6.7c.49,-1.8 .98,-3.8 1.47,-4.7c.49,-.8 .98,-.9 1.47,-1.7c.49,-.8 .98,-4.0 1.47,-4.0c.49,0 .98,6.7 1.47,7.9c.49,1.1 .98,2.1 1.47,2.1c.49,0 .98,-.1 1.47,-.3c.49,-.2 .98,-17.3 1.47,-17.3c.49,0 .98,19.4 1.47,19.4c.49,0 .98,-.8 1.47,-1.9c.49,-1.1 .98,-12.9 1.47,-12.9c.49,0 .98,19.5 1.47,19.5c.49,0 .98,-5.0 1.47,-5.0c.49,0 .98,1.3 1.47,2.4c.49,1.1 .98,5.7 1.47,5.7c.49,0 .98,-4.2 1.47,-4.2c.49,0 .98,3.5 1.47,3.5c.49,0 .98,-9.1 1.47,-9.1c.49,0 .98,15.4 1.47,15.4c.49,0 .98,-17.7 1.47,-17.7c.49,0 .98,14.7 1.47,14.7c.49,0 .98,-.6 1.47,-.9c.49,-.4 .98,-.5 1.47,-1.3c.49,-.7 .98,-6.9 1.47,-6.9c.49,0 .98,3.7 1.47,4.5c.49,.7 .98,.7 1.47,1.5c.49,.8 .98,4.7 1.47,4.7c.49,0 .98,-15.0 1.47,-15.0c.49,0 .98,4.0 1.47,4.0c.49,0 .98,-17.8 1.47,-17.8c.49,0 .98,26.7 1.47,26.7c.49,0 .98,-3.3 1.47,-3.3c.49,0 .98,2.0 1.47,3.7c.49,1.7 .98,8.3 1.47,8.3c.49,0 .98,-15.5 1.47,-31.5c.49,-16.0 .98,-101.1 1.47,-101.1c.49,0 .98,128.8 1.47,128.8c.49,0 .98,-14.4 1.47,-14.4c.49,0 .98,.9 1.47,2.3c.49,1.3 .98,17.0 1.47,17.0c.49,0 .98,-3.7 1.47,-9.0c.49,-5.3 .98,-69.7 1.47,-69.7c.49,0 .98,79.8 1.47,79.8c.49,0 .98,-.3 1.47,-.6c.49,-.2 .98,-.9 1.47,-.9c.49,0 .98,.2 1.47,.2c.49,0 .98,-16.1 1.47,-27.8c.49,-11.7 .98,-47.7 1.47,-47.7c.49,0 .98,21.9 1.47,26.8c.49,4.9 .98,8.8 1.47,10.1c.49,1.3 .98,1.4 1.47,2.4c.49,1.0 .98,3.9 1.47,3.9c.49,0 .98,-7.8 1.47,-7.8c.49,0 .98,.2 1.47,.6c.49,.4 .98,10.8 1.47,11.4c.49,.6 .98,.9 1.47,.9c.49,0 .98,-4.0 1.47,-4.0c.49,0 .98,.5 1.47,.7c.49,.2 .98,.7 1.47,.7c.49,0 .98,-30.3 1.47,-30.3c.49,0 .98,35.4 1.47,36.2c.49,.7 .98,1.1 1.47,1.1c.49,0 .98,-5.5 1.47,-6.8c.49,-1.3 .98,-2.8 1.47,-2.8c.49,0 .98,10.9 1.47,10.9c.49,0 .98,-1.9 1.47,-1.9c.49,0 .98,2.0 1.47,2.0c.49,0 .98,-9.3 1.47,-9.3c.49,0 .98,10.0 1.47,15.3c.49,5.4 .98,17.0 1.47,17.0c.49,0 .98,-1.1 1.47,-1.1c.49,0 .98,.7 1.47,1.5c.49,.8 .98,5.4 1.47,5.4c.49,0 .98,-1.0 1.47,-1.0c.49,0 .98,2.8 1.47,2.8c.49,0 .98,-8.2 1.47,-8.7c.49,-.6 .98,-.7 1.47,-.9c.49,-.3 .98,-.2 1.47,-.6c.49,-.4 .98,-25.8 1.47,-25.8c.49,0 .98,30.7 1.47,30.7c.49,0 .98,-10.3 1.47,-10.3c.49,0 .98,5.1 1.47,5.1c.49,0 .98,-169.9 1.47,-169.9c.49,0 .98,176.7 1.47,176.7c.49,0 .98,-2.0 1.47,-3.2c.49,-1.2 .98,-3.2 1.47,-4.3c.49,-1.2 .98,-1.5 1.47,-2.9c.49,-1.4 .98,-8.0 1.47,-8.0c.49,0 .98,3.9 1.47,4.7c.49,.8 .98,.7 1.47,1.6c.49,.8 .98,5.7 1.47,5.7c.49,0 .98,-10.3 1.47,-10.3c.49,0 .98,4.9 1.47,4.9c.49,0 .98,-14.2 1.47,-14.2c.49,0 .98,11.6 1.47,11.6c.49,0 .98,-5.5 1.47,-5.5c.49,0 .98,1.5 1.47,2.6c.49,1.0 .98,4.0 1.47,4.0c.49,0 .98,-2.2 1.47,-3.3c.49,-1.1 .98,-1.2 1.47,-3.3c.49,-2.1 .98,-71.5 1.47,-71.5c.49,0 .98,72.4 1.47,74.3c.49,1.9 .98,3.0 1.47,3.0c.49,0 .98,-9.1 1.47,-9.1c.49,0 .98,7.3 1.47,7.8c.49,.5 .98,.8 1.47,.8c.49,0 .98,-9.8 1.47,-14.3c.49,-4.5 .98,-12.8 1.47,-12.8c.49,0 .98,25.2 1.47,25.2c.49,0 .98,-7.1 1.47,-7.1c.49,0 .98,2.0 1.47,2.9c.49,.9 .98,2.7 1.47,2.7c.49,0 .98,-13.2 1.47,-13.2c.49,0 .98,24.7 1.47,24.7c.49,0 .98,-12.4 1.47,-12.4c.49,0 .98,.1 1.47,.1c.49,0 .98,-10.2 1.47,-10.2c.49,0 .98,12.6 1.47,12.6c.49,0 .98,-8.5 1.47,-8.5c.49,0 .98,13.7 1.47,13.7c.49,0 .98,-6.9 1.47,-6.9c.49,0 .98,1.5 1.47,1.5c.49,0 .98,-27.0 1.47,-27.0c.49,0 .98,21.0 1.47,24.4c.49,3.4 .98,6.5 1.47,6.5c.49,0 .98,-11.0 1.47,-15.2c.49,-4.2 .98,-7.7 1.47,-10.7c.49,-3.0 .98,-7.7 1.47,-7.7c.49,0 .98,25.6 1.47,27.3c.49,1.6 .98,2.7 1.47,2.7c.49,0 .98,-14.0 1.47,-14.0c.49,0 .98,10.6 1.47,10.6c.49,0 .98,-15.6 1.47,-15.6c.49,0 .98,3.4 1.47,5.3c.49,1.9 .98,6.3 1.47,6.3c.49,0 .98,-16.2 1.47,-16.2c.49,0 .98,21.7 1.47,22.1c.49,.3 .98,.5 1.47,.5c.49,0 .98,-1.0 1.47,-1.0c.49,0 .98,4.4 1.47,4.4c.49,0 .98,-5.1 1.47,-6.0c.49,-1.0 .98,-1.0 1.47,-1.9c.49,-.8 .98,-3.7 1.47,-3.7c.49,0 .98,0 1.47,.1c.49,.1 .98,8.0 1.47,8.0c.49,0 .98,-18.0 1.47,-18.0c.49,0 .98,.4 1.47,1.0c.49,.6 .98,7.8 1.47,7.8c.49,0 .98,-3.0 1.47,-3.0c.49,0 .98,9.5 1.47,9.5c.49,0 .98,-2.4 1.47,-2.4c.49,0 .98,2.3 1.47,2.3c.49,0 .98,-4.4 1.47,-8.2c.49,-3.8 .98,-18.1 1.47,-18.1c.49,0 .98,21.1 1.47,21.1c.49,0 .98,-23.7 1.47,-23.7c.49,0 .98,24.8 1.47,25.4c.49,.6 .98,.4 1.47,1.0c.49,.6 .98,5.8 1.47,5.8c.49,0 .98,-2.2 1.47,-2.9c.49,-.7 .98,-.7 1.47,-1.7c.49,-1.0 .98,-10.3 1.47,-10.3c.49,0 .98,7.9 1.47,7.9c.49,0 .98,-3.5 1.47,-6.9c.49,-3.3 .98,-18.6 1.47,-18.6c.49,0 .98,27.3 1.47,27.3c.49,0 .98,-19.4 1.47,-19.4c.49,0 .98,23.1 1.47,23.1c.49,0 .98,-2.0 1.47,-2.0c.49,0 .98,1.1 1.47,1.1c.49,0 .98,-7.3 1.47,-7.3c.49,0 .98,14.0 1.47,14.0c.49,0 .98,-8.6 1.47,-9.1c.49,-.5 .98,-.3 1.47,-.8c.49,-.5 .98,-7.0 1.47,-7.0c.49,0 .98,6.3 1.47,6.3c.49,0 .98,-.6 1.47,-.6c.49,0 .98,6.9 1.47,6.9c.49,0 .98,-1.5 1.47,-3.2c.49,-1.7 .98,-12.8 1.47,-12.8c.49,0 .98,7.8 1.47,7.8c.49,0 .98,-20.5 1.47,-20.5c.49,0 .98,4.9 1.47,4.9c.49,0 .98,-49.0 1.47,-49.0c.49,0 .98,51.0 1.47,51.0c.49,0 .98,-4.4 1.47,-4.4c.49,0 .98,4.1 1.47,4.1c.49,0 .98,-5.1 1.47,-9.7c.49,-4.6 .98,-23.3 1.47,-23.3c.49,0 .98,27.3 1.47,28.2c.49,.9 .98,1.4 1.47,1.4c.49,0 .98,-9.1 1.47,-9.6c.49,-.5 .98,-.8 1.47,-.8c.49,0 .98,.1 1.47,.1c.49,0 .98,-1.6 1.47,-3.1c.49,-1.5 .98,-8.3 1.47,-8.3c.49,0 .98,8.6 1.47,8.6c.49,0 .98,-4.6 1.47,-4.6c.49,0 .98,5.0 1.47,5.0c.49,0 .98,-1.0 1.47,-1.0c.49,0 .98,.2 1.47,.6c.49,.4 .98,5.9 1.47,5.9c.49,0 .98,-15.7 1.47,-15.7c.49,0 .98,4.2 1.47,4.2c.49,0 .98,-11.6 1.47,-11.6c.49,0 .98,59.3 1.47,69.6c.49,10.2 .98,19.1 1.47,19.7c.49,.6 .98,.3 1.47,.9c.49,.6 .98,14.8 1.47,14.8c.49,0 .98,-13.1 1.47,-15.9c.49,-2.8 .98,-2.9 1.47,-5.6c.49,-2.7 .98,-12.7 1.47,-14.8c.49,-2.1 .98,-1.5 1.47,-3.9c.49,-2.4 .98,-54.9 1.47,-54.9c.49,0 .98,46.8 1.47,53.7c.49,6.8 .98,12.7 1.47,12.7c.49,0 .98,-9.5 1.47,-9.5c.49,0 .98,15.9 1.47,15.9c.49,0 .98,-2.7 1.47,-4.4c.49,-1.7 .98,-5.9 1.47,-5.9c.49,0 .98,14.0 1.47,14.0c.49,0 .98,-3.4 1.47,-5.2c.49,-1.8 .98,-5.5 1.47,-5.5c.49,0 .98,.8 1.47,1.2c.49,.4 .98,1.3 1.47,1.3c.49,0 .98,-2.0 1.47,-2.0c.49,0 .98,1.4 1.47,1.4c.49,0 .98,-.9 1.47,-2.6c.49,-1.7 .98,-210.3 1.47,-210.3c.49,0 .98,220.7 1.47,220.7c.49,0 .98,-204.1 1.47,-204.1c.49,0 .98,215.4 1.47,215.4c.49,0 .98,-2.0 1.47,-3.3c.49,-1.3 .98,-2.2 1.47,-4.5c.49,-2.3 .98,-15.4 1.47,-15.4c.49,0 .98,2.3 1.47,3.4c.49,1.1 .98,3.2 1.47,3.2c.49,0 .98,-.5 1.47,-1.4c.49,-.9 .98,-45.5 1.47,-45.5c.49,0 .98,39.7 1.47,44.6c.49,4.9 .98,8.9 1.47,8.9c.49,0 .98,-6.4 1.47,-9.1c.49,-2.8 .98,-7.6 1.47,-7.6c.49,0 .98,14.7 1.47,14.7c.49,0 .98,-5.5 1.47,-6.8c.49,-1.2 .98,-1.2 1.47,-2.6c.49,-1.4 .98,-4.5 1.47,-9.9c.49,-5.5 .98,-47.3 1.47,-47.3c.49,0 .98,52.9 1.47,55.1c.49,2.1 .98,3.2 1.47,3.4c.49,.2 .98,.1 1.47,.3c.49,.2 .98,1.8 1.47,1.8c.49,0 .98,-12.3 1.47,-12.3c.49,0 .98,9.8 1.47,9.8c.49,0 .98,-1.1 1.47,-1.1c.49,0 .98,8.3 1.47,8.3c.49,0 .98,-1.6 1.47,-3.6c.49,-1.9 .98,-16.0 1.47,-16.0c.49,0 .98,18.3 1.47,22.0c.49,3.7 .98,7.4 1.47,7.4c.49,0 .98,-12.0 1.47,-14.2c.49,-2.2 .98,-2.7 1.47,-4.4c.49,-1.7 .98,-6.2 1.47,-6.2c.49,0 .98,19.2 1.47,20.6c.49,1.4 .98,2.4 1.47,2.4c.49,0 .98,-38.5 1.47,-38.5c.49,0 .98,17.0 1.47,20.6c.49,3.7 .98,7.5 1.47,7.5c.49,0 .98,-2.3 1.47,-2.3c.49,0 .98,6.9 1.47,6.9c.49,0 .98,-9.3 1.47,-9.3c.49,0 .98,6.8 1.47,7.1c.49,.4 .98,.6 1.47,.6c.49,0 .98,-24.2 1.47,-24.2c.49,0 .98,18.8 1.47,18.8c.49,0 .98,-36.6 1.47,-36.6c.49,0 .98,42.3 1.47,42.3c.49,0 .98,-.5 1.47,-.7c.49,-.2 .98,-.5 1.47,-.7c.49,-.2 .98,-.2 1.47,-.4c.49,-.3 .98,-10.5 1.47,-10.5c.49,0 .98,21.0 1.47,21.0c.49,0 .98,-7.3 1.47,-7.3c.49,0 .98,3.3 1.47,3.3c.49,0 .98,-6.4 1.47,-6.4c.49,0 .98,8.2 1.47,8.2c.49,0 .98,-10.6 1.47,-25.2c.49,-14.6 .98,-165.6 1.47,-165.6c.49,0 .98,194.5 1.47,194.5c.49,0 .98,-1.0 1.47,-2.1c.49,-1.1 .98,-9.2 1.47,-9.2c.49,0 .98,11.7 1.47,11.7c.49,0 .98,-40.1 1.47,-40.1c.49,0 .98,29.9 1.47,30.9c.49,1.0 .98,.8 1.47,1.6c.49,.8 .98,4.2 1.47,5.6c.49,1.4 .98,3.3 1.47,3.3c.49,0 .98,-19.6 1.47,-19.6c.49,0 .98,11.9 1.47,11.9c.49,0 .98,-7.5 1.47,-7.5c.49,0 .98,7.2 1.47,10.2c.49,3.0 .98,8.2 1.47,8.2c.49,0 .98,-2.2 1.47,-2.9c.49,-.7 .98,-1.8 1.47,-1.8c.49,0 .98,8.7 1.47,8.7c.49,0 .98,-5.6 1.47,-10.7c.49,-5.0 .98,-25.6 1.47,-25.6c.49,0 .98,27.4 1.47,27.4c.49,0 .98,-4.3 1.47,-4.3c.49,0 .98,14.9 1.47,14.9c.49,0 .98,-7.0 1.47,-7.6c.49,-.6 .98,-1.0 1.47,-1.0c.49,0 .98,12.8 1.47,12.8c.49,0 .98,-14.0 1.47,-14.2c.49,-.2 .98,-.2 1.47,-.3c.49,-.1 .98,-.5 1.47,-.5c.49,0 .98,2.2 1.47,4.3c.49,2.1 .98,11.4 1.47,11.4c.49,0 .98,-10.9 1.47,-10.9c.49,0 .98,14.2 1.47,14.2c.49,0 .98,-14.7 1.47,-14.7c.49,0 .98,6.3 1.47,6.3c.49,0 .98,-2.0 1.47,-5.6c.49,-3.6 .98,-176.5 1.47,-176.5c.49,0 .98,190.1 1.47,190.1c.49,0 .98,-11.2 1.47,-11.2c.49,0 .98,4.0 1.47,4.0c.49,0 .98,-.7 1.47,-1.6c.49,-.9 .98,-4.5 1.47,-7.8c.49,-3.4 .98,-14.1 1.47,-14.1c.49,0 .98,4.2 1.47,5.8c.49,1.6 .98,3.9 1.47,3.9c.49,0 .98,-10.5 1.47,-25.8c.49,-15.2 .98,-200.6 1.47,-200.6c.49,0 .98,226.0 1.47,226.0c.49,0 .98,-70.8 1.47,-81.4c.49,-10.6 .98,-19.8 1.47,-19.8c.49,0 .98,32.6 1.47,32.6c.49,0 .98,-5.5 1.47,-5.5c.49,0 .98,16.1 1.47,16.1c.49,0 .98,-8.3 1.47,-8.3c.49,0 .98,3.2 1.47,3.2c.49,0 .98,-1.9 1.47,-3.0c.49,-1.1 .98,-3.6 1.47,-3.6c.49,0 .98,2.7 1.47,2.9c.49,.2 .98,.3 1.47,.3c.49,0 .98,-30.6 1.47,-30.6c.49,0 .98,33.1 1.47,33.1c.49,0 .98,-7.3 1.47,-7.3c.49,0 .98,.6 1.47,1.2c.49,.6 .98,1.4 1.47,2.8c.49,1.4 .98,7.7 1.47,7.7c.49,0 .98,-10.6 1.47,-11.1c.49,-.5 .98,-.8 1.47,-.8c.49,0 .98,2.7 1.47,5.6c.49,2.9 .98,9.1 1.47,18.7c.49,9.5 .98,61.3 1.47,61.3c.49,0 .98,-8.3 1.47,-8.3c.49,0 .98,4.2 1.47,5.1c.49,1.0 .98,2.0 1.47,2.0c.49,0 .98,-.0 1.47,-.0c.49,0 .98,.4 1.47,.8c.49,.4 .98,2.5 1.47,2.5c.49,0 .98,-.7 1.47,-1.4c.49,-.7 .98,-3.8 1.47,-3.8c.49,0 .98,10.6 1.47,10.6c.49,0 .98,-27.8 1.47,-27.8c.49,0 .98,11.4 1.47,14.5c.49,3.1 .98,6.7 1.47,6.7c.49,0 .98,-.0 1.47,-.1c.49,-.0 .98,-2.0 1.47,-3.6c.49,-1.6 .98,-7.3 1.47,-7.3c.49,0 .98,3.1 1.47,3.2c.49,.2 .98,.1 1.47,.3c.49,.2 .98,5.2 1.47,5.2c.49,0 .98,-30.6 1.47,-30.6c.49,0 .98,26.0 1.47,26.0c.49,0 .98,-.1 1.47,-.2c.49,-.2 .98,-1.2 1.47,-3.1c.49,-1.9 .98,-39.3 1.47,-39.3c.49,0 .98,50.4 1.47,50.4c.49,0 .98,-15.5 1.47,-15.5c.49,0 .98,14.2 1.47,14.2c.49,0 .98,-3.6 1.47,-4.9c.49,-1.3 .98,-3.2 1.47,-3.3c.49,-.1 .98,-.0 1.47,-.1c.49,-.1 .98,-4.4 1.47,-4.4c.49,0 .98,9.3 1.47,9.3c.49,0 .98,-22.4 1.47,-22.4c.49,0 .98,14.1 1.47,14.1c.49,0 .98,-70.4 1.47,-70.4c.49,0 .98,78.4 1.47,78.4c.49,0 .98,-31.6 1.47,-31.6c.49,0 .98,24.3 1.47,24.7c.49,.4 .98,.2 1.47,.6c.49,.4 .98,9.9 1.47,9.9c.49,0 .98,-14.1 1.47,-14.1c.49,0 .98,3.2 1.47,3.7c.49,.5 .98,.5 1.47,1.0c.49,.5 .98,3.5 1.47,3.5c.49,0 .98,-8.5 1.47,-8.5c.49,0 .98,10.8 1.47,10.8c.49,0 .98,-42.9 1.47,-42.9c.49,0 .98,26.2 1.47,30.8c.49,4.6 .98,8.8 1.47,8.8c.49,0 .98,-.2 1.47,-.6c.49,-.4 .98,-29.2 1.47,-29.2c.49,0 .98,25.7 1.47,28.0c.49,2.3 .98,3.9 1.47,3.9c.49,0 .98,-30.2 1.47,-30.2c.49,0 .98,27.7 1.47,27.7c.49,0 .98,-18.6 1.47,-18.6c.49,0 .98,13.7 1.47,15.5c.49,1.8 .98,3.3 1.47,3.3c.49,0 .98,-.6 1.47,-1.4c.49,-.8 .98,-8.1 1.47,-8.1c.49,0 .98,6.6 1.47,6.6c.49,0 .98,-2.9 1.47,-4.3c.49,-1.4 .98,-4.0 1.47,-4.0c.49,0 .98,.8 1.47,1.8c.49,1.0 .98,10.5 1.47,10.5c.49,0 .98,-12.0 1.47,-12.0c.49,0 .98,.1 1.47,.3c.49,.2 .98,16.0 1.47,16.0c.49,0 .98,-6.1 1.47,-7.9c.49,-1.8 .98,-4.2 1.47,-4.2c.49,0 .98,14.1 1.47,14.1c.49,0 .98,-20.7 1.47,-21.4c.49,-.7 .98,-.4 1.47,-1.1c.49,-.7 .98,-56.5 1.47,-56.5c.49,0 .98,49.1 1.47,53.2c.49,4.1 .98,7.0 1.47,7.0c.49,0 .98,-.7 1.47,-1.3c.49,-.6 .98,-1.0 1.47,-2.5c.49,-1.5 .98,-27.2 1.47,-27.2c.49,0 .98,6.3 1.47,10.7c.49,4.4 .98,17.1 1.47,17.1c.49,0 .98,-4.6 1.47,-4.6c.49,0 .98,4.6 1.47,4.6c.49,0 .98,-.9 1.47,-1.8c.49,-.9 .98,-4.6 1.47,-4.6c.49,0 .98,8.2 1.47,8.2c.49,0 .98,-11.9 1.47,-11.9c.49,0 .98,7.5 1.47,7.5c.49,0 .98,-1.4 1.47,-3.2c.49,-1.8 .98,-18.2 1.47,-18.2c.49,0 .98,20.0 1.47,20.0c.49,0 .98,-21.7 1.47,-21.7c.49,0 .98,13.1 1.47,17.2c.49,4.1 .98,9.7 1.47,9.7c.49,0 .98,-.2 1.47,-.7c.49,-.4 .98,-25.9 1.47,-25.9c.49,0 .98,27.7 1.47,27.7c.49,0 .98,-.5 1.47,-1.3c.49,-.8 .98,-19.0 1.47,-19.0c.49,0 .98,32.1 1.47,32.1c.49,0 .98,-3.1 1.47,-5.9c.49,-2.8 .98,-14.4 1.47,-14.4c.49,0 .98,5.5 1.47,7.8c.49,2.3 .98,6.2 1.47,6.2c.49,0 .98,-30.0 1.47,-30.0c.49,0 .98,25.9 1.47,25.9c.49,0 .98,-2.6 1.47,-6.3c.49,-3.8 .98,-53.7 1.47,-53.7c.49,0 .98,61.8 1.47,61.8c.49,0 .98,-10.0 1.47,-10.0c.49,0 .98,8.1 1.47,8.1c.49,0 .98,-36.6 1.47,-36.6c.49,0 .98,27.3 1.47,27.3c.49,0 .98,-2.3 1.47,-2.3c.49,0 .98,11.7 1.47,11.7c.49,0 .98,-5.0 1.47,-5.2c.49,-.2 .98,-.3 1.47,-.3c.49,0 .98,6.9 1.47,6.9c.49,0 .98,-8.6 1.47,-8.6c.49,0 .98,7.6 1.47,7.6c.49,0 .98,-3.5 1.47,-4.6c.49,-1.1 .98,-2.6 1.47,-2.6c.49,0 .98,6.8 1.47,6.8c.49,0 .98,-8.8 1.47,-9.1c.49,-.4 .98,-.5 1.47,-.6c.49,-.1 .98,-.2 1.47,-.2c.49,0 .98,13.8 1.47,13.8c.49,0 .98,-8.2 1.47,-8.2c.49,0 .98,3.0 1.47,3.0c.49,0 .98,-2.1 1.47,-2.1c.49,0 .98,5.9 1.47,5.9c.49,0 .98,-8.4 1.47,-8.4c.49,0 .98,5.0 1.47,5.0c.49,0 .98,-49.1 1.47,-49.1c.49,0 .98,44.6 1.47,44.6c.49,0 .98,-1.0 1.47,-2.9c.49,-1.9 .98,-166.3 1.47,-166.3c.49,0 .98,182.4 1.47,182.4c.49,0 .98,-4.6 1.47,-6.6c.49,-2.0 .98,-5.3 1.47,-5.3c.49,0 .98,9.3 1.47,9.3c.49,0 .98,-.8 1.47,-.8c.49,0 .98,2.0 1.47,2.6c.49,.6 .98,1.4 1.47,1.4c.49,0 .98,-13.1 1.47,-13.1c.49,0 .98,1.6 1.47,1.6c.49,0 .98,-.5 1.47,-1.2c.49,-.8 .98,-24.2 1.47,-24.2c.49,0 .98,39.6 1.47,39.6c.49,0 .98,-.5 1.47,-1.2c.49,-.8 .98,-14.6 1.47,-14.6c.49,0 .98,4.1 1.47,7.0c.49,2.8 .98,10.9 1.47,10.9c.49,0 .98,-9.4 1.47,-9.4c.49,0 .98,4.2 1.47,4.2c.49,0 .98,-4.4 1.47,-10.0c.49,-5.6 .98,-51.2 1.47,-51.2c.49,0 .98,31.5 1.47,37.5c.49,6.0 .98,11.9 1.47,11.9c.49,0 .98,-12.6 1.47,-12.6c.49,0 .98,0 1.47,.0c.49,0 .98,-22.7 1.47,-22.7c.49,0 .98,28.2 1.47,28.2c.49,0 .98,-21.5 1.47,-21.5c.49,0 .98,9.8 1.47,10.7c.49,.9 .98,1.6 1.47,1.6c.49,0 .98,-23.3 1.47,-23.3c.49,0 .98,29.5 1.47,29.5c.49,0 .98,-170.1 1.47,-170.1c.49,0 .98,171.8 1.47,171.8c.49,0 .98,-6.2 1.47,-9.2c.49,-2.9 .98,-4.7 1.47,-8.6c.49,-3.9 .98,-18.3 1.47,-18.3c.49,0 .98,40.6 1.47,40.6c.49,0 .98,-9.0 1.47,-9.0c.49,0 .98,9.4 1.47,9.4c.49,0 .98,-2.6 1.47,-2.6c.49,0 .98,.8 1.47,1.4c.49,.6 .98,2.5 1.47,2.5c.49,0 .98,-2.0 1.47,-2.0c.49,0 .98,1.7 1.47,3.0c.49,1.3 .98,5.5 1.47,5.5c.49,0 .98,-8.8 1.47,-8.8c.49,0 .98,4.9 1.47,4.9c.49,0 .98,-21.6 1.47,-21.6c.49,0 .98,21.2 1.47,22.9c.49,1.7 .98,2.9 1.47,2.9c.49,0 .98,-4.3 1.47,-6.3c.49,-1.9 .98,-5.4 1.47,-5.4c.49,0 .98,5.6 1.47,5.6c.49,0 .98,-16.8 1.47,-24.0c.49,-7.2 .98,-19.8 1.47,-19.8c.49,0 .98,32.0 1.47,32.0c.49,0 .98,-36.1 1.47,-36.1c.49,0 .98,44.6 1.47,44.6c.49,0 .98,-1.6 1.47,-2.9c.49,-1.3 .98,-6.4 1.47,-6.4c.49,0 .98,10.9 1.47,10.9c.49,0 .98,-119.9 1.47,-119.9c.49,0 .98,122.4 1.47,122.4c.49,0 .98,-8.5 1.47,-8.5c.49,0 .98,1.8 1.47,1.8c.49,0 .98,-45.9 1.47,-45.9c.49,0 .98,43.5 1.47,43.5c.49,0 .98,-5.6 1.47,-5.6c.49,0 .98,8.2 1.47,8.8c.49,.5 .98,.9 1.47,.9c.49,0 .98,-4.3 1.47,-9.1c.49,-4.9 .98,-36.3 1.47,-36.3c.49,0 .98,45.3 1.47,45.3c.49,0 .98,-.9 1.47,-1.3c.49,-.4 .98,-.4 1.47,-1.3c.49,-.8 .98,-58.3 1.47,-58.3c.49,0 .98,61.2 1.47,61.2c.49,0 .98,-4.5 1.47,-4.5c.49,0 .98,10.3 1.47,10.3c.49,0 .98,-8.4 1.47,-8.4c.49,0 .98,5.5 1.47,6.1c.49,.6 .98,1.1 1.47,1.1c.49,0 .98,-1.6 1.47,-3.3c.49,-1.8 .98,-12.3 1.47,-12.3c.49,0 .98,15.9 1.47,15.9c.49,0 .98,-9.7 1.47,-9.7c.49,0 .98,10.8 1.47,12.4c.49,1.6 .98,3.0 1.47,3.0c.49,0 .98,-44.9 1.47,-44.9c.49,0 .98,43.1 1.47,43.1c.49,0 .98,-.5 1.47,-1.4c.49,-.9 .98,-36.0 1.47,-36.0c.49,0 .98,42.3 1.47,42.3c.49,0 .98,-.2 1.47,-.5c.49,-.3 .98,-219.4 1.47,-219.4c.49,0 .98,202.4 1.47,202.5c.49,.1 .98,.1 1.47,.2c.49,.1 .98,26.2 1.47,26.2c.49,0 .98,-151.9 1.47,-151.9c.49,0 .98,140.7 1.47,140.7c.49,0 .98,-30.4 1.47,-30.4c.49,0 .98,26.4 1.47,26.4c.49,0 .98,-28.5 1.47,-28.5c.49,0 .98,28.6 1.47,28.6c.49,0 .98,-13.9 1.47,-13.9c.49,0 .98,.7 1.47,1.8c.49,1.1 .98,14.1 1.47,15.9c.49,1.8 .98,3.3 1.47,3.3c.49,0 .98,-12.7 1.47,-12.7c.49,0 .98,.2 1.47,.5c.49,.3 .98,8.4 1.47,8.4c.49,0 .98,-.1 1.47,-.3c.49,-.2 .98,-7.8 1.47,-7.8c.49,0 .98,13.7 1.47,14.2c.49,.5 .98,.7 1.47,.7c.49,0 .98,-3.7 1.47,-3.7c.49,0 .98,8.5 1.47,8.5c.49,0 .98,-181.7 1.47,-181.7c.49,0 .98,170.1 1.47,170.1c.49,0 .98,-3.2 1.47,-3.9c.49,-.7 .98,-1.4 1.47,-1.4c.49,0 .98,17.3 1.47,17.3c.49,0 .98,-32.7 1.47,-32.7c.49,0 .98,27.8 1.47,27.8c.49,0 .98,-7.8 1.47,-7.8c.49,0 .98,11.5 1.47,11.5c.49,0 .98,-6.5 1.47,-6.9c.49,-.5 .98,-.3 1.47,-.8c.49,-.5 .98,-4.7 1.47,-12.1c.49,-7.4 .98,-135.4 1.47,-135.4c.49,0 .98,75.1 1.47,75.1c.49,0 .98,-13.0 1.47,-13.0c.49,0 .98,13.7 1.47,13.7c.49,0 .98,-2.1 1.47,-4.6c.49,-2.5 .98,-20.7 1.47,-20.7c.49,0 .98,22.2 1.47,23.5c.49,1.3 .98,2.1 1.47,2.1c.49,0 .98,-28.7 1.47,-28.7c.49,0 .98,28.5 1.47,31.8c.49,3.3 .98,5.9 1.47,5.9c.49,0 .98,-5.4 1.47,-11.0c.49,-5.6 .98,-34.7 1.47,-34.7c.49,0 .98,45.1 1.47,45.1c.49,0 .98,-11.1 1.47,-11.2c.49,-.2 .98,-.2 1.47,-.2c.49,0 .98,5.4 1.47,5.4c.49,0 .98,-9.5 1.47,-9.5c.49,0 .98,4.3 1.47,5.8c.49,1.5 .98,3.7 1.47,3.7c.49,0 .98,-2.8 1.47,-2.8c.49,0 .98,3.2 1.47,3.2c.49,0 .98,-21.5 1.47,-21.5c.49,0 .98,80.5 1.47,85.3c.49,4.9 .98,8.0 1.47,8.0c.49,0 .98,-13.4 1.47,-13.4c.49,0 .98,31.7 1.47,31.7c.49,0 .98,-.1 1.47,-.2c.49,-.1 .98,-8.0 1.47,-8.0c.49,0 .98,13.5 1.47,13.5c.49,0 .98,-10.8 1.47,-10.8c.49,0 .98,4.2 1.47,4.2c.49,0 .98,-182.9 1.47,-182.9c.49,0 .98,158.6 1.47,166.6c.49,7.9 .98,12.8 1.47,12.8c.49,0 .98,-2.2 1.47,-4.3c.49,-2.2 .98,-12.9 1.47,-12.9c.49,0 .98,19.2 1.47,19.2c.49,0 .98,-1.1 1.47,-2.2c.49,-1.1 .98,-6.8 1.47,-6.8c.49,0 .98,4.9 1.47,4.9c.49,0 .98,-.3 1.47,-.6c.49,-.4 .98,-2.9 1.47,-4.8c.49,-1.9 .98,-7.3 1.47,-7.3c.49,0 .98,11.4 1.47,12.6c.49,1.2 .98,2.1 1.47,2.1c.49,0 .98,-2.1 1.47,-2.1c.49,0 .98,1.4 1.47,1.4c.49,0 .98,-11.9 1.47,-11.9c.49,0 .98,8.9 1.47,8.9c.49,0 .98,-15.1 1.47,-15.1c.49,0 .98,.7 1.47,1.3c.49,.6 .98,2.7 1.47,2.7c.49,0 .98,-8.4 1.47,-8.4c.49,0 .98,12.6 1.47,12.6c.49,0 .98,-5.4 1.47,-12.1c.49,-6.7 .98,-57.8 1.47,-57.8c.49,0 .98,72.0 1.47,72.0c.49,0 .98,-11.3 1.47,-11.3c.49,0 .98,3.7 1.47,4.5c.49,.8 .98,1.6 1.47,1.6c.49,0 .98,-14.2 1.47,-18.7c.49,-4.5 .98,-10.4 1.47,-10.4c.49,0 .98,20.8 1.47,24.2c.49,3.4 .98,6.4 1.47,6.4c.49,0 .98,-2.1 1.47,-2.1c.49,0 .98,3.9 1.47,3.9c.49,0 .98,-.3 1.47,-.3c.49,0 .98,6.5 1.47,6.5c.49,0 .98,-2.3 1.47,-3.9c.49,-1.5 .98,-5.7 1.47,-5.7c.49,0 .98,2.5 1.47,2.5c.49,0 .98,-16.3 1.47,-16.3c.49,0 .98,15.2 1.47,15.5c.49,.4 .98,.6 1.47,.6c.49,0 .98,-13.0 1.47,-14.0c.49,-1.0 .98,-1.7 1.47,-1.7c.49,0 .98,15.1 1.47,15.1c.49,0 .98,-3.5 1.47,-3.5c.49,0 .98,.9 1.47,1.3c.49,.4 .98,.4 1.47,1.0c.49,.6 .98,8.3 1.47,8.3c.49,0 .98,-4.7 1.47,-8.2c.49,-3.5 .98,-14.7 1.47,-14.7c.49,0 .98,17.2 1.47,17.2c.49,0 .98,-14.2 1.47,-15.2c.49,-1.0 .98,-1.7 1.47,-1.7c.49,0 .98,22.6 1.47,22.6c.49,0 .98,-27.0 1.47,-27.0c.49,0 .98,19.1 1.47,19.1c.49,0 .98,-16.0 1.47,-16.0c.49,0 .98,18.5 1.47,18.7c.49,.2 .98,.1 1.47,.3c.49,.2 .98,8.1 1.47,8.1c.49,0 .98,-.5 1.47,-1.3c.49,-.8 .98,-10.8 1.47,-10.8c.49,0 .98,1.8 1.47,2.3c.49,.5 .98,1.3 1.47,1.3c.49,0 .98,-4.0 1.47,-4.0c.49,0 .98,7.2 1.47,8.2c.49,1.0 .98,1.8 1.47,1.8c.49,0 .98,-9.8 1.47,-9.8c.49,0 .98,8.6 1.47,8.6c.49,0 .98,-9.3 1.47,-9.3c.49,0 .98,3.4 1.47,3.4c.49,0 .98,-9.7 1.47,-9.7c.49,0 .98,6.5 1.47,6.5c.49,0 .98,-14.0 1.47,-15.5c.49,-1.5 .98,-1.0 1.47,-2.6c.49,-1.6 .98,-39.6 1.47,-39.6c.49,0 .98,47.6 1.47,47.6c.49,0 .98,-6.9 1.47,-6.9c.49,0 .98,10.2 1.47,10.2c.49,0 .98,-2.9 1.47,-2.9c.49,0 .98,2.2 1.47,3.9c.49,1.7 .98,7.5 1.47,7.5c.49,0 .98,-.2 1.47,-.6c.49,-.4 .98,-9.0 1.47,-9.0c.49,0 .98,8.1 1.47,8.1c.49,0 .98,-2.1 1.47,-4.8c.49,-2.7 .98,-26.0 1.47,-26.0c.49,0 .98,27.5 1.47,27.5c.49,0 .98,-.7 1.47,-1.5c.49,-.7 .98,-4.2 1.47,-4.2c.49,0 .98,4.8 1.47,4.8c.49,0 .98,-.4 1.47,-1.0c.49,-.6 .98,-12.0 1.47,-12.0c.49,0 .98,15.2 1.47,15.2c.49,0 .98,-10.9 1.47,-10.9c.49,0 .98,8.8 1.47,8.8c.49,0 .98,-11.8 1.47,-11.8c.49,0 .98,12.5 1.47,12.5c.49,0 .98,-1.2 1.47,-3.1c.49,-1.9 .98,-42.1 1.47,-42.1c.49,0 .98,42.4 1.47,42.4c.49,0 .98,-35.2 1.47,-35.2c.49,0 .98,37.0 1.47,37.0c.49,0 .98,-2.2 1.47,-4.4c.49,-2.2 .98,-13.2 1.47,-13.2c.49,0 .98,11.4 1.47,11.4c.49,0 .98,-11.4 1.47,-15.2c.49,-3.9 .98,-9.3 1.47,-9.3c.49,0 .98,19.0 1.47,23.3c.49,4.3 .98,9.0 1.47,9.0c.49,0 .98,-8.5 1.47,-8.5c.49,0 .98,16.1 1.47,16.1c.49,0 .98,-10.4 1.47,-15.6L1278,859.5 L1278,964 Z"/>
<path id="p1oth" d="M-6,964 L-6,812.4 L0,812.4c.49,.6 .98,1.9 1.47,1.9c.49,0 .98,-14.5 1.47,-14.5c.49,0 .98,15.0 1.47,15.0c.49,0 .98,-6.7 1.47,-9.0c.49,-2.2 .98,-5.4 1.47,-5.4c.49,0 .98,7.4 1.47,9.0c.49,1.5 .98,3.1 1.47,3.1c.49,0 .98,-.0 1.47,-.0c.49,-.0 .98,-22.6 1.47,-22.6c.49,0 .98,13.7 1.47,16.4c.49,2.7 .98,5.3 1.47,5.3c.49,0 .98,-18.2 1.47,-18.2c.49,0 .98,21.3 1.47,21.3c.49,0 .98,-6.7 1.47,-6.7c.49,0 .98,5.3 1.47,5.3c.49,0 .98,-10.4 1.47,-10.4c.49,0 .98,2.3 1.47,3.6c.49,1.4 .98,4.7 1.47,4.7c.49,0 .98,-4.8 1.47,-6.5c.49,-1.7 .98,-4.1 1.47,-4.1c.49,0 .98,6.0 1.47,7.4c.49,1.4 .98,2.9 1.47,2.9c.49,0 .98,-5.3 1.47,-5.3c.49,0 .98,5.2 1.47,5.8c.49,.6 .98,1.0 1.47,1.0c.49,0 .98,-2.1 1.47,-2.1c.49,0 .98,1.9 1.47,1.9c.49,0 .98,-10.5 1.47,-10.5c.49,0 .98,9.7 1.47,9.7c.49,0 .98,-3.3 1.47,-3.7c.49,-.5 .98,-.4 1.47,-.8c.49,-.4 .98,-2.9 1.47,-2.9c.49,0 .98,6.3 1.47,6.3c.49,0 .98,-.1 1.47,-.3c.49,-.2 .98,-1.8 1.47,-1.8c.49,0 .98,1.2 1.47,1.2c.49,0 .98,-9.4 1.47,-9.4c.49,0 .98,19.4 1.47,19.4c.49,0 .98,-.0 1.47,-.0c.49,-.0 .98,-4.1 1.47,-4.6c.49,-.5 .98,-.6 1.47,-.9c.49,-.4 .98,-1.5 1.47,-1.5c.49,0 .98,2.0 1.47,2.0c.49,0 .98,-8.1 1.47,-21.4c.49,-13.3 .98,-302.4 1.47,-302.4c.49,0 .98,323.1 1.47,323.1c.49,0 .98,-5.2 1.47,-6.4c.49,-1.2 .98,-1.9 1.47,-2.4c.49,-.5 .98,-.7 1.47,-1.1c.49,-.4 .98,-1.5 1.47,-1.5c.49,0 .98,7.7 1.47,7.7c.49,0 .98,-7.8 1.47,-7.8c.49,0 .98,4.1 1.47,4.1c.49,0 .98,-3.8 1.47,-3.8c.49,0 .98,2.8 1.47,2.8c.49,0 .98,-18.1 1.47,-18.1c.49,0 .98,11.7 1.47,13.5c.49,1.8 .98,3.5 1.47,3.5c.49,0 .98,-1.2 1.47,-1.2c.49,0 .98,5.9 1.47,5.9c.49,0 .98,-7.3 1.47,-7.3c.49,0 .98,.3 1.47,.3c.49,0 .98,-5.1 1.47,-5.1c.49,0 .98,10.6 1.47,10.6c.49,0 .98,-22.1 1.47,-22.1c.49,0 .98,24.2 1.47,24.2c.49,0 .98,-28.0 1.47,-28.0c.49,0 .98,21.3 1.47,23.5c.49,2.2 .98,3.8 1.47,3.8c.49,0 .98,-1.9 1.47,-3.8c.49,-1.9 .98,-10.6 1.47,-10.6c.49,0 .98,7.4 1.47,7.4c.49,0 .98,-16.9 1.47,-16.9c.49,0 .98,7.0 1.47,10.6c.49,3.6 .98,11.1 1.47,11.1c.49,0 .98,-5.4 1.47,-5.4c.49,0 .98,5.6 1.47,6.3c.49,.6 .98,1.1 1.47,1.1c.49,0 .98,-28.4 1.47,-28.4c.49,0 .98,11.5 1.47,16.2c.49,4.7 .98,12.5 1.47,12.5c.49,0 .98,-4.7 1.47,-4.7c.49,0 .98,6.2 1.47,7.2c.49,.9 .98,1.7 1.47,1.7c.49,0 .98,-6.1 1.47,-6.1c.49,0 .98,3.5 1.47,3.5c.49,0 .98,-3.7 1.47,-4.3c.49,-.7 .98,-.5 1.47,-1.4c.49,-.9 .98,-45.5 1.47,-45.5c.49,0 .98,50.4 1.47,50.4c.49,0 .98,-6.6 1.47,-6.6c.49,0 .98,14.7 1.47,15.7c.49,.9 .98,.8 1.47,1.5c.49,.7 .98,3.9 1.47,3.9c.49,0 .98,-5.9 1.47,-7.6c.49,-1.7 .98,-2.9 1.47,-3.8c.49,-.9 .98,-1.2 1.47,-2.1c.49,-1.0 .98,-4.5 1.47,-4.5c.49,0 .98,6.2 1.47,7.8c.49,1.7 .98,3.7 1.47,3.7c.49,0 .98,-.3 1.47,-.9c.49,-.6 .98,-18.7 1.47,-18.7c.49,0 .98,21.0 1.47,21.0c.49,0 .98,-.9 1.47,-2.2c.49,-1.3 .98,-14.3 1.47,-14.3c.49,0 .98,19.6 1.47,19.6c.49,0 .98,-3.9 1.47,-3.9c.49,0 .98,.5 1.47,1.2c.49,.7 .98,6.6 1.47,6.6c.49,0 .98,-4.4 1.47,-4.4c.49,0 .98,4.3 1.47,4.3c.49,0 .98,-9.3 1.47,-9.3c.49,0 .98,14.4 1.47,14.4c.49,0 .98,-18.7 1.47,-18.7c.49,0 .98,16.9 1.47,16.9c.49,0 .98,-.4 1.47,-.8c.49,-.4 .98,-1.1 1.47,-2.2c.49,-1.1 .98,-7.6 1.47,-7.6c.49,0 .98,3.9 1.47,4.9c.49,.9 .98,1.1 1.47,2.0c.49,.9 .98,3.9 1.47,3.9c.49,0 .98,-15.5 1.47,-15.5c.49,0 .98,4.7 1.47,4.7c.49,0 .98,-18.3 1.47,-18.3c.49,0 .98,26.8 1.47,26.8c.49,0 .98,-3.4 1.47,-3.4c.49,0 .98,3.2 1.47,5.2c.49,2.0 .98,7.2 1.47,7.2c.49,0 .98,-15.6 1.47,-32.0c.49,-16.4 .98,-105.6 1.47,-105.6c.49,0 .98,135.0 1.47,135.0c.49,0 .98,-15.5 1.47,-15.5c.49,0 .98,1.0 1.47,2.3c.49,1.3 .98,16.7 1.47,16.7c.49,0 .98,-3.4 1.47,-8.4c.49,-5.1 .98,-74.4 1.47,-74.4c.49,0 .98,85.3 1.47,85.3c.49,0 .98,-.3 1.47,-.7c.49,-.4 .98,-2.4 1.47,-2.4c.49,0 .98,2.0 1.47,2.0c.49,0 .98,-16.3 1.47,-28.2c.49,-11.9 .98,-48.7 1.47,-48.7c.49,0 .98,22.9 1.47,27.6c.49,4.7 .98,7.7 1.47,9.4c.49,1.7 .98,2.5 1.47,3.5c.49,1.0 .98,2.8 1.47,2.8c.49,0 .98,-7.7 1.47,-7.8c.49,-.1 .98,-.1 1.47,-.1c.49,0 .98,10.4 1.47,11.3c.49,.9 .98,1.6 1.47,1.6c.49,0 .98,-2.6 1.47,-2.8c.49,-.2 .98,-.4 1.47,-.4c.49,0 .98,1.1 1.47,1.1c.49,0 .98,-32.4 1.47,-32.4c.49,0 .98,38.3 1.47,38.5c.49,.3 .98,.4 1.47,.4c.49,0 .98,-6.1 1.47,-7.2c.49,-1.1 .98,-2.2 1.47,-2.2c.49,0 .98,11.3 1.47,11.3c.49,0 .98,-2.4 1.47,-2.4c.49,0 .98,3.2 1.47,3.2c.49,0 .98,-11.5 1.47,-11.5c.49,0 .98,9.6 1.47,15.3c.49,5.7 .98,19.2 1.47,19.2c.49,0 .98,-1.7 1.47,-1.7c.49,0 .98,.2 1.47,.4c.49,.3 .98,6.1 1.47,6.1c.49,0 .98,-1.0 1.47,-1.0c.49,0 .98,2.5 1.47,2.5c.49,0 .98,-6.3 1.47,-7.4c.49,-1.2 .98,-2.0 1.47,-2.3c.49,-.3 .98,-.2 1.47,-.6c.49,-.4 .98,-25.9 1.47,-25.9c.49,0 .98,31.1 1.47,31.1c.49,0 .98,-9.4 1.47,-9.4c.49,0 .98,5.0 1.47,5.0c.49,0 .98,-180.2 1.47,-180.2c.49,0 .98,186.5 1.47,186.5c.49,0 .98,-2.3 1.47,-3.5c.49,-1.1 .98,-2.1 1.47,-3.4c.49,-1.2 .98,-2.4 1.47,-4.2c.49,-1.9 .98,-8.1 1.47,-8.1c.49,0 .98,3.1 1.47,4.3c.49,1.2 .98,1.8 1.47,3.1c.49,1.3 .98,5.8 1.47,5.8c.49,0 .98,-10.9 1.47,-10.9c.49,0 .98,5.1 1.47,5.1c.49,0 .98,-14.2 1.47,-14.2c.49,0 .98,10.9 1.47,10.9c.49,0 .98,-6.1 1.47,-6.1c.49,0 .98,1.5 1.47,2.7c.49,1.1 .98,4.8 1.47,4.8c.49,0 .98,-1.6 1.47,-2.7c.49,-1.1 .98,-1.6 1.47,-4.3c.49,-2.7 .98,-74.6 1.47,-74.6c.49,0 .98,77.6 1.47,78.9c.49,1.3 .98,2.0 1.47,2.0c.49,0 .98,-8.9 1.47,-8.9c.49,0 .98,6.0 1.47,6.9c.49,.9 .98,1.7 1.47,1.7c.49,0 .98,-9.0 1.47,-13.7c.49,-4.7 .98,-14.4 1.47,-14.4c.49,0 .98,27.1 1.47,27.1c.49,0 .98,-7.6 1.47,-7.6c.49,0 .98,2.7 1.47,3.4c.49,.7 .98,1.4 1.47,1.4c.49,0 .98,-13.6 1.47,-13.6c.49,0 .98,25.7 1.47,25.7c.49,0 .98,-12.5 1.47,-12.5c.49,0 .98,1.1 1.47,1.1c.49,0 .98,-12.2 1.47,-12.2c.49,0 .98,13.6 1.47,13.6c.49,0 .98,-9.5 1.47,-9.5c.49,0 .98,14.6 1.47,14.6c.49,0 .98,-6.8 1.47,-6.8c.49,0 .98,1.6 1.47,1.6c.49,0 .98,-27.7 1.47,-27.7c.49,0 .98,21.7 1.47,25.1c.49,3.4 .98,6.4 1.47,6.4c.49,0 .98,-9.7 1.47,-14.3c.49,-4.6 .98,-10.0 1.47,-13.4c.49,-3.4 .98,-8.1 1.47,-8.1c.49,0 .98,29.0 1.47,30.3c.49,1.3 .98,2.1 1.47,2.1c.49,0 .98,-14.9 1.47,-14.9c.49,0 .98,11.4 1.47,11.4c.49,0 .98,-15.8 1.47,-15.8c.49,0 .98,3.2 1.47,5.0c.49,1.8 .98,6.0 1.47,6.0c.49,0 .98,-16.2 1.47,-16.2c.49,0 .98,23.7 1.47,23.7c.49,0 .98,-.4 1.47,-.6c.49,-.2 .98,-.9 1.47,-.9c.49,0 .98,4.0 1.47,4.0c.49,0 .98,-5.0 1.47,-5.7c.49,-.7 .98,-.6 1.47,-1.2c.49,-.6 .98,-4.1 1.47,-4.5c.49,-.4 .98,-.6 1.47,-.6c.49,0 .98,7.8 1.47,7.8c.49,0 .98,-17.5 1.47,-17.5c.49,0 .98,.8 1.47,1.7c.49,.9 .98,7.2 1.47,7.2c.49,0 .98,-3.9 1.47,-3.9c.49,0 .98,9.8 1.47,9.8c.49,0 .98,-2.0 1.47,-2.0c.49,0 .98,3.7 1.47,3.7c.49,0 .98,-5.2 1.47,-9.4c.49,-4.1 .98,-18.1 1.47,-18.1c.49,0 .98,21.1 1.47,21.1c.49,0 .98,-25.1 1.47,-25.1c.49,0 .98,26.3 1.47,27.2c.49,.9 .98,.7 1.47,1.4c.49,.7 .98,4.5 1.47,4.5c.49,0 .98,-2.3 1.47,-2.7c.49,-.4 .98,-.3 1.47,-.8c.49,-.5 .98,-10.2 1.47,-10.2c.49,0 .98,7.9 1.47,7.9c.49,0 .98,-4.8 1.47,-8.6c.49,-3.9 .98,-17.6 1.47,-17.6c.49,0 .98,27.0 1.47,27.0c.49,0 .98,-20.6 1.47,-20.6c.49,0 .98,24.7 1.47,24.7c.49,0 .98,-2.7 1.47,-2.7c.49,0 .98,1.2 1.47,1.2c.49,0 .98,-6.9 1.47,-6.9c.49,0 .98,14.3 1.47,14.3c.49,0 .98,-7.7 1.47,-8.3c.49,-.6 .98,-.4 1.47,-.9c.49,-.6 .98,-8.4 1.47,-8.4c.49,0 .98,8.1 1.47,8.1c.49,0 .98,-2.4 1.47,-2.4c.49,0 .98,8.2 1.47,8.2c.49,0 .98,-2.2 1.47,-4.3c.49,-2.1 .98,-12.6 1.47,-12.6c.49,0 .98,7.8 1.47,7.8c.49,0 .98,-20.4 1.47,-20.4c.49,0 .98,5.6 1.47,5.6c.49,0 .98,-51.8 1.47,-51.8c.49,0 .98,53.1 1.47,53.1c.49,0 .98,-3.5 1.47,-3.5c.49,0 .98,3.4 1.47,3.4c.49,0 .98,-5.0 1.47,-9.7c.49,-4.7 .98,-25.1 1.47,-25.1c.49,0 .98,28.4 1.47,29.9c.49,1.6 .98,2.6 1.47,2.6c.49,0 .98,-11.5 1.47,-11.5c.49,0 .98,.3 1.47,.5c.49,.2 .98,.7 1.47,.7c.49,0 .98,-1.4 1.47,-2.9c.49,-1.5 .98,-10.4 1.47,-10.4c.49,0 .98,10.7 1.47,10.7c.49,0 .98,-4.7 1.47,-4.7c.49,0 .98,3.6 1.47,3.8c.49,.2 .98,.3 1.47,.3c.49,0 .98,-1.2 1.47,-1.2c.49,0 .98,6.2 1.47,6.2c.49,0 .98,-15.8 1.47,-15.8c.49,0 .98,5.6 1.47,5.6c.49,0 .98,-12.5 1.47,-12.5c.49,0 .98,58.8 1.47,68.9c.49,10.2 .98,18.6 1.47,19.6c.49,1.0 .98,.6 1.47,1.6c.49,1.0 .98,15.7 1.47,15.7c.49,0 .98,-14.2 1.47,-16.9c.49,-2.7 .98,-2.6 1.47,-5.3c.49,-2.6 .98,-14.1 1.47,-15.7c.49,-1.6 .98,-1.0 1.47,-2.8c.49,-1.8 .98,-58.1 1.47,-58.1c.49,0 .98,49.6 1.47,56.3c.49,6.7 .98,12.3 1.47,12.3c.49,0 .98,-9.4 1.47,-9.4c.49,0 .98,16.1 1.47,16.1c.49,0 .98,-2.0 1.47,-3.6c.49,-1.5 .98,-6.6 1.47,-6.6c.49,0 .98,14.8 1.47,14.8c.49,0 .98,-3.3 1.47,-5.1c.49,-1.8 .98,-5.6 1.47,-5.7c.49,-.1 .98,-.1 1.47,-.1c.49,0 .98,2.7 1.47,2.7c.49,0 .98,-2.9 1.47,-2.9c.49,0 .98,2.2 1.47,2.2c.49,0 .98,-.8 1.47,-2.3c.49,-1.5 .98,-223.3 1.47,-223.3c.49,0 .98,232.0 1.47,232.0c.49,0 .98,-213.7 1.47,-213.7c.49,0 .98,226.9 1.47,226.9c.49,0 .98,-2.5 1.47,-4.1c.49,-1.6 .98,-2.8 1.47,-5.5c.49,-2.7 .98,-15.5 1.47,-15.5c.49,0 .98,2.4 1.47,3.7c.49,1.3 .98,4.1 1.47,4.1c.49,0 .98,-.3 1.47,-.9c.49,-.6 .98,-48.6 1.47,-48.6c.49,0 .98,40.9 1.47,46.0c.49,5.2 .98,9.3 1.47,9.3c.49,0 .98,-6.1 1.47,-8.8c.49,-2.8 .98,-7.8 1.47,-7.8c.49,0 .98,15.8 1.47,15.8c.49,0 .98,-7.0 1.47,-7.9c.49,-.9 .98,-.7 1.47,-1.6c.49,-.9 .98,-5.3 1.47,-11.5c.49,-6.2 .98,-49.8 1.47,-49.8c.49,0 .98,55.7 1.47,58.1c.49,2.4 .98,3.8 1.47,3.8c.49,0 .98,-.5 1.47,-.5c.49,0 .98,2.4 1.47,2.4c.49,0 .98,-11.6 1.47,-11.6c.49,0 .98,8.7 1.47,8.7c.49,0 .98,-.4 1.47,-.4c.49,0 .98,8.2 1.47,8.2c.49,0 .98,-1.0 1.47,-2.5c.49,-1.5 .98,-17.9 1.47,-17.9c.49,0 .98,20.2 1.47,23.4c.49,3.2 .98,6.0 1.47,6.0c.49,0 .98,-11.8 1.47,-13.7c.49,-1.9 .98,-2.0 1.47,-3.6c.49,-1.5 .98,-6.5 1.47,-6.5c.49,0 .98,20.7 1.47,21.3c.49,.6 .98,1.0 1.47,1.0c.49,0 .98,-40.3 1.47,-40.3c.49,0 .98,18.2 1.47,22.1c.49,3.9 .98,7.9 1.47,7.9c.49,0 .98,-1.8 1.47,-1.8c.49,0 .98,7.9 1.47,7.9c.49,0 .98,-9.7 1.47,-9.7c.49,0 .98,5.0 1.47,6.0c.49,1.1 .98,2.1 1.47,2.1c.49,0 .98,-26.9 1.47,-26.9c.49,0 .98,20.7 1.47,20.7c.49,0 .98,-38.2 1.47,-38.2c.49,0 .98,42.1 1.47,42.8c.49,.7 .98,1.1 1.47,1.1c.49,0 .98,-2.0 1.47,-2.3c.49,-.3 .98,-.2 1.47,-.6c.49,-.4 .98,-10.0 1.47,-10.0c.49,0 .98,22.1 1.47,22.1c.49,0 .98,-6.8 1.47,-6.8c.49,0 .98,2.8 1.47,2.8c.49,0 .98,-7.7 1.47,-7.7c.49,0 .98,8.8 1.47,8.8c.49,0 .98,-10.5 1.47,-25.2c.49,-14.7 .98,-175.3 1.47,-175.3c.49,0 .98,204.8 1.47,204.8c.49,0 .98,-1.5 1.47,-2.9c.49,-1.5 .98,-8.3 1.47,-8.3c.49,0 .98,11.5 1.47,11.5c.49,0 .98,-42.3 1.47,-42.3c.49,0 .98,30.5 1.47,32.2c.49,1.7 .98,1.5 1.47,2.7c.49,1.2 .98,4.5 1.47,5.9c.49,1.4 .98,3.3 1.47,3.3c.49,0 .98,-21.7 1.47,-21.7c.49,0 .98,14.0 1.47,14.0c.49,0 .98,-8.8 1.47,-8.8c.49,0 .98,6.7 1.47,9.9c.49,3.2 .98,9.5 1.47,9.5c.49,0 .98,-2.3 1.47,-2.9c.49,-.7 .98,-1.5 1.47,-1.5c.49,0 .98,7.4 1.47,7.4c.49,0 .98,-4.7 1.47,-9.5c.49,-4.7 .98,-28.1 1.47,-28.1c.49,0 .98,28.2 1.47,28.2c.49,0 .98,-2.9 1.47,-2.9c.49,0 .98,14.6 1.47,14.6c.49,0 .98,-7.9 1.47,-8.3c.49,-.4 .98,-.6 1.47,-.6c.49,0 .98,12.2 1.47,12.2c.49,0 .98,-13.8 1.47,-13.8c.49,0 .98,.5 1.47,.5c.49,0 .98,-.9 1.47,-.9c.49,0 .98,1.8 1.47,3.8c.49,1.9 .98,12.9 1.47,12.9c.49,0 .98,-10.7 1.47,-10.7c.49,0 .98,12.3 1.47,12.3c.49,0 .98,-12.9 1.47,-12.9c.49,0 .98,6.0 1.47,6.0c.49,0 .98,-2.3 1.47,-6.3c.49,-4.1 .98,-185.7 1.47,-185.7c.49,0 .98,198.7 1.47,198.7c.49,0 .98,-9.3 1.47,-9.3c.49,0 .98,3.8 1.47,3.8c.49,0 .98,-.7 1.47,-1.5c.49,-.9 .98,-4.8 1.47,-8.4c.49,-3.6 .98,-15.1 1.47,-15.1c.49,0 .98,3.8 1.47,5.7c.49,1.9 .98,5.7 1.47,5.7c.49,0 .98,-11.2 1.47,-27.3c.49,-16.1 .98,-212.4 1.47,-212.4c.49,0 .98,238.5 1.47,238.5c.49,0 .98,-70.9 1.47,-82.0c.49,-11.1 .98,-20.9 1.47,-20.9c.49,0 .98,34.9 1.47,34.9c.49,0 .98,-6.3 1.47,-6.3c.49,0 .98,15.4 1.47,15.4c.49,0 .98,-7.9 1.47,-7.9c.49,0 .98,3.9 1.47,3.9c.49,0 .98,-3.2 1.47,-4.1c.49,-.9 .98,-1.9 1.47,-1.9c.49,0 .98,.6 1.47,1.1c.49,.5 .98,1.9 1.47,1.9c.49,0 .98,-33.0 1.47,-33.0c.49,0 .98,35.0 1.47,35.0c.49,0 .98,-7.1 1.47,-7.1c.49,0 .98,.6 1.47,1.0c.49,.4 .98,.9 1.47,1.9c.49,1.0 .98,7.8 1.47,7.8c.49,0 .98,-10.1 1.47,-10.5c.49,-.5 .98,-.8 1.47,-.8c.49,0 .98,2.7 1.47,5.5c.49,2.8 .98,8.6 1.47,17.8c.49,9.2 .98,61.8 1.47,61.8c.49,0 .98,-7.3 1.47,-7.3c.49,0 .98,3.0 1.47,3.8c.49,.8 .98,1.8 1.47,1.8c.49,0 .98,-.3 1.47,-.3c.49,0 .98,.9 1.47,1.6c.49,.7 .98,3.1 1.47,3.1c.49,0 .98,-1.3 1.47,-2.1c.49,-.8 .98,-2.5 1.47,-2.5c.49,0 .98,9.8 1.47,9.8c.49,0 .98,-29.6 1.47,-29.6c.49,0 .98,12.0 1.47,15.2c.49,3.3 .98,6.9 1.47,7.2c.49,.3 .98,.4 1.47,.4c.49,0 .98,-1.8 1.47,-3.4c.49,-1.6 .98,-8.4 1.47,-8.4c.49,0 .98,3.7 1.47,4.1c.49,.4 .98,.3 1.47,.6c.49,.4 .98,5.4 1.47,5.4c.49,0 .98,-33.4 1.47,-33.4c.49,0 .98,28.6 1.47,28.6c.49,0 .98,-.5 1.47,-.9c.49,-.4 .98,-.9 1.47,-2.4c.49,-1.5 .98,-41.6 1.47,-41.6c.49,0 .98,51.0 1.47,51.0c.49,0 .98,-14.1 1.47,-14.1c.49,0 .98,14.7 1.47,14.7c.49,0 .98,-5.9 1.47,-6.9c.49,-1.0 .98,-1.4 1.47,-1.9c.49,-.5 .98,-.7 1.47,-1.4c.49,-.7 .98,-4.4 1.47,-4.4c.49,0 .98,10.0 1.47,10.0c.49,0 .98,-22.1 1.47,-22.1c.49,0 .98,13.3 1.47,13.3c.49,0 .98,-74.2 1.47,-74.2c.49,0 .98,82.1 1.47,82.1c.49,0 .98,-32.0 1.47,-32.0c.49,0 .98,26.3 1.47,26.3c.49,0 .98,-.1 1.47,-.1c.49,0 .98,9.4 1.47,9.4c.49,0 .98,-13.2 1.47,-13.2c.49,0 .98,1.9 1.47,2.6c.49,.6 .98,.8 1.47,1.6c.49,.7 .98,3.7 1.47,3.7c.49,0 .98,-7.6 1.47,-7.6c.49,0 .98,9.6 1.47,9.6c.49,0 .98,-44.7 1.47,-44.7c.49,0 .98,28.1 1.47,32.7c.49,4.5 .98,8.5 1.47,8.5c.49,0 .98,-.2 1.47,-.6c.49,-.4 .98,-29.7 1.47,-29.7c.49,0 .98,27.2 1.47,29.6c.49,2.4 .98,4.1 1.47,4.1c.49,0 .98,-32.7 1.47,-32.7c.49,0 .98,28.9 1.47,28.9c.49,0 .98,-18.2 1.47,-18.2c.49,0 .98,13.9 1.47,16.1c.49,2.1 .98,4.0 1.47,4.0c.49,0 .98,-.4 1.47,-1.1c.49,-.6 .98,-9.1 1.47,-9.1c.49,0 .98,7.1 1.47,7.1c.49,0 .98,-4.0 1.47,-5.5c.49,-1.4 .98,-3.6 1.47,-3.6c.49,0 .98,.7 1.47,1.8c.49,1.0 .98,10.7 1.47,10.7c.49,0 .98,-10.7 1.47,-11.5c.49,-.8 .98,-1.3 1.47,-1.3c.49,0 .98,16.2 1.47,16.2c.49,0 .98,-5.8 1.47,-7.5c.49,-1.6 .98,-3.7 1.47,-3.7c.49,0 .98,13.8 1.47,13.8c.49,0 .98,-20.9 1.47,-21.3c.49,-.3 .98,-.2 1.47,-.5c.49,-.3 .98,-61.0 1.47,-61.0c.49,0 .98,51.4 1.47,56.1c.49,4.7 .98,8.1 1.47,8.1c.49,0 .98,-.2 1.47,-.4c.49,-.2 .98,-1.3 1.47,-3.3c.49,-2.0 .98,-27.9 1.47,-27.9c.49,0 .98,6.1 1.47,10.5c.49,4.4 .98,18.1 1.47,18.1c.49,0 .98,-3.9 1.47,-3.9c.49,0 .98,3.6 1.47,3.6c.49,0 .98,-1.6 1.47,-2.7c.49,-1.0 .98,-3.8 1.47,-3.8c.49,0 .98,9.1 1.47,9.1c.49,0 .98,-12.5 1.47,-12.5c.49,0 .98,6.3 1.47,6.3c.49,0 .98,-.7 1.47,-1.9c.49,-1.1 .98,-19.8 1.47,-19.8c.49,0 .98,21.5 1.47,21.5c.49,0 .98,-22.6 1.47,-22.6c.49,0 .98,14.7 1.47,18.5c.49,3.8 .98,8.3 1.47,8.4c.49,0 .98,.1 1.47,.1c.49,0 .98,-27.0 1.47,-27.0c.49,0 .98,27.8 1.47,27.8c.49,0 .98,-.2 1.47,-.5c.49,-.3 .98,-20.4 1.47,-20.4c.49,0 .98,33.3 1.47,33.3c.49,0 .98,-2.7 1.47,-5.3c.49,-2.6 .98,-15.1 1.47,-15.1c.49,0 .98,6.1 1.47,8.4c.49,2.3 .98,5.9 1.47,5.9c.49,0 .98,-30.3 1.47,-30.3c.49,0 .98,26.9 1.47,26.9c.49,0 .98,-2.8 1.47,-7.0c.49,-4.1 .98,-56.7 1.47,-56.7c.49,0 .98,65.1 1.47,65.1c.49,0 .98,-10.8 1.47,-10.8c.49,0 .98,9.7 1.47,9.7c.49,0 .98,-38.4 1.47,-38.4c.49,0 .98,28.7 1.47,28.7c.49,0 .98,-3.2 1.47,-3.2c.49,0 .98,11.6 1.47,11.6c.49,0 .98,-5.3 1.47,-5.3c.49,0 .98,.6 1.47,1.3c.49,.7 .98,5.7 1.47,5.7c.49,0 .98,-7.9 1.47,-7.9c.49,0 .98,6.2 1.47,6.2c.49,0 .98,-3.2 1.47,-3.9c.49,-.8 .98,-1.6 1.47,-1.6c.49,0 .98,5.9 1.47,5.9c.49,0 .98,-7.4 1.47,-8.3c.49,-.9 .98,-1.6 1.47,-1.6c.49,0 .98,0 1.47,.0c.49,0 .98,14.4 1.47,14.4c.49,0 .98,-7.8 1.47,-7.8c.49,0 .98,2.0 1.47,2.0c.49,0 .98,-2.0 1.47,-2.0c.49,0 .98,5.8 1.47,5.8c.49,0 .98,-8.9 1.47,-8.9c.49,0 .98,4.7 1.47,4.7c.49,0 .98,-50.4 1.47,-50.4c.49,0 .98,45.9 1.47,45.9c.49,0 .98,-.9 1.47,-2.6c.49,-1.7 .98,-174.0 1.47,-174.0c.49,0 .98,190.0 1.47,190.0c.49,0 .98,-3.7 1.47,-5.7c.49,-2.0 .98,-6.6 1.47,-6.6c.49,0 .98,11.4 1.47,11.4c.49,0 .98,-2.4 1.47,-2.4c.49,0 .98,2.0 1.47,2.8c.49,.8 .98,1.9 1.47,1.9c.49,0 .98,-14.0 1.47,-14.0c.49,0 .98,1.8 1.47,1.8c.49,0 .98,-.1 1.47,-.3c.49,-.2 .98,-26.0 1.47,-26.0c.49,0 .98,40.8 1.47,40.8c.49,0 .98,-.1 1.47,-.3c.49,-.2 .98,-15.4 1.47,-15.4c.49,0 .98,4.6 1.47,7.7c.49,3.1 .98,11.4 1.47,11.4c.49,0 .98,-10.6 1.47,-10.6c.49,0 .98,3.4 1.47,3.4c.49,0 .98,-3.4 1.47,-8.2c.49,-4.7 .98,-55.0 1.47,-55.0c.49,0 .98,35.1 1.47,40.9c.49,5.9 .98,11.3 1.47,11.3c.49,0 .98,-13.5 1.47,-13.5c.49,0 .98,.8 1.47,.8c.49,0 .98,-24.7 1.47,-24.7c.49,0 .98,30.8 1.47,30.8c.49,0 .98,-23.0 1.47,-23.0c.49,0 .98,9.5 1.47,10.7c.49,1.3 .98,2.3 1.47,2.3c.49,0 .98,-24.3 1.47,-24.3c.49,0 .98,29.9 1.47,29.9c.49,0 .98,-177.9 1.47,-177.9c.49,0 .98,180.4 1.47,180.4c.49,0 .98,-7.4 1.47,-10.5c.49,-3.0 .98,-4.3 1.47,-8.1c.49,-3.8 .98,-18.8 1.47,-18.8c.49,0 .98,41.3 1.47,41.3c.49,0 .98,-8.8 1.47,-8.8c.49,0 .98,9.0 1.47,9.0c.49,0 .98,-1.4 1.47,-1.4c.49,0 .98,.7 1.47,1.3c.49,.6 .98,2.7 1.47,2.7c.49,0 .98,-1.5 1.47,-1.5c.49,0 .98,1.5 1.47,2.6c.49,1.1 .98,4.6 1.47,4.6c.49,0 .98,-7.4 1.47,-7.4c.49,0 .98,3.5 1.47,3.5c.49,0 .98,-21.8 1.47,-21.8c.49,0 .98,21.4 1.47,23.5c.49,2.0 .98,3.5 1.47,3.5c.49,0 .98,-5.4 1.47,-7.6c.49,-2.2 .98,-5.7 1.47,-5.7c.49,0 .98,5.7 1.47,5.7c.49,0 .98,-17.1 1.47,-24.5c.49,-7.4 .98,-20.5 1.47,-20.5c.49,0 .98,35.1 1.47,35.1c.49,0 .98,-39.6 1.47,-39.6c.49,0 .98,47.9 1.47,47.9c.49,0 .98,-1.6 1.47,-2.9c.49,-1.4 .98,-6.7 1.47,-6.7c.49,0 .98,10.0 1.47,10.0c.49,0 .98,-124.8 1.47,-124.8c.49,0 .98,128.7 1.47,128.7c.49,0 .98,-10.3 1.47,-10.3c.49,0 .98,3.7 1.47,3.7c.49,0 .98,-49.5 1.47,-49.5c.49,0 .98,47.0 1.47,47.0c.49,0 .98,-5.8 1.47,-5.8c.49,0 .98,7.8 1.47,8.4c.49,.6 .98,1.0 1.47,1.0c.49,0 .98,-5.0 1.47,-10.4c.49,-5.4 .98,-37.6 1.47,-37.6c.49,0 .98,46.4 1.47,46.7c.49,.3 .98,.5 1.47,.5c.49,0 .98,-.9 1.47,-2.6c.49,-1.6 .98,-60.9 1.47,-60.9c.49,0 .98,64.9 1.47,64.9c.49,0 .98,-5.8 1.47,-5.8c.49,0 .98,10.8 1.47,10.8c.49,0 .98,-8.2 1.47,-8.2c.49,0 .98,5.5 1.47,6.3c.49,.8 .98,1.4 1.47,1.4c.49,0 .98,-1.8 1.47,-3.8c.49,-2.0 .98,-14.3 1.47,-14.3c.49,0 .98,18.0 1.47,18.0c.49,0 .98,-10.1 1.47,-10.1c.49,0 .98,10.2 1.47,12.2c.49,2.0 .98,3.9 1.47,3.9c.49,0 .98,-47.6 1.47,-47.6c.49,0 .98,44.3 1.47,44.3c.49,0 .98,-.5 1.47,-1.4c.49,-.9 .98,-37.0 1.47,-37.0c.49,0 .98,43.4 1.47,43.9c.49,.5 .98,.7 1.47,.7c.49,0 .98,-232.0 1.47,-232.0c.49,0 .98,214.6 1.47,214.6c.49,0 .98,-.6 1.47,-.6c.49,0 .98,26.6 1.47,26.6c.49,0 .98,-158.3 1.47,-158.3c.49,0 .98,147.8 1.47,147.8c.49,0 .98,-31.6 1.47,-31.6c.49,0 .98,27.0 1.47,27.0c.49,0 .98,-29.9 1.47,-29.9c.49,0 .98,28.8 1.47,28.8c.49,0 .98,-14.2 1.47,-14.2c.49,0 .98,1.3 1.47,3.1c.49,1.7 .98,16.2 1.47,17.0c.49,.9 .98,1.4 1.47,1.4c.49,0 .98,-11.1 1.47,-11.4c.49,-.3 .98,-.4 1.47,-.4c.49,0 .98,9.0 1.47,9.1c.49,0 .98,.1 1.47,.1c.49,0 .98,-9.8 1.47,-9.8c.49,0 .98,15.8 1.47,15.8c.49,0 .98,-.2 1.47,-.5c.49,-.3 .98,-2.0 1.47,-2.0c.49,0 .98,7.2 1.47,7.2c.49,0 .98,-190.7 1.47,-190.7c.49,0 .98,180.1 1.47,180.1c.49,0 .98,-2.6 1.47,-3.8c.49,-1.1 .98,-3.1 1.47,-3.1c.49,0 .98,19.2 1.47,19.2c.49,0 .98,-34.4 1.47,-34.4c.49,0 .98,29.8 1.47,29.8c.49,0 .98,-8.8 1.47,-8.8c.49,0 .98,10.5 1.47,10.5c.49,0 .98,-7.2 1.47,-7.2c.49,-.1 .98,-.0 1.47,-.1c.49,-.1 .98,-4.5 1.47,-11.6c.49,-7.2 .98,-140.0 1.47,-140.0c.49,0 .98,79.6 1.47,79.6c.49,0 .98,-14.3 1.47,-14.3c.49,0 .98,15.5 1.47,15.5c.49,0 .98,-2.4 1.47,-5.1c.49,-2.7 .98,-21.0 1.47,-21.0c.49,0 .98,23.6 1.47,24.1c.49,.6 .98,.9 1.47,.9c.49,0 .98,-28.1 1.47,-28.1c.49,0 .98,30.1 1.47,33.1c.49,3.0 .98,5.2 1.47,5.2c.49,0 .98,-6.1 1.47,-12.2c.49,-6.0 .98,-35.4 1.47,-35.4c.49,0 .98,47.5 1.47,47.5c.49,0 .98,-12.2 1.47,-12.2c.49,-.0 .98,-.1 1.47,-.1c.49,0 .98,5.9 1.47,5.9c.49,0 .98,-10.8 1.47,-10.8c.49,0 .98,4.2 1.47,6.1c.49,1.9 .98,5.1 1.47,5.1c.49,0 .98,-3.8 1.47,-3.8c.49,0 .98,3.5 1.47,3.5c.49,0 .98,-21.5 1.47,-21.5c.49,0 .98,81.3 1.47,85.8c.49,4.5 .98,7.4 1.47,7.4c.49,0 .98,-13.7 1.47,-13.7c.49,0 .98,32.2 1.47,32.3c.49,.1 .98,.2 1.47,.2c.49,0 .98,-8.6 1.47,-8.6c.49,0 .98,12.7 1.47,12.7c.49,0 .98,-10.7 1.47,-10.7c.49,0 .98,5.6 1.47,5.6c.49,0 .98,-192.8 1.47,-192.8c.49,0 .98,167.8 1.47,176.0c.49,8.3 .98,13.3 1.47,13.3c.49,0 .98,-3.1 1.47,-5.8c.49,-2.7 .98,-13.3 1.47,-13.3c.49,0 .98,20.1 1.47,20.1c.49,0 .98,-1.3 1.47,-2.4c.49,-1.1 .98,-5.6 1.47,-5.6c.49,0 .98,4.6 1.47,4.6c.49,0 .98,-.4 1.47,-.9c.49,-.5 .98,-2.3 1.47,-4.2c.49,-1.8 .98,-7.8 1.47,-7.8c.49,0 .98,10.6 1.47,12.2c.49,1.5 .98,2.9 1.47,2.9c.49,0 .98,-1.8 1.47,-1.8c.49,0 .98,1.1 1.47,1.1c.49,0 .98,-12.0 1.47,-12.0c.49,0 .98,8.4 1.47,8.4c.49,0 .98,-15.8 1.47,-15.8c.49,0 .98,2.0 1.47,2.9c.49,.9 .98,2.5 1.47,2.5c.49,0 .98,-8.5 1.47,-8.5c.49,0 .98,11.7 1.47,11.7c.49,0 .98,-4.7 1.47,-11.0c.49,-6.2 .98,-62.7 1.47,-62.7c.49,0 .98,75.5 1.47,75.5c.49,0 .98,-9.7 1.47,-9.7c.49,0 .98,4.2 1.47,4.2c.49,0 .98,-.0 1.47,-.0c.49,-.0 .98,-13.6 1.47,-18.2c.49,-4.7 .98,-11.3 1.47,-11.3c.49,0 .98,22.2 1.47,25.5c.49,3.3 .98,6.2 1.47,6.2c.49,0 .98,-1.8 1.47,-1.8c.49,0 .98,4.1 1.47,4.1c.49,0 .98,-1.6 1.47,-1.6c.49,0 .98,7.1 1.47,7.1c.49,0 .98,-2.6 1.47,-4.2c.49,-1.6 .98,-5.3 1.47,-5.3c.49,0 .98,3.4 1.47,3.4c.49,0 .98,-18.5 1.47,-18.5c.49,0 .98,16.9 1.47,17.2c.49,.3 .98,.4 1.47,.4c.49,0 .98,-12.9 1.47,-13.9c.49,-1.1 .98,-1.8 1.47,-1.8c.49,0 .98,14.1 1.47,14.1c.49,0 .98,-1.7 1.47,-1.7c.49,0 .98,.8 1.47,1.0c.49,.1 .98,.1 1.47,.2c.49,.2 .98,7.5 1.47,7.5c.49,0 .98,-3.5 1.47,-6.6c.49,-3.1 .98,-16.0 1.47,-16.0c.49,0 .98,19.0 1.47,19.0c.49,0 .98,-14.0 1.47,-16.0c.49,-2.0 .98,-3.6 1.47,-3.6c.49,0 .98,24.3 1.47,24.3c.49,0 .98,-27.0 1.47,-27.0c.49,0 .98,18.1 1.47,18.1c.49,0 .98,-15.4 1.47,-15.4c.49,0 .98,19.2 1.47,19.5c.49,.3 .98,.2 1.47,.5c.49,.3 .98,7.9 1.47,7.9c.49,0 .98,-1.3 1.47,-2.7c.49,-1.4 .98,-10.5 1.47,-10.5c.49,0 .98,2.8 1.47,3.5c.49,.7 .98,1.5 1.47,1.5c.49,0 .98,-4.0 1.47,-4.0c.49,0 .98,5.8 1.47,7.1c.49,1.4 .98,2.9 1.47,2.9c.49,0 .98,-9.6 1.47,-9.6c.49,0 .98,8.8 1.47,8.8c.49,0 .98,-10.0 1.47,-10.0c.49,0 .98,2.9 1.47,2.9c.49,0 .98,-8.7 1.47,-8.7c.49,0 .98,5.5 1.47,5.5c.49,0 .98,-15.7 1.47,-16.3c.49,-.6 .98,-.3 1.47,-.9c.49,-.6 .98,-41.8 1.47,-41.8c.49,0 .98,49.2 1.47,49.2c.49,0 .98,-6.6 1.47,-6.6c.49,0 .98,10.3 1.47,10.3c.49,0 .98,-4.6 1.47,-4.6c.49,0 .98,3.6 1.47,5.7c.49,2.1 .98,7.1 1.47,7.1c.49,0 .98,-.8 1.47,-1.7c.49,-.9 .98,-7.5 1.47,-7.5c.49,0 .98,6.2 1.47,6.2c.49,0 .98,-1.9 1.47,-4.3c.49,-2.5 .98,-25.9 1.47,-25.9c.49,0 .98,28.3 1.47,28.3c.49,0 .98,-1.1 1.47,-2.0c.49,-.9 .98,-4.2 1.47,-4.2c.49,0 .98,4.4 1.47,4.4c.49,0 .98,-.3 1.47,-.9c.49,-.5 .98,-12.9 1.47,-12.9c.49,0 .98,16.2 1.47,16.2c.49,0 .98,-10.5 1.47,-10.5c.49,0 .98,7.9 1.47,7.9c.49,0 .98,-12.1 1.47,-12.1c.49,0 .98,13.3 1.47,13.3c.49,0 .98,-1.1 1.47,-2.9c.49,-1.8 .98,-43.8 1.47,-43.8c.49,0 .98,44.0 1.47,44.0c.49,0 .98,-35.6 1.47,-35.6c.49,0 .98,37.0 1.47,37.0c.49,0 .98,-1.2 1.47,-2.8c.49,-1.6 .98,-15.8 1.47,-15.8c.49,0 .98,14.1 1.47,14.1c.49,0 .98,-13.3 1.47,-17.2c.49,-3.9 .98,-8.9 1.47,-8.9c.49,0 .98,19.2 1.47,23.8c.49,4.6 .98,9.8 1.47,9.8c.49,0 .98,-8.8 1.47,-8.8c.49,0 .98,16.6 1.47,16.6c.49,0 .98,-11.0 1.47,-16.6L1278,854.8 L1278,964 Z"/>
</defs>
<g clip-path="url(#cp1)">
<rect x="0" y="0" width="1272" height="958" fill="#475841"/>
<use href="#p1oth" fill="#381f39"/>
<use href="#p1irq" fill="#6e4427"/>
<use href="#p1iow" fill="#441c1a"/>
<use href="#p1usr" fill="#1c2b43"/>
<use href="#p1sys" fill="#695b35"/>
</g>
<path d="M0,958.5H1272M0,862.5H1272M0,766.5H1272M0,671.5H1272M0,575.5H1272M0,479.5H1272M0,383.5H1272M0,287.5H1272M0,192.5H1272M0,96.5H1272M0,0.5H1272M136.5,0V967M348.5,0V967M560.5,0V967M772.5,0V967M984.5,0V967M1196.5,0V967" stroke="rgba(235,245,255,0.08)" stroke-width="1" fill="none" shape-rendering="crispEdges"/>
<g clip-path="url(#cp1)" fill="none" stroke-linejoin="round">
<use href="#p1sys" stroke="#e2bc57" stroke-width="1.8"/>
<use href="#p1usr" stroke="#23508d" stroke-width="1.5"/>
<use href="#p1iow" stroke="#8c2416" stroke-width="1.4"/>
<use href="#p1irq" stroke="#cc622b" stroke-width="1.0"/>
<use href="#p1oth" stroke="#723c6d" stroke-width="1.65"/>
<path d="M0,0H1272" stroke="#8bb374" stroke-width="2.4"/>
</g>
</svg>
<div class="t yl" style="left:1549.2px;top:1070.9px;font-size:24px;line-height:24px;transform:scaleX(1.0551);transform-origin:0 0;">0%</div>
<div class="t yl" style="left:1539.3px;top:975.1px;font-size:24px;line-height:24px;transform:scaleX(0.9678);transform-origin:0 0;">10%</div>
<div class="t yl" style="left:1533.6px;top:879.3px;font-size:24px;line-height:24px;transform:scaleX(1.0864);transform-origin:0 0;">20%</div>
<div class="t yl" style="left:1534.0px;top:783.5px;font-size:24px;line-height:24px;transform:scaleX(1.0781);transform-origin:0 0;">30%</div>
<div class="t yl" style="left:1533.2px;top:687.7px;font-size:24px;line-height:24px;transform:scaleX(1.0948);transform-origin:0 0;">40%</div>
<div class="t yl" style="left:1534.1px;top:591.9px;font-size:24px;line-height:24px;transform:scaleX(1.0760);transform-origin:0 0;">50%</div>
<div class="t yl" style="left:1533.8px;top:496.1px;font-size:24px;line-height:24px;transform:scaleX(1.0823);transform-origin:0 0;">60%</div>
<div class="t yl" style="left:1534.9px;top:400.3px;font-size:24px;line-height:24px;transform:scaleX(1.0594);transform-origin:0 0;">70%</div>
<div class="t yl" style="left:1533.9px;top:304.5px;font-size:24px;line-height:24px;transform:scaleX(1.0802);transform-origin:0 0;">80%</div>
<div class="t yl" style="left:1534.1px;top:208.7px;font-size:24px;line-height:24px;transform:scaleX(1.0760);transform-origin:0 0;">90%</div>
<div class="t yl" style="left:1523.6px;top:112.9px;font-size:24px;line-height:24px;transform:scaleX(1.0132);transform-origin:0 0;">100%</div>
<div class="t xl" style="left:1660.4px;top:1100.7px;font-size:24px;line-height:24px;transform:scaleX(1.1373);transform-origin:0 0;">02/27 00:00</div>
<div class="t xl" style="left:1875.7px;top:1100.7px;font-size:24px;line-height:24px;transform:scaleX(1.0860);transform-origin:0 0;">02/27 12:00</div>
<div class="t xl" style="left:2084.0px;top:1100.7px;font-size:24px;line-height:24px;transform:scaleX(1.1436);transform-origin:0 0;">02/28 00:00</div>
<div class="t xl" style="left:2299.2px;top:1100.7px;font-size:24px;line-height:24px;transform:scaleX(1.0939);transform-origin:0 0;">02/28 12:00</div>
<div class="t xl" style="left:2510.2px;top:1100.7px;font-size:24px;line-height:24px;transform:scaleX(1.1081);transform-origin:0 0;">03/01 00:00</div>
<div class="t xl" style="left:2725.2px;top:1100.7px;font-size:24px;line-height:24px;transform:scaleX(1.0623);transform-origin:0 0;">03/01 12:00</div>
<div class="pill" style="left:1524.0px;top:1159px;background:#e0ba55"></div>
<div class="t lg" style="left:1567.6px;top:1150.7px;font-size:24px;line-height:24px;transform:scaleX(1.0675);transform-origin:0 0;">Busy System</div>
<div class="pill" style="left:1738.0px;top:1159px;background:#1f437a"></div>
<div class="t lg" style="left:1781.6px;top:1150.7px;font-size:24px;line-height:24px;transform:scaleX(1.0749);transform-origin:0 0;">Busy User</div>
<div class="pill" style="left:1920.9px;top:1159px;background:#841e13"></div>
<div class="t lg" style="left:1964.6px;top:1150.7px;font-size:24px;line-height:24px;transform:scaleX(1.0813);transform-origin:0 0;">Busy Iowait</div>
<div class="pill" style="left:2117.2px;top:1159px;background:#ed8134"></div>
<div class="t lg" style="left:2161.1px;top:1150.7px;font-size:24px;line-height:24px;transform:scaleX(1.0287);transform-origin:0 0;">Busy IRQs</div>
<div class="pill" style="left:2298.9px;top:1159px;background:#65265f"></div>
<div class="t lg" style="left:2343.3px;top:1150.7px;font-size:24px;line-height:24px;transform:scaleX(1.0729);transform-origin:0 0;">Busy Other</div>
<div class="pill" style="left:2491.9px;top:1159px;background:#8bb374"></div>
<div class="t lg" style="left:2536.3px;top:1150.7px;font-size:24px;line-height:24px;transform:scaleX(1.0593);transform-origin:0 0;">Idle</div>
<div id="shadow"></div>
</body></html>
